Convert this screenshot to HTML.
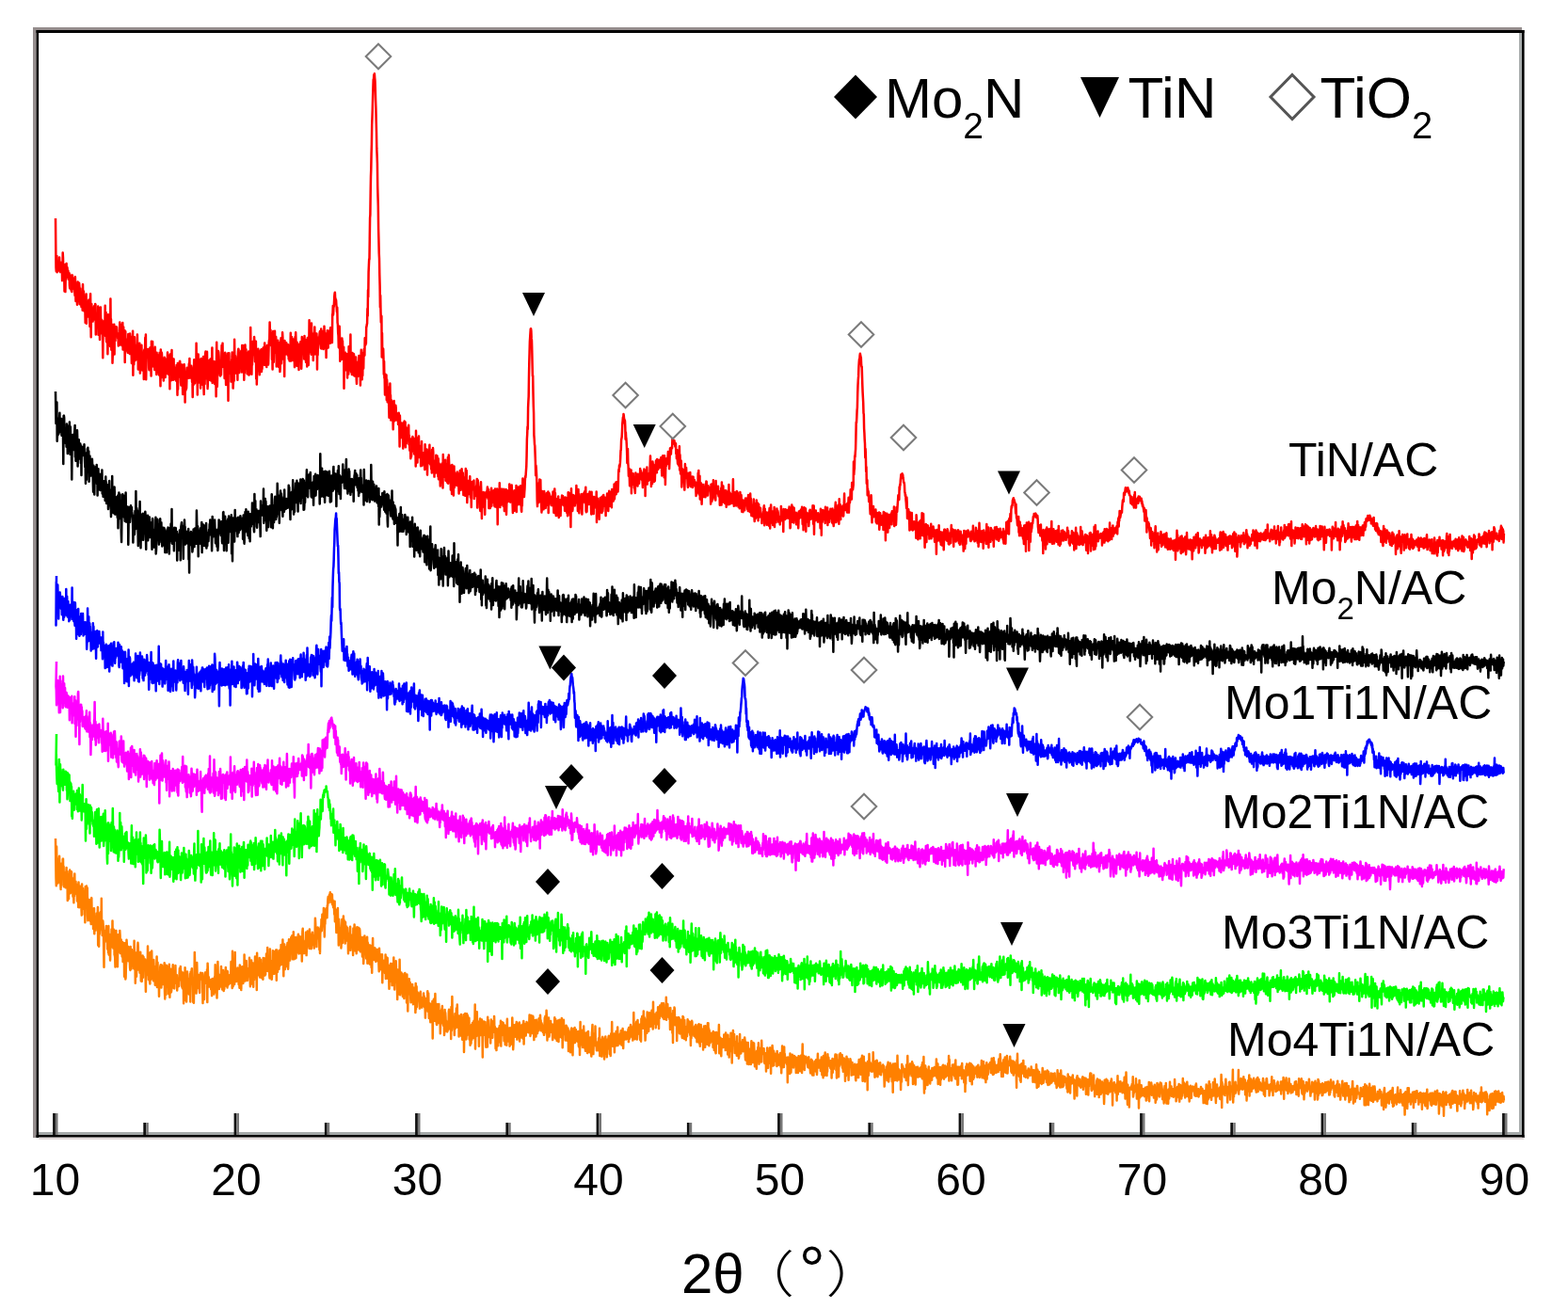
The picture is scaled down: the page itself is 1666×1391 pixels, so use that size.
<!DOCTYPE html>
<html><head><meta charset="utf-8"><title>XRD</title><style>html,body{margin:0;padding:0;background:#fff;overflow:hidden;width:1666px;height:1391px}svg{display:block}</style></head><body>
<svg width="1666" height="1391" viewBox="0 0 1666 1391">
<rect width="1666" height="1391" fill="#fff"/>
<path d="M59.0 232.0 59.5 284.3 59.8 288.4 60.1 285.6 60.4 271.9 60.7 289.3 61.0 285.4 61.3 277.6 61.6 286.8 61.9 285.2 62.2 284.8 62.5 282.6 62.8 287.4 63.1 273.6 63.4 282.0 63.7 279.8 64.0 289.1 64.3 284.7 64.6 282.4 64.9 279.0 65.2 283.4 65.5 285.9 65.8 284.0 66.1 298.2 66.4 295.8 66.7 268.5 67.0 273.8 67.3 286.7 67.6 285.0 67.9 290.7 68.2 291.1 68.5 309.6 68.8 281.3 69.1 287.3 69.4 310.1 69.7 296.9 70.0 297.5 70.3 287.9 70.6 280.0 70.9 294.4 71.2 294.4 71.5 284.3 71.8 288.8 72.1 293.6 72.4 287.8 72.7 295.0 73.0 297.2 73.3 297.1 73.6 290.3 73.9 303.1 74.2 306.4 74.5 303.0 74.8 292.6 75.1 306.3 75.4 296.0 75.7 308.7 76.0 292.5 76.3 310.1 76.6 302.0 76.9 292.6 77.2 298.5 77.5 304.1 77.8 306.5 78.1 296.5 78.4 296.0 78.7 307.3 79.0 302.0 79.3 308.6 79.6 314.0 79.9 294.3 80.2 310.2 80.5 320.0 80.8 306.3 81.1 302.5 81.4 316.8 81.7 312.5 82.0 323.8 82.3 308.2 82.6 299.6 82.9 311.2 83.2 308.7 83.5 320.3 83.8 315.3 84.1 300.8 84.4 304.5 84.7 323.3 85.0 321.8 85.3 306.6 85.6 316.3 85.9 323.1 86.2 321.6 86.5 326.1 86.8 320.5 87.1 317.7 87.4 316.7 87.7 329.7 88.0 302.2 88.3 319.1 88.6 321.2 88.9 309.4 89.2 324.9 89.5 316.5 89.8 331.0 90.1 322.0 90.4 330.0 90.7 343.0 91.0 328.1 91.3 317.2 91.6 312.6 91.9 343.8 92.2 325.2 92.5 320.6 92.8 328.5 93.1 325.9 93.4 336.4 93.7 328.7 94.0 328.8 94.3 318.8 94.6 334.4 94.9 321.2 95.2 337.3 95.5 346.9 95.8 318.6 96.1 312.3 96.4 338.6 96.7 358.2 97.0 324.6 97.3 322.9 97.6 340.2 97.9 327.2 98.2 330.6 98.5 332.5 98.8 341.4 99.1 332.9 99.4 339.8 99.7 335.9 100.0 325.3 100.3 335.4 100.6 330.2 100.9 339.2 101.2 323.1 101.5 323.8 101.8 355.5 102.1 339.4 102.4 339.7 102.7 346.2 103.0 337.5 103.3 339.6 103.6 346.2 103.9 345.0 104.2 325.5 104.5 355.8 104.8 337.5 105.1 333.7 105.4 335.2 105.7 340.0 106.0 361.1 106.3 326.9 106.6 345.9 106.9 326.6 107.2 344.8 107.5 354.2 107.8 341.4 108.1 339.7 108.4 349.1 108.7 353.1 109.0 352.9 109.3 380.2 109.6 348.8 109.9 341.5 110.2 344.9 110.5 346.8 110.8 348.8 111.1 347.7 111.4 349.9 111.7 324.8 112.0 357.1 112.3 343.5 112.6 331.9 112.9 359.3 113.2 363.4 113.5 357.4 113.8 351.7 114.1 341.8 114.4 376.3 114.7 359.8 115.0 334.3 115.3 344.1 115.6 352.5 115.9 338.1 116.2 353.6 116.5 347.9 116.8 365.2 117.1 368.1 117.4 317.4 117.7 353.5 118.0 339.3 118.3 371.7 118.6 355.5 118.9 362.6 119.2 344.7 119.5 385.8 119.8 376.8 120.1 345.4 120.4 359.0 120.7 349.3 121.0 355.6 121.3 344.7 121.6 376.5 121.9 347.7 122.2 351.9 122.5 362.0 122.8 347.2 123.1 355.2 123.4 352.4 123.7 356.7 124.0 347.6 124.3 354.3 124.6 356.7 124.9 355.8 125.2 359.8 125.5 356.7 125.8 367.4 126.1 354.7 126.4 357.7 126.7 354.2 127.0 352.4 127.3 342.4 127.6 366.4 127.9 344.5 128.2 354.8 128.5 365.5 128.8 366.2 129.1 358.6 129.4 345.4 129.7 367.2 130.0 365.8 130.3 342.9 130.6 371.6 130.9 353.1 131.2 347.4 131.5 365.4 131.8 363.0 132.1 366.9 132.4 351.0 132.7 385.1 133.0 360.0 133.3 352.3 133.6 372.5 133.9 360.6 134.2 369.9 134.5 363.7 134.8 366.6 135.1 369.9 135.4 360.7 135.7 374.8 136.0 363.7 136.3 355.1 136.6 369.4 136.9 373.4 137.2 366.9 137.5 361.4 137.8 376.0 138.1 354.5 138.4 360.7 138.7 370.7 139.0 358.4 139.3 371.0 139.6 369.9 139.9 385.9 140.2 357.7 140.5 366.0 140.8 375.5 141.1 351.8 141.4 398.8 141.7 366.3 142.0 366.3 142.3 387.3 142.6 373.2 142.9 358.3 143.2 380.5 143.5 383.2 143.8 370.2 144.1 372.0 144.4 379.9 144.7 366.7 145.0 382.1 145.3 377.5 145.6 369.3 145.9 355.4 146.2 373.8 146.5 368.0 146.8 392.6 147.1 377.8 147.4 384.6 147.7 378.0 148.0 379.4 148.3 364.8 148.6 383.9 148.9 396.6 149.2 374.3 149.5 371.8 149.8 376.0 150.1 373.0 150.4 366.8 150.7 379.3 151.0 375.2 151.3 393.6 151.6 377.9 151.9 381.7 152.2 388.5 152.5 375.8 152.8 403.1 153.1 372.9 153.4 371.4 153.7 375.6 154.0 377.1 154.3 358.8 154.6 379.2 154.9 355.6 155.2 403.3 155.5 379.1 155.8 374.0 156.1 371.7 156.4 376.6 156.7 376.6 157.0 370.9 157.3 372.1 157.6 379.0 157.9 375.9 158.2 390.9 158.5 393.3 158.8 381.5 159.1 386.3 159.4 369.4 159.7 388.3 160.0 381.5 160.3 386.9 160.6 399.5 160.9 362.7 161.2 385.0 161.5 365.8 161.8 388.7 162.1 363.1 162.4 378.1 162.7 385.0 163.0 389.4 163.3 384.1 163.6 375.8 163.9 378.2 164.2 392.9 164.5 383.3 164.8 368.8 165.1 392.8 165.4 388.4 165.7 393.4 166.0 381.1 166.3 398.0 166.6 374.8 166.9 393.8 167.2 377.0 167.5 392.0 167.8 395.8 168.1 378.3 168.4 384.9 168.7 385.9 169.0 398.4 169.3 393.3 169.6 374.7 169.9 390.8 170.2 394.0 170.5 410.3 170.8 371.5 171.1 381.5 171.4 401.2 171.7 374.5 172.0 376.0 172.3 392.6 172.6 398.2 172.9 381.1 173.2 396.2 173.5 388.9 173.8 404.5 174.1 388.0 174.4 398.7 174.7 379.8 175.0 386.6 175.3 387.6 175.6 400.9 175.9 394.9 176.2 381.8 176.5 396.2 176.8 397.3 177.1 388.3 177.4 387.0 177.7 386.2 178.0 374.6 178.3 391.9 178.6 393.5 178.9 382.0 179.2 398.1 179.5 377.9 179.8 385.3 180.1 386.1 180.4 413.2 180.7 376.5 181.0 397.0 181.3 401.3 181.6 395.3 181.9 404.3 182.2 382.3 182.5 372.1 182.8 400.0 183.1 381.0 183.4 386.8 183.7 381.4 184.0 403.8 184.3 401.8 184.6 381.4 184.9 402.5 185.2 394.3 185.5 391.8 185.8 393.9 186.1 391.5 186.4 403.5 186.7 396.9 187.0 390.4 187.3 404.7 187.6 388.1 187.9 397.0 188.2 400.8 188.5 419.8 188.8 386.0 189.1 413.7 189.4 396.2 189.7 391.0 190.0 387.9 190.3 400.6 190.6 394.9 190.9 384.1 191.2 383.9 191.5 389.1 191.8 388.0 192.1 406.3 192.4 409.6 192.7 403.8 193.0 400.1 193.3 387.5 193.6 395.1 193.9 404.1 194.2 418.9 194.5 409.9 194.8 391.9 195.1 395.1 195.4 390.0 195.7 387.2 196.0 392.9 196.3 396.8 196.6 427.4 196.9 395.3 197.2 409.7 197.5 414.6 197.8 395.6 198.1 412.7 198.4 402.4 198.7 390.8 199.0 398.9 199.3 395.1 199.6 390.8 199.9 392.9 200.2 396.9 200.5 401.8 200.8 386.5 201.1 394.9 201.4 381.0 201.7 397.7 202.0 401.6 202.3 396.7 202.6 398.0 202.9 401.3 203.2 388.7 203.5 391.0 203.8 400.4 204.1 405.9 204.4 399.2 204.7 422.0 205.0 394.3 205.3 405.9 205.6 409.0 205.9 393.9 206.2 382.3 206.5 384.2 206.8 396.9 207.1 407.2 207.4 398.0 207.7 397.7 208.0 391.5 208.3 404.1 208.6 364.8 208.9 398.5 209.2 395.3 209.5 382.3 209.8 419.6 210.1 382.1 210.4 384.6 210.7 376.4 211.0 406.5 211.3 386.1 211.6 401.4 211.9 400.5 212.2 396.9 212.5 382.2 212.8 384.4 213.1 412.5 213.4 382.1 213.7 380.9 214.0 392.2 214.3 407.0 214.6 396.2 214.9 401.4 215.2 383.6 215.5 409.0 215.8 399.3 216.1 379.0 216.4 410.0 216.7 419.1 217.0 385.8 217.3 393.6 217.6 408.0 217.9 379.5 218.2 375.4 218.5 373.4 218.8 387.2 219.1 387.0 219.4 402.2 219.7 395.2 220.0 373.7 220.3 398.1 220.6 412.9 220.9 404.9 221.2 402.5 221.5 392.3 221.8 402.3 222.1 382.9 222.4 399.6 222.7 390.1 223.0 403.7 223.3 396.4 223.6 381.6 223.9 392.9 224.2 404.4 224.5 381.1 224.8 386.1 225.1 384.1 225.4 369.5 225.7 406.9 226.0 405.1 226.3 399.4 226.6 393.5 226.9 390.5 227.2 393.3 227.5 384.0 227.8 400.1 228.1 407.9 228.4 400.4 228.7 385.6 229.0 391.4 229.3 388.9 229.6 421.2 229.9 392.9 230.2 363.8 230.5 394.3 230.8 410.8 231.1 397.2 231.4 399.2 231.7 390.3 232.0 373.0 232.3 374.2 232.6 378.6 232.9 388.6 233.2 394.4 233.5 396.7 233.8 386.4 234.1 399.5 234.4 386.9 234.7 382.9 235.0 398.2 235.3 380.9 235.6 367.1 235.9 379.6 236.2 390.1 236.5 364.7 236.8 385.7 237.1 385.9 237.4 376.3 237.7 375.8 238.0 384.5 238.3 383.6 238.6 401.9 238.9 392.4 239.2 374.7 239.5 380.7 239.8 395.6 240.1 408.9 240.4 392.2 240.7 391.4 241.0 408.3 241.3 387.5 241.6 385.2 241.9 375.6 242.2 383.2 242.5 425.8 242.8 375.3 243.1 388.0 243.4 375.3 243.7 389.4 244.0 396.7 244.3 385.3 244.6 394.9 244.9 394.8 245.2 391.9 245.5 405.6 245.8 395.2 246.1 384.4 246.4 380.9 246.7 374.4 247.0 391.8 247.3 384.0 247.6 412.6 247.9 406.6 248.2 384.8 248.5 383.7 248.8 404.6 249.1 360.7 249.4 382.4 249.7 396.2 250.0 378.2 250.3 382.0 250.6 383.1 250.9 396.5 251.2 387.6 251.5 390.2 251.8 392.1 252.1 386.4 252.4 403.8 252.7 379.3 253.0 373.4 253.3 370.7 253.6 371.8 253.9 380.7 254.2 396.1 254.5 387.3 254.8 380.1 255.1 375.9 255.4 380.6 255.7 381.6 256.0 376.6 256.3 372.8 256.6 377.8 256.9 395.4 257.2 367.0 257.5 382.7 257.8 367.3 258.1 386.6 258.4 377.9 258.7 367.3 259.0 385.6 259.3 403.7 259.6 385.8 259.9 396.2 260.2 383.6 260.5 366.4 260.8 388.9 261.1 380.2 261.4 371.3 261.7 391.7 262.0 386.6 262.3 378.9 262.6 397.2 262.9 375.8 263.2 389.9 263.5 375.1 263.8 388.6 264.1 373.6 264.4 398.6 264.7 385.6 265.0 397.8 265.3 375.6 265.6 378.6 265.9 391.2 266.2 347.9 266.5 373.3 266.8 393.0 267.1 387.1 267.4 397.8 267.7 379.5 268.0 387.8 268.3 375.7 268.6 362.9 268.9 367.8 269.2 377.0 269.5 377.0 269.8 372.4 270.1 358.0 270.4 365.2 270.7 373.6 271.0 384.3 271.3 372.8 271.6 373.6 271.9 362.7 272.2 402.5 272.5 371.6 272.8 408.5 273.1 397.0 273.4 383.6 273.7 375.7 274.0 382.1 274.3 370.7 274.6 384.3 274.9 380.6 275.2 388.4 275.5 389.8 275.8 398.2 276.1 376.8 276.4 390.6 276.7 373.1 277.0 372.2 277.3 374.5 277.6 371.3 277.9 395.0 278.2 388.8 278.5 392.4 278.8 379.4 279.1 383.3 279.4 374.3 279.7 369.4 280.0 383.5 280.3 381.7 280.6 369.5 280.9 387.7 281.2 364.5 281.5 377.2 281.8 373.1 282.1 370.7 282.4 369.1 282.7 387.7 283.0 383.7 283.3 389.9 283.6 379.3 283.9 366.9 284.2 374.4 284.5 367.3 284.8 381.1 285.1 387.4 285.4 376.2 285.7 364.2 286.0 361.4 286.3 361.2 286.6 342.5 286.9 353.4 287.2 354.3 287.5 350.8 287.8 356.8 288.1 367.2 288.4 362.8 288.7 361.0 289.0 382.0 289.3 377.5 289.6 392.6 289.9 361.7 290.2 352.0 290.5 384.7 290.8 384.7 291.1 369.0 291.4 363.1 291.7 374.8 292.0 351.8 292.3 372.0 292.6 357.6 292.9 372.7 293.2 357.9 293.5 370.7 293.8 389.6 294.1 372.1 294.4 381.7 294.7 368.7 295.0 366.5 295.3 361.8 295.6 384.1 295.9 373.4 296.2 390.0 296.5 363.9 296.8 371.7 297.1 374.3 297.4 395.1 297.7 391.7 298.0 367.7 298.3 363.7 298.6 359.2 298.9 386.2 299.2 372.3 299.5 367.3 299.8 372.4 300.1 353.3 300.4 358.8 300.7 381.5 301.0 376.2 301.3 373.8 301.6 363.9 301.9 377.8 302.2 399.9 302.5 362.0 302.8 371.7 303.1 368.2 303.4 376.6 303.7 372.0 304.0 369.1 304.3 364.2 304.6 371.5 304.9 366.3 305.2 370.2 305.5 370.9 305.8 377.5 306.1 366.3 306.4 368.4 306.7 381.4 307.0 369.2 307.3 368.8 307.6 383.4 307.9 373.4 308.2 371.7 308.5 372.8 308.8 353.8 309.1 374.9 309.4 383.4 309.7 375.9 310.0 358.0 310.3 374.0 310.6 362.8 310.9 366.6 311.2 371.5 311.5 360.4 311.8 383.0 312.1 369.5 312.4 377.5 312.7 378.9 313.0 390.1 313.3 381.3 313.6 357.9 313.9 370.2 314.2 353.2 314.5 363.0 314.8 379.7 315.1 382.7 315.4 388.7 315.7 363.7 316.0 372.3 316.3 370.2 316.6 388.1 316.9 384.6 317.2 366.0 317.5 393.0 317.8 369.0 318.1 365.8 318.4 374.4 318.7 375.8 319.0 373.8 319.3 363.2 319.6 382.8 319.9 369.1 320.2 391.8 320.5 381.8 320.8 358.1 321.1 360.2 321.4 360.0 321.7 370.5 322.0 368.7 322.3 370.5 322.6 361.3 322.9 371.9 323.2 381.4 323.5 357.1 323.8 366.1 324.1 370.0 324.4 366.6 324.7 365.9 325.0 384.8 325.3 379.7 325.6 375.3 325.9 361.0 326.2 389.6 326.5 370.5 326.8 359.0 327.1 362.1 327.4 362.9 327.7 387.9 328.0 368.7 328.3 367.4 328.6 340.2 328.9 373.4 329.2 358.0 329.5 357.4 329.8 372.0 330.1 359.3 330.4 374.0 330.7 376.7 331.0 343.5 331.3 364.9 331.6 353.6 331.9 364.7 332.2 374.3 332.5 354.9 332.8 383.1 333.1 363.0 333.4 356.0 333.7 364.4 334.0 376.5 334.3 347.4 334.6 364.9 334.9 354.2 335.2 376.3 335.5 366.7 335.8 358.7 336.1 374.3 336.4 354.4 336.7 361.3 337.0 392.5 337.3 363.4 337.6 377.1 337.9 366.0 338.2 358.4 338.5 360.4 338.8 364.7 339.1 360.5 339.4 357.1 339.7 353.1 340.0 352.0 340.3 364.7 340.6 367.0 340.9 370.2 341.2 349.5 341.5 370.5 341.8 363.0 342.1 351.8 342.4 363.8 342.7 370.2 343.0 367.4 343.3 369.2 343.6 371.1 343.9 370.6 344.2 362.1 344.5 346.8 344.8 356.1 345.1 365.4 345.4 358.3 345.7 368.3 346.0 369.3 346.3 362.5 346.6 379.9 346.9 354.2 347.2 370.4 347.5 358.0 347.8 351.3 348.1 367.1 348.4 356.7 348.7 369.4 349.0 352.3 349.3 361.6 349.6 354.3 349.9 358.8 350.2 357.2 350.5 350.8 350.8 364.7 351.1 348.3 351.4 349.0 351.7 362.9 352.0 361.6 352.3 356.4 352.6 350.9 352.9 364.0 353.2 334.0 353.5 333.3 353.8 324.9 354.1 334.4 354.4 326.7 354.7 325.9 355.0 321.3 355.3 314.7 355.6 311.7 355.9 310.7 356.2 318.5 356.5 317.2 356.8 319.1 357.1 319.0 357.4 324.3 357.7 326.9 358.0 331.3 358.3 326.7 358.6 342.9 358.9 344.9 359.2 353.6 359.5 356.5 359.8 368.9 360.1 360.4 360.4 369.7 360.7 346.8 361.0 357.9 361.3 383.7 361.6 359.5 361.9 367.7 362.2 377.1 362.5 364.7 362.8 382.1 363.1 362.1 363.4 359.5 363.7 364.0 364.0 362.3 364.3 375.2 364.6 373.2 364.9 379.2 365.2 368.7 365.5 412.8 365.8 377.0 366.1 377.9 366.4 382.7 366.7 377.3 367.0 374.7 367.3 380.9 367.6 393.2 367.9 386.9 368.2 389.9 368.5 377.5 368.8 376.3 369.1 401.6 369.4 381.4 369.7 387.9 370.0 390.7 370.3 397.5 370.6 368.3 370.9 381.7 371.2 382.5 371.5 384.0 371.8 369.7 372.1 386.5 372.4 355.6 372.7 391.8 373.0 395.5 373.3 394.0 373.6 380.1 373.9 398.1 374.2 383.3 374.5 375.1 374.8 383.1 375.1 380.0 375.4 392.6 375.7 398.5 376.0 376.3 376.3 384.3 376.6 399.4 376.9 393.3 377.2 395.9 377.5 380.3 377.8 399.7 378.1 379.5 378.4 392.6 378.7 402.9 379.0 407.8 379.3 394.7 379.6 397.8 379.9 385.1 380.2 385.8 380.5 399.7 380.8 389.2 381.1 387.9 381.4 378.0 381.7 389.6 382.0 393.5 382.3 381.5 382.6 380.6 382.9 409.4 383.2 388.7 383.5 382.2 383.8 371.7 384.1 377.2 384.4 382.8 384.7 403.3 385.0 378.8 385.3 399.1 385.6 374.9 385.9 378.3 386.2 391.4 386.5 377.0 386.8 371.1 387.1 374.8 387.4 377.7 387.7 359.3 388.0 367.3 388.3 365.5 388.6 359.9 388.9 365.4 389.2 347.5 389.5 347.0 389.8 344.6 390.1 343.9 390.4 328.0 390.7 335.8 391.0 308.3 391.3 315.6 391.6 289.4 391.9 282.3 392.2 275.3 392.5 275.6 392.8 253.5 393.1 231.6 393.4 228.1 393.7 204.8 394.0 187.8 394.3 179.4 394.6 163.5 394.9 153.3 395.2 132.9 395.5 125.0 395.8 115.5 396.1 103.5 396.4 93.8 396.7 84.6 397.0 85.3 397.3 79.4 397.6 79.3 397.9 78.3 398.2 82.8 398.5 85.9 398.8 95.4 399.1 106.2 399.4 114.7 399.7 128.9 400.0 140.3 400.3 157.9 400.6 165.3 400.9 173.7 401.2 197.5 401.5 209.0 401.8 219.3 402.1 242.7 402.4 254.2 402.7 268.8 403.0 274.7 403.3 291.9 403.6 303.6 403.9 326.5 404.2 314.1 404.5 331.1 404.8 342.4 405.1 335.4 405.4 336.0 405.7 379.5 406.0 354.0 406.3 378.7 406.6 369.9 406.9 374.8 407.2 370.7 407.5 381.2 407.8 397.7 408.1 384.1 408.4 401.7 408.7 401.8 409.0 419.4 409.3 397.5 409.6 416.2 409.9 418.8 410.2 406.7 410.5 398.6 410.8 424.9 411.1 403.4 411.4 408.5 411.7 427.3 412.0 426.4 412.3 412.0 412.6 419.2 412.9 417.1 413.2 431.7 413.5 443.8 413.8 411.2 414.1 436.9 414.4 407.6 414.7 427.3 415.0 420.0 415.3 446.5 415.6 431.3 415.9 425.3 416.2 427.9 416.5 428.2 416.8 434.8 417.1 432.8 417.4 443.0 417.7 456.2 418.0 444.9 418.3 427.8 418.6 425.9 418.9 432.3 419.2 447.3 419.5 436.6 419.8 434.7 420.1 441.4 420.4 430.8 420.7 433.3 421.0 446.2 421.3 438.7 421.6 439.9 421.9 446.4 422.2 440.1 422.5 439.9 422.8 442.1 423.1 451.0 423.4 447.2 423.7 438.8 424.0 444.0 424.3 453.7 424.6 474.6 424.9 441.5 425.2 452.9 425.5 448.9 425.8 458.1 426.1 455.6 426.4 465.0 426.7 457.3 427.0 449.7 427.3 450.4 427.6 458.2 427.9 458.7 428.2 476.6 428.5 471.0 428.8 449.0 429.1 460.7 429.4 449.1 429.7 447.6 430.0 465.7 430.3 464.7 430.6 448.6 430.9 475.3 431.2 455.0 431.5 454.3 431.8 471.2 432.1 465.4 432.4 463.0 432.7 464.2 433.0 467.0 433.3 464.7 433.6 463.8 433.9 453.8 434.2 451.7 434.5 472.3 434.8 462.7 435.1 472.5 435.4 478.7 435.7 466.2 436.0 471.4 436.3 487.3 436.6 475.3 436.9 485.7 437.2 483.2 437.5 476.8 437.8 470.3 438.1 465.4 438.4 463.9 438.7 475.9 439.0 476.1 439.3 471.4 439.6 479.8 439.9 466.0 440.2 482.6 440.5 474.3 440.8 474.0 441.1 474.6 441.4 474.2 441.7 495.4 442.0 457.7 442.3 477.3 442.6 486.3 442.9 485.3 443.2 474.6 443.5 491.6 443.8 465.2 444.1 468.7 444.4 482.5 444.7 468.4 445.0 463.4 445.3 486.0 445.6 485.4 445.9 485.4 446.2 476.5 446.5 481.7 446.8 473.8 447.1 495.3 447.4 490.9 447.7 487.4 448.0 469.0 448.3 488.5 448.6 494.7 448.9 492.6 449.2 489.3 449.5 483.4 449.8 481.2 450.1 488.7 450.4 488.7 450.7 486.4 451.0 481.0 451.3 498.9 451.6 472.2 451.9 485.5 452.2 481.7 452.5 494.3 452.8 497.9 453.1 496.5 453.4 492.6 453.7 477.4 454.0 504.6 454.3 491.4 454.6 486.8 454.9 488.0 455.2 485.6 455.5 491.5 455.8 492.0 456.1 486.1 456.4 472.8 456.7 488.9 457.0 493.0 457.3 493.6 457.6 488.7 457.9 493.5 458.2 498.3 458.5 487.0 458.8 502.5 459.1 478.1 459.4 482.5 459.7 485.0 460.0 476.1 460.3 480.3 460.6 501.9 460.9 502.0 461.2 493.1 461.5 506.6 461.8 494.6 462.1 489.4 462.4 495.0 462.7 492.4 463.0 502.5 463.3 483.8 463.6 501.9 463.9 491.0 464.2 501.1 464.5 484.4 464.8 491.9 465.1 495.7 465.4 506.3 465.7 487.3 466.0 509.3 466.3 501.6 466.6 492.5 466.9 506.0 467.2 497.6 467.5 506.0 467.8 516.5 468.1 506.5 468.4 493.8 468.7 494.7 469.0 502.4 469.3 500.3 469.6 492.6 469.9 493.9 470.2 503.9 470.5 518.5 470.8 483.0 471.1 505.0 471.4 498.1 471.7 505.8 472.0 506.7 472.3 500.7 472.6 493.5 472.9 491.4 473.2 488.8 473.5 510.7 473.8 498.7 474.1 497.8 474.4 498.3 474.7 493.0 475.0 504.5 475.3 512.8 475.6 511.5 475.9 486.1 476.2 513.8 476.5 498.0 476.8 483.5 477.1 490.2 477.4 497.3 477.7 504.1 478.0 497.3 478.3 494.6 478.6 502.9 478.9 520.6 479.2 500.3 479.5 508.9 479.8 506.2 480.1 525.1 480.4 493.9 480.7 519.5 481.0 497.9 481.3 502.6 481.6 505.5 481.9 526.4 482.2 502.1 482.5 495.4 482.8 517.9 483.1 502.2 483.4 505.2 483.7 508.2 484.0 509.3 484.3 507.6 484.6 511.0 484.9 513.6 485.2 515.9 485.5 506.7 485.8 501.4 486.1 502.9 486.4 514.7 486.7 510.2 487.0 514.9 487.3 515.0 487.6 524.5 487.9 512.9 488.2 517.3 488.5 503.8 488.8 500.1 489.1 510.0 489.4 504.3 489.7 520.7 490.0 504.1 490.3 513.6 490.6 498.2 490.9 506.1 491.2 509.6 491.5 512.1 491.8 502.6 492.1 515.0 492.4 526.0 492.7 519.5 493.0 510.3 493.3 510.9 493.6 507.3 493.9 520.0 494.2 526.7 494.5 512.0 494.8 498.1 495.1 517.4 495.4 521.4 495.7 500.0 496.0 517.5 496.3 534.1 496.6 526.4 496.9 521.0 497.2 520.1 497.5 525.3 497.8 511.1 498.1 511.9 498.4 520.7 498.7 510.2 499.0 520.0 499.3 506.2 499.6 524.0 499.9 528.4 500.2 519.0 500.5 520.1 500.8 539.0 501.1 512.0 501.4 513.3 501.7 512.3 502.0 516.8 502.3 513.1 502.6 520.3 502.9 515.8 503.2 511.0 503.5 510.6 503.8 529.9 504.1 520.4 504.4 518.2 504.7 521.4 505.0 520.7 505.3 527.1 505.6 525.8 505.9 517.8 506.2 516.4 506.5 515.0 506.8 509.0 507.1 539.4 507.4 516.5 507.7 510.3 508.0 513.7 508.3 517.8 508.6 525.6 508.9 517.5 509.2 527.5 509.5 526.6 509.8 539.0 510.1 541.3 510.4 543.0 510.7 534.7 511.0 512.2 511.3 521.9 511.6 527.5 511.9 550.9 512.2 532.9 512.5 539.6 512.8 524.3 513.1 532.3 513.4 534.0 513.7 522.9 514.0 531.9 514.3 534.3 514.6 525.3 514.9 534.1 515.2 546.7 515.5 527.3 515.8 526.9 516.1 524.9 516.4 522.9 516.7 528.3 517.0 522.5 517.3 523.6 517.6 522.2 517.9 517.6 518.2 521.2 518.5 529.8 518.8 519.8 519.1 520.3 519.4 540.1 519.7 535.9 520.0 522.9 520.3 531.9 520.6 523.2 520.9 540.0 521.2 523.7 521.5 528.2 521.8 538.1 522.1 518.7 522.4 537.5 522.7 522.3 523.0 529.4 523.3 525.8 523.6 527.2 523.9 528.9 524.2 527.3 524.5 521.2 524.8 534.2 525.1 533.1 525.4 537.5 525.7 538.3 526.0 519.4 526.3 537.6 526.6 537.7 526.9 522.1 527.2 535.7 527.5 539.1 527.8 524.5 528.1 519.4 528.4 525.7 528.7 557.3 529.0 530.5 529.3 520.4 529.6 525.2 529.9 521.8 530.2 525.5 530.5 528.9 530.8 513.3 531.1 532.1 531.4 538.9 531.7 527.0 532.0 525.7 532.3 536.4 532.6 520.3 532.9 520.4 533.2 519.6 533.5 527.3 533.8 531.2 534.1 527.8 534.4 532.3 534.7 537.8 535.0 532.0 535.3 519.8 535.6 526.7 535.9 543.0 536.2 521.8 536.5 525.6 536.8 525.8 537.1 526.4 537.4 521.7 537.7 520.1 538.0 546.8 538.3 535.4 538.6 520.9 538.9 528.2 539.2 533.4 539.5 524.7 539.8 533.0 540.1 524.6 540.4 526.2 540.7 528.1 541.0 525.6 541.3 514.4 541.6 528.8 541.9 530.4 542.2 533.7 542.5 522.3 542.8 532.2 543.1 530.1 543.4 517.9 543.7 515.6 544.0 531.9 544.3 522.5 544.6 535.8 544.9 545.0 545.2 524.7 545.5 524.0 545.8 528.4 546.1 535.9 546.4 521.3 546.7 542.7 547.0 539.5 547.3 533.0 547.6 524.8 547.9 534.8 548.2 534.3 548.5 515.9 548.8 544.1 549.1 526.1 549.4 530.6 549.7 524.5 550.0 530.6 550.3 536.2 550.6 522.5 550.9 517.6 551.2 524.6 551.5 519.3 551.8 519.3 552.1 525.6 552.4 526.6 552.7 536.3 553.0 516.2 553.3 529.0 553.6 523.0 553.9 541.8 554.2 543.8 554.5 528.6 554.8 537.6 555.1 521.4 555.4 508.6 555.7 510.9 556.0 513.5 556.3 516.2 556.6 519.6 556.9 528.1 557.2 523.1 557.5 519.5 557.8 511.1 558.1 506.3 558.4 507.4 558.7 504.1 559.0 499.4 559.3 495.3 559.6 483.9 559.9 466.4 560.2 461.6 560.5 453.4 560.8 456.7 561.1 433.4 561.4 426.5 561.7 421.1 562.0 399.9 562.3 385.5 562.6 374.8 562.9 363.4 563.2 358.2 563.5 353.9 563.8 349.4 564.1 349.3 564.4 351.7 564.7 359.9 565.0 361.6 565.3 372.7 565.6 386.5 565.9 399.5 566.2 399.2 566.5 417.5 566.8 431.0 567.1 438.8 567.4 462.3 567.7 466.4 568.0 472.2 568.3 473.8 568.6 482.6 568.9 490.7 569.2 505.1 569.5 494.8 569.8 498.8 570.1 505.2 570.4 512.8 570.7 530.9 571.0 538.1 571.3 518.9 571.6 529.8 571.9 534.2 572.2 534.1 572.5 524.8 572.8 513.2 573.1 521.4 573.4 509.4 573.7 529.0 574.0 533.1 574.3 510.1 574.6 527.9 574.9 530.5 575.2 537.5 575.5 544.4 575.8 534.6 576.1 522.1 576.4 525.4 576.7 538.1 577.0 525.9 577.3 529.6 577.6 541.3 577.9 531.0 578.2 522.0 578.5 528.5 578.8 534.9 579.1 529.4 579.4 538.9 579.7 539.9 580.0 526.8 580.3 527.8 580.6 529.8 580.9 523.9 581.2 533.8 581.5 530.2 581.8 536.8 582.1 527.7 582.4 522.6 582.7 545.0 583.0 526.3 583.3 528.1 583.6 524.3 583.9 530.0 584.2 526.3 584.5 531.7 584.8 527.7 585.1 527.7 585.4 535.8 585.7 537.0 586.0 537.1 586.3 527.8 586.6 535.0 586.9 531.0 587.2 531.2 587.5 522.5 587.8 537.1 588.1 531.7 588.4 544.8 588.7 537.0 589.0 525.9 589.3 519.4 589.6 545.2 589.9 523.9 590.2 537.4 590.5 530.9 590.8 548.1 591.1 533.3 591.4 543.5 591.7 547.5 592.0 529.9 592.3 530.8 592.6 543.3 592.9 532.9 593.2 527.6 593.5 546.1 593.8 550.1 594.1 532.4 594.4 542.8 594.7 531.3 595.0 542.6 595.3 531.6 595.6 547.9 595.9 536.8 596.2 532.0 596.5 535.6 596.8 529.9 597.1 526.5 597.4 526.9 597.7 532.7 598.0 527.0 598.3 536.3 598.6 536.9 598.9 536.5 599.2 530.3 599.5 533.8 599.8 533.3 600.1 542.7 600.4 528.5 600.7 531.1 601.0 532.0 601.3 532.1 601.6 528.9 601.9 529.6 602.2 544.7 602.5 529.6 602.8 539.8 603.1 548.3 603.4 542.4 603.7 523.2 604.0 538.8 604.3 536.8 604.6 539.4 604.9 524.1 605.2 538.7 605.5 527.0 605.8 548.0 606.1 540.9 606.4 560.1 606.7 531.2 607.0 519.3 607.3 540.7 607.6 539.5 607.9 529.7 608.2 543.0 608.5 541.0 608.8 525.9 609.1 531.4 609.4 530.8 609.7 532.9 610.0 534.8 610.3 526.7 610.6 531.5 610.9 537.4 611.2 533.0 611.5 531.7 611.8 531.5 612.1 532.7 612.4 515.9 612.7 534.3 613.0 527.0 613.3 533.8 613.6 524.4 613.9 542.9 614.2 534.4 614.5 520.0 614.8 534.2 615.1 525.1 615.4 545.2 615.7 537.5 616.0 527.4 616.3 533.6 616.6 531.8 616.9 540.1 617.2 534.2 617.5 535.1 617.8 525.0 618.1 540.0 618.4 546.5 618.7 535.6 619.0 531.0 619.3 532.9 619.6 525.3 619.9 532.1 620.2 524.3 620.5 531.0 620.8 526.8 621.1 522.5 621.4 534.3 621.7 521.7 622.0 530.0 622.3 517.7 622.6 543.0 622.9 544.2 623.2 535.7 623.5 543.6 623.8 534.1 624.1 533.8 624.4 527.7 624.7 525.0 625.0 531.4 625.3 527.4 625.6 528.2 625.9 535.9 626.2 530.5 626.5 522.5 626.8 530.4 627.1 527.4 627.4 530.4 627.7 526.0 628.0 540.9 628.3 546.4 628.6 522.7 628.9 537.7 629.2 537.6 629.5 527.6 629.8 534.8 630.1 544.1 630.4 540.3 630.7 546.1 631.0 528.2 631.3 528.1 631.6 537.5 631.9 538.1 632.2 536.2 632.5 533.9 632.8 532.4 633.1 533.0 633.4 539.9 633.7 522.6 634.0 555.1 634.3 534.3 634.6 529.5 634.9 543.5 635.2 529.8 635.5 540.4 635.8 535.5 636.1 541.8 636.4 543.1 636.7 551.8 637.0 534.6 637.3 535.7 637.6 537.2 637.9 528.9 638.2 540.7 638.5 537.3 638.8 528.5 639.1 544.1 639.4 545.0 639.7 527.8 640.0 541.0 640.3 543.3 640.6 540.1 640.9 528.4 641.2 525.9 641.5 532.9 641.8 528.4 642.1 533.0 642.4 531.6 642.7 537.8 643.0 528.7 643.3 530.8 643.6 547.9 643.9 529.8 644.2 535.7 644.5 532.4 644.8 531.6 645.1 524.5 645.4 533.0 645.7 528.6 646.0 534.3 646.3 543.0 646.6 529.5 646.9 533.0 647.2 521.7 647.5 528.1 647.8 537.7 648.1 526.5 648.4 522.7 648.7 527.6 649.0 524.1 649.3 524.3 649.6 523.3 649.9 539.2 650.2 519.9 650.5 522.3 650.8 521.1 651.1 532.6 651.4 522.3 651.7 532.5 652.0 524.4 652.3 522.9 652.6 514.4 652.9 530.4 653.2 525.4 653.5 524.0 653.8 520.2 654.1 517.8 654.4 512.4 654.7 525.2 655.0 519.8 655.3 515.0 655.6 512.3 655.9 515.5 656.2 512.8 656.5 522.6 656.8 517.4 657.1 504.2 657.4 499.1 657.7 501.1 658.0 494.6 658.3 496.6 658.6 494.7 658.9 491.9 659.2 486.5 659.5 478.7 659.8 478.1 660.1 467.8 660.4 466.0 660.7 464.2 661.0 458.0 661.3 450.2 661.6 447.1 661.9 443.5 662.2 447.3 662.5 440.1 662.8 441.5 663.1 445.3 663.4 445.2 663.7 449.6 664.0 447.1 664.3 453.4 664.6 466.6 664.9 459.4 665.2 465.2 665.5 467.0 665.8 472.4 666.1 479.3 666.4 492.0 666.7 480.3 667.0 477.1 667.3 491.5 667.6 495.5 667.9 505.8 668.2 503.7 668.5 497.9 668.8 506.8 669.1 516.3 669.4 507.9 669.7 505.2 670.0 512.5 670.3 506.8 670.6 499.4 670.9 524.2 671.2 503.1 671.5 508.8 671.8 509.1 672.1 509.2 672.4 509.6 672.7 503.3 673.0 514.8 673.3 511.6 673.6 511.7 673.9 518.4 674.2 518.6 674.5 520.2 674.8 523.9 675.1 514.0 675.4 502.5 675.7 513.0 676.0 510.9 676.3 511.3 676.6 507.1 676.9 505.3 677.2 515.5 677.5 516.5 677.8 503.7 678.1 513.4 678.4 508.8 678.7 507.3 679.0 513.8 679.3 509.0 679.6 505.8 679.9 509.3 680.2 498.0 680.5 505.1 680.8 505.8 681.1 500.3 681.4 509.1 681.7 509.5 682.0 504.1 682.3 505.6 682.6 511.5 682.9 517.9 683.2 502.4 683.5 508.7 683.8 513.1 684.1 506.0 684.4 498.6 684.7 501.3 685.0 502.3 685.3 499.4 685.6 526.9 685.9 501.5 686.2 507.0 686.5 505.6 686.8 508.3 687.1 501.7 687.4 496.5 687.7 514.6 688.0 502.9 688.3 503.9 688.6 504.2 688.9 511.0 689.2 507.5 689.5 510.0 689.8 507.4 690.1 502.9 690.4 503.3 690.7 494.4 691.0 484.5 691.3 499.7 691.6 494.9 691.9 516.9 692.2 510.9 692.5 508.0 692.8 497.0 693.1 514.1 693.4 490.5 693.7 492.8 694.0 494.9 694.3 493.8 694.6 500.2 694.9 500.1 695.2 511.7 695.5 505.0 695.8 510.9 696.1 502.2 696.4 497.2 696.7 493.9 697.0 489.5 697.3 489.4 697.6 495.2 697.9 502.2 698.2 488.0 698.5 489.4 698.8 498.2 699.1 490.8 699.4 498.7 699.7 494.1 700.0 492.0 700.3 488.8 700.6 495.5 700.9 491.8 701.2 492.3 701.5 492.1 701.8 496.8 702.1 496.4 702.4 486.1 702.7 493.6 703.0 497.7 703.3 505.5 703.6 499.9 703.9 496.2 704.2 484.3 704.5 487.4 704.8 500.4 705.1 490.4 705.4 500.9 705.7 507.2 706.0 484.2 706.3 496.6 706.6 493.0 706.9 515.1 707.2 498.5 707.5 490.0 707.8 495.2 708.1 487.2 708.4 490.4 708.7 493.3 709.0 492.0 709.3 492.3 709.6 485.0 709.9 479.9 710.2 486.5 710.5 483.0 710.8 483.2 711.1 498.1 711.4 490.8 711.7 482.7 712.0 476.4 712.3 476.0 712.6 481.2 712.9 482.6 713.2 476.2 713.5 476.3 713.8 475.3 714.1 476.2 714.4 466.3 714.7 471.7 715.0 471.4 715.3 471.7 715.6 470.4 715.9 468.1 716.2 469.0 716.5 468.1 716.8 471.3 717.1 472.3 717.4 474.7 717.7 472.3 718.0 471.3 718.3 482.0 718.6 479.4 718.9 487.1 719.2 484.6 719.5 478.3 719.8 488.8 720.1 492.8 720.4 486.1 720.7 481.1 721.0 494.5 721.3 491.4 721.6 494.9 721.9 474.2 722.2 499.5 722.5 483.3 722.8 492.5 723.1 503.5 723.4 489.3 723.7 489.7 724.0 497.5 724.3 517.5 724.6 511.7 724.9 498.2 725.2 512.0 725.5 506.1 725.8 504.6 726.1 506.6 726.4 499.6 726.7 509.1 727.0 511.2 727.3 520.6 727.6 510.9 727.9 493.0 728.2 499.1 728.5 508.1 728.8 506.8 729.1 496.9 729.4 506.2 729.7 505.2 730.0 507.3 730.3 507.2 730.6 513.9 730.9 517.9 731.2 512.9 731.5 502.8 731.8 504.4 732.1 503.3 732.4 509.4 732.7 507.6 733.0 508.2 733.3 502.0 733.6 516.7 733.9 516.3 734.2 517.2 734.5 511.0 734.8 514.4 735.1 506.8 735.4 506.5 735.7 507.1 736.0 518.0 736.3 511.9 736.6 506.7 736.9 513.7 737.2 515.9 737.5 514.5 737.8 510.0 738.1 514.4 738.4 511.8 738.7 512.5 739.0 514.1 739.3 519.4 739.6 526.9 739.9 525.2 740.2 521.3 740.5 513.2 740.8 512.7 741.1 514.4 741.4 523.4 741.7 502.7 742.0 518.0 742.3 499.9 742.6 516.8 742.9 525.4 743.2 508.8 743.5 505.7 743.8 530.4 744.1 527.3 744.4 520.8 744.7 525.9 745.0 513.6 745.3 525.7 745.6 535.8 745.9 524.6 746.2 520.4 746.5 527.0 746.8 526.1 747.1 514.9 747.4 527.9 747.7 526.5 748.0 520.5 748.3 527.9 748.6 525.5 748.9 527.0 749.2 517.2 749.5 528.2 749.8 514.2 750.1 519.7 750.4 511.6 750.7 511.7 751.0 523.4 751.3 520.4 751.6 521.4 751.9 526.6 752.2 523.2 752.5 516.3 752.8 521.8 753.1 521.0 753.4 518.6 753.7 520.9 754.0 519.6 754.3 518.1 754.6 520.0 754.9 523.4 755.2 535.6 755.5 514.7 755.8 527.1 756.1 514.6 756.4 532.7 756.7 520.7 757.0 523.6 757.3 530.9 757.6 529.2 757.9 510.3 758.2 526.7 758.5 522.2 758.8 527.4 759.1 524.6 759.4 528.4 759.7 526.6 760.0 523.3 760.3 531.6 760.6 511.1 760.9 522.1 761.2 519.4 761.5 523.2 761.8 522.5 762.1 524.2 762.4 522.4 762.7 522.6 763.0 516.8 763.3 525.3 763.6 527.4 763.9 522.4 764.2 522.2 764.5 522.3 764.8 536.8 765.1 527.3 765.4 528.6 765.7 523.4 766.0 523.6 766.3 518.6 766.6 536.5 766.9 512.4 767.2 529.5 767.5 526.5 767.8 525.6 768.1 518.9 768.4 516.4 768.7 533.4 769.0 523.6 769.3 532.9 769.6 533.8 769.9 531.2 770.2 534.9 770.5 521.3 770.8 523.5 771.1 532.1 771.4 521.3 771.7 538.8 772.0 525.1 772.3 528.0 772.6 522.8 772.9 530.7 773.2 524.5 773.5 526.2 773.8 522.6 774.1 536.2 774.4 515.0 774.7 531.6 775.0 530.4 775.3 531.7 775.6 523.6 775.9 535.6 776.2 535.2 776.5 530.3 776.8 531.3 777.1 527.9 777.4 533.4 777.7 525.1 778.0 534.8 778.3 533.4 778.6 522.4 778.9 509.3 779.2 528.7 779.5 529.2 779.8 537.7 780.1 530.6 780.4 527.6 780.7 523.2 781.0 530.0 781.3 527.4 781.6 524.8 781.9 530.2 782.2 537.4 782.5 531.6 782.8 521.9 783.1 533.2 783.4 525.5 783.7 523.3 784.0 536.1 784.3 528.7 784.6 538.6 784.9 533.7 785.2 527.6 785.5 533.4 785.8 540.3 786.1 531.3 786.4 523.1 786.7 528.9 787.0 528.2 787.3 526.5 787.6 526.0 787.9 535.5 788.2 543.7 788.5 531.2 788.8 538.0 789.1 538.9 789.4 544.1 789.7 531.7 790.0 531.8 790.3 536.3 790.6 534.7 790.9 536.7 791.2 542.2 791.5 532.0 791.8 536.4 792.1 529.5 792.4 534.1 792.7 531.5 793.0 531.2 793.3 534.4 793.6 533.4 793.9 538.3 794.2 541.2 794.5 528.8 794.8 542.9 795.1 526.1 795.4 539.5 795.7 541.9 796.0 534.4 796.3 536.9 796.6 534.2 796.9 544.1 797.2 524.5 797.5 534.0 797.8 529.8 798.1 540.8 798.4 548.0 798.7 547.5 799.0 544.4 799.3 542.1 799.6 536.7 799.9 548.5 800.2 546.9 800.5 536.8 800.8 530.6 801.1 538.3 801.4 548.4 801.7 554.0 802.0 552.1 802.3 535.2 802.6 540.3 802.9 550.8 803.2 544.3 803.5 549.6 803.8 531.4 804.1 540.7 804.4 542.7 804.7 540.9 805.0 539.1 805.3 534.7 805.6 553.3 805.9 544.1 806.2 535.9 806.5 550.0 806.8 544.0 807.1 547.9 807.4 542.7 807.7 539.7 808.0 539.9 808.3 546.1 808.6 548.8 808.9 547.2 809.2 548.2 809.5 556.0 809.8 547.1 810.1 550.7 810.4 551.5 810.7 546.6 811.0 544.2 811.3 542.7 811.6 538.9 811.9 537.3 812.2 558.2 812.5 545.5 812.8 540.7 813.1 555.5 813.4 555.1 813.7 546.3 814.0 552.1 814.3 544.4 814.6 548.3 814.9 557.7 815.2 552.8 815.5 544.9 815.8 550.6 816.1 553.8 816.4 546.0 816.7 544.4 817.0 558.6 817.3 545.2 817.6 540.0 817.9 547.7 818.2 561.5 818.5 550.7 818.8 552.8 819.1 536.4 819.4 544.1 819.7 554.6 820.0 545.0 820.3 555.4 820.6 552.0 820.9 549.7 821.2 558.0 821.5 543.2 821.8 544.9 822.1 548.1 822.4 548.8 822.7 538.9 823.0 559.9 823.3 548.9 823.6 546.7 823.9 551.3 824.2 544.4 824.5 555.1 824.8 548.1 825.1 552.0 825.4 540.4 825.7 546.2 826.0 549.9 826.3 542.7 826.6 544.2 826.9 547.6 827.2 554.6 827.5 552.4 827.8 553.3 828.1 549.6 828.4 553.3 828.7 557.4 829.0 548.9 829.3 550.5 829.6 551.4 829.9 537.9 830.2 547.4 830.5 550.4 830.8 552.4 831.1 546.2 831.4 553.8 831.7 544.5 832.0 546.7 832.3 565.0 832.6 541.0 832.9 547.6 833.2 547.2 833.5 547.4 833.8 545.2 834.1 551.9 834.4 542.4 834.7 541.2 835.0 550.9 835.3 541.9 835.6 550.3 835.9 548.2 836.2 542.3 836.5 545.2 836.8 547.3 837.1 550.7 837.4 544.7 837.7 547.0 838.0 540.8 838.3 546.6 838.6 538.6 838.9 547.9 839.2 545.7 839.5 561.3 839.8 560.5 840.1 547.3 840.4 553.8 840.7 549.8 841.0 542.2 841.3 536.6 841.6 554.8 841.9 550.4 842.2 538.6 842.5 551.9 842.8 553.6 843.1 544.6 843.4 555.5 843.7 539.7 844.0 547.0 844.3 548.5 844.6 552.8 844.9 550.5 845.2 549.5 845.5 551.5 845.8 544.8 846.1 557.2 846.4 545.3 846.7 555.6 847.0 548.3 847.3 547.0 847.6 551.7 847.9 550.9 848.2 561.2 848.5 554.8 848.8 543.5 849.1 551.3 849.4 549.3 849.7 544.3 850.0 542.9 850.3 550.0 850.6 545.7 850.9 541.6 851.2 548.1 851.5 549.9 851.8 549.2 852.1 538.7 852.4 545.6 852.7 556.9 853.0 544.7 853.3 547.0 853.6 563.2 853.9 550.7 854.2 546.1 854.5 539.3 854.8 550.6 855.1 541.8 855.4 548.5 855.7 544.4 856.0 540.6 856.3 564.7 856.6 548.3 856.9 554.3 857.2 553.2 857.5 545.1 857.8 549.5 858.1 545.8 858.4 554.6 858.7 552.7 859.0 547.1 859.3 559.1 859.6 553.6 859.9 551.7 860.2 542.4 860.5 551.4 860.8 541.8 861.1 551.8 861.4 544.3 861.7 550.2 862.0 547.7 862.3 550.5 862.6 551.2 862.9 548.9 863.2 549.0 863.5 537.2 863.8 540.1 864.1 556.7 864.4 552.6 864.7 537.4 865.0 567.8 865.3 545.7 865.6 553.8 865.9 553.0 866.2 550.0 866.5 552.9 866.8 542.6 867.1 549.3 867.4 548.1 867.7 550.0 868.0 547.0 868.3 546.2 868.6 545.8 868.9 554.6 869.2 545.2 869.5 551.6 869.8 551.6 870.1 549.1 870.4 552.0 870.7 554.3 871.0 546.8 871.3 552.4 871.6 561.2 871.9 540.7 872.2 548.0 872.5 545.6 872.8 568.7 873.1 542.6 873.4 549.5 873.7 554.8 874.0 542.1 874.3 548.6 874.6 545.6 874.9 542.6 875.2 548.4 875.5 551.9 875.8 547.0 876.1 550.0 876.4 552.9 876.7 555.9 877.0 538.8 877.3 552.3 877.6 545.6 877.9 539.7 878.2 544.7 878.5 552.3 878.8 550.3 879.1 539.5 879.4 558.0 879.7 550.7 880.0 548.0 880.3 543.6 880.6 551.8 880.9 546.2 881.2 554.7 881.5 549.9 881.8 551.5 882.1 546.4 882.4 540.7 882.7 550.8 883.0 542.7 883.3 547.2 883.6 547.6 883.9 543.6 884.2 555.4 884.5 540.5 884.8 556.2 885.1 544.3 885.4 552.8 885.7 559.0 886.0 542.8 886.3 543.3 886.6 555.3 886.9 548.0 887.2 547.3 887.5 538.1 887.8 533.8 888.1 549.6 888.4 554.9 888.7 542.8 889.0 542.0 889.3 547.4 889.6 548.7 889.9 549.2 890.2 542.1 890.5 536.7 890.8 554.2 891.1 543.1 891.4 556.8 891.7 530.2 892.0 547.3 892.3 540.8 892.6 536.1 892.9 550.3 893.2 552.1 893.5 541.5 893.8 547.9 894.1 538.8 894.4 540.8 894.7 542.5 895.0 541.8 895.3 546.9 895.6 537.3 895.9 548.5 896.2 548.2 896.5 541.5 896.8 536.5 897.1 524.6 897.4 541.6 897.7 538.0 898.0 541.9 898.3 535.9 898.6 540.7 898.9 540.2 899.2 540.3 899.5 542.2 899.8 541.1 900.1 544.6 900.4 534.8 900.7 542.3 901.0 539.1 901.3 535.2 901.6 528.7 901.9 544.6 902.2 536.8 902.5 532.2 902.8 534.4 903.1 533.2 903.4 529.5 903.7 520.2 904.0 530.6 904.3 527.6 904.6 525.4 904.9 530.6 905.2 512.9 905.5 516.3 905.8 519.4 906.1 520.3 906.4 517.8 906.7 515.4 907.0 490.5 907.3 504.3 907.6 499.5 907.9 497.9 908.2 484.5 908.5 485.6 908.8 480.6 909.1 477.1 909.4 464.7 909.7 448.8 910.0 449.4 910.3 444.1 910.6 436.0 910.9 433.0 911.2 418.9 911.5 409.8 911.8 403.8 912.1 399.9 912.4 390.3 912.7 385.7 913.0 381.7 913.3 382.5 913.6 377.7 913.9 375.7 914.2 377.9 914.5 379.2 914.8 379.6 915.1 386.8 915.4 389.9 915.7 389.7 916.0 399.2 916.3 408.9 916.6 416.8 916.9 422.2 917.2 427.8 917.5 439.0 917.8 440.2 918.1 455.3 918.4 459.8 918.7 467.2 919.0 471.3 919.3 486.1 919.6 477.0 919.9 485.4 920.2 501.1 920.5 496.2 920.8 513.7 921.1 512.1 921.4 509.9 921.7 526.3 922.0 519.4 922.3 525.7 922.6 522.0 922.9 524.2 923.2 533.0 923.5 531.4 923.8 528.6 924.1 529.4 924.4 540.6 924.7 546.3 925.0 530.4 925.3 543.9 925.6 526.2 925.9 532.9 926.2 543.9 926.5 555.3 926.8 541.7 927.1 544.9 927.4 543.8 927.7 548.5 928.0 538.0 928.3 549.2 928.6 541.9 928.9 542.8 929.2 544.8 929.5 544.1 929.8 541.7 930.1 544.5 930.4 541.5 930.7 554.8 931.0 550.5 931.3 544.8 931.6 556.3 931.9 554.7 932.2 551.9 932.5 545.2 932.8 549.5 933.1 551.5 933.4 556.5 933.7 547.9 934.0 544.5 934.3 562.8 934.6 557.3 934.9 551.3 935.2 545.3 935.5 552.6 935.8 556.4 936.1 554.5 936.4 557.7 936.7 550.9 937.0 557.2 937.3 548.0 937.6 549.0 937.9 548.8 938.2 548.3 938.5 563.0 938.8 543.9 939.1 553.2 939.4 547.2 939.7 546.2 940.0 552.8 940.3 545.0 940.6 552.0 940.9 574.2 941.2 552.1 941.5 555.1 941.8 548.6 942.1 555.4 942.4 545.8 942.7 553.8 943.0 552.2 943.3 565.6 943.6 552.4 943.9 549.8 944.2 550.0 944.5 547.0 944.8 559.3 945.1 560.9 945.4 550.8 945.7 556.5 946.0 549.6 946.3 554.6 946.6 554.9 946.9 545.6 947.2 548.4 947.5 557.3 947.8 543.2 948.1 551.9 948.4 549.9 948.7 546.9 949.0 551.4 949.3 552.5 949.6 553.3 949.9 538.6 950.2 559.1 950.5 546.6 950.8 554.0 951.1 546.9 951.4 543.8 951.7 545.3 952.0 557.7 952.3 551.6 952.6 539.0 952.9 541.3 953.2 544.0 953.5 539.3 953.8 535.0 954.1 531.1 954.4 526.2 954.7 530.7 955.0 529.4 955.3 531.0 955.6 517.6 955.9 520.5 956.2 515.0 956.5 515.7 956.8 510.1 957.1 507.4 957.4 504.3 957.7 506.5 958.0 504.7 958.3 506.5 958.6 503.3 958.9 508.0 959.2 504.4 959.5 507.5 959.8 509.2 960.1 512.7 960.4 512.4 960.7 513.2 961.0 515.4 961.3 523.0 961.6 523.6 961.9 527.1 962.2 525.7 962.5 531.6 962.8 534.4 963.1 540.0 963.4 528.5 963.7 534.6 964.0 550.8 964.3 541.8 964.6 544.8 964.9 543.5 965.2 541.2 965.5 544.1 965.8 552.1 966.1 547.8 966.4 563.5 966.7 545.7 967.0 544.5 967.3 551.9 967.6 548.6 967.9 562.5 968.2 553.1 968.5 558.4 968.8 545.1 969.1 559.8 969.4 561.7 969.7 563.6 970.0 558.1 970.3 559.9 970.6 558.5 970.9 562.6 971.2 554.2 971.5 560.8 971.8 555.3 972.1 562.0 972.4 557.0 972.7 555.4 973.0 555.4 973.3 571.8 973.6 547.2 973.9 552.3 974.2 564.6 974.5 554.7 974.8 555.7 975.1 557.3 975.4 573.2 975.7 556.8 976.0 556.7 976.3 558.5 976.6 561.8 976.9 564.7 977.2 554.0 977.5 563.3 977.8 572.3 978.1 553.1 978.4 564.5 978.7 567.9 979.0 562.5 979.3 560.8 979.6 545.2 979.9 568.7 980.2 560.6 980.5 561.3 980.8 569.2 981.1 546.0 981.4 562.4 981.7 566.0 982.0 566.8 982.3 568.1 982.6 581.8 982.9 564.9 983.2 572.2 983.5 570.1 983.8 556.9 984.1 560.2 984.4 576.0 984.7 561.8 985.0 563.9 985.3 558.2 985.6 561.6 985.9 558.5 986.2 561.8 986.5 567.8 986.8 561.0 987.1 562.1 987.4 572.6 987.7 567.9 988.0 569.7 988.3 571.0 988.6 563.0 988.9 563.9 989.2 556.8 989.5 572.2 989.8 565.2 990.1 566.3 990.4 561.3 990.7 569.8 991.0 570.0 991.3 568.0 991.6 559.5 991.9 562.8 992.2 566.5 992.5 563.0 992.8 569.1 993.1 575.7 993.4 563.5 993.7 566.3 994.0 564.0 994.3 572.9 994.6 572.2 994.9 588.8 995.2 567.5 995.5 563.0 995.8 569.6 996.1 566.4 996.4 568.5 996.7 574.4 997.0 565.2 997.3 571.5 997.6 558.3 997.9 573.4 998.2 568.4 998.5 566.6 998.8 565.3 999.1 575.6 999.4 565.4 999.7 578.8 1000.0 565.4 1000.3 568.2 1000.6 569.8 1000.9 579.5 1001.2 569.3 1001.5 569.3 1001.8 567.8 1002.1 566.7 1002.4 565.2 1002.7 584.3 1003.0 576.3 1003.3 562.8 1003.6 569.1 1003.9 562.8 1004.2 573.4 1004.5 572.0 1004.8 569.0 1005.1 564.6 1005.4 572.5 1005.7 571.8 1006.0 567.6 1006.3 574.7 1006.6 562.3 1006.9 563.8 1007.2 564.1 1007.5 569.3 1007.8 578.0 1008.1 569.0 1008.4 578.4 1008.7 568.6 1009.0 566.8 1009.3 574.3 1009.6 571.7 1009.9 576.7 1010.2 577.1 1010.5 565.0 1010.8 558.1 1011.1 569.7 1011.4 563.5 1011.7 562.5 1012.0 562.3 1012.3 564.0 1012.6 568.1 1012.9 569.0 1013.2 580.7 1013.5 563.5 1013.8 569.2 1014.1 563.4 1014.4 564.6 1014.7 569.6 1015.0 571.5 1015.3 563.4 1015.6 575.5 1015.9 565.0 1016.2 574.5 1016.5 569.1 1016.8 574.2 1017.1 572.4 1017.4 568.0 1017.7 571.9 1018.0 563.3 1018.3 563.5 1018.6 567.8 1018.9 577.0 1019.2 566.0 1019.5 566.7 1019.8 578.7 1020.1 569.8 1020.4 569.6 1020.7 564.7 1021.0 569.9 1021.3 572.7 1021.6 569.4 1021.9 573.7 1022.2 571.3 1022.5 578.5 1022.8 574.0 1023.1 568.5 1023.4 574.3 1023.7 585.6 1024.0 572.1 1024.3 564.1 1024.6 570.7 1024.9 568.8 1025.2 583.1 1025.5 575.9 1025.8 564.7 1026.1 568.9 1026.4 577.8 1026.7 564.4 1027.0 567.5 1027.3 569.7 1027.6 569.1 1027.9 565.1 1028.2 570.5 1028.5 563.5 1028.8 565.2 1029.1 565.1 1029.4 568.4 1029.7 568.5 1030.0 569.9 1030.3 568.2 1030.6 567.9 1030.9 572.7 1031.2 574.7 1031.5 575.0 1031.8 564.7 1032.1 571.2 1032.4 573.9 1032.7 568.7 1033.0 572.4 1033.3 569.0 1033.6 572.0 1033.9 558.8 1034.2 572.4 1034.5 567.8 1034.8 566.6 1035.1 567.5 1035.4 575.3 1035.7 575.1 1036.0 571.4 1036.3 574.6 1036.6 566.8 1036.9 560.8 1037.2 562.0 1037.5 570.0 1037.8 569.5 1038.1 570.2 1038.4 570.5 1038.7 576.7 1039.0 565.9 1039.3 564.1 1039.6 580.7 1039.9 574.1 1040.2 567.5 1040.5 555.7 1040.8 566.1 1041.1 568.3 1041.4 569.6 1041.7 571.2 1042.0 567.9 1042.3 575.9 1042.6 564.4 1042.9 568.4 1043.2 564.3 1043.5 573.6 1043.8 570.5 1044.1 575.8 1044.4 569.9 1044.7 582.8 1045.0 573.1 1045.3 563.4 1045.6 569.2 1045.9 567.3 1046.2 573.1 1046.5 574.2 1046.8 571.0 1047.1 568.2 1047.4 565.8 1047.7 577.6 1048.0 578.0 1048.3 557.0 1048.6 569.1 1048.9 564.8 1049.2 566.9 1049.5 577.8 1049.8 563.4 1050.1 560.6 1050.4 581.7 1050.7 566.2 1051.0 567.3 1051.3 574.4 1051.6 565.9 1051.9 568.5 1052.2 569.5 1052.5 575.7 1052.8 560.9 1053.1 561.7 1053.4 567.4 1053.7 572.7 1054.0 564.9 1054.3 570.2 1054.6 563.7 1054.9 565.9 1055.2 574.5 1055.5 565.6 1055.8 580.7 1056.1 569.3 1056.4 573.4 1056.7 571.2 1057.0 560.4 1057.3 560.4 1057.6 569.7 1057.9 562.1 1058.2 564.5 1058.5 565.4 1058.8 560.0 1059.1 573.2 1059.4 570.9 1059.7 567.7 1060.0 569.6 1060.3 562.5 1060.6 573.6 1060.9 562.6 1061.2 574.8 1061.5 563.3 1061.8 563.7 1062.1 572.4 1062.4 569.5 1062.7 561.7 1063.0 569.1 1063.3 566.0 1063.6 566.0 1063.9 569.0 1064.2 569.0 1064.5 571.1 1064.8 568.1 1065.1 567.3 1065.4 564.7 1065.7 573.5 1066.0 561.9 1066.3 575.9 1066.6 577.5 1066.9 577.3 1067.2 564.6 1067.5 576.8 1067.8 571.1 1068.1 573.8 1068.4 577.8 1068.7 566.1 1069.0 567.5 1069.3 555.1 1069.6 554.7 1069.9 565.3 1070.2 565.7 1070.5 566.7 1070.8 564.1 1071.1 553.6 1071.4 563.2 1071.7 566.2 1072.0 567.6 1072.3 551.6 1072.6 550.7 1072.9 550.6 1073.2 551.1 1073.5 545.9 1073.8 547.3 1074.1 553.7 1074.4 542.0 1074.7 538.0 1075.0 539.7 1075.3 536.9 1075.6 537.2 1075.9 531.8 1076.2 531.9 1076.5 529.9 1076.8 529.2 1077.1 530.7 1077.4 530.9 1077.7 531.6 1078.0 534.1 1078.3 533.6 1078.6 537.3 1078.9 540.1 1079.2 545.5 1079.5 535.8 1079.8 545.5 1080.1 550.7 1080.4 548.8 1080.7 553.4 1081.0 557.8 1081.3 558.5 1081.6 550.6 1081.9 553.7 1082.2 548.9 1082.5 565.8 1082.8 562.6 1083.1 569.2 1083.4 563.0 1083.7 554.7 1084.0 569.0 1084.3 557.9 1084.6 564.0 1084.9 563.2 1085.2 568.3 1085.5 569.1 1085.8 562.6 1086.1 561.3 1086.4 564.5 1086.7 562.1 1087.0 572.5 1087.3 566.8 1087.6 572.4 1087.9 578.0 1088.2 558.6 1088.5 560.5 1088.8 568.8 1089.1 567.2 1089.4 563.6 1089.7 557.9 1090.0 585.7 1090.3 565.8 1090.6 560.1 1090.9 555.4 1091.2 572.7 1091.5 567.0 1091.8 565.4 1092.1 560.6 1092.4 564.7 1092.7 562.0 1093.0 554.7 1093.3 585.1 1093.6 566.8 1093.9 562.7 1094.2 559.7 1094.5 560.8 1094.8 575.6 1095.1 564.4 1095.4 556.3 1095.7 565.2 1096.0 562.3 1096.3 561.4 1096.6 557.5 1096.9 556.1 1097.2 556.2 1097.5 552.9 1097.8 549.0 1098.1 548.9 1098.4 549.9 1098.7 545.9 1099.0 547.3 1099.3 546.2 1099.6 547.0 1099.9 546.1 1100.2 545.6 1100.5 546.0 1100.8 548.1 1101.1 549.9 1101.4 547.4 1101.7 547.6 1102.0 550.4 1102.3 548.0 1102.6 551.3 1102.9 559.8 1103.2 562.0 1103.5 566.1 1103.8 560.8 1104.1 562.3 1104.4 558.3 1104.7 559.6 1105.0 565.6 1105.3 569.4 1105.6 567.5 1105.9 557.4 1106.2 568.7 1106.5 566.6 1106.8 564.2 1107.1 567.8 1107.4 574.4 1107.7 568.2 1108.0 564.3 1108.3 588.0 1108.6 563.0 1108.9 571.5 1109.2 578.4 1109.5 564.3 1109.8 571.1 1110.1 564.5 1110.4 567.2 1110.7 565.1 1111.0 583.4 1111.3 562.6 1111.6 571.3 1111.9 569.0 1112.2 560.5 1112.5 578.2 1112.8 566.4 1113.1 567.8 1113.4 570.2 1113.7 562.4 1114.0 565.7 1114.3 569.1 1114.6 565.4 1114.9 569.9 1115.2 576.0 1115.5 562.0 1115.8 562.7 1116.1 569.0 1116.4 571.6 1116.7 573.0 1117.0 564.9 1117.3 554.1 1117.6 576.7 1117.9 573.4 1118.2 577.8 1118.5 565.6 1118.8 572.8 1119.1 575.2 1119.4 562.3 1119.7 575.5 1120.0 577.6 1120.3 573.1 1120.6 574.3 1120.9 574.0 1121.2 569.1 1121.5 564.2 1121.8 566.3 1122.1 569.7 1122.4 566.7 1122.7 575.8 1123.0 568.7 1123.3 570.1 1123.6 563.2 1123.9 572.7 1124.2 567.6 1124.5 578.6 1124.8 558.9 1125.1 572.5 1125.4 569.1 1125.7 569.3 1126.0 579.9 1126.3 575.9 1126.6 567.3 1126.9 578.3 1127.2 568.2 1127.5 575.2 1127.8 563.9 1128.1 568.7 1128.4 569.0 1128.7 568.7 1129.0 564.6 1129.3 563.5 1129.6 571.4 1129.9 574.5 1130.2 571.6 1130.5 570.0 1130.8 565.2 1131.1 570.5 1131.4 567.4 1131.7 566.4 1132.0 572.9 1132.3 572.7 1132.6 573.8 1132.9 570.7 1133.2 568.2 1133.5 571.1 1133.8 570.6 1134.1 560.7 1134.4 570.5 1134.7 565.1 1135.0 564.0 1135.3 568.5 1135.6 569.3 1135.9 577.5 1136.2 570.8 1136.5 574.8 1136.8 579.6 1137.1 572.9 1137.4 575.0 1137.7 569.2 1138.0 576.4 1138.3 572.6 1138.6 572.6 1138.9 564.2 1139.2 568.2 1139.5 569.3 1139.8 572.8 1140.1 577.8 1140.4 565.9 1140.7 570.6 1141.0 570.9 1141.3 584.4 1141.6 571.4 1141.9 569.9 1142.2 575.9 1142.5 567.5 1142.8 574.9 1143.1 560.8 1143.4 582.9 1143.7 572.1 1144.0 568.9 1144.3 566.6 1144.6 571.6 1144.9 572.7 1145.2 569.0 1145.5 578.2 1145.8 570.8 1146.1 572.7 1146.4 573.6 1146.7 579.1 1147.0 570.5 1147.3 572.6 1147.6 574.3 1147.9 575.3 1148.2 559.9 1148.5 578.0 1148.8 571.2 1149.1 569.1 1149.4 572.2 1149.7 564.4 1150.0 568.9 1150.3 573.2 1150.6 579.1 1150.9 571.9 1151.2 574.2 1151.5 571.0 1151.8 576.5 1152.1 570.5 1152.4 574.5 1152.7 570.8 1153.0 568.1 1153.3 568.0 1153.6 569.4 1153.9 578.1 1154.2 584.7 1154.5 571.4 1154.8 569.0 1155.1 574.8 1155.4 574.6 1155.7 569.9 1156.0 588.0 1156.3 576.6 1156.6 576.9 1156.9 572.6 1157.2 572.9 1157.5 577.1 1157.8 566.4 1158.1 568.7 1158.4 572.7 1158.7 566.1 1159.0 585.5 1159.3 569.4 1159.6 570.3 1159.9 573.7 1160.2 579.8 1160.5 571.6 1160.8 568.6 1161.1 567.9 1161.4 573.0 1161.7 569.2 1162.0 584.1 1162.3 581.6 1162.6 559.8 1162.9 567.5 1163.2 573.9 1163.5 583.6 1163.8 558.0 1164.1 567.8 1164.4 580.5 1164.7 568.0 1165.0 571.3 1165.3 568.6 1165.6 574.0 1165.9 566.0 1166.2 570.7 1166.5 564.4 1166.8 575.2 1167.1 573.3 1167.4 569.9 1167.7 570.4 1168.0 570.2 1168.3 568.4 1168.6 570.7 1168.9 571.6 1169.2 569.5 1169.5 567.1 1169.8 567.8 1170.1 567.5 1170.4 571.6 1170.7 570.1 1171.0 579.4 1171.3 568.4 1171.6 569.4 1171.9 566.2 1172.2 569.5 1172.5 566.8 1172.8 565.0 1173.1 569.4 1173.4 576.6 1173.7 562.2 1174.0 565.5 1174.3 568.1 1174.6 569.4 1174.9 574.5 1175.2 565.1 1175.5 567.3 1175.8 562.0 1176.1 563.9 1176.4 565.5 1176.7 562.7 1177.0 569.5 1177.3 575.2 1177.6 564.8 1177.9 563.9 1178.2 573.4 1178.5 565.8 1178.8 574.1 1179.1 555.6 1179.4 565.7 1179.7 562.0 1180.0 563.9 1180.3 570.0 1180.6 571.3 1180.9 565.2 1181.2 572.9 1181.5 561.0 1181.8 566.9 1182.1 564.2 1182.4 558.4 1182.7 569.6 1183.0 562.1 1183.3 566.9 1183.6 561.3 1183.9 565.2 1184.2 567.0 1184.5 563.8 1184.8 561.4 1185.1 565.9 1185.4 563.6 1185.7 560.4 1186.0 561.9 1186.3 560.8 1186.6 559.0 1186.9 564.0 1187.2 567.5 1187.5 554.7 1187.8 556.9 1188.1 552.8 1188.4 550.4 1188.7 559.5 1189.0 549.0 1189.3 553.5 1189.6 543.0 1189.9 547.3 1190.2 550.0 1190.5 548.6 1190.8 546.2 1191.1 545.3 1191.4 543.0 1191.7 544.0 1192.0 544.6 1192.3 539.2 1192.6 535.4 1192.9 532.0 1193.2 531.7 1193.5 530.6 1193.8 533.0 1194.1 524.0 1194.4 525.7 1194.7 523.2 1195.0 526.0 1195.3 522.7 1195.6 520.5 1195.9 518.2 1196.2 521.7 1196.5 519.1 1196.8 522.5 1197.1 521.6 1197.4 519.1 1197.7 520.0 1198.0 520.7 1198.3 518.2 1198.6 520.1 1198.9 521.4 1199.2 522.8 1199.5 524.5 1199.8 521.6 1200.1 526.1 1200.4 526.0 1200.7 526.4 1201.0 527.3 1201.3 533.7 1201.6 534.9 1201.9 529.8 1202.2 531.4 1202.5 528.1 1202.8 532.0 1203.1 536.3 1203.4 533.5 1203.7 536.0 1204.0 534.6 1204.3 535.6 1204.6 537.7 1204.9 539.5 1205.2 526.0 1205.5 534.4 1205.8 523.1 1206.1 534.4 1206.4 532.6 1206.7 532.1 1207.0 539.6 1207.3 533.7 1207.6 534.5 1207.9 532.6 1208.2 534.2 1208.5 529.8 1208.8 529.3 1209.1 529.1 1209.4 534.7 1209.7 527.6 1210.0 528.4 1210.3 530.0 1210.6 529.3 1210.9 527.7 1211.2 532.0 1211.5 529.4 1211.8 531.2 1212.1 531.1 1212.4 531.7 1212.7 529.8 1213.0 534.7 1213.3 532.3 1213.6 534.6 1213.9 537.8 1214.2 536.2 1214.5 538.4 1214.8 539.5 1215.1 541.2 1215.4 543.8 1215.7 539.8 1216.0 542.4 1216.3 553.4 1216.6 542.1 1216.9 546.9 1217.2 553.1 1217.5 542.0 1217.8 549.7 1218.1 549.1 1218.4 565.5 1218.7 550.8 1219.0 559.7 1219.3 555.6 1219.6 558.9 1219.9 555.4 1220.2 555.0 1220.5 559.5 1220.8 556.7 1221.1 562.1 1221.4 564.1 1221.7 565.9 1222.0 571.9 1222.3 571.9 1222.6 561.0 1222.9 562.8 1223.2 579.6 1223.5 566.3 1223.8 565.5 1224.1 572.7 1224.4 565.2 1224.7 572.6 1225.0 567.2 1225.3 575.0 1225.6 567.8 1225.9 575.3 1226.2 574.5 1226.5 582.3 1226.8 566.5 1227.1 567.2 1227.4 564.4 1227.7 559.2 1228.0 568.5 1228.3 571.5 1228.6 577.0 1228.9 569.3 1229.2 586.4 1229.5 572.2 1229.8 575.7 1230.1 570.6 1230.4 566.6 1230.7 584.3 1231.0 570.8 1231.3 577.6 1231.6 570.8 1231.9 576.7 1232.2 572.0 1232.5 570.2 1232.8 571.7 1233.1 576.2 1233.4 565.0 1233.7 566.6 1234.0 580.7 1234.3 570.4 1234.6 574.5 1234.9 568.3 1235.2 573.0 1235.5 579.3 1235.8 574.6 1236.1 575.2 1236.4 572.7 1236.7 575.0 1237.0 567.5 1237.3 568.2 1237.6 576.8 1237.9 568.0 1238.2 581.4 1238.5 579.3 1238.8 570.4 1239.1 567.0 1239.4 566.4 1239.7 577.1 1240.0 575.0 1240.3 582.5 1240.6 579.3 1240.9 583.8 1241.2 580.5 1241.5 572.5 1241.8 575.0 1242.1 573.1 1242.4 575.4 1242.7 574.7 1243.0 576.0 1243.3 583.7 1243.6 574.9 1243.9 572.4 1244.2 574.8 1244.5 575.5 1244.8 575.2 1245.1 576.3 1245.4 576.0 1245.7 583.2 1246.0 582.3 1246.3 574.8 1246.6 582.7 1246.9 584.9 1247.2 577.9 1247.5 574.6 1247.8 580.1 1248.1 577.8 1248.4 579.7 1248.7 573.7 1249.0 594.8 1249.3 576.5 1249.6 580.5 1249.9 575.5 1250.2 579.0 1250.5 563.7 1250.8 572.7 1251.1 568.6 1251.4 585.3 1251.7 572.3 1252.0 571.7 1252.3 583.3 1252.6 575.8 1252.9 577.2 1253.2 583.0 1253.5 580.2 1253.8 579.3 1254.1 582.6 1254.4 570.2 1254.7 587.7 1255.0 588.0 1255.3 587.0 1255.6 569.6 1255.9 574.2 1256.2 575.3 1256.5 586.2 1256.8 581.8 1257.1 586.5 1257.4 579.8 1257.7 575.0 1258.0 572.3 1258.3 575.2 1258.6 584.4 1258.9 571.8 1259.2 570.5 1259.5 578.9 1259.8 584.2 1260.1 589.3 1260.4 583.6 1260.7 582.1 1261.0 566.0 1261.3 575.8 1261.6 575.8 1261.9 578.1 1262.2 573.5 1262.5 581.1 1262.8 583.4 1263.1 577.8 1263.4 576.0 1263.7 578.2 1264.0 580.0 1264.3 581.0 1264.6 573.6 1264.9 584.2 1265.2 577.3 1265.5 576.4 1265.8 580.3 1266.1 574.1 1266.4 581.2 1266.7 594.2 1267.0 579.0 1267.3 577.9 1267.6 574.9 1267.9 584.2 1268.2 585.4 1268.5 570.8 1268.8 581.5 1269.1 574.0 1269.4 572.0 1269.7 576.1 1270.0 573.9 1270.3 582.3 1270.6 571.5 1270.9 568.1 1271.2 570.1 1271.5 575.5 1271.8 579.3 1272.1 572.1 1272.4 573.5 1272.7 566.3 1273.0 575.7 1273.3 572.2 1273.6 587.4 1273.9 586.0 1274.2 572.5 1274.5 577.2 1274.8 579.3 1275.1 572.4 1275.4 574.6 1275.7 579.3 1276.0 574.2 1276.3 574.0 1276.6 576.1 1276.9 582.1 1277.2 575.1 1277.5 577.9 1277.8 577.7 1278.1 579.4 1278.4 575.3 1278.7 572.5 1279.0 571.2 1279.3 577.1 1279.6 576.7 1279.9 574.0 1280.2 577.0 1280.5 587.8 1280.8 579.6 1281.1 568.7 1281.4 582.1 1281.7 576.5 1282.0 571.6 1282.3 582.3 1282.6 575.5 1282.9 580.6 1283.2 571.4 1283.5 580.7 1283.8 574.5 1284.1 580.2 1284.4 579.5 1284.7 570.9 1285.0 578.1 1285.3 577.8 1285.6 575.3 1285.9 564.2 1286.2 576.8 1286.5 573.1 1286.8 581.1 1287.1 568.3 1287.4 580.0 1287.7 576.0 1288.0 587.2 1288.3 571.2 1288.6 579.8 1288.9 573.0 1289.2 571.3 1289.5 583.1 1289.8 578.0 1290.1 582.9 1290.4 568.8 1290.7 570.2 1291.0 577.8 1291.3 571.5 1291.6 581.3 1291.9 583.1 1292.2 574.4 1292.5 575.1 1292.8 575.1 1293.1 573.7 1293.4 574.8 1293.7 573.9 1294.0 576.8 1294.3 573.4 1294.6 572.6 1294.9 572.5 1295.2 572.1 1295.5 574.4 1295.8 577.1 1296.1 584.8 1296.4 568.2 1296.7 565.5 1297.0 573.9 1297.3 574.7 1297.6 574.3 1297.9 583.7 1298.2 567.3 1298.5 573.8 1298.8 566.0 1299.1 573.1 1299.4 576.7 1299.7 564.9 1300.0 581.8 1300.3 570.7 1300.6 567.2 1300.9 567.7 1301.2 571.2 1301.5 571.0 1301.8 577.9 1302.1 567.9 1302.4 575.4 1302.7 580.1 1303.0 572.1 1303.3 577.5 1303.6 571.0 1303.9 576.8 1304.2 572.5 1304.5 584.6 1304.8 572.6 1305.1 572.5 1305.4 576.5 1305.7 570.0 1306.0 572.2 1306.3 575.2 1306.6 577.7 1306.9 569.4 1307.2 573.9 1307.5 572.8 1307.8 576.7 1308.1 577.3 1308.4 575.3 1308.7 574.7 1309.0 582.1 1309.3 569.8 1309.6 581.3 1309.9 575.8 1310.2 567.2 1310.5 574.1 1310.8 567.6 1311.1 572.7 1311.4 565.4 1311.7 576.5 1312.0 569.9 1312.3 585.7 1312.6 568.1 1312.9 573.3 1313.2 567.6 1313.5 572.5 1313.8 573.1 1314.1 575.3 1314.4 591.4 1314.7 585.5 1315.0 576.5 1315.3 571.5 1315.6 571.6 1315.9 571.5 1316.2 569.3 1316.5 575.8 1316.8 572.5 1317.1 575.1 1317.4 571.7 1317.7 574.4 1318.0 581.2 1318.3 574.2 1318.6 576.9 1318.9 569.1 1319.2 572.0 1319.5 571.0 1319.8 574.9 1320.1 573.9 1320.4 569.7 1320.7 574.1 1321.0 573.1 1321.3 566.3 1321.6 572.3 1321.9 578.1 1322.2 568.8 1322.5 577.6 1322.8 575.7 1323.1 573.2 1323.4 574.4 1323.7 569.0 1324.0 575.6 1324.3 563.2 1324.6 567.7 1324.9 574.8 1325.2 567.8 1325.5 582.2 1325.8 573.8 1326.1 579.1 1326.4 576.7 1326.7 570.5 1327.0 572.3 1327.3 574.3 1327.6 572.2 1327.9 579.7 1328.2 576.9 1328.5 573.0 1328.8 578.1 1329.1 572.3 1329.4 575.6 1329.7 572.7 1330.0 570.8 1330.3 568.0 1330.6 568.8 1330.9 572.0 1331.2 573.7 1331.5 563.5 1331.8 569.9 1332.1 574.3 1332.4 570.9 1332.7 567.0 1333.0 567.3 1333.3 579.6 1333.6 565.1 1333.9 570.0 1334.2 575.2 1334.5 563.6 1334.8 574.4 1335.1 565.1 1335.4 575.9 1335.7 582.5 1336.0 566.1 1336.3 570.8 1336.6 572.7 1336.9 568.7 1337.2 575.0 1337.5 568.0 1337.8 567.2 1338.1 567.5 1338.4 570.7 1338.7 573.0 1339.0 575.3 1339.3 570.3 1339.6 566.4 1339.9 568.7 1340.2 568.5 1340.5 569.0 1340.8 573.2 1341.1 569.9 1341.4 570.9 1341.7 570.7 1342.0 569.8 1342.3 567.1 1342.6 573.7 1342.9 569.6 1343.2 569.8 1343.5 565.6 1343.8 567.2 1344.1 567.6 1344.4 574.1 1344.7 563.2 1345.0 573.3 1345.3 570.7 1345.6 566.9 1345.9 566.3 1346.2 572.1 1346.5 570.7 1346.8 557.5 1347.1 565.0 1347.4 565.9 1347.7 569.3 1348.0 566.9 1348.3 571.6 1348.6 567.3 1348.9 568.2 1349.2 575.2 1349.5 568.3 1349.8 567.2 1350.1 569.4 1350.4 564.0 1350.7 562.9 1351.0 569.0 1351.3 566.6 1351.6 563.4 1351.9 573.2 1352.2 572.0 1352.5 569.9 1352.8 566.6 1353.1 568.0 1353.4 566.4 1353.7 572.6 1354.0 559.5 1354.3 569.8 1354.6 568.7 1354.9 564.0 1355.2 571.3 1355.5 567.1 1355.8 577.4 1356.1 573.9 1356.4 568.1 1356.7 566.8 1357.0 563.6 1357.3 565.3 1357.6 569.6 1357.9 559.0 1358.2 572.6 1358.5 573.0 1358.8 567.5 1359.1 571.4 1359.4 579.3 1359.7 569.3 1360.0 576.1 1360.3 566.6 1360.6 565.3 1360.9 572.4 1361.2 560.5 1361.5 572.1 1361.8 567.7 1362.1 565.7 1362.4 568.0 1362.7 568.1 1363.0 573.3 1363.3 573.5 1363.6 568.4 1363.9 566.5 1364.2 563.6 1364.5 568.6 1364.8 557.9 1365.1 571.7 1365.4 567.2 1365.7 560.8 1366.0 569.7 1366.3 561.2 1366.6 565.2 1366.9 560.2 1367.2 563.9 1367.5 567.7 1367.8 566.2 1368.1 568.2 1368.4 563.9 1368.7 569.3 1369.0 557.3 1369.3 564.4 1369.6 557.1 1369.9 565.4 1370.2 564.3 1370.5 565.8 1370.8 569.1 1371.1 572.6 1371.4 558.7 1371.7 564.6 1372.0 554.3 1372.3 580.1 1372.6 572.3 1372.9 568.3 1373.2 571.8 1373.5 570.1 1373.8 563.5 1374.1 569.4 1374.4 571.5 1374.7 569.7 1375.0 565.3 1375.3 564.4 1375.6 577.4 1375.9 567.1 1376.2 568.3 1376.5 560.4 1376.8 568.9 1377.1 566.9 1377.4 562.3 1377.7 571.7 1378.0 565.7 1378.3 570.2 1378.6 567.8 1378.9 561.0 1379.2 567.6 1379.5 572.2 1379.8 561.3 1380.1 561.6 1380.4 562.0 1380.7 570.9 1381.0 563.8 1381.3 567.7 1381.6 571.0 1381.9 561.3 1382.2 572.7 1382.5 565.9 1382.8 565.0 1383.1 573.0 1383.4 567.8 1383.7 557.3 1384.0 565.6 1384.3 562.7 1384.6 567.0 1384.9 563.9 1385.2 564.4 1385.5 570.2 1385.8 559.3 1386.1 567.1 1386.4 564.9 1386.7 568.0 1387.0 557.2 1387.3 559.6 1387.6 564.2 1387.9 578.2 1388.2 560.9 1388.5 558.6 1388.8 565.1 1389.1 567.3 1389.4 563.4 1389.7 566.3 1390.0 559.7 1390.3 573.9 1390.6 563.5 1390.9 566.5 1391.2 577.4 1391.5 563.7 1391.8 561.1 1392.1 562.0 1392.4 573.9 1392.7 565.2 1393.0 562.8 1393.3 565.9 1393.6 565.8 1393.9 573.2 1394.2 571.1 1394.5 568.6 1394.8 568.2 1395.1 562.8 1395.4 561.1 1395.7 567.9 1396.0 568.4 1396.3 566.9 1396.6 568.0 1396.9 570.5 1397.2 561.6 1397.5 564.7 1397.8 562.7 1398.1 559.1 1398.4 568.5 1398.7 565.2 1399.0 568.0 1399.3 570.5 1399.6 562.6 1399.9 573.2 1400.2 567.5 1400.5 570.8 1400.8 574.2 1401.1 562.9 1401.4 563.7 1401.7 567.3 1402.0 571.3 1402.3 571.5 1402.6 558.9 1402.9 572.9 1403.2 564.4 1403.5 568.4 1403.8 561.1 1404.1 560.5 1404.4 567.9 1404.7 559.5 1405.0 569.9 1405.3 564.1 1405.6 567.5 1405.9 567.0 1406.2 564.1 1406.5 572.4 1406.8 584.3 1407.1 570.7 1407.4 559.8 1407.7 566.9 1408.0 565.4 1408.3 570.5 1408.6 566.7 1408.9 576.7 1409.2 569.5 1409.5 569.1 1409.8 565.0 1410.1 562.9 1410.4 566.1 1410.7 567.3 1411.0 568.5 1411.3 567.3 1411.6 565.3 1411.9 566.7 1412.2 564.6 1412.5 562.5 1412.8 563.0 1413.1 569.8 1413.4 569.7 1413.7 564.9 1414.0 565.9 1414.3 568.9 1414.6 566.0 1414.9 584.4 1415.2 567.1 1415.5 564.4 1415.8 559.7 1416.1 567.5 1416.4 571.2 1416.7 566.0 1417.0 572.2 1417.3 564.1 1417.6 566.1 1417.9 565.8 1418.2 561.5 1418.5 560.8 1418.8 562.7 1419.1 554.9 1419.4 569.9 1419.7 565.8 1420.0 566.0 1420.3 564.1 1420.6 570.7 1420.9 563.0 1421.2 574.3 1421.5 571.3 1421.8 561.7 1422.1 565.5 1422.4 569.1 1422.7 572.0 1423.0 563.1 1423.3 562.9 1423.6 584.2 1423.9 570.4 1424.2 570.3 1424.5 575.4 1424.8 568.2 1425.1 564.3 1425.4 559.6 1425.7 570.0 1426.0 561.7 1426.3 569.1 1426.6 554.2 1426.9 562.8 1427.2 565.8 1427.5 558.1 1427.8 562.3 1428.1 562.7 1428.4 566.6 1428.7 561.1 1429.0 564.9 1429.3 575.9 1429.6 572.3 1429.9 574.8 1430.2 567.7 1430.5 564.2 1430.8 567.3 1431.1 570.7 1431.4 567.0 1431.7 572.4 1432.0 561.3 1432.3 564.9 1432.6 556.2 1432.9 564.0 1433.2 571.3 1433.5 565.9 1433.8 568.9 1434.1 567.5 1434.4 569.9 1434.7 560.0 1435.0 567.9 1435.3 568.5 1435.6 570.7 1435.9 575.5 1436.2 563.4 1436.5 559.9 1436.8 562.8 1437.1 571.3 1437.4 561.4 1437.7 559.9 1438.0 560.1 1438.3 560.1 1438.6 568.3 1438.9 562.0 1439.2 562.5 1439.5 573.1 1439.8 569.2 1440.1 571.1 1440.4 561.9 1440.7 558.5 1441.0 567.1 1441.3 572.9 1441.6 563.3 1441.9 562.7 1442.2 554.0 1442.5 572.5 1442.8 563.6 1443.1 557.9 1443.4 564.0 1443.7 561.7 1444.0 566.7 1444.3 573.8 1444.6 560.5 1444.9 564.1 1445.2 561.7 1445.5 560.4 1445.8 564.6 1446.1 569.1 1446.4 563.9 1446.7 560.2 1447.0 564.5 1447.3 562.0 1447.6 563.8 1447.9 558.4 1448.2 560.3 1448.5 568.9 1448.8 559.0 1449.1 561.7 1449.4 557.9 1449.7 557.7 1450.0 555.0 1450.3 563.3 1450.6 559.0 1450.9 560.0 1451.2 559.1 1451.5 551.2 1451.8 552.5 1452.1 553.1 1452.4 550.6 1452.7 551.3 1453.0 553.5 1453.3 548.0 1453.6 550.0 1453.9 551.3 1454.2 551.2 1454.5 551.1 1454.8 550.4 1455.1 552.8 1455.4 547.8 1455.7 551.9 1456.0 549.1 1456.3 551.1 1456.6 552.2 1456.9 556.5 1457.2 551.8 1457.5 551.5 1457.8 555.8 1458.1 554.3 1458.4 555.1 1458.7 556.9 1459.0 558.7 1459.3 557.4 1459.6 549.9 1459.9 557.5 1460.2 558.7 1460.5 556.1 1460.8 556.9 1461.1 562.5 1461.4 561.8 1461.7 556.7 1462.0 564.0 1462.3 563.0 1462.6 555.9 1462.9 562.4 1463.2 556.4 1463.5 561.2 1463.8 565.9 1464.1 560.6 1464.4 560.8 1464.7 568.0 1465.0 562.2 1465.3 565.2 1465.6 565.6 1465.9 566.2 1466.2 568.7 1466.5 565.5 1466.8 564.4 1467.1 564.5 1467.4 575.9 1467.7 574.4 1468.0 567.9 1468.3 573.8 1468.6 571.5 1468.9 564.4 1469.2 579.5 1469.5 579.9 1469.8 570.5 1470.1 559.1 1470.4 576.0 1470.7 571.9 1471.0 568.6 1471.3 562.1 1471.6 569.2 1471.9 568.6 1472.2 568.6 1472.5 567.2 1472.8 576.8 1473.1 568.6 1473.4 573.3 1473.7 563.5 1474.0 566.8 1474.3 570.8 1474.6 565.2 1474.9 571.2 1475.2 570.7 1475.5 572.1 1475.8 570.1 1476.1 575.8 1476.4 566.4 1476.7 569.0 1477.0 578.8 1477.3 569.2 1477.6 579.1 1477.9 573.7 1478.2 570.7 1478.5 572.9 1478.8 579.9 1479.1 571.4 1479.4 565.8 1479.7 576.2 1480.0 577.9 1480.3 576.9 1480.6 567.5 1480.9 575.1 1481.2 573.8 1481.5 572.6 1481.8 571.8 1482.1 575.8 1482.4 573.7 1482.7 573.8 1483.0 588.9 1483.3 574.5 1483.6 569.8 1483.9 570.8 1484.2 571.4 1484.5 568.5 1484.8 579.4 1485.1 583.2 1485.4 570.5 1485.7 578.7 1486.0 571.8 1486.3 572.1 1486.6 564.3 1486.9 574.4 1487.2 580.5 1487.5 580.6 1487.8 577.3 1488.1 574.0 1488.4 583.5 1488.7 587.8 1489.0 570.2 1489.3 576.4 1489.6 574.8 1489.9 572.8 1490.2 568.0 1490.5 572.1 1490.8 575.9 1491.1 576.6 1491.4 576.1 1491.7 584.6 1492.0 572.9 1492.3 570.8 1492.6 568.3 1492.9 577.4 1493.2 573.6 1493.5 569.7 1493.8 582.2 1494.1 582.2 1494.4 577.0 1494.7 578.8 1495.0 570.7 1495.3 567.4 1495.6 577.1 1495.9 577.0 1496.2 575.4 1496.5 575.1 1496.8 573.8 1497.1 582.8 1497.4 573.0 1497.7 575.8 1498.0 583.6 1498.3 572.5 1498.6 577.1 1498.9 576.1 1499.2 579.2 1499.5 568.0 1499.8 575.5 1500.1 573.6 1500.4 581.6 1500.7 576.6 1501.0 573.1 1501.3 582.9 1501.6 579.7 1501.9 581.4 1502.2 581.8 1502.5 580.4 1502.8 574.8 1503.1 578.4 1503.4 578.4 1503.7 578.7 1504.0 578.7 1504.3 577.7 1504.6 575.6 1504.9 576.7 1505.2 573.6 1505.5 573.9 1505.8 580.6 1506.1 576.2 1506.4 577.9 1506.7 575.4 1507.0 571.5 1507.3 576.0 1507.6 585.0 1507.9 577.3 1508.2 575.1 1508.5 580.8 1508.8 575.9 1509.1 575.5 1509.4 572.1 1509.7 571.6 1510.0 580.7 1510.3 578.6 1510.6 578.2 1510.9 581.1 1511.2 576.3 1511.5 578.2 1511.8 574.9 1512.1 572.8 1512.4 575.4 1512.7 582.6 1513.0 581.4 1513.3 572.1 1513.6 576.3 1513.9 579.0 1514.2 575.4 1514.5 581.5 1514.8 575.5 1515.1 577.3 1515.4 577.4 1515.7 572.0 1516.0 568.3 1516.3 575.5 1516.6 584.1 1516.9 581.4 1517.2 580.8 1517.5 576.5 1517.8 577.1 1518.1 579.2 1518.4 580.2 1518.7 573.4 1519.0 576.4 1519.3 576.2 1519.6 585.0 1519.9 577.1 1520.2 574.0 1520.5 582.9 1520.8 577.6 1521.1 583.5 1521.4 573.3 1521.7 588.1 1522.0 579.2 1522.3 580.3 1522.6 578.6 1522.9 579.4 1523.2 579.5 1523.5 578.3 1523.8 588.2 1524.1 571.6 1524.4 575.0 1524.7 578.1 1525.0 579.1 1525.3 586.0 1525.6 581.9 1525.9 579.6 1526.2 576.5 1526.5 588.6 1526.8 583.3 1527.1 590.5 1527.4 574.0 1527.7 587.3 1528.0 579.2 1528.3 576.2 1528.6 580.2 1528.9 580.2 1529.2 578.3 1529.5 570.7 1529.8 578.1 1530.1 574.7 1530.4 579.9 1530.7 574.4 1531.0 580.4 1531.3 577.8 1531.6 583.6 1531.9 576.4 1532.2 574.4 1532.5 574.2 1532.8 580.5 1533.1 590.3 1533.4 574.2 1533.7 576.9 1534.0 586.2 1534.3 583.6 1534.6 584.9 1534.9 580.6 1535.2 581.3 1535.5 579.5 1535.8 575.1 1536.1 580.1 1536.4 575.5 1536.7 581.9 1537.0 570.0 1537.3 567.1 1537.6 578.6 1537.9 579.4 1538.2 587.4 1538.5 575.9 1538.8 581.7 1539.1 572.5 1539.4 590.0 1539.7 570.1 1540.0 585.6 1540.3 577.4 1540.6 568.0 1540.9 574.9 1541.2 582.5 1541.5 578.2 1541.8 575.5 1542.1 579.4 1542.4 578.7 1542.7 582.5 1543.0 582.7 1543.3 576.8 1543.6 575.7 1543.9 578.8 1544.2 578.0 1544.5 579.7 1544.8 574.7 1545.1 579.1 1545.4 575.4 1545.7 580.9 1546.0 579.6 1546.3 577.6 1546.6 572.8 1546.9 583.3 1547.2 575.3 1547.5 576.6 1547.8 578.2 1548.1 580.2 1548.4 574.6 1548.7 576.5 1549.0 573.3 1549.3 585.1 1549.6 576.6 1549.9 576.6 1550.2 571.2 1550.5 576.2 1550.8 582.2 1551.1 583.0 1551.4 574.6 1551.7 578.7 1552.0 582.1 1552.3 573.2 1552.6 577.0 1552.9 581.4 1553.2 585.5 1553.5 569.5 1553.8 571.4 1554.1 583.4 1554.4 576.8 1554.7 579.9 1555.0 571.0 1555.3 585.9 1555.6 580.0 1555.9 584.5 1556.2 574.8 1556.5 576.2 1556.8 573.8 1557.1 573.8 1557.4 573.4 1557.7 578.9 1558.0 574.7 1558.3 578.0 1558.6 575.4 1558.9 579.5 1559.2 581.4 1559.5 581.3 1559.8 581.6 1560.1 577.4 1560.4 580.9 1560.7 577.0 1561.0 574.9 1561.3 570.1 1561.6 577.8 1561.9 579.0 1562.2 585.0 1562.5 576.0 1562.8 584.2 1563.1 572.2 1563.4 577.4 1563.7 594.1 1564.0 576.3 1564.3 574.1 1564.6 573.6 1564.9 587.4 1565.2 582.6 1565.5 575.0 1565.8 575.2 1566.1 568.5 1566.4 576.0 1566.7 583.4 1567.0 569.7 1567.3 581.0 1567.6 578.9 1567.9 583.1 1568.2 574.0 1568.5 577.1 1568.8 581.8 1569.1 577.8 1569.4 578.6 1569.7 574.3 1570.0 574.7 1570.3 573.1 1570.6 575.7 1570.9 575.2 1571.2 574.0 1571.5 567.4 1571.8 569.6 1572.1 574.3 1572.4 579.5 1572.7 571.0 1573.0 572.2 1573.3 574.0 1573.6 578.1 1573.9 581.2 1574.2 574.9 1574.5 573.3 1574.8 570.5 1575.1 575.6 1575.4 572.1 1575.7 573.8 1576.0 569.7 1576.3 577.5 1576.6 571.2 1576.9 567.1 1577.2 572.4 1577.5 565.4 1577.8 574.5 1578.1 577.9 1578.4 574.3 1578.7 571.3 1579.0 566.4 1579.3 569.8 1579.6 581.2 1579.9 576.0 1580.2 567.6 1580.5 567.7 1580.8 573.4 1581.1 571.5 1581.4 571.5 1581.7 573.5 1582.0 564.1 1582.3 567.7 1582.6 577.3 1582.9 571.9 1583.2 568.7 1583.5 570.0 1583.8 573.0 1584.1 571.5 1584.4 567.6 1584.7 565.7 1585.0 575.1 1585.3 565.3 1585.6 584.3 1585.9 565.4 1586.2 567.2 1586.5 574.1 1586.8 575.7 1587.1 569.6 1587.4 560.2 1587.7 568.6 1588.0 561.7 1588.3 566.9 1588.6 572.3 1588.9 572.0 1589.2 569.1 1589.5 569.5 1589.8 571.0 1590.1 566.7 1590.4 566.7 1590.7 573.3 1591.0 570.0 1591.3 573.1 1591.6 569.5 1591.9 569.3 1592.2 571.1 1592.5 570.5 1592.8 575.0 1593.1 569.8 1593.4 564.1 1593.7 565.6 1594.0 563.4 1594.3 567.8 1594.6 562.3 1594.9 558.8 1595.2 569.3 1595.5 572.9 1595.8 560.6 1596.1 570.4 1596.4 567.1 1596.7 562.3 1597.0 563.4 1597.3 564.6 1597.6 576.4 1597.9 566.9" fill="none" stroke="#ff0000" stroke-width="2.5" stroke-linejoin="round"/>
<path d="M59.0 416.0 59.5 450.0 59.8 439.6 60.1 444.3 60.4 427.4 60.7 468.8 61.0 461.2 61.3 445.9 61.6 462.1 61.9 452.5 62.2 444.6 62.5 460.7 62.8 447.5 63.1 445.4 63.4 438.8 63.7 458.8 64.0 450.1 64.3 458.1 64.6 446.9 64.9 454.9 65.2 445.1 65.5 462.8 65.8 456.3 66.1 458.1 66.4 459.4 66.7 446.1 67.0 464.1 67.3 492.9 67.6 442.0 67.9 441.7 68.2 443.9 68.5 466.7 68.8 459.6 69.1 470.1 69.4 470.7 69.7 461.6 70.0 462.7 70.3 458.6 70.6 474.8 70.9 450.6 71.2 457.4 71.5 465.4 71.8 482.0 72.1 455.4 72.4 453.0 72.7 458.0 73.0 473.9 73.3 461.9 73.6 478.7 73.9 448.6 74.2 477.3 74.5 482.7 74.8 453.4 75.1 468.1 75.4 479.8 75.7 468.2 76.0 478.1 76.3 509.6 76.6 471.2 76.9 466.2 77.2 462.1 77.5 476.3 77.8 466.7 78.1 468.7 78.4 469.8 78.7 477.9 79.0 461.9 79.3 458.4 79.6 452.1 79.9 485.4 80.2 473.9 80.5 489.7 80.8 473.9 81.1 467.5 81.4 479.6 81.7 474.4 82.0 457.2 82.3 467.8 82.6 495.4 82.9 480.3 83.2 481.3 83.5 474.9 83.8 467.3 84.1 487.4 84.4 477.7 84.7 472.1 85.0 478.2 85.3 471.6 85.6 482.9 85.9 492.3 86.2 473.4 86.5 505.1 86.8 475.7 87.1 483.8 87.4 475.1 87.7 481.1 88.0 484.0 88.3 480.0 88.6 478.0 88.9 478.7 89.2 477.9 89.5 472.2 89.8 483.9 90.1 490.8 90.4 496.5 90.7 494.3 91.0 513.8 91.3 491.9 91.6 485.0 91.9 509.7 92.2 480.9 92.5 500.5 92.8 477.1 93.1 495.2 93.4 475.7 93.7 501.7 94.0 491.7 94.3 479.4 94.6 511.7 94.9 502.3 95.2 495.6 95.5 484.5 95.8 495.7 96.1 495.1 96.4 504.3 96.7 505.5 97.0 492.0 97.3 493.5 97.6 494.2 97.9 487.8 98.2 494.6 98.5 499.6 98.8 511.5 99.1 522.6 99.4 494.7 99.7 507.8 100.0 498.9 100.3 525.4 100.6 503.5 100.9 509.3 101.2 496.6 101.5 498.1 101.8 507.8 102.1 502.8 102.4 510.2 102.7 494.1 103.0 514.3 103.3 500.3 103.6 526.6 103.9 504.7 104.2 520.7 104.5 498.3 104.8 514.8 105.1 503.4 105.4 507.3 105.7 512.4 106.0 509.8 106.3 515.7 106.6 520.9 106.9 520.5 107.2 513.8 107.5 503.5 107.8 508.5 108.1 514.3 108.4 499.4 108.7 524.4 109.0 515.4 109.3 515.8 109.6 527.8 109.9 525.5 110.2 521.6 110.5 511.3 110.8 523.4 111.1 525.8 111.4 513.6 111.7 532.0 112.0 527.0 112.3 506.6 112.6 524.1 112.9 512.6 113.2 534.9 113.5 531.9 113.8 515.0 114.1 517.1 114.4 526.3 114.7 523.3 115.0 541.1 115.3 537.2 115.6 524.0 115.9 532.3 116.2 510.9 116.5 530.4 116.8 536.2 117.1 526.6 117.4 522.3 117.7 534.2 118.0 549.1 118.3 531.4 118.6 520.4 118.9 544.5 119.2 506.0 119.5 535.6 119.8 526.1 120.1 540.5 120.4 524.6 120.7 545.2 121.0 535.4 121.3 518.9 121.6 517.5 121.9 528.8 122.2 546.6 122.5 535.4 122.8 535.3 123.1 531.3 123.4 542.3 123.7 539.1 124.0 538.5 124.3 527.9 124.6 548.1 124.9 550.3 125.2 526.5 125.5 561.3 125.8 544.8 126.1 534.0 126.4 523.4 126.7 548.5 127.0 544.5 127.3 534.5 127.6 525.6 127.9 551.2 128.2 532.2 128.5 536.9 128.8 565.4 129.1 576.0 129.4 551.1 129.7 538.4 130.0 548.8 130.3 525.3 130.6 544.4 130.9 537.2 131.2 526.6 131.5 531.5 131.8 549.6 132.1 545.9 132.4 546.9 132.7 553.7 133.0 538.9 133.3 536.1 133.6 523.6 133.9 544.1 134.2 554.6 134.5 546.4 134.8 554.0 135.1 538.5 135.4 544.5 135.7 542.3 136.0 538.8 136.3 578.8 136.6 557.7 136.9 543.4 137.2 543.6 137.5 549.9 137.8 538.7 138.1 554.8 138.4 540.2 138.7 547.9 139.0 537.2 139.3 547.3 139.6 540.7 139.9 539.1 140.2 543.9 140.5 546.4 140.8 549.9 141.1 553.3 141.4 576.4 141.7 560.7 142.0 551.0 142.3 560.2 142.6 547.7 142.9 567.9 143.2 561.8 143.5 543.0 143.8 561.4 144.1 562.2 144.4 522.1 144.7 548.5 145.0 551.0 145.3 540.0 145.6 546.5 145.9 542.5 146.2 560.5 146.5 558.8 146.8 580.0 147.1 553.0 147.4 567.6 147.7 557.5 148.0 559.4 148.3 547.5 148.6 532.9 148.9 551.0 149.2 568.8 149.5 582.3 149.8 563.7 150.1 562.9 150.4 546.8 150.7 573.6 151.0 571.8 151.3 554.4 151.6 558.8 151.9 545.7 152.2 573.8 152.5 565.4 152.8 558.3 153.1 565.8 153.4 566.5 153.7 557.0 154.0 550.5 154.3 543.7 154.6 547.2 154.9 565.5 155.2 583.8 155.5 548.1 155.8 563.5 156.1 565.8 156.4 548.7 156.7 564.2 157.0 547.7 157.3 574.2 157.6 557.9 157.9 564.1 158.2 569.7 158.5 559.8 158.8 549.5 159.1 556.2 159.4 571.1 159.7 563.4 160.0 566.4 160.3 555.5 160.6 565.9 160.9 571.4 161.2 565.2 161.5 583.8 161.8 563.2 162.1 551.0 162.4 552.3 162.7 576.3 163.0 564.9 163.3 575.1 163.6 572.0 163.9 581.6 164.2 577.9 164.5 562.7 164.8 568.5 165.1 576.4 165.4 549.8 165.7 588.4 166.0 584.5 166.3 575.8 166.6 564.9 166.9 569.5 167.2 551.8 167.5 567.5 167.8 558.7 168.1 567.9 168.4 560.2 168.7 571.1 169.0 578.6 169.3 556.9 169.6 576.3 169.9 552.3 170.2 551.3 170.5 566.9 170.8 568.1 171.1 572.2 171.4 555.2 171.7 567.8 172.0 569.6 172.3 580.5 172.6 567.8 172.9 576.1 173.2 560.8 173.5 567.3 173.8 565.3 174.1 579.2 174.4 561.1 174.7 562.4 175.0 574.7 175.3 587.0 175.6 573.1 175.9 572.5 176.2 564.8 176.5 580.2 176.8 575.0 177.1 587.0 177.4 573.2 177.7 562.5 178.0 565.6 178.3 562.4 178.6 560.5 178.9 582.7 179.2 578.3 179.5 560.9 179.8 588.4 180.1 574.3 180.4 563.4 180.7 574.8 181.0 570.9 181.3 565.1 181.6 556.6 181.9 572.1 182.2 574.5 182.5 541.1 182.8 577.1 183.1 577.7 183.4 565.4 183.7 573.2 184.0 569.8 184.3 565.3 184.6 569.3 184.9 585.2 185.2 560.8 185.5 574.5 185.8 574.0 186.1 566.5 186.4 568.6 186.7 561.1 187.0 565.3 187.3 572.5 187.6 575.2 187.9 564.9 188.2 595.5 188.5 567.5 188.8 573.4 189.1 570.3 189.4 568.8 189.7 584.5 190.0 568.2 190.3 584.8 190.6 582.8 190.9 563.6 191.2 581.8 191.5 566.7 191.8 595.3 192.1 566.6 192.4 559.4 192.7 557.4 193.0 555.2 193.3 567.2 193.6 563.9 193.9 562.2 194.2 566.3 194.5 568.9 194.8 593.7 195.1 558.7 195.4 567.4 195.7 564.2 196.0 552.5 196.3 561.8 196.6 559.7 196.9 578.4 197.2 570.3 197.5 564.4 197.8 577.4 198.1 575.5 198.4 570.0 198.7 577.0 199.0 565.0 199.3 577.5 199.6 576.0 199.9 568.3 200.2 562.0 200.5 594.5 200.8 572.6 201.1 608.4 201.4 566.3 201.7 579.5 202.0 568.1 202.3 573.9 202.6 579.3 202.9 565.1 203.2 570.8 203.5 573.1 203.8 572.6 204.1 577.0 204.4 586.4 204.7 583.4 205.0 573.9 205.3 568.7 205.6 562.5 205.9 565.5 206.2 567.1 206.5 581.1 206.8 568.4 207.1 561.5 207.4 577.1 207.7 564.8 208.0 565.1 208.3 569.4 208.6 577.7 208.9 542.4 209.2 556.4 209.5 572.6 209.8 568.0 210.1 559.3 210.4 563.3 210.7 591.2 211.0 566.9 211.3 577.1 211.6 577.7 211.9 564.2 212.2 574.4 212.5 566.6 212.8 565.2 213.1 561.2 213.4 578.1 213.7 564.4 214.0 565.4 214.3 555.1 214.6 587.1 214.9 576.4 215.2 568.6 215.5 563.9 215.8 557.6 216.1 572.0 216.4 571.9 216.7 558.2 217.0 579.9 217.3 580.0 217.6 561.3 217.9 564.4 218.2 562.9 218.5 570.3 218.8 567.5 219.1 556.0 219.4 582.4 219.7 572.7 220.0 580.1 220.3 580.0 220.6 566.6 220.9 571.3 221.2 574.8 221.5 575.0 221.8 566.6 222.1 562.9 222.4 568.2 222.7 557.0 223.0 560.1 223.3 552.4 223.6 568.3 223.9 559.3 224.2 562.8 224.5 566.3 224.8 570.0 225.1 585.2 225.4 568.9 225.7 549.1 226.0 568.1 226.3 562.0 226.6 570.3 226.9 561.1 227.2 560.9 227.5 562.4 227.8 561.4 228.1 552.6 228.4 560.9 228.7 566.2 229.0 577.2 229.3 563.7 229.6 563.0 229.9 571.1 230.2 570.7 230.5 580.8 230.8 570.9 231.1 565.5 231.4 585.0 231.7 579.8 232.0 561.5 232.3 567.2 232.6 552.4 232.9 562.1 233.2 553.4 233.5 563.2 233.8 560.9 234.1 563.4 234.4 563.8 234.7 568.9 235.0 566.5 235.3 559.8 235.6 554.2 235.9 575.5 236.2 577.2 236.5 557.7 236.8 571.5 237.1 544.6 237.4 544.1 237.7 561.3 238.0 585.0 238.3 555.1 238.6 556.6 238.9 578.2 239.2 548.8 239.5 571.8 239.8 567.2 240.1 559.7 240.4 565.0 240.7 585.2 241.0 553.6 241.3 559.8 241.6 560.3 241.9 556.6 242.2 551.6 242.5 576.8 242.8 564.6 243.1 548.5 243.4 552.3 243.7 565.1 244.0 565.0 244.3 550.3 244.6 560.5 244.9 563.4 245.2 564.5 245.5 564.4 245.8 547.2 246.1 588.2 246.4 562.5 246.7 577.5 247.0 596.2 247.3 559.0 247.6 550.6 247.9 567.9 248.2 558.6 248.5 556.3 248.8 551.7 249.1 575.5 249.4 556.1 249.7 542.0 250.0 555.8 250.3 550.3 250.6 560.6 250.9 555.7 251.2 550.7 251.5 564.2 251.8 553.7 252.1 565.2 252.4 570.1 252.7 555.6 253.0 549.8 253.3 560.8 253.6 566.2 253.9 557.9 254.2 559.3 254.5 557.3 254.8 560.5 255.1 563.3 255.4 548.3 255.7 553.6 256.0 557.7 256.3 551.9 256.6 558.7 256.9 561.7 257.2 556.7 257.5 551.9 257.8 550.4 258.1 572.8 258.4 564.2 258.7 547.5 259.0 549.4 259.3 573.5 259.6 577.7 259.9 556.8 260.2 566.0 260.5 544.1 260.8 555.3 261.1 561.6 261.4 541.2 261.7 548.6 262.0 561.6 262.3 564.7 262.6 546.5 262.9 556.8 263.2 568.9 263.5 550.9 263.8 543.7 264.1 553.3 264.4 550.4 264.7 572.0 265.0 555.2 265.3 546.9 265.6 575.3 265.9 546.2 266.2 556.9 266.5 558.6 266.8 559.4 267.1 553.9 267.4 557.3 267.7 551.6 268.0 534.4 268.3 550.1 268.6 550.1 268.9 550.1 269.2 552.6 269.5 543.0 269.8 563.1 270.1 565.3 270.4 525.1 270.7 550.8 271.0 541.3 271.3 532.2 271.6 553.9 271.9 545.2 272.2 547.0 272.5 541.3 272.8 559.4 273.1 560.7 273.4 551.9 273.7 555.4 274.0 548.3 274.3 550.3 274.6 543.1 274.9 549.1 275.2 543.0 275.5 553.3 275.8 555.6 276.1 550.9 276.4 558.7 276.7 570.1 277.0 532.6 277.3 547.9 277.6 543.0 277.9 543.8 278.2 537.0 278.5 547.6 278.8 544.9 279.1 541.8 279.4 543.1 279.7 541.9 280.0 519.4 280.3 555.8 280.6 543.7 280.9 538.6 281.2 549.7 281.5 537.0 281.8 529.9 282.1 553.1 282.4 532.7 282.7 543.3 283.0 545.9 283.3 563.7 283.6 555.1 283.9 545.8 284.2 538.2 284.5 540.7 284.8 553.5 285.1 560.1 285.4 548.2 285.7 538.3 286.0 552.3 286.3 540.1 286.6 537.4 286.9 540.5 287.2 550.4 287.5 544.8 287.8 551.0 288.1 560.3 288.4 546.3 288.7 525.2 289.0 529.1 289.3 542.8 289.6 540.2 289.9 561.2 290.2 540.7 290.5 539.6 290.8 548.9 291.1 555.1 291.4 537.0 291.7 544.2 292.0 531.3 292.3 527.8 292.6 550.6 292.9 528.9 293.2 551.9 293.5 548.2 293.8 549.3 294.1 546.8 294.4 543.5 294.7 513.7 295.0 525.7 295.3 533.5 295.6 546.0 295.9 529.3 296.2 528.6 296.5 534.7 296.8 555.8 297.1 526.4 297.4 526.9 297.7 542.3 298.0 521.5 298.3 539.4 298.6 532.8 298.9 524.6 299.2 532.7 299.5 528.2 299.8 537.2 300.1 540.2 300.4 548.7 300.7 535.2 301.0 536.2 301.3 530.4 301.6 534.6 301.9 543.8 302.2 520.5 302.5 539.9 302.8 529.9 303.1 534.6 303.4 536.5 303.7 540.9 304.0 535.4 304.3 530.1 304.6 535.6 304.9 532.9 305.2 531.0 305.5 534.1 305.8 539.7 306.1 533.2 306.4 533.6 306.7 515.8 307.0 530.4 307.3 517.7 307.6 537.1 307.9 523.5 308.2 541.9 308.5 552.0 308.8 526.9 309.1 541.6 309.4 533.1 309.7 525.1 310.0 522.8 310.3 533.8 310.6 541.1 310.9 531.6 311.2 510.2 311.5 520.2 311.8 524.8 312.1 546.6 312.4 531.0 312.7 530.1 313.0 543.7 313.3 525.3 313.6 526.0 313.9 525.0 314.2 513.4 314.5 530.0 314.8 529.3 315.1 534.0 315.4 510.8 315.7 518.9 316.0 533.0 316.3 527.5 316.6 543.6 316.9 513.5 317.2 525.8 317.5 518.7 317.8 526.3 318.1 519.7 318.4 527.8 318.7 532.4 319.0 528.6 319.3 509.6 319.6 535.0 319.9 526.0 320.2 514.1 320.5 515.0 320.8 521.7 321.1 528.8 321.4 517.6 321.7 509.1 322.0 523.1 322.3 521.9 322.6 541.8 322.9 510.5 323.2 541.4 323.5 535.3 323.8 522.0 324.1 534.0 324.4 519.8 324.7 527.2 325.0 513.0 325.3 519.1 325.6 510.5 325.9 499.3 326.2 515.6 326.5 512.5 326.8 522.2 327.1 528.3 327.4 515.7 327.7 517.4 328.0 518.3 328.3 504.5 328.6 518.7 328.9 516.5 329.2 516.0 329.5 508.0 329.8 502.1 330.1 514.1 330.4 518.6 330.7 527.6 331.0 525.6 331.3 528.6 331.6 520.3 331.9 525.6 332.2 512.7 332.5 520.8 332.8 523.4 333.1 536.8 333.4 518.3 333.7 505.9 334.0 527.2 334.3 509.2 334.6 514.7 334.9 512.8 335.2 503.7 335.5 526.5 335.8 519.8 336.1 510.1 336.4 515.3 336.7 511.3 337.0 519.8 337.3 511.6 337.6 504.9 337.9 509.5 338.2 508.7 338.5 517.8 338.8 507.3 339.1 513.5 339.4 517.8 339.7 535.4 340.0 525.3 340.3 482.3 340.6 509.9 340.9 508.6 341.2 516.4 341.5 527.4 341.8 519.8 342.1 497.7 342.4 517.2 342.7 514.3 343.0 516.8 343.3 525.1 343.6 505.1 343.9 527.9 344.2 501.3 344.5 513.5 344.8 516.1 345.1 533.7 345.4 507.5 345.7 500.7 346.0 521.6 346.3 504.3 346.6 526.3 346.9 507.2 347.2 501.6 347.5 523.1 347.8 513.1 348.1 525.6 348.4 501.9 348.7 526.7 349.0 507.6 349.3 518.9 349.6 504.5 349.9 500.8 350.2 508.4 350.5 513.3 350.8 533.5 351.1 514.6 351.4 517.7 351.7 517.1 352.0 532.8 352.3 505.5 352.6 522.3 352.9 509.4 353.2 513.7 353.5 507.4 353.8 521.5 354.1 502.4 354.4 495.9 354.7 510.0 355.0 503.1 355.3 517.5 355.6 519.4 355.9 506.0 356.2 518.2 356.5 503.4 356.8 511.4 357.1 511.8 357.4 537.9 357.7 511.5 358.0 505.0 358.3 504.9 358.6 522.0 358.9 499.9 359.2 508.2 359.5 506.9 359.8 495.3 360.1 508.3 360.4 525.0 360.7 513.7 361.0 505.2 361.3 517.6 361.6 516.1 361.9 529.9 362.2 506.4 362.5 509.0 362.8 512.3 363.1 510.0 363.4 512.7 363.7 510.4 364.0 506.8 364.3 493.5 364.6 507.8 364.9 502.0 365.2 504.3 365.5 507.9 365.8 516.2 366.1 519.1 366.4 499.5 366.7 514.5 367.0 518.7 367.3 511.7 367.6 500.5 367.9 488.1 368.2 518.6 368.5 519.7 368.8 514.3 369.1 504.3 369.4 524.5 369.7 522.3 370.0 511.7 370.3 510.4 370.6 498.6 370.9 521.6 371.2 500.7 371.5 517.7 371.8 521.3 372.1 512.9 372.4 525.7 372.7 509.7 373.0 517.0 373.3 518.7 373.6 514.2 373.9 509.1 374.2 522.6 374.5 515.7 374.8 510.9 375.1 511.1 375.4 513.5 375.7 532.8 376.0 513.5 376.3 510.9 376.6 505.1 376.9 504.2 377.2 500.1 377.5 515.2 377.8 513.7 378.1 506.1 378.4 503.3 378.7 511.5 379.0 510.2 379.3 504.8 379.6 518.0 379.9 515.9 380.2 513.9 380.5 521.4 380.8 510.4 381.1 526.9 381.4 508.3 381.7 520.0 382.0 523.8 382.3 514.2 382.6 519.2 382.9 507.4 383.2 499.4 383.5 515.4 383.8 508.1 384.1 522.1 384.4 517.8 384.7 522.7 385.0 520.4 385.3 519.7 385.6 519.0 385.9 515.7 386.2 515.2 386.5 536.5 386.8 499.1 387.1 517.8 387.4 527.6 387.7 524.5 388.0 531.6 388.3 526.6 388.6 511.1 388.9 515.9 389.2 510.6 389.5 528.8 389.8 533.0 390.1 515.3 390.4 525.6 390.7 518.3 391.0 511.5 391.3 518.4 391.6 510.9 391.9 517.9 392.2 524.5 392.5 531.4 392.8 533.5 393.1 520.4 393.4 524.9 393.7 526.6 394.0 527.9 394.3 494.1 394.6 514.2 394.9 530.4 395.2 516.1 395.5 526.3 395.8 531.3 396.1 511.8 396.4 523.5 396.7 526.9 397.0 525.3 397.3 514.8 397.6 528.3 397.9 521.7 398.2 532.6 398.5 529.6 398.8 522.3 399.1 528.0 399.4 521.8 399.7 521.9 400.0 516.4 400.3 525.8 400.6 534.3 400.9 529.0 401.2 528.2 401.5 524.0 401.8 525.0 402.1 538.0 402.4 519.1 402.7 557.4 403.0 529.6 403.3 549.2 403.6 540.3 403.9 528.0 404.2 537.2 404.5 533.7 404.8 535.6 405.1 538.6 405.4 528.6 405.7 528.4 406.0 530.1 406.3 524.0 406.6 531.9 406.9 535.9 407.2 536.4 407.5 536.3 407.8 532.2 408.1 541.7 408.4 522.2 408.7 530.5 409.0 531.6 409.3 543.8 409.6 542.2 409.9 543.6 410.2 537.7 410.5 545.5 410.8 526.0 411.1 539.0 411.4 525.0 411.7 553.4 412.0 559.5 412.3 535.4 412.6 534.0 412.9 526.6 413.2 530.3 413.5 541.9 413.8 540.2 414.1 531.6 414.4 538.4 414.7 537.5 415.0 546.3 415.3 548.5 415.6 541.7 415.9 544.1 416.2 543.9 416.5 521.5 416.8 546.0 417.1 544.5 417.4 551.2 417.7 533.4 418.0 551.9 418.3 541.7 418.6 548.6 418.9 556.7 419.2 537.2 419.5 538.6 419.8 555.8 420.1 540.3 420.4 541.8 420.7 553.6 421.0 547.7 421.3 555.7 421.6 552.2 421.9 550.0 422.2 558.3 422.5 579.6 422.8 550.4 423.1 563.6 423.4 565.4 423.7 553.0 424.0 555.9 424.3 546.1 424.6 548.6 424.9 555.4 425.2 553.3 425.5 564.4 425.8 539.1 426.1 552.4 426.4 550.2 426.7 554.0 427.0 564.7 427.3 547.3 427.6 562.6 427.9 552.0 428.2 551.9 428.5 564.7 428.8 555.0 429.1 562.6 429.4 558.5 429.7 556.7 430.0 555.6 430.3 547.0 430.6 549.5 430.9 560.3 431.2 561.0 431.5 549.6 431.8 567.9 432.1 564.7 432.4 551.7 432.7 553.6 433.0 565.1 433.3 549.8 433.6 556.5 433.9 561.6 434.2 560.0 434.5 562.2 434.8 565.9 435.1 557.6 435.4 560.0 435.7 581.0 436.0 554.6 436.3 561.1 436.6 565.2 436.9 560.3 437.2 575.0 437.5 565.7 437.8 571.7 438.1 549.8 438.4 580.8 438.7 575.8 439.0 561.6 439.3 577.8 439.6 570.1 439.9 575.2 440.2 591.4 440.5 569.0 440.8 556.8 441.1 569.0 441.4 560.6 441.7 564.0 442.0 564.5 442.3 561.5 442.6 584.7 442.9 580.6 443.2 564.8 443.5 580.4 443.8 560.5 444.1 567.4 444.4 571.3 444.7 587.2 445.0 578.6 445.3 576.8 445.6 584.1 445.9 582.2 446.2 591.2 446.5 565.1 446.8 563.7 447.1 572.2 447.4 582.0 447.7 577.8 448.0 583.2 448.3 582.0 448.6 582.6 448.9 583.5 449.2 572.4 449.5 586.4 449.8 571.1 450.1 576.5 450.4 569.1 450.7 584.7 451.0 568.9 451.3 597.2 451.6 570.8 451.9 582.3 452.2 579.6 452.5 570.5 452.8 591.2 453.1 578.5 453.4 600.2 453.7 570.2 454.0 576.8 454.3 569.8 454.6 587.4 454.9 590.6 455.2 585.9 455.5 581.6 455.8 577.9 456.1 604.6 456.4 593.7 456.7 573.2 457.0 583.4 457.3 559.4 457.6 606.2 457.9 603.0 458.2 598.7 458.5 586.8 458.8 583.3 459.1 578.3 459.4 594.1 459.7 583.2 460.0 586.1 460.3 584.6 460.6 587.2 460.9 596.7 461.2 603.8 461.5 591.5 461.8 590.8 462.1 583.3 462.4 582.9 462.7 579.3 463.0 602.5 463.3 594.7 463.6 600.2 463.9 596.1 464.2 590.3 464.5 585.0 464.8 591.2 465.1 584.5 465.4 611.1 465.7 596.8 466.0 592.4 466.3 621.4 466.6 592.9 466.9 600.3 467.2 595.1 467.5 600.4 467.8 594.2 468.1 600.8 468.4 615.2 468.7 583.3 469.0 583.6 469.3 608.9 469.6 599.5 469.9 608.9 470.2 596.6 470.5 611.4 470.8 622.6 471.1 591.2 471.4 604.7 471.7 595.3 472.0 582.1 472.3 597.9 472.6 604.6 472.9 591.1 473.2 591.8 473.5 610.6 473.8 601.2 474.1 604.2 474.4 593.5 474.7 593.5 475.0 602.6 475.3 603.3 475.6 603.2 475.9 622.3 476.2 603.7 476.5 585.6 476.8 596.7 477.1 601.6 477.4 613.3 477.7 598.5 478.0 598.3 478.3 603.5 478.6 598.9 478.9 598.3 479.2 600.7 479.5 612.1 479.8 608.2 480.1 602.7 480.4 609.0 480.7 590.5 481.0 613.1 481.3 611.2 481.6 608.5 481.9 595.1 482.2 622.9 482.5 577.3 482.8 599.6 483.1 600.3 483.4 612.2 483.7 597.1 484.0 609.0 484.3 606.4 484.6 605.6 484.9 614.5 485.2 619.4 485.5 612.2 485.8 606.5 486.1 594.4 486.4 620.7 486.7 606.9 487.0 589.3 487.3 610.7 487.6 621.3 487.9 608.9 488.2 602.2 488.5 639.7 488.8 615.2 489.1 613.4 489.4 618.9 489.7 597.4 490.0 610.9 490.3 610.4 490.6 630.8 490.9 608.0 491.2 608.3 491.5 603.1 491.8 606.9 492.1 611.3 492.4 615.4 492.7 610.1 493.0 629.9 493.3 617.2 493.6 618.6 493.9 624.7 494.2 621.1 494.5 607.6 494.8 604.1 495.1 617.2 495.4 608.9 495.7 625.3 496.0 609.7 496.3 601.1 496.6 615.7 496.9 623.9 497.2 614.2 497.5 617.2 497.8 617.1 498.1 630.1 498.4 619.2 498.7 616.2 499.0 609.0 499.3 606.0 499.6 628.2 499.9 626.1 500.2 610.7 500.5 624.2 500.8 620.0 501.1 615.0 501.4 615.7 501.7 623.9 502.0 610.1 502.3 614.7 502.6 617.0 502.9 618.7 503.2 617.4 503.5 620.7 503.8 623.2 504.1 608.8 504.4 620.2 504.7 616.0 505.0 631.9 505.3 610.6 505.6 618.5 505.9 628.2 506.2 618.5 506.5 616.2 506.8 617.0 507.1 623.4 507.4 613.3 507.7 620.8 508.0 620.8 508.3 612.0 508.6 623.9 508.9 618.7 509.2 624.5 509.5 629.0 509.8 625.1 510.1 614.7 510.4 625.3 510.7 605.6 511.0 617.9 511.3 636.9 511.6 623.7 511.9 643.2 512.2 621.3 512.5 624.2 512.8 616.7 513.1 631.8 513.4 621.8 513.7 629.6 514.0 629.7 514.3 629.2 514.6 628.7 514.9 625.2 515.2 625.7 515.5 621.0 515.8 612.4 516.1 631.6 516.4 643.4 516.7 634.8 517.0 646.1 517.3 630.3 517.6 620.2 517.9 615.7 518.2 632.7 518.5 629.7 518.8 626.0 519.1 636.1 519.4 621.4 519.7 631.5 520.0 624.1 520.3 628.9 520.6 637.2 520.9 626.9 521.2 639.0 521.5 638.7 521.8 622.9 522.1 647.6 522.4 620.0 522.7 627.1 523.0 634.3 523.3 614.3 523.6 636.9 523.9 643.0 524.2 628.2 524.5 632.1 524.8 630.8 525.1 627.8 525.4 637.8 525.7 626.8 526.0 629.2 526.3 632.4 526.6 636.3 526.9 638.5 527.2 620.0 527.5 616.9 527.8 629.1 528.1 629.8 528.4 622.8 528.7 633.8 529.0 635.2 529.3 633.4 529.6 643.9 529.9 623.6 530.2 630.9 530.5 655.9 530.8 636.1 531.1 623.4 531.4 632.6 531.7 640.5 532.0 648.5 532.3 639.2 532.6 645.9 532.9 619.2 533.2 629.8 533.5 646.5 533.8 625.2 534.1 631.4 534.4 619.8 534.7 643.8 535.0 631.2 535.3 636.5 535.6 622.3 535.9 623.5 536.2 647.2 536.5 630.1 536.8 628.8 537.1 636.6 537.4 637.0 537.7 620.3 538.0 626.3 538.3 633.4 538.6 633.2 538.9 635.8 539.2 630.3 539.5 629.9 539.8 635.0 540.1 625.6 540.4 627.8 540.7 629.8 541.0 633.8 541.3 632.7 541.6 630.4 541.9 632.1 542.2 633.6 542.5 636.3 542.8 638.0 543.1 625.4 543.4 645.8 543.7 623.6 544.0 638.3 544.3 629.3 544.6 638.6 544.9 642.5 545.2 622.3 545.5 638.9 545.8 637.4 546.1 631.2 546.4 637.4 546.7 628.7 547.0 635.5 547.3 627.6 547.6 640.7 547.9 639.2 548.2 640.4 548.5 630.3 548.8 658.2 549.1 651.0 549.4 634.4 549.7 630.1 550.0 632.3 550.3 643.1 550.6 643.1 550.9 630.1 551.2 614.5 551.5 638.7 551.8 635.1 552.1 636.7 552.4 641.3 552.7 623.3 553.0 636.0 553.3 633.6 553.6 638.5 553.9 645.2 554.2 635.8 554.5 630.0 554.8 645.5 555.1 641.2 555.4 633.3 555.7 617.2 556.0 626.1 556.3 637.1 556.6 640.2 556.9 632.5 557.2 639.4 557.5 631.9 557.8 631.1 558.1 640.2 558.4 634.4 558.7 637.6 559.0 646.5 559.3 645.1 559.6 632.5 559.9 633.3 560.2 627.9 560.5 622.5 560.8 638.9 561.1 633.1 561.4 617.6 561.7 640.7 562.0 631.2 562.3 634.7 562.6 640.0 562.9 639.9 563.2 636.7 563.5 624.7 563.8 641.3 564.1 633.1 564.4 628.1 564.7 615.1 565.0 647.5 565.3 638.4 565.6 638.3 565.9 642.0 566.2 636.2 566.5 621.9 566.8 642.7 567.1 645.2 567.4 641.5 567.7 649.7 568.0 661.5 568.3 632.6 568.6 634.9 568.9 648.2 569.2 639.4 569.5 639.7 569.8 645.2 570.1 643.7 570.4 635.3 570.7 639.2 571.0 630.2 571.3 637.1 571.6 631.2 571.9 626.3 572.2 635.2 572.5 634.6 572.8 645.4 573.1 651.0 573.4 639.0 573.7 644.0 574.0 634.6 574.3 632.8 574.6 635.5 574.9 637.1 575.2 642.2 575.5 640.0 575.8 659.5 576.1 637.8 576.4 628.9 576.7 640.3 577.0 635.0 577.3 641.0 577.6 648.1 577.9 635.3 578.2 639.2 578.5 643.5 578.8 633.5 579.1 641.4 579.4 645.9 579.7 646.0 580.0 652.9 580.3 644.1 580.6 643.0 580.9 631.2 581.2 614.6 581.5 633.9 581.8 651.3 582.1 641.3 582.4 626.8 582.7 637.7 583.0 643.2 583.3 629.1 583.6 644.9 583.9 633.2 584.2 648.6 584.5 641.1 584.8 659.8 585.1 632.4 585.4 643.1 585.7 631.6 586.0 649.8 586.3 642.1 586.6 648.1 586.9 642.1 587.2 633.7 587.5 637.0 587.8 633.4 588.1 634.6 588.4 642.6 588.7 654.2 589.0 648.0 589.3 645.5 589.6 638.0 589.9 645.5 590.2 636.2 590.5 643.4 590.8 648.2 591.1 639.7 591.4 638.9 591.7 639.2 592.0 649.1 592.3 640.1 592.6 627.4 592.9 639.5 593.2 635.4 593.5 653.9 593.8 642.6 594.1 633.2 594.4 644.5 594.7 647.9 595.0 645.4 595.3 640.3 595.6 644.2 595.9 644.8 596.2 650.3 596.5 645.6 596.8 661.0 597.1 641.6 597.4 654.8 597.7 643.3 598.0 632.5 598.3 635.6 598.6 632.0 598.9 632.6 599.2 652.4 599.5 639.1 599.8 647.9 600.1 637.7 600.4 643.5 600.7 636.8 601.0 653.6 601.3 642.0 601.6 638.6 601.9 641.8 602.2 661.1 602.5 647.2 602.8 650.1 603.1 636.1 603.4 636.9 603.7 646.3 604.0 632.7 604.3 654.3 604.6 647.1 604.9 644.2 605.2 643.1 605.5 642.9 605.8 641.1 606.1 655.1 606.4 649.6 606.7 654.0 607.0 642.6 607.3 639.0 607.6 660.9 607.9 637.0 608.2 640.8 608.5 650.1 608.8 657.6 609.1 636.6 609.4 641.9 609.7 645.2 610.0 644.3 610.3 639.6 610.6 652.8 610.9 641.8 611.2 643.7 611.5 631.9 611.8 644.0 612.1 633.6 612.4 650.6 612.7 650.9 613.0 642.1 613.3 646.7 613.6 646.4 613.9 644.6 614.2 648.2 614.5 644.8 614.8 642.5 615.1 637.0 615.4 658.4 615.7 647.1 616.0 645.2 616.3 650.9 616.6 643.1 616.9 643.2 617.2 650.5 617.5 653.3 617.8 650.6 618.1 636.5 618.4 646.2 618.7 645.7 619.0 650.7 619.3 640.1 619.6 639.1 619.9 645.1 620.2 640.1 620.5 634.6 620.8 645.4 621.1 652.6 621.4 647.1 621.7 654.1 622.0 639.5 622.3 651.0 622.6 645.9 622.9 636.5 623.2 643.2 623.5 640.4 623.8 643.4 624.1 641.1 624.4 655.3 624.7 643.6 625.0 637.1 625.3 643.7 625.6 648.8 625.9 644.0 626.2 652.3 626.5 640.2 626.8 640.6 627.1 665.3 627.4 646.2 627.7 650.0 628.0 651.5 628.3 650.3 628.6 646.5 628.9 644.9 629.2 658.5 629.5 643.0 629.8 647.1 630.1 651.1 630.4 643.7 630.7 630.8 631.0 649.5 631.3 654.2 631.6 648.9 631.9 636.1 632.2 650.9 632.5 661.3 632.8 636.9 633.1 631.0 633.4 644.8 633.7 647.0 634.0 652.0 634.3 652.3 634.6 647.1 634.9 650.3 635.2 648.8 635.5 647.6 635.8 646.1 636.1 645.4 636.4 651.4 636.7 649.2 637.0 643.6 637.3 654.2 637.6 641.6 637.9 644.7 638.2 647.1 638.5 634.8 638.8 643.6 639.1 655.5 639.4 655.0 639.7 638.5 640.0 640.6 640.3 639.1 640.6 644.3 640.9 645.3 641.2 636.0 641.5 647.8 641.8 646.1 642.1 645.1 642.4 641.2 642.7 644.2 643.0 634.7 643.3 646.9 643.6 646.8 643.9 644.6 644.2 637.9 644.5 654.3 644.8 653.2 645.1 626.9 645.4 649.3 645.7 646.0 646.0 630.3 646.3 648.4 646.6 649.3 646.9 649.8 647.2 646.2 647.5 640.5 647.8 641.3 648.1 648.1 648.4 652.9 648.7 641.3 649.0 642.6 649.3 649.2 649.6 631.8 649.9 647.4 650.2 642.7 650.5 623.5 650.8 652.5 651.1 638.3 651.4 649.6 651.7 653.9 652.0 636.2 652.3 636.5 652.6 643.5 652.9 626.8 653.2 648.8 653.5 645.0 653.8 650.6 654.1 632.7 654.4 644.9 654.7 646.7 655.0 632.8 655.3 653.3 655.6 635.0 655.9 644.6 656.2 635.2 656.5 648.8 656.8 663.1 657.1 643.7 657.4 643.4 657.7 652.5 658.0 640.2 658.3 643.4 658.6 648.7 658.9 647.5 659.2 654.4 659.5 656.5 659.8 657.2 660.1 642.6 660.4 655.6 660.7 637.5 661.0 649.1 661.3 655.6 661.6 660.3 661.9 630.2 662.2 641.4 662.5 650.5 662.8 636.8 663.1 648.5 663.4 645.9 663.7 637.2 664.0 638.5 664.3 636.1 664.6 644.0 664.9 650.9 665.2 643.7 665.5 659.1 665.8 632.4 666.1 637.7 666.4 646.1 666.7 634.1 667.0 643.6 667.3 650.4 667.6 642.2 667.9 639.4 668.2 647.5 668.5 645.5 668.8 648.9 669.1 644.4 669.4 633.7 669.7 633.5 670.0 637.8 670.3 641.4 670.6 638.2 670.9 650.9 671.2 641.7 671.5 651.0 671.8 640.6 672.1 635.0 672.4 645.5 672.7 642.9 673.0 634.0 673.3 636.6 673.6 656.7 673.9 621.3 674.2 647.1 674.5 639.3 674.8 638.3 675.1 636.7 675.4 635.2 675.7 656.0 676.0 635.5 676.3 636.3 676.6 643.8 676.9 640.7 677.2 636.0 677.5 636.0 677.8 629.5 678.1 645.4 678.4 630.9 678.7 623.5 679.0 644.8 679.3 642.5 679.6 639.5 679.9 631.6 680.2 645.5 680.5 630.1 680.8 624.0 681.1 637.8 681.4 642.2 681.7 640.8 682.0 652.0 682.3 642.2 682.6 634.7 682.9 634.8 683.2 642.3 683.5 635.5 683.8 635.0 684.1 625.2 684.4 632.3 684.7 627.6 685.0 637.2 685.3 636.4 685.6 640.4 685.9 648.6 686.2 634.1 686.5 651.9 686.8 628.1 687.1 636.6 687.4 645.7 687.7 649.6 688.0 628.0 688.3 633.1 688.6 636.2 688.9 634.0 689.2 628.6 689.5 624.7 689.8 626.9 690.1 633.4 690.4 626.1 690.7 647.5 691.0 643.1 691.3 615.9 691.6 630.9 691.9 649.3 692.2 650.8 692.5 642.0 692.8 619.6 693.1 631.4 693.4 643.0 693.7 634.4 694.0 628.7 694.3 637.1 694.6 644.5 694.9 634.4 695.2 635.1 695.5 641.0 695.8 629.6 696.1 627.4 696.4 638.5 696.7 625.6 697.0 636.4 697.3 628.2 697.6 638.8 697.9 625.4 698.2 645.6 698.5 634.6 698.8 630.6 699.1 623.6 699.4 631.4 699.7 622.9 700.0 624.9 700.3 644.4 700.6 638.6 700.9 641.0 701.2 623.8 701.5 620.5 701.8 622.3 702.1 636.4 702.4 640.7 702.7 620.7 703.0 639.0 703.3 628.8 703.6 624.1 703.9 631.0 704.2 637.5 704.5 628.9 704.8 630.1 705.1 625.9 705.4 622.5 705.7 628.6 706.0 621.2 706.3 635.1 706.6 625.5 706.9 640.3 707.2 621.3 707.5 641.0 707.8 625.2 708.1 625.2 708.4 632.8 708.7 637.2 709.0 630.2 709.3 628.6 709.6 645.9 709.9 634.5 710.2 623.6 710.5 629.4 710.8 650.8 711.1 633.5 711.4 637.1 711.7 646.6 712.0 627.6 712.3 634.0 712.6 627.3 712.9 631.6 713.2 635.4 713.5 618.4 713.8 632.8 714.1 632.8 714.4 639.4 714.7 625.6 715.0 619.2 715.3 636.2 715.6 620.7 715.9 633.5 716.2 636.2 716.5 626.8 716.8 631.6 717.1 626.0 717.4 616.8 717.7 623.7 718.0 620.5 718.3 632.6 718.6 626.1 718.9 631.8 719.2 632.5 719.5 640.4 719.8 630.7 720.1 630.4 720.4 636.5 720.7 644.9 721.0 632.7 721.3 635.6 721.6 632.1 721.9 628.9 722.2 624.2 722.5 633.0 722.8 630.5 723.1 630.8 723.4 648.5 723.7 631.6 724.0 636.1 724.3 631.7 724.6 642.4 724.9 630.7 725.2 655.8 725.5 632.5 725.8 642.6 726.1 641.5 726.4 632.8 726.7 643.7 727.0 634.9 727.3 629.8 727.6 627.5 727.9 636.9 728.2 647.9 728.5 631.7 728.8 638.6 729.1 626.5 729.4 636.7 729.7 627.1 730.0 630.2 730.3 635.2 730.6 627.4 730.9 632.3 731.2 642.5 731.5 634.7 731.8 631.1 732.1 628.2 732.4 632.5 732.7 644.2 733.0 635.6 733.3 635.3 733.6 641.4 733.9 642.4 734.2 647.8 734.5 632.9 734.8 631.4 735.1 627.3 735.4 633.1 735.7 635.2 736.0 642.8 736.3 641.1 736.6 634.4 736.9 644.4 737.2 630.7 737.5 632.0 737.8 631.5 738.1 632.1 738.4 637.4 738.7 630.4 739.0 634.6 739.3 649.0 739.6 630.9 739.9 633.4 740.2 638.4 740.5 643.1 740.8 643.6 741.1 638.7 741.4 638.3 741.7 637.7 742.0 646.1 742.3 635.4 742.6 628.0 742.9 642.7 743.2 634.5 743.5 641.4 743.8 651.8 744.1 642.7 744.4 655.6 744.7 633.0 745.0 644.2 745.3 645.4 745.6 648.6 745.9 635.5 746.2 644.3 746.5 644.4 746.8 644.2 747.1 635.5 747.4 633.8 747.7 647.7 748.0 646.6 748.3 644.5 748.6 648.9 748.9 652.3 749.2 633.3 749.5 650.4 749.8 655.9 750.1 652.5 750.4 649.6 750.7 653.3 751.0 637.3 751.3 643.0 751.6 657.5 751.9 657.1 752.2 649.8 752.5 642.0 752.8 646.1 753.1 653.1 753.4 662.2 753.7 653.0 754.0 644.4 754.3 652.2 754.6 651.0 754.9 665.4 755.2 652.4 755.5 648.7 755.8 648.1 756.1 636.7 756.4 642.4 756.7 645.9 757.0 640.9 757.3 651.2 757.6 649.9 757.9 655.9 758.2 666.8 758.5 650.6 758.8 648.3 759.1 638.8 759.4 652.3 759.7 654.3 760.0 645.1 760.3 647.5 760.6 645.7 760.9 657.5 761.2 654.4 761.5 658.8 761.8 643.0 762.1 667.5 762.4 641.9 762.7 644.3 763.0 651.9 763.3 647.2 763.6 664.0 763.9 648.2 764.2 646.6 764.5 661.7 764.8 664.7 765.1 645.9 765.4 648.2 765.7 647.5 766.0 650.3 766.3 663.7 766.6 665.5 766.9 658.9 767.2 660.5 767.5 651.7 767.8 657.7 768.1 650.9 768.4 647.2 768.7 663.9 769.0 641.8 769.3 652.1 769.6 648.5 769.9 636.5 770.2 649.8 770.5 652.9 770.8 657.1 771.1 647.4 771.4 657.6 771.7 654.6 772.0 658.2 772.3 641.7 772.6 649.9 772.9 649.0 773.2 656.8 773.5 648.4 773.8 649.9 774.1 646.2 774.4 641.5 774.7 647.6 775.0 659.9 775.3 647.0 775.6 640.0 775.9 655.4 776.2 648.8 776.5 659.3 776.8 657.3 777.1 650.3 777.4 651.2 777.7 650.5 778.0 654.0 778.3 649.3 778.6 655.4 778.9 663.9 779.2 650.2 779.5 650.5 779.8 650.5 780.1 658.6 780.4 659.0 780.7 664.7 781.0 659.5 781.3 655.8 781.6 657.9 781.9 647.2 782.2 660.7 782.5 656.2 782.8 670.2 783.1 664.8 783.4 650.2 783.7 651.8 784.0 661.4 784.3 643.8 784.6 646.4 784.9 659.3 785.2 660.0 785.5 656.9 785.8 663.8 786.1 654.2 786.4 656.6 786.7 653.8 787.0 649.5 787.3 656.4 787.6 652.8 787.9 656.8 788.2 633.4 788.5 657.1 788.8 653.1 789.1 650.2 789.4 656.9 789.7 653.7 790.0 663.0 790.3 665.4 790.6 666.1 790.9 663.4 791.2 660.5 791.5 657.2 791.8 649.5 792.1 654.8 792.4 665.5 792.7 662.4 793.0 652.2 793.3 658.3 793.6 668.8 793.9 656.5 794.2 669.0 794.5 653.0 794.8 663.0 795.1 662.4 795.4 659.4 795.7 659.9 796.0 661.5 796.3 637.7 796.6 661.2 796.9 666.0 797.2 662.2 797.5 670.5 797.8 646.9 798.1 658.0 798.4 660.6 798.7 655.7 799.0 666.8 799.3 661.9 799.6 655.6 799.9 664.3 800.2 664.3 800.5 656.2 800.8 663.1 801.1 661.5 801.4 661.4 801.7 651.8 802.0 668.0 802.3 663.6 802.6 659.2 802.9 662.8 803.2 661.6 803.5 657.6 803.8 653.6 804.1 660.2 804.4 656.0 804.7 656.7 805.0 652.8 805.3 658.0 805.6 666.6 805.9 661.2 806.2 660.1 806.5 657.9 806.8 657.2 807.1 651.2 807.4 671.5 807.7 655.5 808.0 651.3 808.3 662.6 808.6 661.7 808.9 654.7 809.2 651.5 809.5 652.1 809.8 677.4 810.1 658.8 810.4 653.6 810.7 673.4 811.0 656.9 811.3 654.7 811.6 663.9 811.9 662.7 812.2 671.2 812.5 651.4 812.8 662.3 813.1 650.8 813.4 663.5 813.7 656.5 814.0 657.7 814.3 656.1 814.6 666.2 814.9 671.9 815.2 660.1 815.5 659.0 815.8 657.6 816.1 666.0 816.4 654.6 816.7 677.7 817.0 658.2 817.3 672.8 817.6 661.8 817.9 652.9 818.2 651.9 818.5 658.3 818.8 656.6 819.1 659.4 819.4 654.2 819.7 677.9 820.0 676.3 820.3 650.8 820.6 664.2 820.9 673.9 821.2 659.0 821.5 659.7 821.8 672.7 822.1 664.7 822.4 649.5 822.7 669.6 823.0 656.1 823.3 674.4 823.6 655.6 823.9 648.8 824.2 662.0 824.5 674.2 824.8 664.7 825.1 662.4 825.4 655.9 825.7 667.6 826.0 651.0 826.3 669.5 826.6 654.4 826.9 657.8 827.2 648.8 827.5 656.0 827.8 671.8 828.1 654.6 828.4 662.8 828.7 653.4 829.0 668.5 829.3 653.7 829.6 661.6 829.9 670.9 830.2 677.9 830.5 654.7 830.8 656.4 831.1 661.4 831.4 671.9 831.7 655.7 832.0 667.2 832.3 658.0 832.6 655.7 832.9 652.7 833.2 662.7 833.5 671.9 833.8 661.2 834.1 650.2 834.4 658.5 834.7 668.4 835.0 670.8 835.3 663.8 835.6 677.8 835.9 654.6 836.2 654.9 836.5 689.2 836.8 666.5 837.1 660.9 837.4 659.2 837.7 648.5 838.0 667.8 838.3 650.8 838.6 651.3 838.9 662.0 839.2 672.8 839.5 657.9 839.8 664.8 840.1 659.7 840.4 665.0 840.7 653.0 841.0 677.5 841.3 656.8 841.6 666.2 841.9 651.3 842.2 675.1 842.5 665.5 842.8 677.0 843.1 658.7 843.4 669.7 843.7 661.7 844.0 662.5 844.3 676.6 844.6 657.5 844.9 667.8 845.2 676.8 845.5 675.3 845.8 670.2 846.1 665.2 846.4 657.3 846.7 673.1 847.0 659.1 847.3 671.4 847.6 661.2 847.9 663.0 848.2 663.3 848.5 667.4 848.8 660.7 849.1 664.6 849.4 660.2 849.7 667.0 850.0 666.0 850.3 666.3 850.6 658.5 850.9 665.7 851.2 663.9 851.5 667.5 851.8 664.0 852.1 657.9 852.4 668.5 852.7 659.6 853.0 665.6 853.3 652.3 853.6 667.1 853.9 668.2 854.2 654.6 854.5 667.7 854.8 661.6 855.1 673.4 855.4 668.3 855.7 651.9 856.0 661.5 856.3 647.7 856.6 660.4 856.9 669.3 857.2 669.6 857.5 662.6 857.8 661.3 858.1 665.4 858.4 657.9 858.7 667.2 859.0 671.8 859.3 665.5 859.6 670.1 859.9 659.7 860.2 659.2 860.5 666.6 860.8 678.8 861.1 671.3 861.4 676.5 861.7 664.9 862.0 673.1 862.3 649.1 862.6 668.1 862.9 653.3 863.2 673.2 863.5 668.0 863.8 672.8 864.1 667.5 864.4 661.9 864.7 660.5 865.0 666.2 865.3 675.4 865.6 671.4 865.9 661.8 866.2 661.7 866.5 660.9 866.8 662.9 867.1 664.7 867.4 662.3 867.7 665.3 868.0 656.3 868.3 676.1 868.6 667.0 868.9 675.9 869.2 667.3 869.5 664.3 869.8 666.0 870.1 666.9 870.4 661.6 870.7 663.3 871.0 686.9 871.3 671.9 871.6 662.5 871.9 669.1 872.2 660.8 872.5 675.4 872.8 659.9 873.1 675.2 873.4 666.1 873.7 666.1 874.0 661.1 874.3 664.4 874.6 661.4 874.9 657.7 875.2 669.0 875.5 682.4 875.8 664.0 876.1 676.6 876.4 666.1 876.7 661.9 877.0 675.3 877.3 670.4 877.6 673.9 877.9 667.0 878.2 667.2 878.5 661.5 878.8 664.7 879.1 678.0 879.4 654.1 879.7 668.9 880.0 676.5 880.3 671.7 880.6 672.3 880.9 664.9 881.2 674.1 881.5 674.4 881.8 666.4 882.1 678.2 882.4 663.8 882.7 653.5 883.0 666.7 883.3 666.1 883.6 661.8 883.9 662.3 884.2 663.6 884.5 656.7 884.8 680.0 885.1 666.9 885.4 692.8 885.7 666.9 886.0 669.5 886.3 658.5 886.6 673.8 886.9 656.8 887.2 672.5 887.5 673.2 887.8 672.1 888.1 662.2 888.4 662.4 888.7 672.1 889.0 675.1 889.3 677.1 889.6 667.1 889.9 666.7 890.2 679.7 890.5 661.6 890.8 672.3 891.1 664.2 891.4 659.3 891.7 657.0 892.0 672.0 892.3 669.6 892.6 670.7 892.9 665.4 893.2 664.5 893.5 669.4 893.8 666.5 894.1 658.6 894.4 665.0 894.7 679.2 895.0 663.2 895.3 671.2 895.6 666.8 895.9 672.4 896.2 662.6 896.5 655.9 896.8 672.1 897.1 663.6 897.4 667.5 897.7 665.8 898.0 674.0 898.3 669.4 898.6 668.6 898.9 662.1 899.2 659.0 899.5 662.9 899.8 673.2 900.1 672.2 900.4 671.5 900.7 665.4 901.0 661.9 901.3 675.3 901.6 668.9 901.9 671.2 902.2 662.3 902.5 663.8 902.8 671.9 903.1 672.5 903.4 662.1 903.7 669.6 904.0 656.9 904.3 675.8 904.6 672.1 904.9 683.7 905.2 677.9 905.5 664.0 905.8 669.1 906.1 665.0 906.4 668.7 906.7 672.9 907.0 667.8 907.3 668.3 907.6 655.6 907.9 671.5 908.2 667.8 908.5 674.0 908.8 674.7 909.1 668.1 909.4 672.4 909.7 664.4 910.0 674.0 910.3 667.8 910.6 664.5 910.9 666.6 911.2 660.0 911.5 664.2 911.8 665.4 912.1 668.1 912.4 667.4 912.7 664.2 913.0 666.9 913.3 656.6 913.6 668.5 913.9 673.3 914.2 673.0 914.5 674.9 914.8 665.8 915.1 667.5 915.4 665.2 915.7 665.2 916.0 669.0 916.3 681.8 916.6 658.8 916.9 665.1 917.2 670.5 917.5 658.7 917.8 670.6 918.1 660.4 918.4 665.9 918.7 659.0 919.0 669.7 919.3 660.5 919.6 674.2 919.9 666.3 920.2 662.5 920.5 665.5 920.8 668.7 921.1 667.9 921.4 666.5 921.7 665.9 922.0 667.7 922.3 673.3 922.6 664.7 922.9 670.7 923.2 660.7 923.5 673.8 923.8 670.2 924.1 666.0 924.4 666.1 924.7 658.9 925.0 668.6 925.3 666.6 925.6 660.4 925.9 665.5 926.2 671.6 926.5 669.1 926.8 669.7 927.1 664.9 927.4 673.4 927.7 668.0 928.0 673.5 928.3 683.1 928.6 651.0 928.9 663.2 929.2 668.2 929.5 664.0 929.8 674.7 930.1 666.2 930.4 679.2 930.7 673.0 931.0 670.8 931.3 668.2 931.6 673.6 931.9 671.3 932.2 683.3 932.5 670.9 932.8 674.9 933.1 670.9 933.4 670.4 933.7 660.0 934.0 668.5 934.3 670.8 934.6 662.0 934.9 660.8 935.2 665.4 935.5 671.1 935.8 653.6 936.1 670.4 936.4 674.5 936.7 667.0 937.0 670.0 937.3 671.4 937.6 664.7 937.9 672.4 938.2 672.7 938.5 657.4 938.8 671.7 939.1 674.0 939.4 662.5 939.7 674.0 940.0 667.0 940.3 656.6 940.6 662.8 940.9 660.4 941.2 673.7 941.5 665.8 941.8 666.3 942.1 661.6 942.4 668.6 942.7 661.7 943.0 664.8 943.3 672.4 943.6 672.8 943.9 665.6 944.2 668.0 944.5 672.0 944.8 668.4 945.1 676.4 945.4 677.4 945.7 668.2 946.0 662.0 946.3 667.1 946.6 677.5 946.9 676.0 947.2 676.4 947.5 676.0 947.8 665.9 948.1 670.6 948.4 679.8 948.7 670.6 949.0 674.5 949.3 663.4 949.6 662.3 949.9 682.5 950.2 673.9 950.5 672.9 950.8 678.6 951.1 684.2 951.4 685.1 951.7 656.9 952.0 671.6 952.3 675.8 952.6 659.1 952.9 659.7 953.2 668.3 953.5 681.9 953.8 675.3 954.1 692.5 954.4 671.1 954.7 676.3 955.0 685.2 955.3 673.8 955.6 669.4 955.9 670.5 956.2 654.2 956.5 672.5 956.8 659.6 957.1 664.9 957.4 673.9 957.7 672.0 958.0 659.0 958.3 674.6 958.6 676.9 958.9 671.3 959.2 676.3 959.5 673.1 959.8 660.5 960.1 668.4 960.4 667.9 960.7 662.9 961.0 669.4 961.3 665.1 961.6 669.2 961.9 661.6 962.2 676.4 962.5 684.7 962.8 666.5 963.1 670.0 963.4 670.1 963.7 672.5 964.0 668.8 964.3 651.2 964.6 672.0 964.9 669.1 965.2 663.9 965.5 667.7 965.8 664.9 966.1 671.3 966.4 668.1 966.7 668.3 967.0 670.6 967.3 671.5 967.6 670.1 967.9 677.5 968.2 672.1 968.5 665.7 968.8 681.4 969.1 670.9 969.4 680.3 969.7 664.2 970.0 673.6 970.3 681.4 970.6 682.9 970.9 670.8 971.2 666.9 971.5 664.4 971.8 669.2 972.1 664.8 972.4 666.1 972.7 664.8 973.0 664.7 973.3 671.8 973.6 655.1 973.9 671.4 974.2 674.6 974.5 665.1 974.8 665.3 975.1 670.6 975.4 670.2 975.7 676.4 976.0 660.1 976.3 670.1 976.6 679.6 976.9 671.1 977.2 688.9 977.5 685.2 977.8 665.3 978.1 680.3 978.4 673.8 978.7 670.6 979.0 669.1 979.3 669.5 979.6 665.7 979.9 669.8 980.2 676.7 980.5 683.4 980.8 668.6 981.1 674.1 981.4 673.8 981.7 658.9 982.0 675.3 982.3 664.2 982.6 664.7 982.9 676.2 983.2 681.9 983.5 664.9 983.8 666.1 984.1 665.8 984.4 668.0 984.7 668.9 985.0 666.4 985.3 662.4 985.6 682.7 985.9 668.3 986.2 664.0 986.5 676.7 986.8 669.1 987.1 678.0 987.4 676.1 987.7 677.4 988.0 668.9 988.3 677.2 988.6 663.0 988.9 663.9 989.2 671.7 989.5 669.6 989.8 679.9 990.1 669.8 990.4 662.1 990.7 671.8 991.0 669.8 991.3 673.0 991.6 665.1 991.9 664.3 992.2 671.9 992.5 676.2 992.8 674.1 993.1 678.8 993.4 663.9 993.7 670.5 994.0 673.1 994.3 677.8 994.6 673.4 994.9 670.5 995.2 671.2 995.5 671.4 995.8 664.3 996.1 672.2 996.4 677.0 996.7 676.5 997.0 662.4 997.3 671.9 997.6 659.1 997.9 679.1 998.2 677.3 998.5 676.6 998.8 668.6 999.1 662.3 999.4 666.7 999.7 670.4 1000.0 664.5 1000.3 666.9 1000.6 683.9 1000.9 665.4 1001.2 675.9 1001.5 662.9 1001.8 674.8 1002.1 677.8 1002.4 675.4 1002.7 680.3 1003.0 684.5 1003.3 665.4 1003.6 674.4 1003.9 676.0 1004.2 675.5 1004.5 683.2 1004.8 674.7 1005.1 680.6 1005.4 680.4 1005.7 674.1 1006.0 676.5 1006.3 669.0 1006.6 675.2 1006.9 674.5 1007.2 672.5 1007.5 670.8 1007.8 679.5 1008.1 672.4 1008.4 697.8 1008.7 681.9 1009.0 678.3 1009.3 670.4 1009.6 679.3 1009.9 675.0 1010.2 674.3 1010.5 667.8 1010.8 677.4 1011.1 675.4 1011.4 669.7 1011.7 670.2 1012.0 671.5 1012.3 666.9 1012.6 669.1 1012.9 682.9 1013.2 670.5 1013.5 698.5 1013.8 662.7 1014.1 681.1 1014.4 681.1 1014.7 686.0 1015.0 677.9 1015.3 660.8 1015.6 681.6 1015.9 685.1 1016.2 674.7 1016.5 662.7 1016.8 681.3 1017.1 669.5 1017.4 673.0 1017.7 687.1 1018.0 688.1 1018.3 677.0 1018.6 669.7 1018.9 685.8 1019.2 686.3 1019.5 673.9 1019.8 669.5 1020.1 676.6 1020.4 667.6 1020.7 686.3 1021.0 678.0 1021.3 671.6 1021.6 677.4 1021.9 666.2 1022.2 674.6 1022.5 671.4 1022.8 661.6 1023.1 669.3 1023.4 677.2 1023.7 667.5 1024.0 674.0 1024.3 662.6 1024.6 676.4 1024.9 666.0 1025.2 679.6 1025.5 679.3 1025.8 680.4 1026.1 693.8 1026.4 676.8 1026.7 676.1 1027.0 679.0 1027.3 672.8 1027.6 665.6 1027.9 668.9 1028.2 664.8 1028.5 676.6 1028.8 672.0 1029.1 673.3 1029.4 679.0 1029.7 677.2 1030.0 688.7 1030.3 675.4 1030.6 670.5 1030.9 688.2 1031.2 673.4 1031.5 675.4 1031.8 685.4 1032.1 677.4 1032.4 680.1 1032.7 672.5 1033.0 673.1 1033.3 679.9 1033.6 673.1 1033.9 673.9 1034.2 675.7 1034.5 686.4 1034.8 685.6 1035.1 677.7 1035.4 676.8 1035.7 672.6 1036.0 689.8 1036.3 679.0 1036.6 682.4 1036.9 669.2 1037.2 681.6 1037.5 677.7 1037.8 681.4 1038.1 683.3 1038.4 677.0 1038.7 674.9 1039.0 681.2 1039.3 666.6 1039.6 686.1 1039.9 679.2 1040.2 671.1 1040.5 685.3 1040.8 683.2 1041.1 693.0 1041.4 683.5 1041.7 682.3 1042.0 677.2 1042.3 671.6 1042.6 682.1 1042.9 683.4 1043.2 675.1 1043.5 681.1 1043.8 672.6 1044.1 684.2 1044.4 678.5 1044.7 679.1 1045.0 673.6 1045.3 683.5 1045.6 678.6 1045.9 674.5 1046.2 681.6 1046.5 676.5 1046.8 684.2 1047.1 669.7 1047.4 671.5 1047.7 699.0 1048.0 675.0 1048.3 680.7 1048.6 675.5 1048.9 679.1 1049.2 701.4 1049.5 667.7 1049.8 681.1 1050.1 678.2 1050.4 678.1 1050.7 673.5 1051.0 672.7 1051.3 691.7 1051.6 680.9 1051.9 671.5 1052.2 678.0 1052.5 670.8 1052.8 692.7 1053.1 680.2 1053.4 663.2 1053.7 683.7 1054.0 681.8 1054.3 679.9 1054.6 679.1 1054.9 675.0 1055.2 677.0 1055.5 661.7 1055.8 686.2 1056.1 691.1 1056.4 681.1 1056.7 681.8 1057.0 666.6 1057.3 674.4 1057.6 670.7 1057.9 671.2 1058.2 681.4 1058.5 687.1 1058.8 677.9 1059.1 701.9 1059.4 683.3 1059.7 660.3 1060.0 676.0 1060.3 686.4 1060.6 679.2 1060.9 684.7 1061.2 669.6 1061.5 691.1 1061.8 672.0 1062.1 680.4 1062.4 700.5 1062.7 678.9 1063.0 677.1 1063.3 683.1 1063.6 673.9 1063.9 670.2 1064.2 684.5 1064.5 670.7 1064.8 671.9 1065.1 689.7 1065.4 671.9 1065.7 681.2 1066.0 685.4 1066.3 678.0 1066.6 672.9 1066.9 683.6 1067.2 670.5 1067.5 700.5 1067.8 701.7 1068.1 673.2 1068.4 682.2 1068.7 674.9 1069.0 681.0 1069.3 677.3 1069.6 673.5 1069.9 681.8 1070.2 665.1 1070.5 680.6 1070.8 677.9 1071.1 674.6 1071.4 684.3 1071.7 679.1 1072.0 676.9 1072.3 677.3 1072.6 677.6 1072.9 684.5 1073.2 676.2 1073.5 656.9 1073.8 664.5 1074.1 673.3 1074.4 672.3 1074.7 676.4 1075.0 667.5 1075.3 674.6 1075.6 687.2 1075.9 672.0 1076.2 684.2 1076.5 678.4 1076.8 691.8 1077.1 684.6 1077.4 679.7 1077.7 685.8 1078.0 680.6 1078.3 669.7 1078.6 682.3 1078.9 682.3 1079.2 678.8 1079.5 681.8 1079.8 677.1 1080.1 681.4 1080.4 678.0 1080.7 671.6 1081.0 678.1 1081.3 689.6 1081.6 684.6 1081.9 694.7 1082.2 679.7 1082.5 677.4 1082.8 674.0 1083.1 681.2 1083.4 686.0 1083.7 684.7 1084.0 686.9 1084.3 677.0 1084.6 680.5 1084.9 675.6 1085.2 684.8 1085.5 683.4 1085.8 676.4 1086.1 680.6 1086.4 668.8 1086.7 684.1 1087.0 672.9 1087.3 677.9 1087.6 683.6 1087.9 686.4 1088.2 676.4 1088.5 690.0 1088.8 700.7 1089.1 689.1 1089.4 688.2 1089.7 680.5 1090.0 688.8 1090.3 675.5 1090.6 674.4 1090.9 681.2 1091.2 681.8 1091.5 675.7 1091.8 691.6 1092.1 672.8 1092.4 670.2 1092.7 678.2 1093.0 690.7 1093.3 685.0 1093.6 682.6 1093.9 681.4 1094.2 685.8 1094.5 682.5 1094.8 681.2 1095.1 680.0 1095.4 672.5 1095.7 686.5 1096.0 678.4 1096.3 684.2 1096.6 683.7 1096.9 690.7 1097.2 676.6 1097.5 685.8 1097.8 689.0 1098.1 680.3 1098.4 680.7 1098.7 681.9 1099.0 675.6 1099.3 678.6 1099.6 675.1 1099.9 692.5 1100.2 676.9 1100.5 675.5 1100.8 682.1 1101.1 684.4 1101.4 679.2 1101.7 676.2 1102.0 683.7 1102.3 689.3 1102.6 668.0 1102.9 689.9 1103.2 672.5 1103.5 685.3 1103.8 679.1 1104.1 680.1 1104.4 685.7 1104.7 690.4 1105.0 702.6 1105.3 694.8 1105.6 685.7 1105.9 674.8 1106.2 678.1 1106.5 682.5 1106.8 678.5 1107.1 685.2 1107.4 680.5 1107.7 693.0 1108.0 680.2 1108.3 675.4 1108.6 677.4 1108.9 678.1 1109.2 686.2 1109.5 690.5 1109.8 688.1 1110.1 688.2 1110.4 678.5 1110.7 676.4 1111.0 677.9 1111.3 682.5 1111.6 680.4 1111.9 684.0 1112.2 692.0 1112.5 682.9 1112.8 693.0 1113.1 675.8 1113.4 686.2 1113.7 682.0 1114.0 688.6 1114.3 682.3 1114.6 678.0 1114.9 682.0 1115.2 678.1 1115.5 677.0 1115.8 687.5 1116.1 679.6 1116.4 694.4 1116.7 697.4 1117.0 680.9 1117.3 688.1 1117.6 682.5 1117.9 673.6 1118.2 682.1 1118.5 692.0 1118.8 676.8 1119.1 682.2 1119.4 682.1 1119.7 671.2 1120.0 684.9 1120.3 682.4 1120.6 686.5 1120.9 683.5 1121.2 676.0 1121.5 684.3 1121.8 686.9 1122.1 681.9 1122.4 686.6 1122.7 686.5 1123.0 673.0 1123.3 687.0 1123.6 667.4 1123.9 672.7 1124.2 682.7 1124.5 675.0 1124.8 676.4 1125.1 693.7 1125.4 677.9 1125.7 690.5 1126.0 694.7 1126.3 691.9 1126.6 677.9 1126.9 675.9 1127.2 683.9 1127.5 696.8 1127.8 682.5 1128.1 678.6 1128.4 683.0 1128.7 688.1 1129.0 690.8 1129.3 683.8 1129.6 683.1 1129.9 688.2 1130.2 684.1 1130.5 681.7 1130.8 675.3 1131.1 684.6 1131.4 680.8 1131.7 681.7 1132.0 682.5 1132.3 679.5 1132.6 687.3 1132.9 690.4 1133.2 687.2 1133.5 680.8 1133.8 685.2 1134.1 688.3 1134.4 683.8 1134.7 688.3 1135.0 672.7 1135.3 683.2 1135.6 693.0 1135.9 690.3 1136.2 683.8 1136.5 685.3 1136.8 705.7 1137.1 691.0 1137.4 681.0 1137.7 687.2 1138.0 682.3 1138.3 681.6 1138.6 678.6 1138.9 688.9 1139.2 698.7 1139.5 689.9 1139.8 678.3 1140.1 688.0 1140.4 677.7 1140.7 686.3 1141.0 694.7 1141.3 693.9 1141.6 685.8 1141.9 687.8 1142.2 685.3 1142.5 683.5 1142.8 700.0 1143.1 680.3 1143.4 677.4 1143.7 702.1 1144.0 707.7 1144.3 677.5 1144.6 690.8 1144.9 692.7 1145.2 681.7 1145.5 680.5 1145.8 686.4 1146.1 683.7 1146.4 690.3 1146.7 682.2 1147.0 692.5 1147.3 682.3 1147.6 695.5 1147.9 690.8 1148.2 692.4 1148.5 683.7 1148.8 684.5 1149.1 685.3 1149.4 696.7 1149.7 680.1 1150.0 681.8 1150.3 684.7 1150.6 687.9 1150.9 685.1 1151.2 685.6 1151.5 675.2 1151.8 682.8 1152.1 680.5 1152.4 695.6 1152.7 685.5 1153.0 692.1 1153.3 675.4 1153.6 685.9 1153.9 688.3 1154.2 680.8 1154.5 680.6 1154.8 683.5 1155.1 687.4 1155.4 687.8 1155.7 679.2 1156.0 689.1 1156.3 688.0 1156.6 688.0 1156.9 681.9 1157.2 686.0 1157.5 693.9 1157.8 693.2 1158.1 681.2 1158.4 696.1 1158.7 682.8 1159.0 682.0 1159.3 693.1 1159.6 688.4 1159.9 700.8 1160.2 685.4 1160.5 687.4 1160.8 690.9 1161.1 688.2 1161.4 684.6 1161.7 686.6 1162.0 686.7 1162.3 686.7 1162.6 686.7 1162.9 679.3 1163.2 694.9 1163.5 683.7 1163.8 685.7 1164.1 680.3 1164.4 685.1 1164.7 695.8 1165.0 694.5 1165.3 688.9 1165.6 688.4 1165.9 684.4 1166.2 684.6 1166.5 688.5 1166.8 685.7 1167.1 682.2 1167.4 687.6 1167.7 682.0 1168.0 700.0 1168.3 689.9 1168.6 684.4 1168.9 690.0 1169.2 683.6 1169.5 686.1 1169.8 696.7 1170.1 695.0 1170.4 681.6 1170.7 681.9 1171.0 684.9 1171.3 709.6 1171.6 688.0 1171.9 689.1 1172.2 685.0 1172.5 695.5 1172.8 693.3 1173.1 674.2 1173.4 683.4 1173.7 679.0 1174.0 682.0 1174.3 683.7 1174.6 677.1 1174.9 684.6 1175.2 691.8 1175.5 698.2 1175.8 688.8 1176.1 692.1 1176.4 681.3 1176.7 696.7 1177.0 702.2 1177.3 686.7 1177.6 691.3 1177.9 690.1 1178.2 678.0 1178.5 694.0 1178.8 690.9 1179.1 680.4 1179.4 686.1 1179.7 695.0 1180.0 691.5 1180.3 677.3 1180.6 685.4 1180.9 684.8 1181.2 689.6 1181.5 682.4 1181.8 688.7 1182.1 687.6 1182.4 681.3 1182.7 690.8 1183.0 690.6 1183.3 685.1 1183.6 692.8 1183.9 702.6 1184.2 676.1 1184.5 690.4 1184.8 693.4 1185.1 688.9 1185.4 685.7 1185.7 702.1 1186.0 686.1 1186.3 688.1 1186.6 685.4 1186.9 695.8 1187.2 678.8 1187.5 684.3 1187.8 684.8 1188.1 691.4 1188.4 690.8 1188.7 694.6 1189.0 688.3 1189.3 682.7 1189.6 688.2 1189.9 684.6 1190.2 684.4 1190.5 686.5 1190.8 690.7 1191.1 693.8 1191.4 680.1 1191.7 686.0 1192.0 689.0 1192.3 689.1 1192.6 686.8 1192.9 692.4 1193.2 688.0 1193.5 680.9 1193.8 696.8 1194.1 683.1 1194.4 698.9 1194.7 690.7 1195.0 691.9 1195.3 682.2 1195.6 690.8 1195.9 688.3 1196.2 685.1 1196.5 692.4 1196.8 693.6 1197.1 696.2 1197.4 679.6 1197.7 685.5 1198.0 697.5 1198.3 693.9 1198.6 694.1 1198.9 685.1 1199.2 692.5 1199.5 694.2 1199.8 683.6 1200.1 686.2 1200.4 691.0 1200.7 702.2 1201.0 687.5 1201.3 693.4 1201.6 685.6 1201.9 684.0 1202.2 693.3 1202.5 684.8 1202.8 690.1 1203.1 687.1 1203.4 692.7 1203.7 683.8 1204.0 683.2 1204.3 683.1 1204.6 688.2 1204.9 697.2 1205.2 694.5 1205.5 691.0 1205.8 689.3 1206.1 700.8 1206.4 689.1 1206.7 695.9 1207.0 697.8 1207.3 693.8 1207.6 693.3 1207.9 692.2 1208.2 689.7 1208.5 691.6 1208.8 685.8 1209.1 686.0 1209.4 699.1 1209.7 689.6 1210.0 682.3 1210.3 697.9 1210.6 697.9 1210.9 692.7 1211.2 684.3 1211.5 708.1 1211.8 699.7 1212.1 697.2 1212.4 689.1 1212.7 693.7 1213.0 689.0 1213.3 689.2 1213.6 681.2 1213.9 686.5 1214.2 687.9 1214.5 690.6 1214.8 695.9 1215.1 693.5 1215.4 676.9 1215.7 696.2 1216.0 683.4 1216.3 694.5 1216.6 689.6 1216.9 690.9 1217.2 686.5 1217.5 685.5 1217.8 705.1 1218.1 679.8 1218.4 686.3 1218.7 702.2 1219.0 690.6 1219.3 690.8 1219.6 686.5 1219.9 685.2 1220.2 693.9 1220.5 689.1 1220.8 693.4 1221.1 694.9 1221.4 682.8 1221.7 685.7 1222.0 687.5 1222.3 692.4 1222.6 694.6 1222.9 685.8 1223.2 688.8 1223.5 690.3 1223.8 690.3 1224.1 699.7 1224.4 687.3 1224.7 691.8 1225.0 680.6 1225.3 690.4 1225.6 691.6 1225.9 694.8 1226.2 688.5 1226.5 688.2 1226.8 685.3 1227.1 688.6 1227.4 705.2 1227.7 683.1 1228.0 683.2 1228.3 691.7 1228.6 683.5 1228.9 698.1 1229.2 684.1 1229.5 700.6 1229.8 689.0 1230.1 683.5 1230.4 681.3 1230.7 684.0 1231.0 688.1 1231.3 694.1 1231.6 685.2 1231.9 705.4 1232.2 696.0 1232.5 690.5 1232.8 688.7 1233.1 713.6 1233.4 687.7 1233.7 695.6 1234.0 699.9 1234.3 687.0 1234.6 694.7 1234.9 689.1 1235.2 699.5 1235.5 699.9 1235.8 694.6 1236.1 692.6 1236.4 685.9 1236.7 705.6 1237.0 705.3 1237.3 697.9 1237.6 700.3 1237.9 692.0 1238.2 686.5 1238.5 697.1 1238.8 687.2 1239.1 687.5 1239.4 696.1 1239.7 684.6 1240.0 692.2 1240.3 690.5 1240.6 686.4 1240.9 686.2 1241.2 690.9 1241.5 690.6 1241.8 693.3 1242.1 685.0 1242.4 692.6 1242.7 686.1 1243.0 685.6 1243.3 697.5 1243.6 686.6 1243.9 688.1 1244.2 688.2 1244.5 692.0 1244.8 696.8 1245.1 690.5 1245.4 695.9 1245.7 686.1 1246.0 694.8 1246.3 691.8 1246.6 692.8 1246.9 687.9 1247.2 687.3 1247.5 694.1 1247.8 686.8 1248.1 696.6 1248.4 690.3 1248.7 694.9 1249.0 687.1 1249.3 685.0 1249.6 697.9 1249.9 696.3 1250.2 692.4 1250.5 698.0 1250.8 692.6 1251.1 696.2 1251.4 693.4 1251.7 685.0 1252.0 698.8 1252.3 688.0 1252.6 706.0 1252.9 692.0 1253.2 685.4 1253.5 691.7 1253.8 693.2 1254.1 693.8 1254.4 697.5 1254.7 689.9 1255.0 683.6 1255.3 688.8 1255.6 695.3 1255.9 699.1 1256.2 684.0 1256.5 693.6 1256.8 699.2 1257.1 686.4 1257.4 702.8 1257.7 686.9 1258.0 692.1 1258.3 689.1 1258.6 703.4 1258.9 698.1 1259.2 693.9 1259.5 691.4 1259.8 685.4 1260.1 691.8 1260.4 690.3 1260.7 692.7 1261.0 684.6 1261.3 704.4 1261.6 698.3 1261.9 702.4 1262.2 688.6 1262.5 693.2 1262.8 687.6 1263.1 698.3 1263.4 692.3 1263.7 703.0 1264.0 697.5 1264.3 697.7 1264.6 696.5 1264.9 686.6 1265.2 697.5 1265.5 686.1 1265.8 696.0 1266.1 696.8 1266.4 688.1 1266.7 690.6 1267.0 692.8 1267.3 695.8 1267.6 696.1 1267.9 693.9 1268.2 689.5 1268.5 695.2 1268.8 707.3 1269.1 689.1 1269.4 702.8 1269.7 688.1 1270.0 690.7 1270.3 701.2 1270.6 698.4 1270.9 702.9 1271.2 697.1 1271.5 690.9 1271.8 694.3 1272.1 691.7 1272.4 699.6 1272.7 697.2 1273.0 704.8 1273.3 690.6 1273.6 692.7 1273.9 691.9 1274.2 692.2 1274.5 692.6 1274.8 701.1 1275.1 695.1 1275.4 700.6 1275.7 695.2 1276.0 686.0 1276.3 687.7 1276.6 693.3 1276.9 700.5 1277.2 694.2 1277.5 687.4 1277.8 694.9 1278.1 693.0 1278.4 697.4 1278.7 698.7 1279.0 695.8 1279.3 691.2 1279.6 689.4 1279.9 692.6 1280.2 694.0 1280.5 697.2 1280.8 692.2 1281.1 691.3 1281.4 697.0 1281.7 698.8 1282.0 695.9 1282.3 686.5 1282.6 691.9 1282.9 706.9 1283.2 689.5 1283.5 692.8 1283.8 699.5 1284.1 687.1 1284.4 693.1 1284.7 701.6 1285.0 699.9 1285.3 681.5 1285.6 697.8 1285.9 693.1 1286.2 688.3 1286.5 700.4 1286.8 692.2 1287.1 694.5 1287.4 690.6 1287.7 701.3 1288.0 699.6 1288.3 699.0 1288.6 716.0 1288.9 698.1 1289.2 692.3 1289.5 697.8 1289.8 696.8 1290.1 698.9 1290.4 684.8 1290.7 702.6 1291.0 706.7 1291.3 700.0 1291.6 690.7 1291.9 707.8 1292.2 699.7 1292.5 707.5 1292.8 701.1 1293.1 694.3 1293.4 688.3 1293.7 696.5 1294.0 701.1 1294.3 694.0 1294.6 689.8 1294.9 700.6 1295.2 692.4 1295.5 709.3 1295.8 693.4 1296.1 699.9 1296.4 694.1 1296.7 698.3 1297.0 701.4 1297.3 686.6 1297.6 692.7 1297.9 693.3 1298.2 693.1 1298.5 695.7 1298.8 702.3 1299.1 691.1 1299.4 698.9 1299.7 693.3 1300.0 692.5 1300.3 685.3 1300.6 692.1 1300.9 690.7 1301.2 698.3 1301.5 704.4 1301.8 698.7 1302.1 699.8 1302.4 691.9 1302.7 699.5 1303.0 691.8 1303.3 689.1 1303.6 697.2 1303.9 692.7 1304.2 699.1 1304.5 696.6 1304.8 694.5 1305.1 693.0 1305.4 696.8 1305.7 697.2 1306.0 696.2 1306.3 701.9 1306.6 693.0 1306.9 686.0 1307.2 686.4 1307.5 691.2 1307.8 691.5 1308.1 695.2 1308.4 705.0 1308.7 691.0 1309.0 689.8 1309.3 693.3 1309.6 691.2 1309.9 692.2 1310.2 699.5 1310.5 702.8 1310.8 692.4 1311.1 695.5 1311.4 704.0 1311.7 697.5 1312.0 694.9 1312.3 697.7 1312.6 695.3 1312.9 692.6 1313.2 698.5 1313.5 692.8 1313.8 693.4 1314.1 697.4 1314.4 690.5 1314.7 699.5 1315.0 692.4 1315.3 691.2 1315.6 698.6 1315.9 699.2 1316.2 704.1 1316.5 702.9 1316.8 691.2 1317.1 694.1 1317.4 690.8 1317.7 692.2 1318.0 700.2 1318.3 698.5 1318.6 697.1 1318.9 697.8 1319.2 693.7 1319.5 706.6 1319.8 688.6 1320.1 699.1 1320.4 692.9 1320.7 691.4 1321.0 706.7 1321.3 693.9 1321.6 699.2 1321.9 692.0 1322.2 692.2 1322.5 701.9 1322.8 697.7 1323.1 696.0 1323.4 698.0 1323.7 698.7 1324.0 700.0 1324.3 699.6 1324.6 699.1 1324.9 697.2 1325.2 696.3 1325.5 701.4 1325.8 686.3 1326.1 699.8 1326.4 695.9 1326.7 696.5 1327.0 694.4 1327.3 692.3 1327.6 698.6 1327.9 690.2 1328.2 691.0 1328.5 688.3 1328.8 704.1 1329.1 695.4 1329.4 695.3 1329.7 685.4 1330.0 695.7 1330.3 702.1 1330.6 687.4 1330.9 695.6 1331.2 696.3 1331.5 698.3 1331.8 700.2 1332.1 705.8 1332.4 695.2 1332.7 695.4 1333.0 692.3 1333.3 700.0 1333.6 695.0 1333.9 697.5 1334.2 698.7 1334.5 693.9 1334.8 693.7 1335.1 696.0 1335.4 696.1 1335.7 695.5 1336.0 694.5 1336.3 695.0 1336.6 701.4 1336.9 690.6 1337.2 695.7 1337.5 695.3 1337.8 700.6 1338.1 691.3 1338.4 693.4 1338.7 692.9 1339.0 701.5 1339.3 700.2 1339.6 697.4 1339.9 696.0 1340.2 714.4 1340.5 696.8 1340.8 687.3 1341.1 689.0 1341.4 685.5 1341.7 692.0 1342.0 688.8 1342.3 695.3 1342.6 685.2 1342.9 695.0 1343.2 692.4 1343.5 697.7 1343.8 695.9 1344.1 691.0 1344.4 704.6 1344.7 690.3 1345.0 691.2 1345.3 685.4 1345.6 700.1 1345.9 699.9 1346.2 694.8 1346.5 685.4 1346.8 699.1 1347.1 704.5 1347.4 691.3 1347.7 697.5 1348.0 699.7 1348.3 695.4 1348.6 690.1 1348.9 694.3 1349.2 690.4 1349.5 697.9 1349.8 687.9 1350.1 699.1 1350.4 695.6 1350.7 688.6 1351.0 687.9 1351.3 699.3 1351.6 701.8 1351.9 699.5 1352.2 708.2 1352.5 696.5 1352.8 686.7 1353.1 695.4 1353.4 692.0 1353.7 685.6 1354.0 700.5 1354.3 688.1 1354.6 691.1 1354.9 704.7 1355.2 690.4 1355.5 691.5 1355.8 701.7 1356.1 704.9 1356.4 687.4 1356.7 690.5 1357.0 692.5 1357.3 699.2 1357.6 697.0 1357.9 701.0 1358.2 689.0 1358.5 694.8 1358.8 707.1 1359.1 687.6 1359.4 700.7 1359.7 691.6 1360.0 697.2 1360.3 690.7 1360.6 698.4 1360.9 699.2 1361.2 694.6 1361.5 703.9 1361.8 690.9 1362.1 700.2 1362.4 687.1 1362.7 702.8 1363.0 699.5 1363.3 692.1 1363.6 703.5 1363.9 695.2 1364.2 685.7 1364.5 692.8 1364.8 699.9 1365.1 695.6 1365.4 700.0 1365.7 706.9 1366.0 699.6 1366.3 698.1 1366.6 696.9 1366.9 697.8 1367.2 703.0 1367.5 692.8 1367.8 694.6 1368.1 699.5 1368.4 691.2 1368.7 700.5 1369.0 695.7 1369.3 698.0 1369.6 692.8 1369.9 694.6 1370.2 701.7 1370.5 690.8 1370.8 700.7 1371.1 701.2 1371.4 696.0 1371.7 682.5 1372.0 690.7 1372.3 698.5 1372.6 700.9 1372.9 689.6 1373.2 697.4 1373.5 696.8 1373.8 689.2 1374.1 696.5 1374.4 692.2 1374.7 689.2 1375.0 704.9 1375.3 692.2 1375.6 689.5 1375.9 689.5 1376.2 705.8 1376.5 703.3 1376.8 698.3 1377.1 691.9 1377.4 697.5 1377.7 696.0 1378.0 699.2 1378.3 689.4 1378.6 699.2 1378.9 700.5 1379.2 691.7 1379.5 688.8 1379.8 695.1 1380.1 689.8 1380.4 693.4 1380.7 694.3 1381.0 702.6 1381.3 688.4 1381.6 694.2 1381.9 702.3 1382.2 688.4 1382.5 700.8 1382.8 692.1 1383.1 698.5 1383.4 695.6 1383.7 700.4 1384.0 676.3 1384.3 692.4 1384.6 686.7 1384.9 694.3 1385.2 692.7 1385.5 696.0 1385.8 704.3 1386.1 698.2 1386.4 697.6 1386.7 698.8 1387.0 694.6 1387.3 703.5 1387.6 699.0 1387.9 696.0 1388.2 705.5 1388.5 694.1 1388.8 693.5 1389.1 691.9 1389.4 689.7 1389.7 690.5 1390.0 705.1 1390.3 693.8 1390.6 695.6 1390.9 701.3 1391.2 695.1 1391.5 691.5 1391.8 689.6 1392.1 693.8 1392.4 700.9 1392.7 693.4 1393.0 693.2 1393.3 698.4 1393.6 696.0 1393.9 696.2 1394.2 697.0 1394.5 709.7 1394.8 694.4 1395.1 693.9 1395.4 705.3 1395.7 692.0 1396.0 688.8 1396.3 700.2 1396.6 693.9 1396.9 696.0 1397.2 696.5 1397.5 691.1 1397.8 699.8 1398.1 690.9 1398.4 700.3 1398.7 701.8 1399.0 693.1 1399.3 701.6 1399.6 697.1 1399.9 705.7 1400.2 696.4 1400.5 688.8 1400.8 688.8 1401.1 700.7 1401.4 694.3 1401.7 698.2 1402.0 688.5 1402.3 693.8 1402.6 687.5 1402.9 699.2 1403.2 700.3 1403.5 693.0 1403.8 698.9 1404.1 693.3 1404.4 698.2 1404.7 694.4 1405.0 690.1 1405.3 699.8 1405.6 688.8 1405.9 711.2 1406.2 689.9 1406.5 688.5 1406.8 697.8 1407.1 692.1 1407.4 699.5 1407.7 690.7 1408.0 704.1 1408.3 703.0 1408.6 692.1 1408.9 706.9 1409.2 694.8 1409.5 696.8 1409.8 693.9 1410.1 698.1 1410.4 698.6 1410.7 696.3 1411.0 698.8 1411.3 697.6 1411.6 699.2 1411.9 691.4 1412.2 695.0 1412.5 688.7 1412.8 696.3 1413.1 696.7 1413.4 696.1 1413.7 694.0 1414.0 706.4 1414.3 692.9 1414.6 699.6 1414.9 695.1 1415.2 704.5 1415.5 703.1 1415.8 699.2 1416.1 702.1 1416.4 693.5 1416.7 692.8 1417.0 701.0 1417.3 697.4 1417.6 690.9 1417.9 696.6 1418.2 691.8 1418.5 691.3 1418.8 696.7 1419.1 697.7 1419.4 696.0 1419.7 695.2 1420.0 692.9 1420.3 696.5 1420.6 696.2 1420.9 695.4 1421.2 709.8 1421.5 695.2 1421.8 698.1 1422.1 694.2 1422.4 696.0 1422.7 697.8 1423.0 700.3 1423.3 686.4 1423.6 702.8 1423.9 700.2 1424.2 698.9 1424.5 693.3 1424.8 690.6 1425.1 693.0 1425.4 701.1 1425.7 702.5 1426.0 697.6 1426.3 701.3 1426.6 693.9 1426.9 690.3 1427.2 704.1 1427.5 703.4 1427.8 701.7 1428.1 703.4 1428.4 697.9 1428.7 689.1 1429.0 696.0 1429.3 703.5 1429.6 697.1 1429.9 701.5 1430.2 702.7 1430.5 694.4 1430.8 701.9 1431.1 698.7 1431.4 692.4 1431.7 703.5 1432.0 690.9 1432.3 700.6 1432.6 702.0 1432.9 695.1 1433.2 694.5 1433.5 700.5 1433.8 700.0 1434.1 704.4 1434.4 699.3 1434.7 701.0 1435.0 699.7 1435.3 703.1 1435.6 694.4 1435.9 691.1 1436.2 701.0 1436.5 697.8 1436.8 696.0 1437.1 707.0 1437.4 689.2 1437.7 697.5 1438.0 703.1 1438.3 697.2 1438.6 697.0 1438.9 700.3 1439.2 697.2 1439.5 692.0 1439.8 693.4 1440.1 702.1 1440.4 702.0 1440.7 694.0 1441.0 700.2 1441.3 702.0 1441.6 702.1 1441.9 706.1 1442.2 706.3 1442.5 698.8 1442.8 698.0 1443.1 702.3 1443.4 694.4 1443.7 692.6 1444.0 705.1 1444.3 704.6 1444.6 702.0 1444.9 700.7 1445.2 692.9 1445.5 693.5 1445.8 694.9 1446.1 707.5 1446.4 698.1 1446.7 700.2 1447.0 696.1 1447.3 705.9 1447.6 687.4 1447.9 707.5 1448.2 699.6 1448.5 689.6 1448.8 700.0 1449.1 703.7 1449.4 702.3 1449.7 702.9 1450.0 698.4 1450.3 698.5 1450.6 700.2 1450.9 697.1 1451.2 708.2 1451.5 694.9 1451.8 700.4 1452.1 698.6 1452.4 690.2 1452.7 706.7 1453.0 701.1 1453.3 697.0 1453.6 696.3 1453.9 698.8 1454.2 707.6 1454.5 701.0 1454.8 696.2 1455.1 700.6 1455.4 697.1 1455.7 702.5 1456.0 702.1 1456.3 703.6 1456.6 701.6 1456.9 700.7 1457.2 695.0 1457.5 701.4 1457.8 705.6 1458.1 694.5 1458.4 704.7 1458.7 697.8 1459.0 696.0 1459.3 697.8 1459.6 703.7 1459.9 700.6 1460.2 701.3 1460.5 696.3 1460.8 708.2 1461.1 696.6 1461.4 706.8 1461.7 706.6 1462.0 704.0 1462.3 695.5 1462.6 701.0 1462.9 697.5 1463.2 708.3 1463.5 702.0 1463.8 704.0 1464.1 701.9 1464.4 702.1 1464.7 705.8 1465.0 711.6 1465.3 704.5 1465.6 706.9 1465.9 704.2 1466.2 703.0 1466.5 696.3 1466.8 699.4 1467.1 698.6 1467.4 703.9 1467.7 690.4 1468.0 692.8 1468.3 699.1 1468.6 703.1 1468.9 699.8 1469.2 700.9 1469.5 704.7 1469.8 712.5 1470.1 709.6 1470.4 704.2 1470.7 706.7 1471.0 700.0 1471.3 698.0 1471.6 704.5 1471.9 714.2 1472.2 704.3 1472.5 694.3 1472.8 706.9 1473.1 717.4 1473.4 707.8 1473.7 700.9 1474.0 698.5 1474.3 697.5 1474.6 713.9 1474.9 701.0 1475.2 701.2 1475.5 701.5 1475.8 701.7 1476.1 704.0 1476.4 700.0 1476.7 703.9 1477.0 700.1 1477.3 697.6 1477.6 695.4 1477.9 703.0 1478.2 708.6 1478.5 705.3 1478.8 707.7 1479.1 700.3 1479.4 699.3 1479.7 699.3 1480.0 697.9 1480.3 706.3 1480.6 712.5 1480.9 699.6 1481.2 704.6 1481.5 696.9 1481.8 704.1 1482.1 706.3 1482.4 697.5 1482.7 708.5 1483.0 700.8 1483.3 703.9 1483.6 715.9 1483.9 693.1 1484.2 704.9 1484.5 701.6 1484.8 709.8 1485.1 702.6 1485.4 702.0 1485.7 705.0 1486.0 711.3 1486.3 700.3 1486.6 696.9 1486.9 699.6 1487.2 707.3 1487.5 695.8 1487.8 698.1 1488.1 700.1 1488.4 699.0 1488.7 702.0 1489.0 699.7 1489.3 695.0 1489.6 720.7 1489.9 707.5 1490.2 702.0 1490.5 700.4 1490.8 699.9 1491.1 691.4 1491.4 698.2 1491.7 704.2 1492.0 704.0 1492.3 709.5 1492.6 702.8 1492.9 698.8 1493.2 707.1 1493.5 705.6 1493.8 697.8 1494.1 700.0 1494.4 707.0 1494.7 698.0 1495.0 703.4 1495.3 699.0 1495.6 707.9 1495.9 719.3 1496.2 695.2 1496.5 698.8 1496.8 706.3 1497.1 704.4 1497.4 702.8 1497.7 697.9 1498.0 696.2 1498.3 701.4 1498.6 707.7 1498.9 707.8 1499.2 721.0 1499.5 696.4 1499.8 704.2 1500.1 704.5 1500.4 718.5 1500.7 700.5 1501.0 709.9 1501.3 697.1 1501.6 708.4 1501.9 697.3 1502.2 699.0 1502.5 704.9 1502.8 701.3 1503.1 705.1 1503.4 702.4 1503.7 699.8 1504.0 709.1 1504.3 702.0 1504.6 698.5 1504.9 698.3 1505.2 691.3 1505.5 697.7 1505.8 705.3 1506.1 704.5 1506.4 702.4 1506.7 712.9 1507.0 703.0 1507.3 703.1 1507.6 705.5 1507.9 704.6 1508.2 708.5 1508.5 700.9 1508.8 703.5 1509.1 703.2 1509.4 701.7 1509.7 702.8 1510.0 707.4 1510.3 710.3 1510.6 703.4 1510.9 703.5 1511.2 705.2 1511.5 708.5 1511.8 706.1 1512.1 711.2 1512.4 712.4 1512.7 708.7 1513.0 699.7 1513.3 701.9 1513.6 701.8 1513.9 700.5 1514.2 708.0 1514.5 699.4 1514.8 705.8 1515.1 701.8 1515.4 698.0 1515.7 709.2 1516.0 697.9 1516.3 709.9 1516.6 698.0 1516.9 707.3 1517.2 705.6 1517.5 704.7 1517.8 703.2 1518.1 700.7 1518.4 702.0 1518.7 709.9 1519.0 708.0 1519.3 714.3 1519.6 708.9 1519.9 706.4 1520.2 704.6 1520.5 703.0 1520.8 710.1 1521.1 702.3 1521.4 702.5 1521.7 699.7 1522.0 707.8 1522.3 714.3 1522.6 702.3 1522.9 697.0 1523.2 700.6 1523.5 707.5 1523.8 701.2 1524.1 700.4 1524.4 706.6 1524.7 703.1 1525.0 697.9 1525.3 705.4 1525.6 697.1 1525.9 702.9 1526.2 712.2 1526.5 695.1 1526.8 710.9 1527.1 696.3 1527.4 704.4 1527.7 695.5 1528.0 701.5 1528.3 700.3 1528.6 700.8 1528.9 699.9 1529.2 710.3 1529.5 707.8 1529.8 697.3 1530.1 696.6 1530.4 702.6 1530.7 697.8 1531.0 718.1 1531.3 709.8 1531.6 706.0 1531.9 692.7 1532.2 700.4 1532.5 710.4 1532.8 699.6 1533.1 706.5 1533.4 703.6 1533.7 707.6 1534.0 703.1 1534.3 703.0 1534.6 695.1 1534.9 702.7 1535.2 699.8 1535.5 708.3 1535.8 697.8 1536.1 707.1 1536.4 710.5 1536.7 706.2 1537.0 693.9 1537.3 698.3 1537.6 704.1 1537.9 703.7 1538.2 701.7 1538.5 701.7 1538.8 699.0 1539.1 699.2 1539.4 699.0 1539.7 700.9 1540.0 702.7 1540.3 701.8 1540.6 697.2 1540.9 710.6 1541.2 704.0 1541.5 699.3 1541.8 714.3 1542.1 694.1 1542.4 707.4 1542.7 704.6 1543.0 700.9 1543.3 696.6 1543.6 702.5 1543.9 707.9 1544.2 709.4 1544.5 705.3 1544.8 704.5 1545.1 703.4 1545.4 709.7 1545.7 704.0 1546.0 704.3 1546.3 709.5 1546.6 701.2 1546.9 704.7 1547.2 703.0 1547.5 700.0 1547.8 709.8 1548.1 699.6 1548.4 700.8 1548.7 700.0 1549.0 705.2 1549.3 705.8 1549.6 710.8 1549.9 710.9 1550.2 710.8 1550.5 706.9 1550.8 707.9 1551.1 702.4 1551.4 699.5 1551.7 708.9 1552.0 700.3 1552.3 708.0 1552.6 710.3 1552.9 703.4 1553.2 709.9 1553.5 703.9 1553.8 703.1 1554.1 708.3 1554.4 712.1 1554.7 696.1 1555.0 704.8 1555.3 700.8 1555.6 704.9 1555.9 705.9 1556.2 698.3 1556.5 699.5 1556.8 710.1 1557.1 705.5 1557.4 701.1 1557.7 704.1 1558.0 707.8 1558.3 707.6 1558.6 696.1 1558.9 701.5 1559.2 711.2 1559.5 702.1 1559.8 700.8 1560.1 704.2 1560.4 705.9 1560.7 704.6 1561.0 705.2 1561.3 698.7 1561.6 705.4 1561.9 707.1 1562.2 704.0 1562.5 702.6 1562.8 699.2 1563.1 704.4 1563.4 696.2 1563.7 701.8 1564.0 702.8 1564.3 695.4 1564.6 704.4 1564.9 697.8 1565.2 697.8 1565.5 700.0 1565.8 701.8 1566.1 702.3 1566.4 705.6 1566.7 699.1 1567.0 701.5 1567.3 705.4 1567.6 700.9 1567.9 698.3 1568.2 704.3 1568.5 705.9 1568.8 705.3 1569.1 698.3 1569.4 703.6 1569.7 703.0 1570.0 710.6 1570.3 703.0 1570.6 702.1 1570.9 709.2 1571.2 700.4 1571.5 708.6 1571.8 708.6 1572.1 702.9 1572.4 704.4 1572.7 707.2 1573.0 713.4 1573.3 704.4 1573.6 702.0 1573.9 706.4 1574.2 704.1 1574.5 700.7 1574.8 703.8 1575.1 705.4 1575.4 708.9 1575.7 706.1 1576.0 706.0 1576.3 701.6 1576.6 708.1 1576.9 701.1 1577.2 699.2 1577.5 700.7 1577.8 700.6 1578.1 704.1 1578.4 706.5 1578.7 704.0 1579.0 702.2 1579.3 704.7 1579.6 701.7 1579.9 707.9 1580.2 710.1 1580.5 702.2 1580.8 702.6 1581.1 710.5 1581.4 720.3 1581.7 703.0 1582.0 709.7 1582.3 706.1 1582.6 700.6 1582.9 703.9 1583.2 705.4 1583.5 702.3 1583.8 712.5 1584.1 695.7 1584.4 701.8 1584.7 701.7 1585.0 700.8 1585.3 701.1 1585.6 703.9 1585.9 705.7 1586.2 704.0 1586.5 706.4 1586.8 703.1 1587.1 699.9 1587.4 701.1 1587.7 711.9 1588.0 701.5 1588.3 702.0 1588.6 705.2 1588.9 706.1 1589.2 703.5 1589.5 707.1 1589.8 709.8 1590.1 714.9 1590.4 704.5 1590.7 698.8 1591.0 699.8 1591.3 699.8 1591.6 705.6 1591.9 711.9 1592.2 705.7 1592.5 709.6 1592.8 720.7 1593.1 696.6 1593.4 712.7 1593.7 703.7 1594.0 701.5 1594.3 701.3 1594.6 702.6 1594.9 717.5 1595.2 706.4 1595.5 709.9 1595.8 699.1 1596.1 710.5 1596.4 705.8 1596.7 707.9 1597.0 700.5 1597.3 707.7 1597.6 704.5 1597.9 703.1" fill="none" stroke="#000000" stroke-width="2.5" stroke-linejoin="round"/>
<path d="M60.0 612.0 59.5 664.5 59.8 618.2 60.1 639.0 60.4 631.2 60.7 632.1 61.0 634.0 61.3 621.6 61.6 634.1 61.9 629.5 62.2 657.5 62.5 638.3 62.8 633.9 63.1 634.7 63.4 632.0 63.7 629.5 64.0 632.6 64.3 644.1 64.6 636.5 64.9 646.8 65.2 637.5 65.5 639.6 65.8 653.2 66.1 644.6 66.4 633.9 66.7 638.2 67.0 645.5 67.3 658.7 67.6 638.1 67.9 640.2 68.2 655.7 68.5 636.1 68.8 640.8 69.1 650.8 69.4 648.6 69.7 645.0 70.0 650.0 70.3 626.0 70.6 653.8 70.9 638.2 71.2 633.8 71.5 648.3 71.8 655.5 72.1 643.3 72.4 639.1 72.7 647.7 73.0 647.4 73.3 660.3 73.6 654.7 73.9 650.3 74.2 658.6 74.5 647.8 74.8 642.8 75.1 654.9 75.4 655.3 75.7 649.1 76.0 645.2 76.3 653.3 76.6 624.5 76.9 657.9 77.2 656.5 77.5 641.0 77.8 653.6 78.1 646.2 78.4 660.1 78.7 639.9 79.0 643.2 79.3 660.7 79.6 665.0 79.9 640.5 80.2 652.0 80.5 660.1 80.8 648.7 81.1 678.7 81.4 648.3 81.7 660.4 82.0 650.0 82.3 670.3 82.6 658.3 82.9 655.9 83.2 646.9 83.5 674.2 83.8 666.1 84.1 666.4 84.4 675.7 84.7 663.7 85.0 656.3 85.3 655.4 85.6 655.8 85.9 674.0 86.2 651.9 86.5 658.3 86.8 658.9 87.1 665.3 87.4 671.1 87.7 654.9 88.0 652.1 88.3 664.7 88.6 675.4 88.9 671.7 89.2 668.2 89.5 661.8 89.8 669.8 90.1 663.3 90.4 673.7 90.7 661.2 91.0 668.6 91.3 666.9 91.6 672.6 91.9 670.2 92.2 689.8 92.5 682.0 92.8 682.3 93.1 646.6 93.4 667.3 93.7 665.6 94.0 674.9 94.3 655.2 94.6 681.1 94.9 680.4 95.2 662.2 95.5 664.7 95.8 666.3 96.1 673.0 96.4 678.2 96.7 691.4 97.0 672.0 97.3 680.2 97.6 675.4 97.9 689.8 98.2 680.9 98.5 686.8 98.8 662.2 99.1 672.9 99.4 665.8 99.7 689.2 100.0 681.9 100.3 674.4 100.6 673.6 100.9 683.4 101.2 672.4 101.5 671.1 101.8 682.2 102.1 699.7 102.4 675.6 102.7 675.0 103.0 670.9 103.3 670.1 103.6 684.4 103.9 687.5 104.2 680.8 104.5 683.7 104.8 682.2 105.1 682.7 105.4 670.9 105.7 676.3 106.0 683.4 106.3 676.9 106.6 679.5 106.9 677.3 107.2 679.3 107.5 691.1 107.8 679.0 108.1 683.4 108.4 691.7 108.7 690.5 109.0 700.3 109.3 671.4 109.6 697.2 109.9 682.7 110.2 687.8 110.5 693.9 110.8 696.4 111.1 696.3 111.4 689.0 111.7 710.1 112.0 686.1 112.3 687.5 112.6 695.4 112.9 684.8 113.2 708.6 113.5 698.0 113.8 709.1 114.1 689.7 114.4 687.2 114.7 692.2 115.0 696.6 115.3 686.2 115.6 694.0 115.9 690.6 116.2 713.4 116.5 686.5 116.8 700.5 117.1 687.0 117.4 685.0 117.7 686.9 118.0 683.8 118.3 694.3 118.6 706.4 118.9 694.4 119.2 698.4 119.5 707.6 119.8 695.9 120.1 695.5 120.4 692.0 120.7 682.9 121.0 700.8 121.3 682.3 121.6 700.3 121.9 695.0 122.2 704.8 122.5 695.0 122.8 689.5 123.1 698.8 123.4 689.0 123.7 694.9 124.0 696.8 124.3 694.7 124.6 695.4 124.9 690.9 125.2 695.8 125.5 682.8 125.8 696.5 126.1 689.2 126.4 707.5 126.7 709.1 127.0 685.0 127.3 699.9 127.6 697.9 127.9 691.4 128.2 703.6 128.5 696.0 128.8 687.3 129.1 697.8 129.4 699.0 129.7 701.2 130.0 691.5 130.3 708.5 130.6 710.3 130.9 692.7 131.2 693.1 131.5 700.9 131.8 697.4 132.1 725.9 132.4 703.8 132.7 694.8 133.0 692.8 133.3 701.7 133.6 723.4 133.9 700.6 134.2 704.3 134.5 707.7 134.8 703.4 135.1 724.2 135.4 700.0 135.7 713.7 136.0 705.6 136.3 709.5 136.6 690.6 136.9 729.0 137.2 703.1 137.5 705.3 137.8 698.2 138.1 699.7 138.4 709.9 138.7 718.3 139.0 711.7 139.3 715.8 139.6 714.8 139.9 706.0 140.2 712.8 140.5 710.8 140.8 705.3 141.1 712.2 141.4 717.2 141.7 709.1 142.0 703.8 142.3 712.5 142.6 723.3 142.9 705.2 143.2 706.2 143.5 705.0 143.8 717.4 144.1 694.4 144.4 710.2 144.7 717.4 145.0 701.4 145.3 720.3 145.6 712.0 145.9 703.7 146.2 709.5 146.5 697.1 146.8 703.8 147.1 724.1 147.4 697.4 147.7 724.5 148.0 707.2 148.3 716.9 148.6 709.1 148.9 693.6 149.2 704.6 149.5 711.1 149.8 700.7 150.1 699.5 150.4 712.2 150.7 701.3 151.0 697.6 151.3 701.1 151.6 720.8 151.9 706.2 152.2 717.6 152.5 723.1 152.8 710.4 153.1 702.0 153.4 700.9 153.7 710.2 154.0 717.8 154.3 712.7 154.6 715.1 154.9 707.4 155.2 713.3 155.5 705.0 155.8 708.6 156.1 696.0 156.4 700.2 156.7 707.8 157.0 703.4 157.3 704.5 157.6 717.2 157.9 711.0 158.2 732.7 158.5 719.6 158.8 704.2 159.1 718.5 159.4 715.1 159.7 707.2 160.0 721.6 160.3 706.7 160.6 693.1 160.9 719.1 161.2 708.0 161.5 725.4 161.8 707.9 162.1 704.3 162.4 726.1 162.7 705.1 163.0 714.6 163.3 725.4 163.6 714.0 163.9 712.5 164.2 714.0 164.5 720.1 164.8 707.3 165.1 718.3 165.4 718.1 165.7 734.2 166.0 710.9 166.3 706.8 166.6 719.6 166.9 708.5 167.2 716.0 167.5 715.1 167.8 723.6 168.1 708.9 168.4 713.2 168.7 686.7 169.0 707.4 169.3 727.1 169.6 709.0 169.9 705.5 170.2 705.4 170.5 721.5 170.8 715.7 171.1 705.8 171.4 719.8 171.7 716.5 172.0 720.6 172.3 709.8 172.6 729.6 172.9 719.6 173.2 713.8 173.5 710.8 173.8 711.5 174.1 721.9 174.4 712.8 174.7 723.9 175.0 719.7 175.3 726.4 175.6 721.8 175.9 714.7 176.2 702.1 176.5 718.8 176.8 721.7 177.1 717.1 177.4 719.9 177.7 711.9 178.0 710.6 178.3 708.6 178.6 733.7 178.9 717.4 179.2 712.0 179.5 706.2 179.8 714.6 180.1 728.0 180.4 719.6 180.7 710.6 181.0 735.0 181.3 728.1 181.6 724.2 181.9 722.6 182.2 725.8 182.5 720.6 182.8 722.6 183.1 710.6 183.4 729.1 183.7 718.2 184.0 734.1 184.3 702.6 184.6 722.2 184.9 724.6 185.2 713.9 185.5 720.2 185.8 722.6 186.1 723.7 186.4 712.6 186.7 715.5 187.0 725.0 187.3 733.4 187.6 717.6 187.9 717.3 188.2 718.3 188.5 725.2 188.8 704.2 189.1 701.3 189.4 717.7 189.7 708.7 190.0 712.4 190.3 717.4 190.6 720.6 190.9 709.0 191.2 723.3 191.5 704.5 191.8 721.2 192.1 705.8 192.4 702.0 192.7 722.0 193.0 713.8 193.3 711.0 193.6 713.6 193.9 720.6 194.2 716.5 194.5 716.7 194.8 725.6 195.1 708.2 195.4 713.4 195.7 713.1 196.0 726.7 196.3 725.1 196.6 733.9 196.9 716.8 197.2 715.9 197.5 724.0 197.8 714.1 198.1 723.8 198.4 723.0 198.7 711.9 199.0 715.8 199.3 716.2 199.6 732.0 199.9 737.7 200.2 716.4 200.5 717.1 200.8 702.0 201.1 718.9 201.4 717.2 201.7 709.5 202.0 723.6 202.3 706.3 202.6 715.6 202.9 718.4 203.2 708.4 203.5 724.3 203.8 730.9 204.1 701.4 204.4 707.4 204.7 722.2 205.0 716.7 205.3 708.7 205.6 715.2 205.9 715.8 206.2 716.3 206.5 727.9 206.8 720.5 207.1 741.3 207.4 735.5 207.7 725.9 208.0 726.3 208.3 728.5 208.6 726.3 208.9 708.8 209.2 724.5 209.5 718.1 209.8 731.2 210.1 718.5 210.4 721.8 210.7 720.2 211.0 731.8 211.3 719.0 211.6 715.6 211.9 720.1 212.2 714.4 212.5 718.9 212.8 717.6 213.1 719.8 213.4 734.2 213.7 712.6 214.0 717.9 214.3 716.3 214.6 723.1 214.9 709.4 215.2 709.4 215.5 717.5 215.8 724.5 216.1 717.0 216.4 714.1 216.7 711.6 217.0 721.9 217.3 729.9 217.6 720.4 217.9 719.4 218.2 721.4 218.5 711.1 218.8 715.6 219.1 716.0 219.4 720.3 219.7 717.7 220.0 709.4 220.3 727.2 220.6 732.2 220.9 716.1 221.2 722.8 221.5 720.1 221.8 724.3 222.1 707.8 222.4 731.6 222.7 714.7 223.0 728.5 223.3 718.8 223.6 715.3 223.9 717.1 224.2 725.4 224.5 708.0 224.8 713.5 225.1 714.7 225.4 706.5 225.7 735.0 226.0 722.8 226.3 718.1 226.6 727.7 226.9 707.1 227.2 717.1 227.5 732.8 227.8 730.6 228.1 694.7 228.4 699.1 228.7 711.0 229.0 726.9 229.3 714.9 229.6 716.8 229.9 725.8 230.2 712.1 230.5 720.1 230.8 724.7 231.1 724.0 231.4 723.1 231.7 714.1 232.0 722.5 232.3 715.3 232.6 729.1 232.9 750.3 233.2 713.1 233.5 704.1 233.8 715.3 234.1 722.8 234.4 726.8 234.7 727.1 235.0 712.7 235.3 712.7 235.6 728.6 235.9 710.6 236.2 727.1 236.5 716.6 236.8 724.3 237.1 723.8 237.4 727.8 237.7 724.7 238.0 711.2 238.3 720.5 238.6 718.3 238.9 720.6 239.2 728.2 239.5 716.2 239.8 713.0 240.1 709.5 240.4 715.8 240.7 724.0 241.0 712.3 241.3 727.4 241.6 720.3 241.9 715.1 242.2 708.9 242.5 719.9 242.8 723.4 243.1 706.2 243.4 727.6 243.7 731.6 244.0 720.6 244.3 721.8 244.6 749.6 244.9 727.9 245.2 711.6 245.5 717.8 245.8 716.7 246.1 716.8 246.4 702.7 246.7 727.1 247.0 710.3 247.3 719.1 247.6 716.8 247.9 724.7 248.2 714.1 248.5 708.5 248.8 724.1 249.1 729.2 249.4 713.7 249.7 728.8 250.0 719.7 250.3 713.9 250.6 730.1 250.9 711.9 251.2 725.7 251.5 714.1 251.8 722.9 252.1 703.7 252.4 707.9 252.7 726.1 253.0 719.0 253.3 717.9 253.6 714.4 253.9 722.8 254.2 708.0 254.5 709.8 254.8 715.4 255.1 711.6 255.4 709.3 255.7 717.0 256.0 716.5 256.3 715.9 256.6 731.1 256.9 730.0 257.2 727.3 257.5 716.9 257.8 713.8 258.1 707.6 258.4 714.9 258.7 703.9 259.0 710.5 259.3 723.4 259.6 730.7 259.9 725.0 260.2 711.4 260.5 721.2 260.8 711.9 261.1 727.4 261.4 716.7 261.7 724.2 262.0 737.2 262.3 724.7 262.6 737.1 262.9 718.8 263.2 715.1 263.5 728.1 263.8 731.5 264.1 710.9 264.4 718.0 264.7 707.8 265.0 716.0 265.3 724.4 265.6 716.2 265.9 713.4 266.2 708.0 266.5 720.2 266.8 723.6 267.1 722.0 267.4 719.4 267.7 708.8 268.0 740.2 268.3 717.0 268.6 715.5 268.9 726.2 269.2 695.0 269.5 717.0 269.8 716.5 270.1 720.3 270.4 728.2 270.7 721.0 271.0 705.5 271.3 715.0 271.6 719.0 271.9 718.5 272.2 708.8 272.5 706.4 272.8 721.6 273.1 720.0 273.4 717.3 273.7 706.1 274.0 731.9 274.3 699.9 274.6 714.8 274.9 734.7 275.2 716.3 275.5 719.9 275.8 709.4 276.1 734.4 276.4 708.7 276.7 719.3 277.0 718.4 277.3 710.2 277.6 724.3 277.9 708.0 278.2 712.6 278.5 717.2 278.8 712.4 279.1 722.8 279.4 724.5 279.7 715.3 280.0 713.5 280.3 713.7 280.6 714.7 280.9 726.9 281.2 715.6 281.5 720.2 281.8 716.5 282.1 711.2 282.4 723.7 282.7 709.9 283.0 717.0 283.3 728.7 283.6 709.4 283.9 716.4 284.2 706.3 284.5 710.7 284.8 700.5 285.1 712.2 285.4 712.7 285.7 717.8 286.0 729.0 286.3 718.5 286.6 721.3 286.9 715.9 287.2 714.5 287.5 710.4 287.8 704.4 288.1 716.6 288.4 729.0 288.7 719.5 289.0 712.1 289.3 729.0 289.6 710.6 289.9 711.4 290.2 707.5 290.5 709.1 290.8 713.8 291.1 731.8 291.4 714.0 291.7 708.4 292.0 711.2 292.3 713.7 292.6 704.2 292.9 716.2 293.2 720.5 293.5 717.5 293.8 719.6 294.1 706.4 294.4 703.9 294.7 724.9 295.0 723.3 295.3 704.7 295.6 716.9 295.9 714.9 296.2 720.9 296.5 716.1 296.8 708.7 297.1 715.9 297.4 715.6 297.7 714.1 298.0 702.5 298.3 696.6 298.6 708.8 298.9 703.6 299.2 716.0 299.5 719.5 299.8 716.0 300.1 711.4 300.4 714.4 300.7 722.9 301.0 705.5 301.3 720.8 301.6 719.0 301.9 715.6 302.2 725.0 302.5 708.6 302.8 720.7 303.1 707.1 303.4 708.1 303.7 701.7 304.0 716.5 304.3 706.8 304.6 713.5 304.9 705.5 305.2 721.1 305.5 727.5 305.8 714.5 306.1 725.7 306.4 719.1 306.7 730.2 307.0 713.2 307.3 702.3 307.6 730.7 307.9 710.6 308.2 700.8 308.5 704.7 308.8 701.6 309.1 710.8 309.4 704.7 309.7 730.0 310.0 716.7 310.3 701.0 310.6 701.8 310.9 707.6 311.2 699.3 311.5 709.8 311.8 710.9 312.1 705.9 312.4 707.3 312.7 716.6 313.0 721.9 313.3 722.5 313.6 711.0 313.9 720.7 314.2 702.3 314.5 713.5 314.8 704.0 315.1 715.8 315.4 702.1 315.7 703.7 316.0 710.1 316.3 716.3 316.6 700.6 316.9 706.2 317.2 710.8 317.5 712.1 317.8 700.3 318.1 710.2 318.4 707.6 318.7 720.2 319.0 713.4 319.3 700.6 319.6 695.6 319.9 709.8 320.2 718.0 320.5 710.1 320.8 719.1 321.1 705.4 321.4 699.8 321.7 714.1 322.0 709.2 322.3 713.4 322.6 693.7 322.9 709.5 323.2 703.9 323.5 714.0 323.8 704.0 324.1 703.7 324.4 701.1 324.7 722.8 325.0 707.7 325.3 702.4 325.6 700.6 325.9 696.0 326.2 718.5 326.5 688.6 326.8 701.4 327.1 711.6 327.4 715.8 327.7 705.7 328.0 712.4 328.3 712.1 328.6 717.9 328.9 706.6 329.2 719.0 329.5 707.6 329.8 717.9 330.1 698.7 330.4 712.8 330.7 697.5 331.0 696.0 331.3 709.1 331.6 696.3 331.9 710.3 332.2 698.0 332.5 717.4 332.8 704.9 333.1 697.3 333.4 706.5 333.7 714.9 334.0 699.2 334.3 710.2 334.6 720.3 334.9 714.2 335.2 703.8 335.5 699.8 335.8 707.8 336.1 687.8 336.4 685.7 336.7 698.6 337.0 695.8 337.3 716.4 337.6 703.6 337.9 695.9 338.2 690.1 338.5 705.8 338.8 696.4 339.1 697.8 339.4 701.0 339.7 702.1 340.0 702.0 340.3 701.9 340.6 710.8 340.9 713.9 341.2 690.0 341.5 729.3 341.8 701.1 342.1 709.4 342.4 691.8 342.7 701.9 343.0 701.8 343.3 699.9 343.6 709.0 343.9 706.1 344.2 691.8 344.5 697.3 344.8 703.2 345.1 702.6 345.4 695.0 345.7 693.9 346.0 695.6 346.3 689.0 346.6 687.5 346.9 707.4 347.2 692.1 347.5 695.3 347.8 688.5 348.1 708.4 348.4 705.3 348.7 689.2 349.0 695.5 349.3 683.0 349.6 699.9 349.9 691.2 350.2 676.6 350.5 688.6 350.8 680.4 351.1 677.4 351.4 671.1 351.7 659.9 352.0 653.7 352.3 659.8 352.6 646.7 352.9 634.9 353.2 645.3 353.5 623.8 353.8 614.0 354.1 605.0 354.4 602.2 354.7 594.4 355.0 582.8 355.3 576.6 355.6 563.0 355.9 559.2 356.2 553.8 356.5 551.0 356.8 549.8 357.1 545.6 357.4 554.9 357.7 550.9 358.0 559.1 358.3 566.6 358.6 574.2 358.9 580.5 359.2 579.7 359.5 592.9 359.8 609.2 360.1 607.9 360.4 617.9 360.7 620.1 361.0 645.9 361.3 648.7 361.6 647.0 361.9 657.3 362.2 662.9 362.5 661.6 362.8 670.8 363.1 678.1 363.4 683.5 363.7 691.8 364.0 685.3 364.3 684.1 364.6 691.9 364.9 686.5 365.2 679.3 365.5 701.6 365.8 690.1 366.1 696.1 366.4 700.6 366.7 689.7 367.0 702.0 367.3 701.2 367.6 698.0 367.9 701.9 368.2 694.7 368.5 687.1 368.8 698.7 369.1 695.1 369.4 707.6 369.7 703.6 370.0 698.7 370.3 702.8 370.6 712.8 370.9 711.4 371.2 707.5 371.5 706.9 371.8 702.3 372.1 703.6 372.4 711.2 372.7 703.6 373.0 707.4 373.3 698.6 373.6 695.8 373.9 695.9 374.2 703.6 374.5 716.5 374.8 715.6 375.1 701.0 375.4 692.2 375.7 713.4 376.0 711.3 376.3 694.6 376.6 716.1 376.9 710.0 377.2 718.7 377.5 711.6 377.8 715.8 378.1 712.0 378.4 704.0 378.7 708.7 379.0 703.3 379.3 716.5 379.6 700.7 379.9 701.8 380.2 716.1 380.5 719.8 380.8 722.3 381.1 719.8 381.4 703.1 381.7 708.0 382.0 709.1 382.3 712.8 382.6 700.6 382.9 713.3 383.2 715.4 383.5 707.8 383.8 714.8 384.1 722.7 384.4 714.7 384.7 726.4 385.0 726.1 385.3 717.8 385.6 717.9 385.9 713.0 386.2 724.5 386.5 710.8 386.8 711.6 387.1 721.2 387.4 711.9 387.7 719.6 388.0 724.3 388.3 717.6 388.6 718.0 388.9 723.9 389.2 722.9 389.5 708.6 389.8 705.1 390.1 733.3 390.4 721.1 390.7 699.1 391.0 710.6 391.3 719.2 391.6 713.1 391.9 722.6 392.2 720.1 392.5 723.1 392.8 708.3 393.1 724.4 393.4 734.8 393.7 715.5 394.0 730.0 394.3 731.7 394.6 725.5 394.9 720.4 395.2 714.3 395.5 716.1 395.8 727.1 396.1 728.8 396.4 730.8 396.7 729.0 397.0 732.4 397.3 719.9 397.6 711.0 397.9 724.4 398.2 728.5 398.5 724.0 398.8 714.6 399.1 718.4 399.4 715.2 399.7 725.1 400.0 717.9 400.3 723.5 400.6 728.0 400.9 725.8 401.2 734.8 401.5 718.5 401.8 713.0 402.1 732.2 402.4 741.6 402.7 736.2 403.0 728.1 403.3 730.0 403.6 727.7 403.9 718.9 404.2 723.3 404.5 730.4 404.8 723.6 405.1 741.3 405.4 712.9 405.7 725.1 406.0 735.7 406.3 724.4 406.6 721.5 406.9 715.4 407.2 721.4 407.5 739.6 407.8 733.3 408.1 734.7 408.4 726.2 408.7 738.7 409.0 730.5 409.3 724.3 409.6 727.3 409.9 732.3 410.2 738.6 410.5 730.3 410.8 734.2 411.1 754.3 411.4 726.2 411.7 723.9 412.0 742.1 412.3 736.2 412.6 730.6 412.9 733.6 413.2 729.9 413.5 735.6 413.8 728.8 414.1 737.8 414.4 725.5 414.7 727.6 415.0 733.9 415.3 729.9 415.6 737.6 415.9 732.8 416.2 729.8 416.5 734.7 416.8 730.1 417.1 724.5 417.4 726.9 417.7 728.9 418.0 731.0 418.3 734.7 418.6 740.3 418.9 740.0 419.2 747.0 419.5 748.5 419.8 733.4 420.1 746.3 420.4 742.9 420.7 732.1 421.0 737.1 421.3 742.7 421.6 736.9 421.9 742.3 422.2 738.1 422.5 740.3 422.8 733.8 423.1 738.4 423.4 733.7 423.7 743.3 424.0 726.6 424.3 738.5 424.6 745.0 424.9 740.4 425.2 736.5 425.5 742.4 425.8 731.8 426.1 732.0 426.4 734.9 426.7 736.3 427.0 743.9 427.3 732.1 427.6 748.3 427.9 728.7 428.2 733.1 428.5 737.7 428.8 745.9 429.1 734.4 429.4 726.5 429.7 741.1 430.0 738.3 430.3 732.2 430.6 728.8 430.9 734.6 431.2 739.6 431.5 743.4 431.8 725.5 432.1 755.7 432.4 739.2 432.7 737.2 433.0 744.1 433.3 740.5 433.6 756.3 433.9 747.3 434.2 736.4 434.5 737.8 434.8 737.3 435.1 738.4 435.4 745.0 435.7 734.5 436.0 758.6 436.3 740.6 436.6 740.3 436.9 751.4 437.2 730.6 437.5 732.8 437.8 745.8 438.1 742.2 438.4 742.2 438.7 745.0 439.0 739.0 439.3 741.8 439.6 735.2 439.9 726.5 440.2 751.9 440.5 738.1 440.8 739.5 441.1 753.4 441.4 751.2 441.7 741.2 442.0 741.3 442.3 744.2 442.6 739.3 442.9 748.6 443.2 746.1 443.5 746.6 443.8 750.4 444.1 750.3 444.4 766.0 444.7 756.2 445.0 736.5 445.3 752.0 445.6 735.9 445.9 733.4 446.2 751.1 446.5 742.4 446.8 744.8 447.1 753.8 447.4 740.5 447.7 738.5 448.0 749.2 448.3 760.1 448.6 750.7 448.9 738.7 449.2 743.6 449.5 746.0 449.8 761.0 450.1 753.6 450.4 753.4 450.7 755.9 451.0 746.2 451.3 751.2 451.6 753.2 451.9 742.7 452.2 748.4 452.5 752.2 452.8 742.5 453.1 757.1 453.4 753.8 453.7 755.8 454.0 744.6 454.3 749.9 454.6 759.0 454.9 757.5 455.2 744.9 455.5 751.0 455.8 759.2 456.1 749.3 456.4 752.3 456.7 775.6 457.0 749.7 457.3 749.6 457.6 744.5 457.9 744.1 458.2 760.4 458.5 749.8 458.8 743.9 459.1 745.4 459.4 750.8 459.7 755.9 460.0 746.7 460.3 755.7 460.6 748.4 460.9 753.6 461.2 754.7 461.5 755.4 461.8 747.4 462.1 750.7 462.4 755.0 462.7 744.6 463.0 753.6 463.3 755.3 463.6 758.9 463.9 752.0 464.2 751.3 464.5 753.3 464.8 748.3 465.1 751.4 465.4 756.6 465.7 754.6 466.0 747.0 466.3 749.7 466.6 741.9 466.9 758.3 467.2 750.2 467.5 754.9 467.8 747.3 468.1 752.5 468.4 756.5 468.7 760.1 469.0 746.3 469.3 759.4 469.6 752.3 469.9 749.7 470.2 757.3 470.5 751.4 470.8 751.4 471.1 750.6 471.4 756.1 471.7 755.1 472.0 753.0 472.3 749.6 472.6 752.2 472.9 757.8 473.2 763.7 473.5 755.4 473.8 764.9 474.1 755.7 474.4 749.7 474.7 759.9 475.0 750.6 475.3 758.7 475.6 763.2 475.9 754.6 476.2 756.0 476.5 772.8 476.8 758.2 477.1 758.5 477.4 761.9 477.7 756.5 478.0 756.1 478.3 759.7 478.6 745.1 478.9 766.8 479.2 751.7 479.5 747.8 479.8 761.2 480.1 758.2 480.4 746.7 480.7 759.5 481.0 747.9 481.3 754.5 481.6 750.4 481.9 754.0 482.2 762.4 482.5 759.6 482.8 760.9 483.1 768.2 483.4 758.6 483.7 753.0 484.0 757.8 484.3 770.4 484.6 759.9 484.9 761.8 485.2 758.7 485.5 761.5 485.8 762.8 486.1 759.9 486.4 759.5 486.7 753.1 487.0 755.8 487.3 763.2 487.6 765.5 487.9 766.7 488.2 761.4 488.5 756.5 488.8 765.2 489.1 765.2 489.4 753.4 489.7 766.6 490.0 765.3 490.3 772.7 490.6 755.7 490.9 750.5 491.2 769.7 491.5 752.7 491.8 758.2 492.1 752.4 492.4 756.8 492.7 752.6 493.0 761.3 493.3 768.9 493.6 765.5 493.9 767.0 494.2 760.9 494.5 772.4 494.8 766.3 495.1 769.8 495.4 754.9 495.7 765.4 496.0 757.0 496.3 765.5 496.6 765.1 496.9 753.3 497.2 764.7 497.5 775.2 497.8 768.4 498.1 767.5 498.4 759.0 498.7 760.1 499.0 757.9 499.3 764.9 499.6 771.7 499.9 768.2 500.2 764.0 500.5 758.2 500.8 768.5 501.1 763.1 501.4 754.6 501.7 749.7 502.0 762.7 502.3 759.7 502.6 775.5 502.9 765.1 503.2 759.2 503.5 762.2 503.8 775.4 504.1 759.8 504.4 769.9 504.7 767.9 505.0 774.7 505.3 768.6 505.6 763.1 505.9 768.7 506.2 766.0 506.5 771.7 506.8 764.9 507.1 778.8 507.4 765.2 507.7 768.6 508.0 762.3 508.3 766.8 508.6 766.3 508.9 767.2 509.2 771.8 509.5 763.2 509.8 758.6 510.1 773.4 510.4 764.8 510.7 762.8 511.0 773.9 511.3 774.2 511.6 753.7 511.9 764.6 512.2 771.7 512.5 775.0 512.8 764.1 513.1 783.0 513.4 762.7 513.7 765.9 514.0 768.0 514.3 767.2 514.6 772.4 514.9 773.8 515.2 767.0 515.5 776.4 515.8 763.7 516.1 765.5 516.4 778.8 516.7 768.3 517.0 774.4 517.3 765.3 517.6 766.3 517.9 767.2 518.2 768.9 518.5 765.9 518.8 768.0 519.1 772.0 519.4 775.5 519.7 768.6 520.0 771.9 520.3 773.6 520.6 762.1 520.9 759.6 521.2 784.5 521.5 776.3 521.8 768.5 522.1 771.3 522.4 759.6 522.7 760.6 523.0 770.0 523.3 760.2 523.6 777.0 523.9 764.3 524.2 769.9 524.5 788.2 524.8 780.4 525.1 766.6 525.4 774.8 525.7 759.0 526.0 764.9 526.3 770.4 526.6 777.0 526.9 762.9 527.2 771.5 527.5 769.1 527.8 757.2 528.1 767.5 528.4 777.8 528.7 767.7 529.0 771.3 529.3 773.4 529.6 764.2 529.9 776.0 530.2 783.5 530.5 778.5 530.8 776.6 531.1 765.7 531.4 765.1 531.7 764.0 532.0 760.3 532.3 764.0 532.6 774.5 532.9 783.1 533.2 764.9 533.5 773.4 533.8 757.5 534.1 766.6 534.4 763.0 534.7 759.9 535.0 768.8 535.3 769.1 535.6 766.2 535.9 765.6 536.2 759.8 536.5 767.2 536.8 765.2 537.1 770.0 537.4 762.1 537.7 769.9 538.0 771.6 538.3 776.3 538.6 775.1 538.9 769.7 539.2 764.8 539.5 759.1 539.8 768.5 540.1 777.4 540.4 785.2 540.7 756.0 541.0 764.3 541.3 766.5 541.6 759.2 541.9 769.5 542.2 768.6 542.5 763.5 542.8 768.1 543.1 759.9 543.4 762.9 543.7 763.3 544.0 773.6 544.3 759.6 544.6 766.8 544.9 775.3 545.2 767.7 545.5 772.8 545.8 764.3 546.1 770.4 546.4 773.3 546.7 782.4 547.0 772.1 547.3 776.6 547.6 767.7 547.9 768.2 548.2 783.3 548.5 773.0 548.8 776.4 549.1 771.8 549.4 781.2 549.7 782.7 550.0 762.8 550.3 779.3 550.6 771.3 550.9 770.1 551.2 766.1 551.5 771.6 551.8 757.5 552.1 763.2 552.4 760.3 552.7 768.8 553.0 772.7 553.3 771.5 553.6 769.2 553.9 763.7 554.2 757.9 554.5 769.3 554.8 767.7 555.1 768.9 555.4 775.7 555.7 765.7 556.0 765.6 556.3 755.2 556.6 771.9 556.9 766.3 557.2 762.5 557.5 768.8 557.8 760.9 558.1 763.5 558.4 779.0 558.7 770.9 559.0 772.0 559.3 770.8 559.6 770.1 559.9 767.3 560.2 781.1 560.5 765.7 560.8 770.5 561.1 764.8 561.4 764.0 561.7 746.8 562.0 756.2 562.3 775.5 562.6 775.1 562.9 763.3 563.2 765.4 563.5 769.1 563.8 760.0 564.1 776.4 564.4 756.1 564.7 758.5 565.0 751.6 565.3 774.0 565.6 764.8 565.9 774.4 566.2 758.6 566.5 765.7 566.8 764.0 567.1 764.5 567.4 776.4 567.7 777.5 568.0 771.2 568.3 760.2 568.6 770.6 568.9 770.2 569.2 765.0 569.5 764.9 569.8 764.1 570.1 756.2 570.4 762.3 570.7 776.4 571.0 755.1 571.3 760.8 571.6 767.8 571.9 748.2 572.2 758.7 572.5 745.3 572.8 755.7 573.1 751.5 573.4 753.8 573.7 755.7 574.0 756.6 574.3 756.8 574.6 746.0 574.9 773.0 575.2 755.7 575.5 751.2 575.8 753.3 576.1 758.3 576.4 751.0 576.7 752.2 577.0 753.3 577.3 758.8 577.6 751.4 577.9 759.2 578.2 757.0 578.5 753.2 578.8 762.0 579.1 754.4 579.4 747.9 579.7 755.5 580.0 754.5 580.3 753.2 580.6 754.5 580.9 767.9 581.2 754.1 581.5 755.2 581.8 751.0 582.1 760.2 582.4 751.9 582.7 747.8 583.0 745.7 583.3 755.1 583.6 756.5 583.9 744.1 584.2 748.3 584.5 756.0 584.8 758.5 585.1 745.7 585.4 749.0 585.7 757.8 586.0 748.2 586.3 750.8 586.6 748.5 586.9 746.8 587.2 754.0 587.5 755.7 587.8 746.9 588.1 755.0 588.4 764.8 588.7 756.3 589.0 760.4 589.3 750.0 589.6 763.4 589.9 751.1 590.2 767.2 590.5 753.2 590.8 751.9 591.1 751.2 591.4 752.3 591.7 751.8 592.0 752.7 592.3 754.8 592.6 760.6 592.9 762.1 593.2 755.2 593.5 764.6 593.8 752.1 594.1 748.6 594.4 751.7 594.7 761.2 595.0 750.0 595.3 750.9 595.6 765.9 595.9 775.0 596.2 771.2 596.5 751.0 596.8 758.8 597.1 763.7 597.4 759.5 597.7 751.0 598.0 756.0 598.3 750.8 598.6 753.0 598.9 772.9 599.2 763.4 599.5 752.0 599.8 747.0 600.1 761.8 600.4 755.8 600.7 762.0 601.0 754.9 601.3 756.6 601.6 758.9 601.9 750.9 602.2 745.9 602.5 744.1 602.8 748.7 603.1 749.4 603.4 748.0 603.7 745.7 604.0 745.7 604.3 737.1 604.6 743.4 604.9 742.3 605.2 732.5 605.5 728.8 605.8 728.5 606.1 724.0 606.4 720.7 606.7 718.4 607.0 716.7 607.3 716.0 607.6 719.2 607.9 722.7 608.2 720.0 608.5 724.2 608.8 728.1 609.1 729.9 609.4 732.4 609.7 736.9 610.0 735.2 610.3 745.0 610.6 747.3 610.9 762.7 611.2 759.2 611.5 755.2 611.8 759.2 612.1 771.1 612.4 772.4 612.7 765.9 613.0 765.2 613.3 759.9 613.6 766.3 613.9 767.3 614.2 765.9 614.5 787.0 614.8 761.9 615.1 770.1 615.4 774.4 615.7 775.0 616.0 783.1 616.3 766.3 616.6 769.8 616.9 774.7 617.2 775.1 617.5 772.6 617.8 771.0 618.1 781.5 618.4 770.1 618.7 772.7 619.0 784.5 619.3 786.6 619.6 781.3 619.9 772.0 620.2 772.1 620.5 769.0 620.8 771.0 621.1 774.7 621.4 784.4 621.7 778.2 622.0 773.1 622.3 773.1 622.6 767.4 622.9 784.3 623.2 767.6 623.5 778.9 623.8 770.3 624.1 772.1 624.4 770.2 624.7 783.1 625.0 777.2 625.3 792.4 625.6 772.4 625.9 772.2 626.2 781.2 626.5 781.0 626.8 776.4 627.1 768.3 627.4 786.6 627.7 781.3 628.0 780.3 628.3 775.0 628.6 783.6 628.9 775.3 629.2 778.5 629.5 776.3 629.8 789.7 630.1 774.1 630.4 776.6 630.7 784.8 631.0 779.7 631.3 778.4 631.6 777.3 631.9 786.9 632.2 775.3 632.5 781.3 632.8 798.1 633.1 781.0 633.4 772.0 633.7 772.8 634.0 779.7 634.3 772.8 634.6 771.2 634.9 772.3 635.2 769.8 635.5 784.0 635.8 767.2 636.1 788.4 636.4 772.5 636.7 779.7 637.0 782.8 637.3 780.3 637.6 785.2 637.9 774.1 638.2 768.6 638.5 778.0 638.8 771.0 639.1 776.1 639.4 784.4 639.7 778.0 640.0 773.7 640.3 773.4 640.6 777.5 640.9 778.2 641.2 771.4 641.5 780.7 641.8 773.7 642.1 780.3 642.4 776.7 642.7 784.7 643.0 783.9 643.3 779.1 643.6 778.5 643.9 781.5 644.2 787.1 644.5 785.2 644.8 780.1 645.1 780.9 645.4 788.4 645.7 766.2 646.0 782.2 646.3 774.7 646.6 787.1 646.9 776.7 647.2 778.7 647.5 773.9 647.8 779.4 648.1 783.8 648.4 789.2 648.7 773.1 649.0 777.1 649.3 793.8 649.6 787.7 649.9 779.4 650.2 783.9 650.5 760.0 650.8 789.0 651.1 780.4 651.4 768.0 651.7 790.0 652.0 776.3 652.3 774.4 652.6 782.4 652.9 781.8 653.2 777.2 653.5 779.2 653.8 772.9 654.1 772.5 654.4 784.6 654.7 787.2 655.0 783.2 655.3 781.6 655.6 777.5 655.9 778.9 656.2 774.8 656.5 790.0 656.8 776.6 657.1 781.8 657.4 779.6 657.7 772.7 658.0 791.1 658.3 777.6 658.6 773.1 658.9 780.1 659.2 775.0 659.5 779.6 659.8 774.6 660.1 782.5 660.4 779.6 660.7 772.5 661.0 785.0 661.3 780.1 661.6 773.4 661.9 780.8 662.2 781.0 662.5 789.6 662.8 774.1 663.1 785.8 663.4 777.7 663.7 781.5 664.0 776.6 664.3 777.2 664.6 780.5 664.9 771.7 665.2 761.6 665.5 777.3 665.8 774.9 666.1 777.6 666.4 782.5 666.7 775.7 667.0 787.5 667.3 776.4 667.6 777.4 667.9 781.1 668.2 779.6 668.5 775.7 668.8 776.8 669.1 769.7 669.4 770.7 669.7 776.5 670.0 780.2 670.3 773.2 670.6 780.1 670.9 786.8 671.2 788.0 671.5 775.2 671.8 780.9 672.1 778.2 672.4 779.1 672.7 779.2 673.0 779.0 673.3 778.9 673.6 775.2 673.9 771.9 674.2 776.1 674.5 776.6 674.8 780.7 675.1 776.8 675.4 780.1 675.7 781.6 676.0 768.6 676.3 771.7 676.6 777.7 676.9 773.0 677.2 767.7 677.5 778.2 677.8 772.1 678.1 764.4 678.4 783.4 678.7 765.8 679.0 771.9 679.3 768.4 679.6 772.3 679.9 774.7 680.2 767.4 680.5 770.8 680.8 770.5 681.1 763.1 681.4 777.6 681.7 771.8 682.0 769.2 682.3 767.2 682.6 768.7 682.9 771.1 683.2 767.9 683.5 777.2 683.8 758.6 684.1 760.1 684.4 768.5 684.7 761.1 685.0 769.1 685.3 766.3 685.6 772.7 685.9 771.7 686.2 776.8 686.5 777.5 686.8 776.4 687.1 772.1 687.4 775.1 687.7 771.8 688.0 766.0 688.3 759.2 688.6 763.0 688.9 771.5 689.2 758.0 689.5 770.2 689.8 764.9 690.1 775.0 690.4 769.6 690.7 764.7 691.0 768.5 691.3 758.0 691.6 769.7 691.9 770.7 692.2 759.6 692.5 772.8 692.8 767.4 693.1 768.9 693.4 761.1 693.7 773.1 694.0 770.9 694.3 767.7 694.6 762.8 694.9 771.8 695.2 778.8 695.5 769.7 695.8 773.0 696.1 764.4 696.4 768.2 696.7 769.3 697.0 768.0 697.3 788.8 697.6 769.4 697.9 762.6 698.2 771.6 698.5 761.7 698.8 770.1 699.1 771.1 699.4 764.3 699.7 765.1 700.0 762.1 700.3 767.4 700.6 763.2 700.9 776.6 701.2 770.0 701.5 765.3 701.8 759.6 702.1 778.3 702.4 773.7 702.7 770.5 703.0 767.2 703.3 767.1 703.6 763.7 703.9 777.0 704.2 767.8 704.5 755.0 704.8 760.7 705.1 754.3 705.4 769.3 705.7 772.5 706.0 775.8 706.3 777.9 706.6 761.6 706.9 767.9 707.2 771.0 707.5 769.8 707.8 762.9 708.1 769.9 708.4 768.2 708.7 773.2 709.0 765.5 709.3 764.5 709.6 763.2 709.9 762.9 710.2 762.1 710.5 763.4 710.8 768.8 711.1 770.3 711.4 773.8 711.7 772.5 712.0 769.9 712.3 757.8 712.6 771.7 712.9 773.3 713.2 757.1 713.5 761.7 713.8 762.5 714.1 762.2 714.4 765.9 714.7 762.9 715.0 769.6 715.3 761.9 715.6 767.1 715.9 765.4 716.2 763.3 716.5 773.8 716.8 768.4 717.1 771.2 717.4 766.8 717.7 772.3 718.0 771.9 718.3 767.5 718.6 760.7 718.9 773.4 719.2 772.8 719.5 770.2 719.8 770.6 720.1 770.1 720.4 770.6 720.7 764.8 721.0 769.5 721.3 771.6 721.6 767.0 721.9 765.4 722.2 780.8 722.5 775.5 722.8 768.9 723.1 768.1 723.4 752.4 723.7 760.1 724.0 769.7 724.3 778.1 724.6 761.9 724.9 767.8 725.2 782.3 725.5 775.0 725.8 773.8 726.1 778.3 726.4 771.2 726.7 771.0 727.0 775.9 727.3 779.5 727.6 767.2 727.9 786.0 728.2 764.5 728.5 769.2 728.8 785.9 729.1 770.3 729.4 776.4 729.7 768.3 730.0 771.6 730.3 767.7 730.6 771.4 730.9 779.1 731.2 783.4 731.5 778.4 731.8 782.5 732.1 771.4 732.4 782.1 732.7 777.0 733.0 781.7 733.3 772.2 733.6 773.1 733.9 781.9 734.2 777.7 734.5 775.1 734.8 771.3 735.1 774.2 735.4 777.3 735.7 778.6 736.0 772.1 736.3 772.2 736.6 778.5 736.9 769.8 737.2 780.1 737.5 775.1 737.8 774.5 738.1 764.8 738.4 768.0 738.7 767.4 739.0 770.7 739.3 770.3 739.6 778.4 739.9 776.3 740.2 773.3 740.5 761.2 740.8 783.4 741.1 773.5 741.4 780.7 741.7 772.8 742.0 776.1 742.3 779.8 742.6 777.4 742.9 781.4 743.2 775.5 743.5 787.6 743.8 762.9 744.1 773.9 744.4 781.8 744.7 775.5 745.0 774.6 745.3 768.9 745.6 783.4 745.9 768.6 746.2 781.0 746.5 778.1 746.8 781.8 747.1 785.2 747.4 771.7 747.7 773.6 748.0 774.8 748.3 769.9 748.6 781.9 748.9 775.7 749.2 778.5 749.5 769.2 749.8 777.9 750.1 775.0 750.4 777.6 750.7 773.0 751.0 783.5 751.3 775.1 751.6 767.5 751.9 781.7 752.2 776.9 752.5 774.3 752.8 792.0 753.1 778.3 753.4 768.6 753.7 773.7 754.0 780.7 754.3 777.8 754.6 785.5 754.9 784.6 755.2 775.3 755.5 779.1 755.8 782.5 756.1 777.3 756.4 777.1 756.7 786.4 757.0 781.7 757.3 773.1 757.6 776.9 757.9 777.6 758.2 779.0 758.5 776.3 758.8 786.9 759.1 775.3 759.4 774.8 759.7 780.9 760.0 770.3 760.3 772.0 760.6 783.2 760.9 774.0 761.2 776.1 761.5 785.8 761.8 782.5 762.1 780.4 762.4 781.5 762.7 777.1 763.0 781.9 763.3 778.6 763.6 793.8 763.9 783.3 764.2 778.9 764.5 780.4 764.8 780.9 765.1 774.5 765.4 776.9 765.7 789.0 766.0 770.5 766.3 778.1 766.6 789.2 766.9 789.1 767.2 776.3 767.5 788.9 767.8 779.4 768.1 790.1 768.4 785.0 768.7 779.9 769.0 785.0 769.3 784.1 769.6 777.7 769.9 793.3 770.2 779.8 770.5 787.5 770.8 777.6 771.1 773.5 771.4 776.4 771.7 780.6 772.0 785.1 772.3 791.2 772.6 782.1 772.9 779.3 773.2 776.1 773.5 781.2 773.8 783.9 774.1 772.4 774.4 788.7 774.7 791.1 775.0 794.5 775.3 777.6 775.6 781.9 775.9 781.9 776.2 772.1 776.5 777.9 776.8 777.3 777.1 784.4 777.4 784.0 777.7 788.9 778.0 779.9 778.3 775.5 778.6 783.9 778.9 783.5 779.2 785.0 779.5 788.2 779.8 778.8 780.1 785.6 780.4 776.9 780.7 782.2 781.0 784.8 781.3 780.6 781.6 782.1 781.9 770.7 782.2 777.6 782.5 781.1 782.8 774.5 783.1 773.0 783.4 799.5 783.7 779.5 784.0 771.0 784.3 771.6 784.6 782.0 784.9 762.4 785.2 769.8 785.5 772.1 785.8 764.3 786.1 766.2 786.4 756.8 786.7 756.9 787.0 753.8 787.3 749.9 787.6 746.2 787.9 741.8 788.2 740.4 788.5 733.2 788.8 729.3 789.1 726.9 789.4 724.6 789.7 720.8 790.0 721.2 790.3 722.3 790.6 725.8 790.9 726.9 791.2 730.3 791.5 740.4 791.8 742.9 792.1 742.3 792.4 745.4 792.7 758.8 793.0 752.8 793.3 766.9 793.6 765.3 793.9 772.4 794.2 766.0 794.5 775.9 794.8 766.6 795.1 775.1 795.4 783.0 795.7 784.0 796.0 772.7 796.3 784.8 796.6 785.3 796.9 782.8 797.2 777.9 797.5 781.6 797.8 782.1 798.1 792.2 798.4 787.8 798.7 793.8 799.0 790.9 799.3 776.8 799.6 787.2 799.9 798.2 800.2 778.5 800.5 788.6 800.8 783.7 801.1 783.3 801.4 788.5 801.7 794.3 802.0 791.4 802.3 789.9 802.6 792.5 802.9 780.9 803.2 792.0 803.5 789.9 803.8 786.1 804.1 788.0 804.4 784.3 804.7 794.1 805.0 784.9 805.3 777.6 805.6 788.3 805.9 785.8 806.2 788.1 806.5 796.3 806.8 787.9 807.1 789.1 807.4 800.8 807.7 778.4 808.0 790.5 808.3 794.6 808.6 800.7 808.9 800.8 809.2 783.5 809.5 793.1 809.8 788.4 810.1 786.8 810.4 783.2 810.7 778.4 811.0 790.6 811.3 794.5 811.6 784.4 811.9 792.9 812.2 784.5 812.5 784.7 812.8 778.8 813.1 797.6 813.4 792.8 813.7 786.4 814.0 787.5 814.3 783.6 814.6 791.9 814.9 789.1 815.2 792.0 815.5 790.3 815.8 783.3 816.1 782.8 816.4 791.5 816.7 782.3 817.0 790.9 817.3 794.1 817.6 784.0 817.9 794.5 818.2 789.9 818.5 792.3 818.8 786.9 819.1 789.7 819.4 791.9 819.7 804.9 820.0 795.3 820.3 793.4 820.6 784.3 820.9 791.6 821.2 786.9 821.5 789.7 821.8 791.4 822.1 797.6 822.4 793.1 822.7 791.1 823.0 789.4 823.3 797.2 823.6 786.2 823.9 790.5 824.2 797.4 824.5 789.4 824.8 794.5 825.1 794.8 825.4 801.0 825.7 796.2 826.0 783.3 826.3 790.4 826.6 791.8 826.9 794.6 827.2 792.3 827.5 800.5 827.8 796.0 828.1 785.2 828.4 787.5 828.7 776.3 829.0 804.6 829.3 789.1 829.6 789.7 829.9 783.6 830.2 788.3 830.5 792.4 830.8 788.4 831.1 786.9 831.4 787.5 831.7 800.8 832.0 787.7 832.3 784.0 832.6 787.9 832.9 788.6 833.2 789.7 833.5 789.0 833.8 781.7 834.1 789.2 834.4 792.0 834.7 784.1 835.0 800.6 835.3 803.6 835.6 782.6 835.9 788.5 836.2 795.2 836.5 797.1 836.8 799.6 837.1 782.5 837.4 785.4 837.7 785.8 838.0 793.0 838.3 785.6 838.6 793.0 838.9 792.6 839.2 793.9 839.5 784.8 839.8 791.3 840.1 790.8 840.4 788.6 840.7 797.2 841.0 789.2 841.3 798.1 841.6 787.9 841.9 799.6 842.2 799.3 842.5 787.0 842.8 792.4 843.1 792.3 843.4 783.3 843.7 794.8 844.0 795.1 844.3 787.0 844.6 791.4 844.9 795.5 845.2 790.3 845.5 785.4 845.8 799.7 846.1 786.7 846.4 792.8 846.7 796.9 847.0 795.1 847.3 778.4 847.6 789.7 847.9 790.6 848.2 790.3 848.5 794.4 848.8 794.0 849.1 792.0 849.4 792.6 849.7 799.3 850.0 801.3 850.3 783.3 850.6 803.2 850.9 788.8 851.2 795.3 851.5 784.3 851.8 789.0 852.1 785.8 852.4 796.9 852.7 795.8 853.0 791.2 853.3 790.5 853.6 793.2 853.9 787.1 854.2 788.5 854.5 787.8 854.8 795.4 855.1 791.4 855.4 782.0 855.7 792.9 856.0 793.8 856.3 798.4 856.6 788.6 856.9 794.2 857.2 802.4 857.5 789.7 857.8 789.5 858.1 793.7 858.4 788.8 858.7 791.1 859.0 787.2 859.3 787.5 859.6 795.5 859.9 789.3 860.2 783.6 860.5 789.7 860.8 790.4 861.1 793.1 861.4 795.7 861.7 805.7 862.0 785.6 862.3 788.8 862.6 778.3 862.9 792.4 863.2 793.4 863.5 785.8 863.8 786.7 864.1 786.4 864.4 784.3 864.7 793.9 865.0 800.9 865.3 782.4 865.6 799.2 865.9 790.1 866.2 784.6 866.5 793.4 866.8 794.4 867.1 792.5 867.4 789.3 867.7 799.2 868.0 789.2 868.3 793.6 868.6 793.7 868.9 786.5 869.2 777.6 869.5 783.1 869.8 788.6 870.1 792.1 870.4 778.0 870.7 787.1 871.0 798.2 871.3 782.8 871.6 793.5 871.9 792.0 872.2 794.1 872.5 783.9 872.8 791.8 873.1 780.2 873.4 797.0 873.7 786.3 874.0 792.0 874.3 786.5 874.6 790.8 874.9 783.6 875.2 791.8 875.5 793.0 875.8 790.0 876.1 803.0 876.4 791.8 876.7 795.8 877.0 793.5 877.3 799.8 877.6 784.8 877.9 788.7 878.2 788.9 878.5 793.0 878.8 791.2 879.1 794.1 879.4 791.4 879.7 787.6 880.0 789.6 880.3 792.0 880.6 780.6 880.9 800.9 881.2 787.3 881.5 786.9 881.8 791.2 882.1 788.7 882.4 783.6 882.7 787.8 883.0 800.9 883.3 795.2 883.6 796.2 883.9 785.5 884.2 788.9 884.5 795.2 884.8 797.6 885.1 790.0 885.4 782.7 885.7 781.8 886.0 797.2 886.3 783.3 886.6 792.0 886.9 794.4 887.2 802.5 887.5 790.8 887.8 789.4 888.1 793.3 888.4 792.4 888.7 796.8 889.0 793.3 889.3 786.4 889.6 781.1 889.9 791.3 890.2 786.8 890.5 801.4 890.8 784.1 891.1 790.8 891.4 786.5 891.7 783.3 892.0 798.7 892.3 790.6 892.6 788.9 892.9 793.5 893.2 786.2 893.5 788.0 893.8 786.8 894.1 806.7 894.4 791.3 894.7 792.8 895.0 798.7 895.3 788.8 895.6 788.9 895.9 782.5 896.2 792.0 896.5 790.9 896.8 787.7 897.1 799.4 897.4 781.9 897.7 791.6 898.0 783.5 898.3 784.4 898.6 788.5 898.9 796.4 899.2 780.8 899.5 784.9 899.8 780.5 900.1 800.2 900.4 791.8 900.7 791.1 901.0 800.3 901.3 790.2 901.6 780.0 901.9 786.3 902.2 783.2 902.5 799.3 902.8 782.0 903.1 789.5 903.4 785.4 903.7 785.5 904.0 787.4 904.3 786.4 904.6 783.6 904.9 777.6 905.2 783.0 905.5 781.0 905.8 781.2 906.1 785.3 906.4 783.0 906.7 787.2 907.0 782.2 907.3 792.4 907.6 778.9 907.9 777.3 908.2 785.6 908.5 777.2 908.8 780.1 909.1 783.0 909.4 777.1 909.7 775.7 910.0 780.4 910.3 776.8 910.6 772.6 910.9 769.5 911.2 771.4 911.5 766.5 911.8 768.0 912.1 764.3 912.4 770.0 912.7 770.6 913.0 765.2 913.3 764.9 913.6 762.3 913.9 758.6 914.2 762.3 914.5 764.7 914.8 762.8 915.1 762.9 915.4 759.3 915.7 754.4 916.0 761.4 916.3 760.3 916.6 759.6 916.9 758.0 917.2 758.7 917.5 761.5 917.8 755.5 918.1 756.8 918.4 755.2 918.7 754.7 919.0 753.4 919.3 753.0 919.6 751.3 919.9 754.0 920.2 752.7 920.5 752.1 920.8 752.8 921.1 752.5 921.4 756.5 921.7 754.3 922.0 755.2 922.3 752.8 922.6 754.6 922.9 759.6 923.2 757.0 923.5 758.5 923.8 762.8 924.1 764.4 924.4 762.0 924.7 762.5 925.0 762.9 925.3 762.6 925.6 770.1 925.9 762.2 926.2 766.0 926.5 762.3 926.8 764.7 927.1 771.2 927.4 771.8 927.7 772.5 928.0 771.3 928.3 771.0 928.6 772.5 928.9 774.0 929.2 783.3 929.5 783.5 929.8 780.0 930.1 777.0 930.4 776.4 930.7 782.2 931.0 780.8 931.3 775.6 931.6 789.7 931.9 783.8 932.2 783.4 932.5 781.8 932.8 782.4 933.1 791.0 933.4 780.7 933.7 788.3 934.0 793.1 934.3 798.5 934.6 792.3 934.9 789.7 935.2 788.3 935.5 794.9 935.8 796.1 936.1 788.1 936.4 796.2 936.7 791.4 937.0 785.4 937.3 788.1 937.6 799.2 937.9 800.6 938.2 796.7 938.5 792.6 938.8 790.4 939.1 796.5 939.4 795.7 939.7 787.2 940.0 797.6 940.3 791.2 940.6 799.8 940.9 798.8 941.2 798.5 941.5 800.4 941.8 798.5 942.1 790.4 942.4 787.7 942.7 803.6 943.0 797.7 943.3 788.6 943.6 787.0 943.9 800.0 944.2 807.7 944.5 799.8 944.8 794.5 945.1 797.0 945.4 784.9 945.7 791.3 946.0 801.0 946.3 800.2 946.6 787.0 946.9 802.0 947.2 798.6 947.5 800.7 947.8 795.0 948.1 796.1 948.4 788.2 948.7 798.4 949.0 800.6 949.3 791.9 949.6 798.0 949.9 793.7 950.2 801.5 950.5 801.2 950.8 780.7 951.1 798.5 951.4 801.5 951.7 793.8 952.0 795.4 952.3 795.1 952.6 791.3 952.9 795.9 953.2 804.6 953.5 798.9 953.8 804.5 954.1 801.6 954.4 802.7 954.7 797.2 955.0 800.5 955.3 807.5 955.6 804.4 955.9 798.3 956.2 791.5 956.5 790.0 956.8 797.9 957.1 800.1 957.4 789.1 957.7 797.9 958.0 798.6 958.3 798.4 958.6 794.4 958.9 809.1 959.2 803.8 959.5 791.0 959.8 793.8 960.1 801.1 960.4 800.9 960.7 797.7 961.0 797.0 961.3 796.1 961.6 795.1 961.9 792.6 962.2 800.0 962.5 779.5 962.8 791.7 963.1 803.5 963.4 793.7 963.7 792.0 964.0 807.3 964.3 805.4 964.6 796.6 964.9 794.6 965.2 795.3 965.5 795.7 965.8 796.2 966.1 794.0 966.4 800.0 966.7 794.9 967.0 789.8 967.3 791.8 967.6 797.5 967.9 793.0 968.2 787.6 968.5 805.2 968.8 799.9 969.1 795.4 969.4 795.2 969.7 801.2 970.0 804.6 970.3 794.8 970.6 799.6 970.9 794.8 971.2 799.2 971.5 792.7 971.8 790.1 972.1 798.0 972.4 797.4 972.7 801.3 973.0 794.8 973.3 808.6 973.6 798.3 973.9 805.8 974.2 796.3 974.5 805.6 974.8 797.6 975.1 798.6 975.4 802.8 975.7 790.6 976.0 793.4 976.3 807.6 976.6 791.7 976.9 795.8 977.2 800.8 977.5 805.6 977.8 795.9 978.1 798.8 978.4 790.0 978.7 795.1 979.0 806.1 979.3 799.9 979.6 798.2 979.9 800.4 980.2 799.1 980.5 799.2 980.8 796.9 981.1 794.2 981.4 801.8 981.7 793.6 982.0 806.4 982.3 809.9 982.6 810.8 982.9 811.1 983.2 794.2 983.5 799.9 983.8 795.1 984.1 793.2 984.4 787.1 984.7 793.6 985.0 805.4 985.3 802.4 985.6 808.4 985.9 804.7 986.2 804.9 986.5 795.5 986.8 798.6 987.1 802.7 987.4 805.5 987.7 797.5 988.0 795.4 988.3 797.3 988.6 807.5 988.9 803.5 989.2 797.9 989.5 796.0 989.8 801.5 990.1 788.0 990.4 798.5 990.7 796.9 991.0 795.1 991.3 800.5 991.6 802.6 991.9 811.7 992.2 800.1 992.5 803.0 992.8 796.0 993.1 792.6 993.4 805.3 993.7 815.9 994.0 795.2 994.3 799.2 994.6 805.1 994.9 799.9 995.2 789.9 995.5 804.5 995.8 798.2 996.1 803.0 996.4 795.1 996.7 803.7 997.0 807.5 997.3 796.1 997.6 801.7 997.9 796.4 998.2 795.5 998.5 795.2 998.8 795.9 999.1 796.1 999.4 805.0 999.7 798.1 1000.0 791.1 1000.3 806.0 1000.6 801.6 1000.9 803.9 1001.2 798.7 1001.5 802.4 1001.8 798.1 1002.1 794.7 1002.4 799.4 1002.7 799.9 1003.0 799.5 1003.3 802.9 1003.6 787.1 1003.9 800.2 1004.2 795.2 1004.5 797.4 1004.8 800.8 1005.1 799.0 1005.4 795.7 1005.7 802.3 1006.0 798.4 1006.3 803.2 1006.6 804.8 1006.9 796.9 1007.2 793.8 1007.5 798.9 1007.8 802.5 1008.1 800.0 1008.4 793.4 1008.7 791.3 1009.0 794.2 1009.3 794.2 1009.6 803.1 1009.9 798.6 1010.2 802.5 1010.5 797.8 1010.8 811.9 1011.1 798.3 1011.4 800.8 1011.7 796.3 1012.0 800.2 1012.3 803.4 1012.6 804.1 1012.9 804.4 1013.2 793.6 1013.5 800.1 1013.8 806.6 1014.1 799.0 1014.4 797.1 1014.7 796.7 1015.0 795.4 1015.3 798.8 1015.6 804.6 1015.9 799.8 1016.2 797.4 1016.5 794.0 1016.8 792.6 1017.1 809.1 1017.4 795.2 1017.7 797.8 1018.0 795.1 1018.3 798.0 1018.6 795.2 1018.9 797.9 1019.2 804.3 1019.5 793.7 1019.8 799.4 1020.1 796.5 1020.4 800.2 1020.7 791.9 1021.0 798.5 1021.3 792.3 1021.6 784.5 1021.9 790.8 1022.2 789.7 1022.5 791.4 1022.8 794.7 1023.1 804.6 1023.4 788.1 1023.7 798.0 1024.0 796.8 1024.3 792.6 1024.6 791.6 1024.9 797.6 1025.2 797.7 1025.5 793.8 1025.8 794.6 1026.1 795.2 1026.4 789.6 1026.7 795.5 1027.0 796.4 1027.3 803.7 1027.6 789.4 1027.9 790.9 1028.2 795.0 1028.5 791.9 1028.8 792.6 1029.1 794.3 1029.4 792.9 1029.7 793.9 1030.0 796.0 1030.3 787.2 1030.6 796.4 1030.9 779.4 1031.2 802.1 1031.5 800.4 1031.8 790.7 1032.1 798.1 1032.4 792.4 1032.7 795.0 1033.0 798.5 1033.3 794.4 1033.6 792.6 1033.9 795.4 1034.2 791.5 1034.5 790.6 1034.8 788.1 1035.1 784.7 1035.4 799.7 1035.7 795.4 1036.0 782.2 1036.3 793.3 1036.6 792.3 1036.9 782.6 1037.2 785.2 1037.5 790.5 1037.8 799.3 1038.1 795.9 1038.4 796.6 1038.7 792.6 1039.0 795.0 1039.3 785.1 1039.6 794.4 1039.9 795.1 1040.2 784.3 1040.5 790.6 1040.8 796.8 1041.1 798.8 1041.4 799.9 1041.7 785.7 1042.0 788.2 1042.3 786.2 1042.6 797.7 1042.9 784.5 1043.2 783.5 1043.5 777.1 1043.8 788.4 1044.1 789.4 1044.4 784.6 1044.7 783.8 1045.0 785.5 1045.3 797.1 1045.6 777.5 1045.9 786.1 1046.2 787.1 1046.5 787.7 1046.8 791.9 1047.1 789.6 1047.4 787.4 1047.7 792.5 1048.0 790.6 1048.3 786.3 1048.6 785.9 1048.9 776.7 1049.2 785.1 1049.5 780.9 1049.8 776.5 1050.1 782.8 1050.4 772.6 1050.7 779.9 1051.0 781.3 1051.3 784.9 1051.6 781.8 1051.9 785.9 1052.2 795.3 1052.5 786.6 1052.8 777.8 1053.1 770.9 1053.4 778.4 1053.7 778.4 1054.0 774.2 1054.3 774.9 1054.6 770.6 1054.9 777.3 1055.2 788.3 1055.5 789.7 1055.8 776.9 1056.1 779.0 1056.4 775.3 1056.7 774.2 1057.0 779.8 1057.3 780.7 1057.6 775.8 1057.9 784.6 1058.2 778.7 1058.5 787.9 1058.8 777.8 1059.1 783.9 1059.4 778.0 1059.7 780.3 1060.0 782.5 1060.3 770.6 1060.6 776.4 1060.9 779.2 1061.2 778.2 1061.5 780.6 1061.8 776.0 1062.1 773.9 1062.4 778.1 1062.7 780.5 1063.0 775.9 1063.3 785.0 1063.6 782.4 1063.9 783.2 1064.2 782.9 1064.5 775.8 1064.8 790.0 1065.1 774.3 1065.4 781.3 1065.7 784.7 1066.0 781.9 1066.3 780.7 1066.6 776.5 1066.9 778.3 1067.2 780.3 1067.5 790.0 1067.8 777.5 1068.1 783.6 1068.4 782.5 1068.7 781.0 1069.0 776.8 1069.3 780.1 1069.6 769.7 1069.9 781.4 1070.2 782.4 1070.5 777.4 1070.8 783.4 1071.1 782.4 1071.4 777.7 1071.7 784.6 1072.0 778.2 1072.3 791.6 1072.6 773.1 1072.9 776.1 1073.2 774.7 1073.5 779.9 1073.8 782.6 1074.1 776.7 1074.4 773.6 1074.7 782.1 1075.0 776.5 1075.3 769.9 1075.6 768.7 1075.9 763.1 1076.2 765.5 1076.5 768.0 1076.8 758.0 1077.1 757.5 1077.4 758.5 1077.7 752.6 1078.0 758.0 1078.3 753.3 1078.6 755.1 1078.9 756.2 1079.2 759.1 1079.5 759.8 1079.8 757.7 1080.1 759.5 1080.4 765.1 1080.7 762.1 1081.0 768.2 1081.3 768.6 1081.6 776.0 1081.9 779.7 1082.2 768.8 1082.5 780.2 1082.8 782.6 1083.1 778.2 1083.4 779.9 1083.7 778.6 1084.0 781.7 1084.3 786.8 1084.6 792.0 1084.9 793.1 1085.2 785.5 1085.5 783.7 1085.8 792.2 1086.1 771.4 1086.4 782.5 1086.7 792.8 1087.0 799.7 1087.3 783.3 1087.6 789.5 1087.9 781.7 1088.2 788.7 1088.5 789.3 1088.8 786.6 1089.1 791.7 1089.4 788.7 1089.7 792.6 1090.0 789.5 1090.3 785.7 1090.6 791.3 1090.9 794.8 1091.2 787.7 1091.5 797.5 1091.8 793.3 1092.1 788.7 1092.4 791.6 1092.7 789.8 1093.0 788.0 1093.3 796.1 1093.6 796.1 1093.9 788.8 1094.2 791.4 1094.5 791.3 1094.8 795.5 1095.1 799.5 1095.4 787.9 1095.7 794.0 1096.0 792.6 1096.3 795.4 1096.6 799.8 1096.9 789.3 1097.2 785.1 1097.5 792.4 1097.8 782.9 1098.1 801.4 1098.4 790.4 1098.7 792.2 1099.0 794.6 1099.3 795.0 1099.6 790.7 1099.9 793.8 1100.2 800.9 1100.5 792.7 1100.8 808.5 1101.1 796.7 1101.4 780.0 1101.7 801.0 1102.0 787.6 1102.3 796.2 1102.6 812.8 1102.9 800.0 1103.2 790.4 1103.5 791.7 1103.8 795.3 1104.1 802.3 1104.4 792.4 1104.7 800.8 1105.0 797.1 1105.3 795.3 1105.6 795.2 1105.9 804.2 1106.2 786.3 1106.5 791.5 1106.8 800.5 1107.1 803.7 1107.4 791.2 1107.7 792.8 1108.0 791.9 1108.3 799.3 1108.6 794.1 1108.9 803.8 1109.2 802.7 1109.5 798.3 1109.8 798.1 1110.1 799.8 1110.4 803.6 1110.7 797.6 1111.0 799.4 1111.3 801.3 1111.6 797.2 1111.9 802.5 1112.2 797.4 1112.5 794.8 1112.8 799.0 1113.1 806.2 1113.4 805.5 1113.7 792.0 1114.0 799.9 1114.3 796.5 1114.6 797.2 1114.9 797.3 1115.2 797.8 1115.5 796.7 1115.8 796.9 1116.1 800.0 1116.4 794.2 1116.7 794.2 1117.0 794.7 1117.3 791.8 1117.6 802.2 1117.9 795.0 1118.2 799.3 1118.5 800.0 1118.8 804.9 1119.1 800.0 1119.4 804.9 1119.7 799.8 1120.0 801.8 1120.3 803.7 1120.6 794.5 1120.9 802.1 1121.2 807.7 1121.5 801.1 1121.8 799.6 1122.1 810.0 1122.4 801.3 1122.7 806.7 1123.0 792.1 1123.3 801.5 1123.6 799.0 1123.9 803.0 1124.2 810.0 1124.5 800.8 1124.8 800.5 1125.1 785.1 1125.4 805.3 1125.7 808.0 1126.0 802.5 1126.3 799.9 1126.6 803.6 1126.9 806.9 1127.2 805.1 1127.5 812.5 1127.8 800.0 1128.1 797.0 1128.4 805.9 1128.7 808.6 1129.0 799.4 1129.3 802.7 1129.6 798.4 1129.9 797.9 1130.2 800.0 1130.5 795.2 1130.8 804.4 1131.1 805.3 1131.4 809.7 1131.7 800.0 1132.0 800.8 1132.3 797.0 1132.6 797.9 1132.9 807.8 1133.2 815.4 1133.5 799.6 1133.8 802.3 1134.1 808.3 1134.4 801.2 1134.7 806.8 1135.0 803.0 1135.3 803.1 1135.6 808.5 1135.9 803.3 1136.2 799.4 1136.5 810.4 1136.8 804.7 1137.1 802.3 1137.4 801.3 1137.7 807.2 1138.0 801.6 1138.3 805.2 1138.6 809.3 1138.9 804.2 1139.2 812.6 1139.5 799.2 1139.8 807.4 1140.1 807.1 1140.4 813.8 1140.7 804.8 1141.0 808.8 1141.3 804.0 1141.6 800.4 1141.9 801.1 1142.2 801.8 1142.5 808.3 1142.8 801.5 1143.1 804.9 1143.4 808.9 1143.7 810.6 1144.0 811.5 1144.3 811.8 1144.6 800.2 1144.9 802.7 1145.2 806.2 1145.5 810.0 1145.8 807.1 1146.1 801.6 1146.4 804.0 1146.7 798.4 1147.0 808.5 1147.3 797.9 1147.6 805.8 1147.9 809.8 1148.2 811.3 1148.5 798.6 1148.8 805.8 1149.1 803.4 1149.4 803.6 1149.7 812.7 1150.0 806.8 1150.3 799.2 1150.6 800.5 1150.9 808.1 1151.2 806.3 1151.5 800.3 1151.8 794.3 1152.1 801.0 1152.4 803.1 1152.7 808.6 1153.0 802.4 1153.3 807.9 1153.6 810.5 1153.9 798.7 1154.2 802.5 1154.5 816.5 1154.8 803.0 1155.1 804.9 1155.4 809.3 1155.7 799.7 1156.0 801.9 1156.3 798.5 1156.6 807.4 1156.9 802.9 1157.2 803.3 1157.5 795.5 1157.8 809.3 1158.1 808.0 1158.4 799.4 1158.7 810.5 1159.0 795.9 1159.3 804.6 1159.6 798.4 1159.9 816.6 1160.2 795.4 1160.5 800.0 1160.8 801.7 1161.1 808.5 1161.4 810.5 1161.7 806.5 1162.0 802.8 1162.3 815.2 1162.6 801.9 1162.9 806.2 1163.2 813.1 1163.5 799.9 1163.8 799.2 1164.1 812.6 1164.4 806.8 1164.7 799.7 1165.0 805.0 1165.3 814.0 1165.6 803.8 1165.9 808.5 1166.2 805.4 1166.5 802.0 1166.8 812.4 1167.1 809.2 1167.4 810.3 1167.7 804.2 1168.0 805.2 1168.3 805.8 1168.6 806.8 1168.9 803.4 1169.2 802.8 1169.5 814.2 1169.8 800.4 1170.1 803.0 1170.4 803.3 1170.7 801.1 1171.0 800.1 1171.3 801.7 1171.6 808.4 1171.9 803.3 1172.2 801.8 1172.5 817.0 1172.8 799.6 1173.1 812.0 1173.4 806.4 1173.7 796.0 1174.0 803.2 1174.3 801.9 1174.6 814.0 1174.9 809.0 1175.2 802.6 1175.5 800.2 1175.8 798.4 1176.1 804.1 1176.4 799.4 1176.7 803.3 1177.0 803.1 1177.3 806.5 1177.6 809.4 1177.9 805.3 1178.2 807.8 1178.5 804.1 1178.8 809.6 1179.1 808.5 1179.4 812.3 1179.7 811.2 1180.0 801.9 1180.3 795.4 1180.6 807.7 1180.9 810.1 1181.2 802.1 1181.5 811.8 1181.8 805.2 1182.1 804.4 1182.4 806.4 1182.7 799.3 1183.0 798.5 1183.3 803.3 1183.6 800.1 1183.9 804.6 1184.2 804.7 1184.5 795.5 1184.8 801.4 1185.1 807.0 1185.4 796.2 1185.7 803.2 1186.0 799.3 1186.3 792.4 1186.6 812.1 1186.9 809.4 1187.2 802.8 1187.5 800.7 1187.8 814.1 1188.1 812.6 1188.4 804.3 1188.7 808.2 1189.0 804.5 1189.3 802.9 1189.6 806.8 1189.9 800.8 1190.2 807.6 1190.5 802.9 1190.8 801.9 1191.1 801.4 1191.4 805.6 1191.7 807.6 1192.0 805.8 1192.3 799.8 1192.6 805.7 1192.9 796.9 1193.2 798.5 1193.5 801.8 1193.8 805.9 1194.1 805.1 1194.4 804.4 1194.7 807.8 1195.0 805.2 1195.3 799.9 1195.6 804.3 1195.9 799.8 1196.2 802.1 1196.5 802.6 1196.8 799.7 1197.1 794.6 1197.4 798.8 1197.7 797.9 1198.0 797.6 1198.3 796.8 1198.6 794.2 1198.9 792.5 1199.2 800.4 1199.5 799.3 1199.8 797.4 1200.1 795.6 1200.4 805.7 1200.7 796.9 1201.0 794.5 1201.3 796.4 1201.6 793.4 1201.9 795.0 1202.2 793.3 1202.5 793.5 1202.8 791.9 1203.1 790.3 1203.4 792.0 1203.7 792.8 1204.0 788.3 1204.3 788.6 1204.6 786.2 1204.9 791.2 1205.2 787.8 1205.5 789.5 1205.8 786.7 1206.1 788.7 1206.4 786.5 1206.7 786.4 1207.0 787.7 1207.3 786.1 1207.6 785.3 1207.9 787.9 1208.2 786.0 1208.5 787.6 1208.8 789.0 1209.1 785.6 1209.4 785.8 1209.7 784.8 1210.0 785.2 1210.3 787.3 1210.6 787.1 1210.9 787.3 1211.2 787.8 1211.5 786.5 1211.8 785.8 1212.1 789.8 1212.4 788.9 1212.7 790.8 1213.0 789.3 1213.3 791.1 1213.6 789.3 1213.9 790.7 1214.2 790.8 1214.5 792.4 1214.8 795.4 1215.1 794.9 1215.4 787.5 1215.7 793.4 1216.0 794.2 1216.3 798.1 1216.6 795.6 1216.9 793.8 1217.2 792.6 1217.5 795.7 1217.8 793.7 1218.1 802.6 1218.4 800.2 1218.7 798.8 1219.0 802.6 1219.3 807.9 1219.6 799.3 1219.9 800.1 1220.2 799.9 1220.5 797.2 1220.8 799.5 1221.1 796.7 1221.4 805.3 1221.7 804.6 1222.0 806.7 1222.3 798.8 1222.6 807.9 1222.9 800.5 1223.2 803.7 1223.5 813.4 1223.8 813.3 1224.1 809.9 1224.4 820.6 1224.7 810.2 1225.0 805.0 1225.3 805.3 1225.6 803.4 1225.9 807.6 1226.2 803.8 1226.5 804.5 1226.8 800.8 1227.1 801.0 1227.4 818.5 1227.7 813.5 1228.0 800.1 1228.3 809.7 1228.6 805.6 1228.9 800.2 1229.2 807.2 1229.5 809.4 1229.8 810.7 1230.1 816.0 1230.4 802.9 1230.7 808.3 1231.0 811.5 1231.3 812.2 1231.6 810.4 1231.9 809.2 1232.2 814.4 1232.5 804.1 1232.8 803.3 1233.1 817.0 1233.4 810.9 1233.7 814.1 1234.0 810.1 1234.3 806.7 1234.6 807.4 1234.9 810.2 1235.2 807.5 1235.5 808.9 1235.8 809.1 1236.1 813.1 1236.4 813.0 1236.7 816.9 1237.0 806.8 1237.3 809.5 1237.6 814.0 1237.9 811.3 1238.2 795.9 1238.5 811.4 1238.8 809.9 1239.1 808.1 1239.4 808.3 1239.7 807.2 1240.0 815.3 1240.3 813.1 1240.6 811.1 1240.9 818.2 1241.2 814.4 1241.5 805.1 1241.8 806.2 1242.1 804.1 1242.4 813.7 1242.7 810.4 1243.0 819.2 1243.3 812.8 1243.6 809.8 1243.9 805.8 1244.2 809.0 1244.5 827.6 1244.8 808.0 1245.1 807.5 1245.4 809.8 1245.7 816.9 1246.0 810.6 1246.3 804.0 1246.6 808.3 1246.9 810.2 1247.2 811.0 1247.5 815.2 1247.8 821.3 1248.1 820.5 1248.4 813.3 1248.7 810.5 1249.0 805.6 1249.3 814.6 1249.6 816.2 1249.9 814.0 1250.2 809.9 1250.5 815.1 1250.8 809.4 1251.1 809.6 1251.4 808.8 1251.7 810.5 1252.0 809.8 1252.3 814.5 1252.6 810.1 1252.9 809.6 1253.2 814.6 1253.5 812.9 1253.8 814.9 1254.1 805.1 1254.4 815.6 1254.7 809.7 1255.0 805.7 1255.3 809.0 1255.6 804.9 1255.9 805.7 1256.2 807.9 1256.5 813.6 1256.8 801.4 1257.1 810.6 1257.4 808.3 1257.7 816.2 1258.0 810.1 1258.3 811.8 1258.6 819.1 1258.9 805.0 1259.2 807.7 1259.5 803.5 1259.8 805.8 1260.1 810.3 1260.4 808.2 1260.7 810.5 1261.0 807.2 1261.3 806.1 1261.6 808.2 1261.9 803.2 1262.2 804.4 1262.5 802.7 1262.8 807.5 1263.1 810.2 1263.4 803.8 1263.7 805.2 1264.0 800.2 1264.3 803.7 1264.6 808.3 1264.9 803.2 1265.2 810.6 1265.5 806.3 1265.8 809.4 1266.1 805.7 1266.4 799.2 1266.7 807.6 1267.0 810.7 1267.3 805.6 1267.6 809.2 1267.9 804.9 1268.2 806.2 1268.5 812.8 1268.8 807.0 1269.1 803.9 1269.4 809.6 1269.7 807.5 1270.0 805.2 1270.3 810.1 1270.6 797.7 1270.9 809.5 1271.2 815.5 1271.5 808.7 1271.8 800.4 1272.1 812.8 1272.4 824.6 1272.7 809.3 1273.0 800.3 1273.3 804.3 1273.6 805.8 1273.9 807.6 1274.2 811.8 1274.5 809.1 1274.8 794.1 1275.1 805.5 1275.4 806.1 1275.7 814.8 1276.0 804.4 1276.3 801.5 1276.6 805.3 1276.9 807.6 1277.2 800.0 1277.5 811.0 1277.8 805.8 1278.1 809.8 1278.4 810.6 1278.7 809.5 1279.0 815.6 1279.3 813.4 1279.6 804.6 1279.9 805.8 1280.2 812.9 1280.5 806.8 1280.8 803.7 1281.1 806.4 1281.4 802.7 1281.7 804.0 1282.0 795.6 1282.3 806.4 1282.6 813.9 1282.9 808.8 1283.2 808.6 1283.5 806.4 1283.8 802.8 1284.1 807.6 1284.4 805.8 1284.7 805.0 1285.0 806.5 1285.3 803.3 1285.6 806.0 1285.9 808.2 1286.2 809.7 1286.5 806.0 1286.8 808.8 1287.1 806.2 1287.4 797.6 1287.7 798.6 1288.0 804.6 1288.3 798.6 1288.6 807.8 1288.9 800.6 1289.2 802.7 1289.5 803.4 1289.8 802.7 1290.1 801.7 1290.4 805.4 1290.7 805.9 1291.0 803.5 1291.3 806.4 1291.6 807.7 1291.9 804.7 1292.2 802.9 1292.5 802.9 1292.8 803.7 1293.1 803.5 1293.4 805.8 1293.7 816.4 1294.0 810.3 1294.3 805.7 1294.6 808.0 1294.9 808.0 1295.2 811.0 1295.5 811.7 1295.8 802.0 1296.1 815.6 1296.4 802.4 1296.7 806.0 1297.0 802.5 1297.3 795.8 1297.6 799.2 1297.9 814.4 1298.2 812.0 1298.5 801.9 1298.8 798.9 1299.1 812.0 1299.4 799.7 1299.7 808.5 1300.0 820.0 1300.3 808.7 1300.6 811.9 1300.9 806.8 1301.2 799.3 1301.5 802.2 1301.8 798.9 1302.1 806.5 1302.4 797.4 1302.7 805.6 1303.0 803.0 1303.3 802.2 1303.6 808.0 1303.9 802.8 1304.2 801.3 1304.5 808.5 1304.8 804.0 1305.1 795.3 1305.4 808.7 1305.7 795.3 1306.0 804.2 1306.3 805.1 1306.6 800.9 1306.9 799.3 1307.2 799.9 1307.5 799.4 1307.8 797.3 1308.1 804.0 1308.4 798.1 1308.7 795.6 1309.0 804.4 1309.3 796.1 1309.6 793.2 1309.9 797.1 1310.2 796.7 1310.5 796.1 1310.8 802.4 1311.1 792.9 1311.4 797.8 1311.7 795.5 1312.0 796.3 1312.3 791.2 1312.6 789.9 1312.9 789.4 1313.2 789.7 1313.5 790.3 1313.8 792.7 1314.1 784.2 1314.4 788.0 1314.7 786.2 1315.0 785.1 1315.3 783.3 1315.6 784.5 1315.9 780.9 1316.2 784.9 1316.5 782.4 1316.8 783.1 1317.1 783.0 1317.4 784.2 1317.7 782.2 1318.0 785.2 1318.3 784.6 1318.6 786.6 1318.9 785.4 1319.2 785.3 1319.5 783.7 1319.8 786.3 1320.1 790.8 1320.4 787.0 1320.7 788.2 1321.0 789.6 1321.3 794.0 1321.6 787.8 1321.9 797.5 1322.2 794.8 1322.5 796.1 1322.8 794.8 1323.1 802.2 1323.4 795.0 1323.7 799.8 1324.0 798.1 1324.3 794.5 1324.6 798.3 1324.9 803.8 1325.2 799.3 1325.5 799.4 1325.8 801.1 1326.1 798.7 1326.4 798.4 1326.7 802.9 1327.0 799.7 1327.3 805.7 1327.6 806.6 1327.9 809.5 1328.2 808.4 1328.5 803.6 1328.8 806.5 1329.1 800.9 1329.4 807.0 1329.7 803.6 1330.0 811.4 1330.3 803.1 1330.6 806.6 1330.9 803.1 1331.2 810.2 1331.5 810.3 1331.8 802.6 1332.1 815.1 1332.4 808.5 1332.7 801.4 1333.0 803.2 1333.3 800.2 1333.6 799.7 1333.9 806.2 1334.2 799.6 1334.5 808.4 1334.8 801.1 1335.1 805.5 1335.4 818.8 1335.7 805.6 1336.0 806.9 1336.3 815.4 1336.6 805.1 1336.9 810.5 1337.2 802.2 1337.5 805.7 1337.8 807.9 1338.1 807.3 1338.4 804.4 1338.7 808.2 1339.0 809.8 1339.3 811.4 1339.6 807.5 1339.9 803.9 1340.2 810.2 1340.5 810.9 1340.8 801.5 1341.1 799.6 1341.4 806.7 1341.7 811.7 1342.0 811.1 1342.3 803.2 1342.6 813.1 1342.9 804.2 1343.2 811.4 1343.5 805.9 1343.8 811.6 1344.1 810.7 1344.4 806.0 1344.7 810.5 1345.0 803.5 1345.3 805.1 1345.6 806.4 1345.9 802.4 1346.2 811.5 1346.5 811.5 1346.8 807.7 1347.1 804.1 1347.4 809.6 1347.7 808.9 1348.0 810.3 1348.3 807.7 1348.6 806.9 1348.9 813.7 1349.2 803.9 1349.5 807.1 1349.8 801.6 1350.1 805.3 1350.4 804.7 1350.7 805.5 1351.0 810.2 1351.3 805.6 1351.6 809.5 1351.9 805.3 1352.2 806.2 1352.5 801.5 1352.8 809.5 1353.1 810.4 1353.4 804.3 1353.7 805.6 1354.0 801.6 1354.3 806.5 1354.6 803.9 1354.9 809.3 1355.2 807.4 1355.5 810.2 1355.8 804.8 1356.1 802.0 1356.4 807.5 1356.7 805.7 1357.0 815.7 1357.3 808.8 1357.6 817.1 1357.9 810.0 1358.2 806.7 1358.5 802.6 1358.8 807.1 1359.1 810.4 1359.4 808.3 1359.7 809.3 1360.0 809.2 1360.3 800.1 1360.6 809.2 1360.9 805.1 1361.2 807.9 1361.5 813.7 1361.8 797.0 1362.1 807.1 1362.4 809.5 1362.7 812.5 1363.0 808.4 1363.3 805.1 1363.6 811.3 1363.9 811.5 1364.2 802.1 1364.5 808.5 1364.8 802.3 1365.1 799.7 1365.4 804.6 1365.7 804.8 1366.0 796.5 1366.3 816.2 1366.6 800.5 1366.9 810.3 1367.2 812.6 1367.5 817.7 1367.8 807.0 1368.1 815.1 1368.4 804.2 1368.7 808.1 1369.0 806.8 1369.3 804.6 1369.6 810.2 1369.9 816.5 1370.2 817.5 1370.5 811.0 1370.8 804.1 1371.1 805.2 1371.4 811.9 1371.7 810.5 1372.0 810.4 1372.3 807.1 1372.6 804.8 1372.9 810.0 1373.2 808.0 1373.5 814.1 1373.8 805.5 1374.1 811.6 1374.4 813.8 1374.7 816.7 1375.0 816.6 1375.3 804.3 1375.6 801.0 1375.9 808.6 1376.2 802.7 1376.5 800.0 1376.8 814.2 1377.1 811.0 1377.4 812.2 1377.7 809.0 1378.0 812.8 1378.3 809.5 1378.6 808.5 1378.9 816.2 1379.2 803.7 1379.5 810.0 1379.8 802.3 1380.1 814.2 1380.4 806.9 1380.7 800.7 1381.0 801.5 1381.3 806.9 1381.6 816.3 1381.9 809.7 1382.2 802.2 1382.5 800.7 1382.8 818.0 1383.1 805.5 1383.4 802.4 1383.7 808.3 1384.0 809.9 1384.3 814.3 1384.6 806.8 1384.9 803.1 1385.2 811.7 1385.5 804.5 1385.8 808.9 1386.1 808.1 1386.4 811.5 1386.7 804.8 1387.0 803.1 1387.3 808.5 1387.6 809.2 1387.9 802.1 1388.2 802.3 1388.5 808.2 1388.8 804.8 1389.1 817.4 1389.4 810.1 1389.7 815.4 1390.0 806.9 1390.3 807.5 1390.6 807.6 1390.9 811.5 1391.2 805.9 1391.5 813.8 1391.8 804.3 1392.1 811.2 1392.4 808.1 1392.7 804.6 1393.0 817.7 1393.3 811.1 1393.6 806.3 1393.9 804.1 1394.2 810.4 1394.5 804.0 1394.8 809.1 1395.1 803.6 1395.4 807.3 1395.7 803.7 1396.0 806.1 1396.3 813.9 1396.6 814.3 1396.9 803.8 1397.2 805.8 1397.5 797.2 1397.8 807.9 1398.1 811.4 1398.4 803.6 1398.7 803.4 1399.0 808.1 1399.3 804.5 1399.6 807.7 1399.9 813.2 1400.2 808.5 1400.5 809.4 1400.8 814.8 1401.1 807.6 1401.4 809.4 1401.7 806.8 1402.0 801.9 1402.3 813.4 1402.6 801.6 1402.9 806.8 1403.2 802.3 1403.5 803.4 1403.8 801.9 1404.1 805.5 1404.4 808.3 1404.7 811.8 1405.0 799.9 1405.3 807.3 1405.6 804.9 1405.9 802.5 1406.2 805.9 1406.5 807.1 1406.8 805.9 1407.1 806.3 1407.4 815.8 1407.7 806.7 1408.0 808.2 1408.3 802.1 1408.6 810.7 1408.9 804.2 1409.2 805.8 1409.5 803.3 1409.8 805.8 1410.1 800.6 1410.4 801.5 1410.7 801.2 1411.0 804.6 1411.3 806.0 1411.6 810.5 1411.9 813.0 1412.2 814.0 1412.5 803.6 1412.8 803.4 1413.1 809.0 1413.4 802.7 1413.7 810.6 1414.0 810.2 1414.3 802.5 1414.6 809.0 1414.9 811.9 1415.2 807.7 1415.5 804.8 1415.8 805.3 1416.1 807.8 1416.4 803.2 1416.7 807.2 1417.0 805.0 1417.3 803.2 1417.6 802.4 1417.9 808.1 1418.2 800.7 1418.5 807.3 1418.8 799.7 1419.1 804.8 1419.4 806.5 1419.7 807.5 1420.0 809.9 1420.3 808.2 1420.6 808.4 1420.9 805.2 1421.2 802.6 1421.5 802.2 1421.8 803.6 1422.1 807.4 1422.4 810.6 1422.7 807.9 1423.0 807.4 1423.3 809.6 1423.6 805.4 1423.9 807.4 1424.2 806.3 1424.5 807.6 1424.8 805.5 1425.1 802.3 1425.4 805.5 1425.7 804.0 1426.0 814.3 1426.3 813.0 1426.6 804.8 1426.9 804.0 1427.2 807.2 1427.5 802.0 1427.8 815.3 1428.1 807.1 1428.4 804.5 1428.7 811.6 1429.0 815.7 1429.3 808.0 1429.6 811.5 1429.9 798.3 1430.2 804.8 1430.5 804.5 1430.8 802.1 1431.1 811.1 1431.4 823.6 1431.7 803.1 1432.0 805.7 1432.3 812.0 1432.6 806.7 1432.9 807.8 1433.2 805.0 1433.5 809.2 1433.8 802.3 1434.1 811.0 1434.4 810.1 1434.7 810.2 1435.0 805.4 1435.3 807.3 1435.6 810.0 1435.9 805.0 1436.2 802.6 1436.5 800.9 1436.8 806.4 1437.1 807.8 1437.4 812.1 1437.7 804.2 1438.0 803.5 1438.3 813.3 1438.6 812.9 1438.9 804.6 1439.2 806.8 1439.5 802.5 1439.8 808.1 1440.1 813.9 1440.4 811.8 1440.7 805.0 1441.0 809.8 1441.3 806.2 1441.6 810.0 1441.9 806.8 1442.2 811.2 1442.5 813.9 1442.8 810.0 1443.1 810.8 1443.4 811.0 1443.7 812.2 1444.0 807.2 1444.3 808.0 1444.6 808.0 1444.9 813.7 1445.2 808.9 1445.5 811.5 1445.8 806.6 1446.1 803.1 1446.4 806.4 1446.7 809.0 1447.0 805.7 1447.3 804.4 1447.6 803.8 1447.9 807.3 1448.2 806.4 1448.5 804.1 1448.8 798.6 1449.1 800.6 1449.4 810.5 1449.7 800.6 1450.0 803.1 1450.3 800.1 1450.6 794.7 1450.9 800.8 1451.2 796.3 1451.5 793.1 1451.8 795.6 1452.1 791.8 1452.4 792.5 1452.7 787.7 1453.0 789.8 1453.3 790.2 1453.6 788.0 1453.9 786.5 1454.2 786.7 1454.5 788.2 1454.8 785.7 1455.1 785.9 1455.4 788.0 1455.7 787.7 1456.0 788.0 1456.3 788.2 1456.6 790.0 1456.9 791.5 1457.2 792.0 1457.5 789.6 1457.8 794.6 1458.1 791.5 1458.4 799.8 1458.7 795.8 1459.0 799.5 1459.3 800.0 1459.6 798.5 1459.9 807.2 1460.2 803.3 1460.5 815.2 1460.8 806.5 1461.1 806.9 1461.4 815.0 1461.7 815.0 1462.0 807.5 1462.3 803.7 1462.6 816.3 1462.9 814.0 1463.2 814.4 1463.5 808.9 1463.8 808.3 1464.1 807.7 1464.4 815.6 1464.7 810.8 1465.0 814.1 1465.3 800.5 1465.6 816.0 1465.9 808.0 1466.2 803.8 1466.5 808.0 1466.8 814.0 1467.1 822.3 1467.4 804.1 1467.7 808.1 1468.0 813.3 1468.3 807.6 1468.6 811.4 1468.9 809.4 1469.2 813.4 1469.5 804.9 1469.8 811.9 1470.1 808.2 1470.4 813.8 1470.7 813.0 1471.0 817.3 1471.3 814.3 1471.6 824.8 1471.9 808.2 1472.2 812.7 1472.5 816.7 1472.8 814.2 1473.1 805.6 1473.4 815.6 1473.7 812.1 1474.0 823.9 1474.3 813.6 1474.6 816.7 1474.9 810.8 1475.2 816.9 1475.5 805.6 1475.8 810.7 1476.1 813.0 1476.4 809.0 1476.7 818.3 1477.0 814.6 1477.3 825.2 1477.6 809.8 1477.9 811.7 1478.2 818.6 1478.5 812.9 1478.8 818.1 1479.1 817.4 1479.4 812.3 1479.7 815.4 1480.0 817.1 1480.3 816.0 1480.6 814.4 1480.9 813.4 1481.2 814.4 1481.5 819.2 1481.8 824.0 1482.1 810.6 1482.4 809.7 1482.7 814.9 1483.0 824.9 1483.3 812.6 1483.6 825.4 1483.9 825.4 1484.2 808.2 1484.5 818.5 1484.8 818.2 1485.1 813.4 1485.4 806.1 1485.7 817.1 1486.0 813.7 1486.3 823.6 1486.6 818.4 1486.9 813.0 1487.2 824.5 1487.5 828.5 1487.8 822.5 1488.1 816.7 1488.4 822.5 1488.7 817.0 1489.0 813.5 1489.3 810.5 1489.6 817.9 1489.9 810.3 1490.2 819.7 1490.5 812.3 1490.8 817.8 1491.1 815.4 1491.4 810.7 1491.7 813.5 1492.0 815.1 1492.3 827.0 1492.6 818.7 1492.9 816.3 1493.2 822.5 1493.5 813.3 1493.8 812.3 1494.1 814.3 1494.4 821.6 1494.7 815.7 1495.0 818.0 1495.3 818.0 1495.6 816.1 1495.9 822.6 1496.2 820.4 1496.5 814.6 1496.8 811.8 1497.1 817.5 1497.4 814.5 1497.7 817.5 1498.0 820.6 1498.3 817.9 1498.6 818.4 1498.9 815.9 1499.2 814.9 1499.5 814.1 1499.8 822.9 1500.1 815.0 1500.4 818.0 1500.7 818.1 1501.0 819.4 1501.3 815.6 1501.6 812.3 1501.9 826.5 1502.2 814.0 1502.5 821.3 1502.8 811.6 1503.1 820.3 1503.4 811.6 1503.7 824.7 1504.0 819.5 1504.3 812.4 1504.6 824.6 1504.9 811.5 1505.2 816.5 1505.5 822.1 1505.8 816.3 1506.1 822.9 1506.4 817.9 1506.7 814.1 1507.0 822.7 1507.3 817.9 1507.6 816.0 1507.9 821.4 1508.2 816.8 1508.5 813.0 1508.8 813.4 1509.1 833.1 1509.4 827.4 1509.7 809.1 1510.0 822.5 1510.3 822.6 1510.6 816.7 1510.9 820.3 1511.2 814.1 1511.5 816.4 1511.8 821.8 1512.1 817.4 1512.4 817.1 1512.7 816.7 1513.0 813.0 1513.3 811.7 1513.6 814.3 1513.9 817.1 1514.2 814.5 1514.5 825.4 1514.8 811.8 1515.1 813.8 1515.4 815.3 1515.7 820.6 1516.0 809.5 1516.3 818.6 1516.6 814.6 1516.9 814.8 1517.2 820.0 1517.5 820.8 1517.8 821.7 1518.1 813.6 1518.4 821.7 1518.7 821.8 1519.0 819.4 1519.3 819.4 1519.6 817.8 1519.9 817.1 1520.2 821.1 1520.5 824.6 1520.8 816.8 1521.1 819.1 1521.4 821.4 1521.7 813.0 1522.0 824.5 1522.3 819.2 1522.6 823.7 1522.9 816.0 1523.2 814.7 1523.5 817.3 1523.8 819.0 1524.1 814.5 1524.4 821.4 1524.7 818.8 1525.0 814.1 1525.3 819.7 1525.6 817.3 1525.9 818.0 1526.2 816.4 1526.5 815.3 1526.8 813.7 1527.1 818.5 1527.4 818.1 1527.7 820.8 1528.0 815.4 1528.3 819.6 1528.6 821.2 1528.9 813.9 1529.2 819.1 1529.5 832.9 1529.8 816.1 1530.1 816.0 1530.4 817.7 1530.7 816.0 1531.0 821.2 1531.3 817.5 1531.6 817.4 1531.9 815.0 1532.2 819.9 1532.5 817.1 1532.8 815.4 1533.1 816.6 1533.4 824.2 1533.7 817.7 1534.0 818.8 1534.3 823.2 1534.6 817.4 1534.9 821.5 1535.2 814.3 1535.5 820.3 1535.8 806.8 1536.1 818.3 1536.4 816.2 1536.7 815.3 1537.0 822.0 1537.3 820.6 1537.6 821.1 1537.9 823.8 1538.2 819.8 1538.5 820.0 1538.8 817.3 1539.1 825.5 1539.4 823.2 1539.7 815.1 1540.0 814.8 1540.3 815.2 1540.6 815.2 1540.9 825.8 1541.2 818.9 1541.5 821.9 1541.8 815.1 1542.1 815.1 1542.4 822.5 1542.7 811.3 1543.0 813.7 1543.3 811.0 1543.6 813.8 1543.9 827.3 1544.2 815.1 1544.5 821.8 1544.8 824.3 1545.1 815.4 1545.4 815.2 1545.7 818.9 1546.0 821.6 1546.3 812.6 1546.6 813.1 1546.9 824.3 1547.2 814.9 1547.5 819.8 1547.8 821.7 1548.1 816.5 1548.4 817.1 1548.7 815.8 1549.0 815.4 1549.3 814.2 1549.6 812.4 1549.9 816.0 1550.2 816.3 1550.5 821.9 1550.8 816.3 1551.1 815.5 1551.4 829.8 1551.7 817.7 1552.0 816.3 1552.3 815.9 1552.6 817.8 1552.9 814.8 1553.2 816.0 1553.5 814.9 1553.8 813.7 1554.1 816.2 1554.4 813.3 1554.7 828.7 1555.0 814.0 1555.3 828.9 1555.6 819.0 1555.9 821.2 1556.2 823.6 1556.5 812.5 1556.8 824.4 1557.1 819.7 1557.4 815.1 1557.7 815.3 1558.0 819.9 1558.3 812.8 1558.6 829.3 1558.9 817.0 1559.2 821.0 1559.5 818.5 1559.8 815.6 1560.1 816.8 1560.4 813.4 1560.7 823.0 1561.0 818.1 1561.3 820.1 1561.6 819.9 1561.9 820.8 1562.2 819.9 1562.5 826.1 1562.8 816.0 1563.1 814.9 1563.4 817.9 1563.7 817.1 1564.0 818.5 1564.3 822.8 1564.6 822.0 1564.9 821.7 1565.2 815.7 1565.5 820.3 1565.8 819.0 1566.1 821.2 1566.4 818.4 1566.7 817.0 1567.0 819.2 1567.3 815.9 1567.6 815.4 1567.9 819.3 1568.2 818.5 1568.5 822.2 1568.8 819.0 1569.1 814.6 1569.4 823.8 1569.7 824.8 1570.0 814.8 1570.3 816.4 1570.6 822.2 1570.9 819.1 1571.2 810.8 1571.5 822.8 1571.8 818.8 1572.1 820.4 1572.4 822.9 1572.7 816.2 1573.0 814.5 1573.3 820.9 1573.6 821.9 1573.9 818.9 1574.2 822.8 1574.5 820.0 1574.8 822.6 1575.1 815.7 1575.4 817.7 1575.7 822.4 1576.0 815.6 1576.3 814.2 1576.6 818.9 1576.9 817.5 1577.2 815.3 1577.5 813.3 1577.8 823.6 1578.1 818.7 1578.4 823.9 1578.7 815.5 1579.0 818.7 1579.3 817.9 1579.6 818.8 1579.9 813.5 1580.2 823.1 1580.5 817.5 1580.8 819.2 1581.1 815.2 1581.4 824.3 1581.7 813.7 1582.0 825.8 1582.3 817.1 1582.6 817.3 1582.9 816.2 1583.2 823.7 1583.5 815.7 1583.8 815.6 1584.1 815.4 1584.4 820.2 1584.7 820.4 1585.0 816.1 1585.3 820.3 1585.6 824.3 1585.9 821.0 1586.2 820.5 1586.5 815.2 1586.8 824.4 1587.1 821.0 1587.4 814.0 1587.7 816.1 1588.0 805.6 1588.3 821.3 1588.6 812.0 1588.9 816.9 1589.2 823.7 1589.5 814.0 1589.8 821.6 1590.1 817.5 1590.4 812.7 1590.7 823.3 1591.0 819.9 1591.3 816.2 1591.6 820.3 1591.9 815.1 1592.2 813.8 1592.5 817.2 1592.8 822.1 1593.1 813.5 1593.4 814.4 1593.7 821.7 1594.0 814.1 1594.3 817.1 1594.6 816.6 1594.9 814.4 1595.2 816.1 1595.5 818.1 1595.8 817.8 1596.1 820.8 1596.4 819.5 1596.7 821.8 1597.0 819.3 1597.3 816.0 1597.6 820.8 1597.9 820.1" fill="none" stroke="#0000ff" stroke-width="2.5" stroke-linejoin="round"/>
<path d="M60.0 703.0 59.5 729.5 59.8 733.1 60.1 749.2 60.4 743.0 60.7 722.8 61.0 734.3 61.3 726.8 61.6 736.1 61.9 723.4 62.2 737.2 62.5 737.3 62.8 757.3 63.1 738.4 63.4 740.3 63.7 718.7 64.0 757.0 64.3 723.4 64.6 746.6 64.9 734.9 65.2 726.9 65.5 729.8 65.8 729.9 66.1 741.9 66.4 738.2 66.7 752.3 67.0 718.6 67.3 740.0 67.6 733.6 67.9 747.1 68.2 726.2 68.5 738.6 68.8 743.3 69.1 731.1 69.4 750.5 69.7 744.0 70.0 751.3 70.3 751.2 70.6 736.1 70.9 737.7 71.2 741.2 71.5 750.6 71.8 751.8 72.1 739.6 72.4 740.7 72.7 739.6 73.0 741.5 73.3 744.4 73.6 745.5 73.9 765.3 74.2 743.3 74.5 743.6 74.8 751.6 75.1 741.0 75.4 745.6 75.7 748.9 76.0 755.5 76.3 739.7 76.6 768.2 76.9 747.3 77.2 751.7 77.5 757.7 77.8 756.4 78.1 760.2 78.4 752.9 78.7 751.7 79.0 754.7 79.3 740.3 79.6 769.0 79.9 747.2 80.2 744.2 80.5 782.7 80.8 753.0 81.1 745.7 81.4 771.0 81.7 752.4 82.0 764.2 82.3 749.4 82.6 754.0 82.9 736.7 83.2 734.9 83.5 749.6 83.8 756.5 84.1 764.1 84.4 791.1 84.7 750.4 85.0 766.9 85.3 751.1 85.6 757.8 85.9 748.7 86.2 749.0 86.5 754.1 86.8 751.5 87.1 760.2 87.4 755.6 87.7 771.8 88.0 762.7 88.3 763.6 88.6 771.7 88.9 766.6 89.2 762.0 89.5 762.3 89.8 762.4 90.1 772.7 90.4 774.0 90.7 768.7 91.0 774.8 91.3 760.7 91.6 769.3 91.9 755.2 92.2 777.2 92.5 766.7 92.8 767.8 93.1 771.5 93.4 766.8 93.7 763.8 94.0 777.6 94.3 768.7 94.6 761.3 94.9 772.0 95.2 756.7 95.5 783.3 95.8 768.0 96.1 770.0 96.4 801.9 96.7 789.3 97.0 771.4 97.3 778.7 97.6 785.4 97.9 786.0 98.2 770.7 98.5 773.1 98.8 782.6 99.1 774.8 99.4 779.1 99.7 778.2 100.0 765.2 100.3 767.4 100.6 745.9 100.9 772.4 101.2 786.1 101.5 766.9 101.8 791.7 102.1 788.6 102.4 775.5 102.7 776.2 103.0 777.2 103.3 770.4 103.6 773.4 103.9 776.6 104.2 782.7 104.5 784.5 104.8 772.8 105.1 789.2 105.4 769.4 105.7 777.9 106.0 782.5 106.3 779.6 106.6 779.1 106.9 782.6 107.2 776.5 107.5 776.1 107.8 778.5 108.1 789.6 108.4 781.1 108.7 798.8 109.0 784.2 109.3 763.7 109.6 779.8 109.9 797.7 110.2 783.8 110.5 780.7 110.8 777.8 111.1 795.7 111.4 797.8 111.7 790.6 112.0 790.6 112.3 797.9 112.6 796.4 112.9 777.3 113.2 792.7 113.5 788.0 113.8 785.2 114.1 793.3 114.4 787.4 114.7 768.7 115.0 808.7 115.3 796.6 115.6 787.3 115.9 785.6 116.2 790.5 116.5 779.7 116.8 791.6 117.1 787.6 117.4 786.9 117.7 778.7 118.0 785.0 118.3 804.7 118.6 801.7 118.9 794.7 119.2 790.1 119.5 784.7 119.8 800.4 120.1 805.3 120.4 780.5 120.7 801.8 121.0 777.6 121.3 789.9 121.6 797.3 121.9 777.1 122.2 782.5 122.5 794.9 122.8 800.8 123.1 790.3 123.4 805.3 123.7 788.5 124.0 809.6 124.3 795.7 124.6 796.8 124.9 800.1 125.2 799.2 125.5 811.5 125.8 815.2 126.1 800.5 126.4 795.1 126.7 788.1 127.0 787.6 127.3 797.1 127.6 796.4 127.9 796.6 128.2 797.5 128.5 801.9 128.8 782.5 129.1 790.9 129.4 807.8 129.7 809.4 130.0 795.0 130.3 810.0 130.6 794.5 130.9 796.4 131.2 787.4 131.5 810.9 131.8 800.3 132.1 814.4 132.4 806.5 132.7 801.8 133.0 803.1 133.3 811.5 133.6 800.5 133.9 799.9 134.2 802.8 134.5 809.0 134.8 810.3 135.1 819.5 135.4 802.6 135.7 813.9 136.0 798.8 136.3 808.7 136.6 805.5 136.9 827.9 137.2 809.4 137.5 801.3 137.8 809.5 138.1 809.4 138.4 802.9 138.7 801.8 139.0 794.5 139.3 825.9 139.6 807.6 139.9 814.2 140.2 792.9 140.5 798.7 140.8 805.5 141.1 805.7 141.4 813.6 141.7 799.9 142.0 811.7 142.3 820.4 142.6 797.0 142.9 815.4 143.2 801.1 143.5 812.6 143.8 811.3 144.1 823.5 144.4 803.7 144.7 810.3 145.0 817.7 145.3 800.9 145.6 809.4 145.9 803.3 146.2 804.7 146.5 815.5 146.8 815.8 147.1 830.4 147.4 822.1 147.7 821.4 148.0 809.6 148.3 808.8 148.6 812.3 148.9 796.3 149.2 825.6 149.5 803.8 149.8 799.6 150.1 808.7 150.4 819.3 150.7 822.7 151.0 807.9 151.3 816.2 151.6 812.5 151.9 805.9 152.2 815.2 152.5 813.6 152.8 802.8 153.1 828.0 153.4 803.0 153.7 815.9 154.0 806.7 154.3 804.7 154.6 806.2 154.9 820.4 155.2 806.0 155.5 813.6 155.8 835.9 156.1 810.3 156.4 815.3 156.7 821.0 157.0 808.9 157.3 819.8 157.6 811.4 157.9 822.0 158.2 817.1 158.5 810.0 158.8 828.6 159.1 816.4 159.4 815.2 159.7 810.7 160.0 814.1 160.3 817.0 160.6 819.8 160.9 826.9 161.2 808.9 161.5 815.6 161.8 828.2 162.1 819.9 162.4 821.8 162.7 832.1 163.0 822.9 163.3 822.7 163.6 818.8 163.9 834.1 164.2 827.9 164.5 810.9 164.8 823.9 165.1 811.6 165.4 828.7 165.7 825.3 166.0 818.9 166.3 817.2 166.6 808.2 166.9 826.5 167.2 819.7 167.5 818.4 167.8 826.6 168.1 816.1 168.4 816.8 168.7 812.8 169.0 811.9 169.3 853.4 169.6 818.9 169.9 819.1 170.2 829.0 170.5 802.7 170.8 821.8 171.1 822.2 171.4 815.3 171.7 825.9 172.0 800.6 172.3 822.6 172.6 829.6 172.9 808.1 173.2 812.8 173.5 821.6 173.8 822.6 174.1 818.1 174.4 825.6 174.7 824.7 175.0 813.7 175.3 821.0 175.6 814.3 175.9 809.6 176.2 807.9 176.5 831.4 176.8 820.8 177.1 839.7 177.4 813.7 177.7 821.1 178.0 826.3 178.3 822.8 178.6 827.8 178.9 825.2 179.2 819.9 179.5 809.6 179.8 817.9 180.1 846.2 180.4 830.8 180.7 836.1 181.0 821.0 181.3 823.9 181.6 819.3 181.9 828.6 182.2 826.2 182.5 829.4 182.8 840.5 183.1 820.3 183.4 834.6 183.7 816.9 184.0 835.2 184.3 820.6 184.6 826.1 184.9 827.7 185.2 840.2 185.5 826.6 185.8 823.3 186.1 818.8 186.4 829.5 186.7 821.1 187.0 820.5 187.3 827.0 187.6 834.7 187.9 818.4 188.2 832.5 188.5 841.9 188.8 817.4 189.1 844.1 189.4 845.6 189.7 823.4 190.0 832.3 190.3 818.4 190.6 830.3 190.9 825.4 191.2 830.1 191.5 821.5 191.8 822.2 192.1 822.0 192.4 823.0 192.7 823.6 193.0 826.6 193.3 815.0 193.6 825.5 193.9 831.8 194.2 803.9 194.5 829.7 194.8 823.0 195.1 820.6 195.4 819.2 195.7 822.4 196.0 819.0 196.3 831.0 196.6 813.8 196.9 836.6 197.2 818.4 197.5 835.9 197.8 841.3 198.1 814.5 198.4 837.2 198.7 847.1 199.0 823.2 199.3 833.7 199.6 828.4 199.9 830.1 200.2 828.2 200.5 823.3 200.8 835.4 201.1 836.8 201.4 829.5 201.7 842.4 202.0 838.8 202.3 835.7 202.6 825.3 202.9 846.2 203.2 841.1 203.5 816.7 203.8 823.0 204.1 827.3 204.4 838.2 204.7 840.8 205.0 828.8 205.3 832.8 205.6 836.5 205.9 822.4 206.2 835.7 206.5 829.0 206.8 832.7 207.1 831.0 207.4 823.2 207.7 824.4 208.0 831.7 208.3 832.4 208.6 829.6 208.9 844.7 209.2 827.1 209.5 817.8 209.8 829.0 210.1 830.2 210.4 830.6 210.7 840.8 211.0 835.4 211.3 839.9 211.6 836.3 211.9 830.3 212.2 839.7 212.5 829.6 212.8 833.4 213.1 820.1 213.4 832.3 213.7 829.2 214.0 834.4 214.3 855.2 214.6 862.8 214.9 839.6 215.2 831.4 215.5 838.0 215.8 833.3 216.1 827.3 216.4 831.1 216.7 829.8 217.0 827.3 217.3 842.7 217.6 825.2 217.9 828.0 218.2 837.0 218.5 826.7 218.8 823.7 219.1 825.6 219.4 835.3 219.7 834.5 220.0 833.9 220.3 828.3 220.6 825.2 220.9 838.7 221.2 821.9 221.5 828.9 221.8 817.0 222.1 826.7 222.4 830.5 222.7 841.4 223.0 803.4 223.3 842.6 223.6 825.5 223.9 833.9 224.2 841.5 224.5 826.3 224.8 831.0 225.1 835.4 225.4 830.8 225.7 826.5 226.0 833.1 226.3 832.5 226.6 821.7 226.9 842.6 227.2 834.3 227.5 807.2 227.8 825.9 228.1 845.7 228.4 844.6 228.7 833.8 229.0 820.6 229.3 828.9 229.6 840.1 229.9 834.8 230.2 829.4 230.5 826.6 230.8 838.2 231.1 830.2 231.4 835.6 231.7 835.5 232.0 845.0 232.3 833.1 232.6 833.7 232.9 819.9 233.2 840.4 233.5 842.6 233.8 831.5 234.1 817.1 234.4 827.5 234.7 832.1 235.0 848.8 235.3 838.5 235.6 841.1 235.9 837.7 236.2 848.2 236.5 823.5 236.8 825.3 237.1 823.1 237.4 829.1 237.7 828.5 238.0 831.8 238.3 823.9 238.6 831.6 238.9 825.0 239.2 848.4 239.5 827.1 239.8 850.0 240.1 843.9 240.4 822.6 240.7 838.1 241.0 835.2 241.3 820.4 241.6 837.8 241.9 829.8 242.2 834.5 242.5 824.5 242.8 829.9 243.1 833.4 243.4 829.0 243.7 826.0 244.0 829.1 244.3 823.4 244.6 832.7 244.9 804.6 245.2 842.1 245.5 830.5 245.8 833.6 246.1 836.5 246.4 821.5 246.7 848.8 247.0 822.2 247.3 833.3 247.6 833.5 247.9 840.1 248.2 829.6 248.5 820.2 248.8 832.0 249.1 814.2 249.4 828.1 249.7 826.2 250.0 841.8 250.3 827.4 250.6 826.1 250.9 824.0 251.2 823.3 251.5 825.3 251.8 833.7 252.1 820.3 252.4 827.6 252.7 819.3 253.0 827.8 253.3 830.1 253.6 820.6 253.9 824.8 254.2 829.6 254.5 834.6 254.8 836.0 255.1 827.9 255.4 821.8 255.7 818.0 256.0 834.5 256.3 845.8 256.6 831.2 256.9 840.9 257.2 825.2 257.5 825.6 257.8 840.8 258.1 817.1 258.4 832.8 258.7 832.6 259.0 829.8 259.3 850.1 259.6 822.2 259.9 825.2 260.2 814.9 260.5 821.0 260.8 824.5 261.1 825.3 261.4 826.6 261.7 830.2 262.0 820.3 262.3 807.5 262.6 829.1 262.9 831.1 263.2 820.1 263.5 822.5 263.8 841.9 264.1 835.7 264.4 840.9 264.7 832.8 265.0 829.2 265.3 824.2 265.6 832.0 265.9 825.1 266.2 824.6 266.5 827.5 266.8 827.0 267.1 834.3 267.4 816.8 267.7 846.6 268.0 820.7 268.3 824.5 268.6 834.6 268.9 821.7 269.2 824.0 269.5 827.6 269.8 809.8 270.1 823.8 270.4 820.7 270.7 825.5 271.0 832.9 271.3 832.0 271.6 839.0 271.9 845.0 272.2 835.1 272.5 826.8 272.8 835.1 273.1 816.0 273.4 826.4 273.7 844.8 274.0 833.0 274.3 812.0 274.6 822.9 274.9 833.8 275.2 831.5 275.5 835.2 275.8 815.5 276.1 813.2 276.4 823.8 276.7 816.0 277.0 826.6 277.3 826.9 277.6 829.3 277.9 825.8 278.2 830.9 278.5 832.6 278.8 827.8 279.1 818.5 279.4 836.6 279.7 828.2 280.0 831.4 280.3 827.8 280.6 816.0 280.9 830.7 281.2 821.8 281.5 813.1 281.8 836.2 282.1 824.0 282.4 829.3 282.7 832.8 283.0 838.7 283.3 814.3 283.6 820.8 283.9 830.8 284.2 821.1 284.5 807.5 284.8 827.1 285.1 828.0 285.4 831.4 285.7 827.1 286.0 822.3 286.3 827.6 286.6 824.6 286.9 821.6 287.2 827.0 287.5 827.6 287.8 818.2 288.1 832.7 288.4 831.1 288.7 834.0 289.0 808.3 289.3 825.8 289.6 823.7 289.9 817.8 290.2 828.7 290.5 814.6 290.8 839.2 291.1 827.1 291.4 820.7 291.7 835.2 292.0 829.3 292.3 826.4 292.6 815.4 292.9 827.7 293.2 841.0 293.5 832.1 293.8 815.2 294.1 834.3 294.4 843.3 294.7 829.8 295.0 818.9 295.3 813.6 295.6 817.1 295.9 819.2 296.2 825.0 296.5 827.0 296.8 814.6 297.1 805.8 297.4 819.9 297.7 814.0 298.0 832.8 298.3 814.4 298.6 825.9 298.9 828.4 299.2 815.7 299.5 833.8 299.8 821.1 300.1 816.6 300.4 815.6 300.7 822.6 301.0 829.8 301.3 809.8 301.6 826.1 301.9 820.5 302.2 816.3 302.5 819.7 302.8 821.2 303.1 820.8 303.4 830.3 303.7 815.0 304.0 836.5 304.3 827.5 304.6 816.7 304.9 801.1 305.2 820.5 305.5 817.7 305.8 825.9 306.1 825.6 306.4 835.3 306.7 819.2 307.0 825.9 307.3 817.0 307.6 817.3 307.9 831.6 308.2 818.7 308.5 818.8 308.8 817.0 309.1 821.7 309.4 825.9 309.7 818.3 310.0 811.5 310.3 821.4 310.6 813.3 310.9 816.2 311.2 820.1 311.5 820.3 311.8 804.3 312.1 831.5 312.4 824.1 312.7 833.3 313.0 847.4 313.3 811.6 313.6 813.8 313.9 819.3 314.2 824.4 314.5 813.8 314.8 813.3 315.1 825.0 315.4 811.0 315.7 818.8 316.0 824.7 316.3 814.6 316.6 822.0 316.9 814.5 317.2 806.0 317.5 812.2 317.8 813.0 318.1 813.3 318.4 815.6 318.7 818.1 319.0 817.2 319.3 816.2 319.6 811.9 319.9 813.2 320.2 812.0 320.5 810.4 320.8 824.5 321.1 802.4 321.4 815.5 321.7 803.6 322.0 809.6 322.3 819.2 322.6 811.3 322.9 829.1 323.2 806.8 323.5 808.8 323.8 808.4 324.1 812.5 324.4 810.2 324.7 809.6 325.0 812.6 325.3 823.7 325.6 812.7 325.9 811.8 326.2 809.3 326.5 802.7 326.8 802.0 327.1 804.2 327.4 810.9 327.7 791.1 328.0 815.0 328.3 807.4 328.6 804.1 328.9 806.4 329.2 816.0 329.5 812.6 329.8 811.5 330.1 822.8 330.4 837.4 330.7 801.6 331.0 815.9 331.3 804.6 331.6 801.0 331.9 806.0 332.2 820.5 332.5 807.4 332.8 806.3 333.1 819.9 333.4 813.0 333.7 808.9 334.0 823.3 334.3 812.8 334.6 804.5 334.9 802.2 335.2 804.3 335.5 810.3 335.8 815.9 336.1 815.1 336.4 809.6 336.7 801.1 337.0 815.3 337.3 809.0 337.6 801.1 337.9 795.1 338.2 809.4 338.5 810.0 338.8 816.5 339.1 799.4 339.4 821.7 339.7 795.5 340.0 806.2 340.3 816.2 340.6 813.5 340.9 799.4 341.2 809.5 341.5 819.0 341.8 812.5 342.1 797.6 342.4 815.9 342.7 786.6 343.0 802.5 343.3 794.9 343.6 798.0 343.9 797.8 344.2 802.4 344.5 785.6 344.8 798.4 345.1 804.5 345.4 795.0 345.7 796.7 346.0 795.6 346.3 783.7 346.6 787.1 346.9 787.7 347.2 788.2 347.5 794.8 347.8 790.3 348.1 778.7 348.4 777.2 348.7 773.6 349.0 768.6 349.3 778.0 349.6 774.3 349.9 766.0 350.2 769.2 350.5 773.8 350.8 767.8 351.1 767.0 351.4 765.7 351.7 763.7 352.0 763.0 352.3 762.7 352.6 765.6 352.9 765.5 353.2 768.3 353.5 772.2 353.8 770.6 354.1 774.1 354.4 770.4 354.7 770.0 355.0 783.7 355.3 779.9 355.6 783.9 355.9 779.2 356.2 771.4 356.5 791.0 356.8 776.7 357.1 786.7 357.4 786.4 357.7 792.0 358.0 799.7 358.3 798.6 358.6 783.7 358.9 802.5 359.2 786.5 359.5 802.7 359.8 794.4 360.1 793.1 360.4 797.5 360.7 793.5 361.0 802.2 361.3 809.6 361.6 809.1 361.9 804.0 362.2 812.4 362.5 808.4 362.8 821.9 363.1 809.3 363.4 802.1 363.7 804.4 364.0 801.7 364.3 805.0 364.6 806.3 364.9 815.0 365.2 813.5 365.5 808.6 365.8 811.5 366.1 804.0 366.4 805.5 366.7 795.2 367.0 804.7 367.3 806.8 367.6 828.5 367.9 802.2 368.2 811.4 368.5 809.0 368.8 801.7 369.1 813.6 369.4 811.8 369.7 803.2 370.0 798.9 370.3 811.8 370.6 804.2 370.9 818.2 371.2 810.3 371.5 819.5 371.8 812.1 372.1 832.5 372.4 819.6 372.7 826.4 373.0 816.1 373.3 809.0 373.6 806.9 373.9 812.7 374.2 818.3 374.5 812.4 374.8 834.7 375.1 816.7 375.4 820.6 375.7 818.2 376.0 804.9 376.3 830.3 376.6 823.0 376.9 824.9 377.2 812.9 377.5 819.3 377.8 819.1 378.1 828.3 378.4 811.2 378.7 825.0 379.0 829.8 379.3 816.1 379.6 815.6 379.9 831.0 380.2 824.1 380.5 830.0 380.8 827.4 381.1 830.0 381.4 821.2 381.7 810.0 382.0 827.2 382.3 815.9 382.6 827.8 382.9 820.1 383.2 836.2 383.5 822.5 383.8 830.4 384.1 832.8 384.4 824.3 384.7 827.4 385.0 825.2 385.3 815.9 385.6 836.8 385.9 820.1 386.2 810.6 386.5 821.0 386.8 827.5 387.1 827.3 387.4 824.8 387.7 824.2 388.0 814.7 388.3 834.7 388.6 848.8 388.9 823.2 389.2 810.5 389.5 833.7 389.8 826.6 390.1 811.6 390.4 824.0 390.7 820.0 391.0 821.8 391.3 844.8 391.6 836.9 391.9 828.8 392.2 830.2 392.5 842.1 392.8 819.1 393.1 836.0 393.4 826.6 393.7 837.1 394.0 833.7 394.3 823.5 394.6 839.4 394.9 835.6 395.2 846.1 395.5 829.4 395.8 833.3 396.1 827.9 396.4 841.7 396.7 827.9 397.0 832.9 397.3 842.9 397.6 839.4 397.9 835.6 398.2 835.6 398.5 836.3 398.8 841.4 399.1 832.2 399.4 822.4 399.7 844.5 400.0 827.9 400.3 849.0 400.6 837.1 400.9 852.5 401.2 844.1 401.5 838.6 401.8 842.5 402.1 827.2 402.4 837.3 402.7 833.8 403.0 836.6 403.3 816.9 403.6 823.7 403.9 842.1 404.2 837.4 404.5 832.3 404.8 836.2 405.1 830.5 405.4 834.5 405.7 842.7 406.0 836.4 406.3 843.2 406.6 833.7 406.9 820.7 407.2 834.4 407.5 837.9 407.8 831.9 408.1 836.6 408.4 836.0 408.7 846.2 409.0 849.1 409.3 847.8 409.6 835.0 409.9 842.5 410.2 849.8 410.5 842.2 410.8 839.6 411.1 835.9 411.4 847.0 411.7 842.4 412.0 848.6 412.3 840.5 412.6 857.5 412.9 841.6 413.2 834.2 413.5 843.5 413.8 845.6 414.1 857.2 414.4 839.4 414.7 839.1 415.0 839.6 415.3 840.3 415.6 830.6 415.9 848.3 416.2 852.5 416.5 838.6 416.8 837.3 417.1 842.8 417.4 838.7 417.7 849.7 418.0 837.4 418.3 848.6 418.6 836.7 418.9 830.4 419.2 835.3 419.5 836.2 419.8 849.6 420.1 854.6 420.4 846.3 420.7 846.9 421.0 824.8 421.3 853.8 421.6 838.2 421.9 855.5 422.2 863.5 422.5 846.8 422.8 850.8 423.1 853.3 423.4 838.6 423.7 839.8 424.0 842.6 424.3 848.2 424.6 853.2 424.9 848.2 425.2 860.0 425.5 842.2 425.8 839.2 426.1 848.1 426.4 847.8 426.7 839.6 427.0 855.7 427.3 842.5 427.6 844.1 427.9 850.3 428.2 842.2 428.5 855.8 428.8 853.3 429.1 852.5 429.4 849.5 429.7 844.5 430.0 845.0 430.3 852.1 430.6 860.0 430.9 858.9 431.2 853.0 431.5 857.7 431.8 860.4 432.1 843.2 432.4 850.5 432.7 865.1 433.0 847.2 433.3 848.5 433.6 855.9 433.9 850.4 434.2 860.6 434.5 848.8 434.8 856.4 435.1 869.3 435.4 860.8 435.7 844.4 436.0 842.4 436.3 842.8 436.6 852.8 436.9 844.7 437.2 857.3 437.5 866.3 437.8 865.1 438.1 849.0 438.4 852.2 438.7 852.2 439.0 849.1 439.3 866.9 439.6 850.2 439.9 847.8 440.2 857.3 440.5 857.2 440.8 866.2 441.1 872.9 441.4 853.3 441.7 836.1 442.0 860.3 442.3 861.4 442.6 869.1 442.9 846.7 443.2 849.1 443.5 874.2 443.8 868.3 444.1 865.9 444.4 856.6 444.7 866.1 445.0 853.5 445.3 849.6 445.6 856.9 445.9 858.1 446.2 863.2 446.5 865.4 446.8 847.6 447.1 859.9 447.4 861.4 447.7 850.6 448.0 856.7 448.3 858.9 448.6 861.7 448.9 853.5 449.2 852.6 449.5 852.4 449.8 861.5 450.1 857.3 450.4 855.9 450.7 864.0 451.0 858.7 451.3 848.0 451.6 868.0 451.9 870.7 452.2 863.5 452.5 854.3 452.8 872.7 453.1 857.2 453.4 850.3 453.7 860.3 454.0 874.3 454.3 858.6 454.6 865.6 454.9 871.4 455.2 863.5 455.5 860.1 455.8 862.3 456.1 868.2 456.4 859.3 456.7 865.0 457.0 866.5 457.3 860.6 457.6 868.0 457.9 867.0 458.2 861.4 458.5 861.3 458.8 864.5 459.1 862.9 459.4 862.7 459.7 858.0 460.0 865.0 460.3 869.4 460.6 868.9 460.9 859.8 461.2 868.7 461.5 869.1 461.8 859.7 462.1 870.5 462.4 864.5 462.7 863.4 463.0 867.9 463.3 863.5 463.6 853.9 463.9 868.1 464.2 859.8 464.5 865.3 464.8 871.3 465.1 865.4 465.4 864.3 465.7 868.1 466.0 870.6 466.3 862.4 466.6 863.8 466.9 871.0 467.2 879.0 467.5 868.0 467.8 874.0 468.1 863.8 468.4 868.5 468.7 869.0 469.0 861.2 469.3 868.7 469.6 867.7 469.9 855.4 470.2 868.5 470.5 871.0 470.8 870.8 471.1 871.4 471.4 862.9 471.7 862.0 472.0 868.4 472.3 864.6 472.6 867.0 472.9 878.1 473.2 864.8 473.5 868.1 473.8 890.1 474.1 869.6 474.4 864.6 474.7 872.3 475.0 871.9 475.3 871.8 475.6 861.7 475.9 873.0 476.2 873.8 476.5 885.9 476.8 876.1 477.1 869.2 477.4 874.0 477.7 876.5 478.0 871.3 478.3 872.1 478.6 881.8 478.9 875.8 479.2 876.1 479.5 867.3 479.8 877.3 480.1 862.7 480.4 881.7 480.7 870.7 481.0 877.8 481.3 883.3 481.6 867.6 481.9 881.9 482.2 875.7 482.5 882.1 482.8 872.3 483.1 868.0 483.4 883.5 483.7 877.6 484.0 875.3 484.3 864.5 484.6 889.6 484.9 873.3 485.2 874.1 485.5 871.5 485.8 875.8 486.1 879.7 486.4 875.6 486.7 875.5 487.0 872.8 487.3 886.4 487.6 894.2 487.9 874.7 488.2 871.3 488.5 878.3 488.8 867.6 489.1 878.4 489.4 878.7 489.7 878.1 490.0 888.0 490.3 889.9 490.6 880.3 490.9 874.0 491.2 884.4 491.5 885.3 491.8 866.7 492.1 873.5 492.4 876.4 492.7 868.7 493.0 871.6 493.3 896.0 493.6 871.0 493.9 883.8 494.2 873.6 494.5 885.0 494.8 881.7 495.1 887.9 495.4 870.7 495.7 880.5 496.0 875.4 496.3 883.8 496.6 886.3 496.9 880.6 497.2 877.7 497.5 879.0 497.8 881.6 498.1 876.1 498.4 875.0 498.7 875.5 499.0 873.3 499.3 886.3 499.6 872.0 499.9 888.2 500.2 886.9 500.5 870.2 500.8 869.6 501.1 879.9 501.4 873.7 501.7 880.8 502.0 886.2 502.3 883.6 502.6 878.8 502.9 879.1 503.2 890.1 503.5 878.1 503.8 892.2 504.1 894.6 504.4 878.3 504.7 882.5 505.0 899.4 505.3 876.7 505.6 883.6 505.9 887.9 506.2 875.0 506.5 883.5 506.8 882.6 507.1 876.3 507.4 891.7 507.7 880.6 508.0 907.2 508.3 889.1 508.6 877.5 508.9 883.4 509.2 877.3 509.5 887.1 509.8 886.2 510.1 875.2 510.4 878.2 510.7 885.1 511.0 882.5 511.3 876.5 511.6 889.4 511.9 897.0 512.2 874.0 512.5 892.3 512.8 871.4 513.1 881.7 513.4 878.6 513.7 879.3 514.0 883.8 514.3 876.0 514.6 882.1 514.9 894.1 515.2 885.7 515.5 892.8 515.8 891.9 516.1 874.0 516.4 902.3 516.7 888.6 517.0 887.4 517.3 881.0 517.6 880.2 517.9 877.3 518.2 882.5 518.5 884.2 518.8 882.0 519.1 882.1 519.4 873.1 519.7 879.2 520.0 879.1 520.3 885.6 520.6 881.1 520.9 881.1 521.2 884.4 521.5 881.1 521.8 882.2 522.1 891.1 522.4 883.0 522.7 878.8 523.0 890.1 523.3 889.2 523.6 890.5 523.9 876.9 524.2 890.3 524.5 884.6 524.8 885.2 525.1 885.0 525.4 887.4 525.7 887.6 526.0 900.1 526.3 886.2 526.6 884.2 526.9 888.8 527.2 884.2 527.5 891.9 527.8 885.9 528.1 892.5 528.4 882.1 528.7 895.3 529.0 891.4 529.3 880.4 529.6 883.1 529.9 886.2 530.2 878.1 530.5 879.3 530.8 890.3 531.1 890.5 531.4 894.3 531.7 878.5 532.0 883.5 532.3 875.0 532.6 897.3 532.9 878.5 533.2 884.4 533.5 898.7 533.8 895.2 534.1 881.0 534.4 901.2 534.7 888.8 535.0 880.3 535.3 887.7 535.6 890.1 535.9 892.4 536.2 868.4 536.5 898.4 536.8 877.6 537.1 885.1 537.4 895.6 537.7 888.8 538.0 886.3 538.3 883.0 538.6 890.1 538.9 900.7 539.2 883.5 539.5 889.2 539.8 884.5 540.1 882.7 540.4 875.8 540.7 889.1 541.0 896.1 541.3 885.8 541.6 893.3 541.9 887.7 542.2 899.2 542.5 888.1 542.8 884.5 543.1 883.7 543.4 887.2 543.7 888.3 544.0 882.1 544.3 885.6 544.6 879.1 544.9 874.7 545.2 890.4 545.5 888.6 545.8 895.3 546.1 887.2 546.4 887.8 546.7 898.3 547.0 878.7 547.3 887.9 547.6 902.5 547.9 899.6 548.2 889.5 548.5 885.4 548.8 880.1 549.1 885.0 549.4 887.4 549.7 885.9 550.0 888.9 550.3 889.2 550.6 881.4 550.9 880.6 551.2 883.9 551.5 889.8 551.8 896.0 552.1 876.8 552.4 892.1 552.7 883.7 553.0 892.2 553.3 904.9 553.6 888.3 553.9 878.9 554.2 882.8 554.5 887.3 554.8 883.2 555.1 884.3 555.4 878.0 555.7 883.6 556.0 879.2 556.3 893.2 556.6 886.6 556.9 889.3 557.2 876.1 557.5 882.1 557.8 880.5 558.1 880.6 558.4 879.7 558.7 880.5 559.0 894.5 559.3 882.9 559.6 877.6 559.9 882.7 560.2 899.1 560.5 888.6 560.8 879.1 561.1 882.8 561.4 883.7 561.7 884.3 562.0 874.5 562.3 878.8 562.6 883.0 562.9 869.4 563.2 882.8 563.5 884.2 563.8 888.4 564.1 894.0 564.4 882.5 564.7 884.8 565.0 887.5 565.3 889.5 565.6 883.6 565.9 878.9 566.2 886.5 566.5 888.0 566.8 884.0 567.1 886.1 567.4 892.6 567.7 877.8 568.0 878.4 568.3 872.7 568.6 884.2 568.9 887.8 569.2 879.0 569.5 893.3 569.8 878.4 570.1 883.1 570.4 880.8 570.7 890.0 571.0 877.7 571.3 891.6 571.6 880.0 571.9 873.8 572.2 875.6 572.5 879.8 572.8 891.2 573.1 877.8 573.4 880.3 573.7 901.6 574.0 881.0 574.3 876.5 574.6 875.8 574.9 871.6 575.2 881.7 575.5 887.0 575.8 877.3 576.1 873.5 576.4 880.7 576.7 878.9 577.0 878.1 577.3 881.4 577.6 878.7 577.9 876.4 578.2 887.9 578.5 868.7 578.8 872.0 579.1 875.3 579.4 866.2 579.7 887.1 580.0 866.6 580.3 883.9 580.6 880.7 580.9 879.2 581.2 879.6 581.5 873.8 581.8 872.9 582.1 885.5 582.4 875.8 582.7 868.8 583.0 869.8 583.3 868.3 583.6 878.4 583.9 886.9 584.2 874.2 584.5 876.7 584.8 872.9 585.1 881.0 585.4 880.8 585.7 881.0 586.0 886.7 586.3 868.7 586.6 880.0 586.9 862.0 587.2 879.4 587.5 879.9 587.8 879.3 588.1 879.8 588.4 874.2 588.7 871.4 589.0 879.5 589.3 869.2 589.6 881.5 589.9 870.2 590.2 876.8 590.5 876.5 590.8 870.2 591.1 873.0 591.4 880.3 591.7 875.0 592.0 877.8 592.3 871.7 592.6 875.4 592.9 867.0 593.2 870.5 593.5 882.3 593.8 877.9 594.1 874.7 594.4 875.9 594.7 867.5 595.0 877.0 595.3 868.0 595.6 868.1 595.9 878.6 596.2 870.4 596.5 871.6 596.8 873.9 597.1 875.2 597.4 882.5 597.7 860.2 598.0 872.0 598.3 879.6 598.6 871.5 598.9 871.9 599.2 869.7 599.5 872.3 599.8 879.9 600.1 881.5 600.4 876.0 600.7 882.3 601.0 874.5 601.3 865.5 601.6 878.3 601.9 863.8 602.2 873.5 602.5 873.7 602.8 867.8 603.1 872.7 603.4 870.9 603.7 874.7 604.0 871.1 604.3 877.5 604.6 872.0 604.9 879.7 605.2 874.3 605.5 875.9 605.8 875.6 606.1 872.3 606.4 885.6 606.7 878.7 607.0 864.5 607.3 869.5 607.6 892.7 607.9 873.8 608.2 892.4 608.5 880.8 608.8 879.9 609.1 875.1 609.4 876.7 609.7 879.1 610.0 883.8 610.3 879.3 610.6 878.8 610.9 874.1 611.2 877.0 611.5 877.5 611.8 878.7 612.1 876.4 612.4 874.9 612.7 879.1 613.0 869.3 613.3 873.7 613.6 877.2 613.9 884.0 614.2 878.3 614.5 876.6 614.8 886.4 615.1 882.0 615.4 891.0 615.7 882.1 616.0 877.0 616.3 881.8 616.6 894.7 616.9 893.4 617.2 885.4 617.5 890.8 617.8 878.1 618.1 896.5 618.4 888.1 618.7 885.4 619.0 885.7 619.3 887.8 619.6 882.2 619.9 884.9 620.2 881.1 620.5 896.7 620.8 883.1 621.1 887.1 621.4 894.1 621.7 895.5 622.0 897.0 622.3 885.8 622.6 884.4 622.9 888.9 623.2 880.6 623.5 894.5 623.8 876.1 624.1 889.2 624.4 895.1 624.7 894.8 625.0 885.5 625.3 895.5 625.6 896.6 625.9 882.4 626.2 887.3 626.5 894.3 626.8 893.4 627.1 889.6 627.4 890.2 627.7 904.9 628.0 889.1 628.3 897.0 628.6 885.2 628.9 894.7 629.2 899.6 629.5 889.2 629.8 888.3 630.1 908.2 630.4 890.7 630.7 897.7 631.0 884.9 631.3 902.1 631.6 876.3 631.9 887.6 632.2 889.4 632.5 892.3 632.8 893.8 633.1 907.3 633.4 905.6 633.7 904.3 634.0 897.9 634.3 894.4 634.6 883.4 634.9 892.2 635.2 890.5 635.5 897.1 635.8 888.5 636.1 889.4 636.4 890.0 636.7 897.5 637.0 894.9 637.3 888.8 637.6 885.6 637.9 891.2 638.2 890.9 638.5 891.4 638.8 894.6 639.1 900.6 639.4 898.9 639.7 891.0 640.0 887.8 640.3 903.7 640.6 893.5 640.9 899.0 641.2 896.0 641.5 897.2 641.8 904.6 642.1 893.9 642.4 905.2 642.7 899.9 643.0 894.7 643.3 893.1 643.6 892.8 643.9 906.2 644.2 901.5 644.5 891.4 644.8 898.2 645.1 887.1 645.4 896.4 645.7 908.7 646.0 886.2 646.3 898.7 646.6 893.0 646.9 896.8 647.2 890.9 647.5 897.3 647.8 885.2 648.1 893.8 648.4 894.5 648.7 895.6 649.0 908.4 649.3 890.0 649.6 892.2 649.9 884.4 650.2 898.4 650.5 895.5 650.8 889.3 651.1 900.6 651.4 896.6 651.7 903.4 652.0 899.1 652.3 895.1 652.6 890.4 652.9 877.5 653.2 891.1 653.5 900.7 653.8 892.7 654.1 889.4 654.4 895.0 654.7 897.7 655.0 909.1 655.3 888.2 655.6 891.3 655.9 887.2 656.2 889.1 656.5 898.0 656.8 891.2 657.1 885.2 657.4 900.2 657.7 902.8 658.0 896.6 658.3 886.8 658.6 886.3 658.9 903.2 659.2 882.7 659.5 888.4 659.8 884.0 660.1 909.2 660.4 887.5 660.7 889.9 661.0 886.8 661.3 887.0 661.6 884.5 661.9 896.7 662.2 886.6 662.5 903.2 662.8 883.4 663.1 893.5 663.4 895.2 663.7 879.5 664.0 890.7 664.3 886.2 664.6 883.5 664.9 886.7 665.2 879.7 665.5 887.1 665.8 880.9 666.1 892.1 666.4 902.0 666.7 896.4 667.0 881.2 667.3 887.1 667.6 899.7 667.9 895.1 668.2 891.1 668.5 877.2 668.8 885.5 669.1 900.8 669.4 889.7 669.7 884.6 670.0 887.3 670.3 901.7 670.6 894.2 670.9 880.0 671.2 880.6 671.5 886.0 671.8 897.8 672.1 879.1 672.4 882.9 672.7 873.9 673.0 882.4 673.3 889.0 673.6 888.9 673.9 878.0 674.2 889.8 674.5 880.8 674.8 877.9 675.1 887.7 675.4 876.7 675.7 882.1 676.0 880.0 676.3 882.2 676.6 885.5 676.9 879.5 677.2 879.7 677.5 881.2 677.8 865.1 678.1 883.1 678.4 896.4 678.7 885.7 679.0 890.5 679.3 883.8 679.6 883.2 679.9 886.2 680.2 887.5 680.5 887.2 680.8 879.2 681.1 883.6 681.4 875.9 681.7 889.4 682.0 882.4 682.3 881.6 682.6 876.6 682.9 885.7 683.2 888.8 683.5 885.8 683.8 889.3 684.1 878.7 684.4 890.8 684.7 882.6 685.0 870.1 685.3 884.0 685.6 877.2 685.9 881.5 686.2 878.8 686.5 877.6 686.8 888.4 687.1 879.1 687.4 883.3 687.7 886.0 688.0 879.9 688.3 875.5 688.6 882.2 688.9 880.6 689.2 877.0 689.5 882.3 689.8 889.3 690.1 887.3 690.4 891.0 690.7 889.8 691.0 882.5 691.3 881.3 691.6 875.6 691.9 892.4 692.2 878.0 692.5 884.4 692.8 891.2 693.1 881.6 693.4 873.2 693.7 875.3 694.0 878.7 694.3 888.6 694.6 878.7 694.9 879.6 695.2 871.1 695.5 882.2 695.8 880.7 696.1 884.7 696.4 871.7 696.7 883.3 697.0 872.4 697.3 876.0 697.6 876.5 697.9 877.3 698.2 881.5 698.5 861.0 698.8 878.6 699.1 876.8 699.4 872.0 699.7 877.1 700.0 881.2 700.3 876.1 700.6 875.9 700.9 884.5 701.2 874.4 701.5 884.5 701.8 881.5 702.1 880.6 702.4 881.5 702.7 889.8 703.0 874.2 703.3 884.8 703.6 873.2 703.9 879.9 704.2 881.2 704.5 878.5 704.8 871.8 705.1 867.2 705.4 871.6 705.7 877.1 706.0 878.2 706.3 880.4 706.6 869.4 706.9 878.9 707.2 883.1 707.5 878.0 707.8 877.0 708.1 881.8 708.4 892.3 708.7 886.1 709.0 886.4 709.3 870.6 709.6 886.0 709.9 875.6 710.2 882.4 710.5 872.3 710.8 879.7 711.1 872.7 711.4 875.2 711.7 889.8 712.0 867.9 712.3 883.8 712.6 878.4 712.9 872.4 713.2 890.8 713.5 878.5 713.8 875.4 714.1 880.4 714.4 874.3 714.7 888.9 715.0 866.6 715.3 876.1 715.6 869.1 715.9 880.4 716.2 883.8 716.5 884.6 716.8 888.6 717.1 879.3 717.4 876.9 717.7 888.2 718.0 876.3 718.3 881.6 718.6 877.2 718.9 876.0 719.2 879.6 719.5 890.7 719.8 885.4 720.1 881.0 720.4 867.9 720.7 880.4 721.0 882.6 721.3 883.7 721.6 876.8 721.9 886.7 722.2 882.7 722.5 871.5 722.8 888.1 723.1 891.1 723.4 882.6 723.7 877.0 724.0 892.5 724.3 887.3 724.6 872.3 724.9 887.8 725.2 883.9 725.5 883.3 725.8 872.9 726.1 873.3 726.4 882.8 726.7 893.8 727.0 882.9 727.3 882.5 727.6 878.7 727.9 879.9 728.2 891.9 728.5 878.1 728.8 893.8 729.1 886.6 729.4 884.1 729.7 881.6 730.0 878.5 730.3 881.0 730.6 875.1 730.9 882.8 731.2 867.4 731.5 896.2 731.8 882.1 732.1 874.8 732.4 883.9 732.7 883.1 733.0 879.6 733.3 883.9 733.6 878.4 733.9 881.9 734.2 881.6 734.5 885.4 734.8 879.8 735.1 884.3 735.4 870.0 735.7 889.1 736.0 883.9 736.3 886.1 736.6 881.7 736.9 888.2 737.2 883.0 737.5 884.7 737.8 883.8 738.1 880.6 738.4 878.8 738.7 888.0 739.0 887.2 739.3 883.4 739.6 891.1 739.9 884.6 740.2 886.7 740.5 894.0 740.8 888.1 741.1 883.1 741.4 878.6 741.7 880.2 742.0 878.9 742.3 888.9 742.6 870.4 742.9 896.8 743.2 876.9 743.5 890.8 743.8 887.1 744.1 887.7 744.4 878.2 744.7 890.8 745.0 884.3 745.3 890.4 745.6 877.0 745.9 884.8 746.2 881.4 746.5 886.9 746.8 889.1 747.1 884.0 747.4 887.8 747.7 888.2 748.0 885.0 748.3 884.0 748.6 876.1 748.9 891.7 749.2 886.9 749.5 884.3 749.8 887.4 750.1 881.2 750.4 883.0 750.7 888.6 751.0 873.7 751.3 883.1 751.6 887.3 751.9 878.3 752.2 880.6 752.5 893.5 752.8 899.7 753.1 888.9 753.4 890.2 753.7 879.2 754.0 899.2 754.3 886.3 754.6 887.4 754.9 890.2 755.2 883.7 755.5 883.0 755.8 886.6 756.1 881.3 756.4 883.6 756.7 874.7 757.0 878.3 757.3 889.2 757.6 893.0 757.9 889.9 758.2 882.1 758.5 886.8 758.8 881.5 759.1 880.8 759.4 895.2 759.7 884.2 760.0 884.4 760.3 887.6 760.6 891.4 760.9 886.7 761.2 884.7 761.5 887.8 761.8 885.5 762.1 884.2 762.4 875.5 762.7 881.4 763.0 885.1 763.3 880.6 763.6 903.7 763.9 899.8 764.2 896.0 764.5 881.1 764.8 888.5 765.1 888.1 765.4 887.7 765.7 877.8 766.0 894.4 766.3 895.8 766.6 890.3 766.9 898.6 767.2 884.0 767.5 889.4 767.8 893.1 768.1 880.7 768.4 884.8 768.7 881.5 769.0 890.4 769.3 879.6 769.6 888.4 769.9 882.4 770.2 890.3 770.5 882.4 770.8 884.1 771.1 886.5 771.4 881.1 771.7 881.6 772.0 883.6 772.3 882.2 772.6 886.2 772.9 880.7 773.2 885.0 773.5 882.1 773.8 881.0 774.1 878.6 774.4 875.1 774.7 878.2 775.0 886.9 775.3 880.9 775.6 892.4 775.9 878.6 776.2 881.4 776.5 875.7 776.8 889.7 777.1 876.6 777.4 885.5 777.7 885.3 778.0 897.4 778.3 890.6 778.6 887.4 778.9 884.0 779.2 894.1 779.5 881.2 779.8 873.3 780.1 888.2 780.4 882.7 780.7 879.9 781.0 885.5 781.3 886.6 781.6 876.5 781.9 889.6 782.2 896.2 782.5 882.5 782.8 877.5 783.1 886.4 783.4 884.1 783.7 889.8 784.0 890.8 784.3 885.2 784.6 900.1 784.9 877.2 785.2 882.9 785.5 888.2 785.8 890.3 786.1 886.7 786.4 889.9 786.7 881.2 787.0 877.2 787.3 892.7 787.6 896.0 787.9 888.5 788.2 882.9 788.5 885.4 788.8 892.5 789.1 890.6 789.4 897.2 789.7 899.5 790.0 897.2 790.3 889.1 790.6 896.5 790.9 893.5 791.2 892.8 791.5 892.1 791.8 890.9 792.1 886.4 792.4 893.7 792.7 888.0 793.0 891.9 793.3 899.4 793.6 899.4 793.9 883.9 794.2 889.4 794.5 884.3 794.8 894.8 795.1 889.7 795.4 898.9 795.7 891.5 796.0 896.6 796.3 886.3 796.6 890.7 796.9 893.2 797.2 897.2 797.5 885.5 797.8 895.7 798.1 884.0 798.4 896.9 798.7 887.4 799.0 893.8 799.3 906.8 799.6 904.7 799.9 891.6 800.2 906.7 800.5 894.8 800.8 897.4 801.1 900.2 801.4 898.2 801.7 900.5 802.0 899.0 802.3 905.5 802.6 899.5 802.9 894.6 803.2 890.4 803.5 893.7 803.8 898.5 804.1 902.9 804.4 901.4 804.7 896.2 805.0 901.5 805.3 894.3 805.6 899.9 805.9 901.8 806.2 895.9 806.5 906.9 806.8 905.7 807.1 898.0 807.4 902.9 807.7 900.7 808.0 901.3 808.3 901.3 808.6 907.0 808.9 901.4 809.2 901.9 809.5 904.9 809.8 904.8 810.1 909.8 810.4 895.9 810.7 903.6 811.0 886.2 811.3 900.3 811.6 890.0 811.9 893.8 812.2 899.0 812.5 891.6 812.8 898.7 813.1 888.4 813.4 908.0 813.7 888.6 814.0 894.7 814.3 910.0 814.6 893.8 814.9 910.1 815.2 906.5 815.5 900.0 815.8 898.6 816.1 899.0 816.4 902.0 816.7 905.9 817.0 908.0 817.3 891.0 817.6 905.4 817.9 904.0 818.2 891.0 818.5 908.4 818.8 905.8 819.1 905.8 819.4 900.0 819.7 905.1 820.0 907.6 820.3 897.5 820.6 898.3 820.9 897.9 821.2 907.5 821.5 900.9 821.8 897.3 822.1 895.9 822.4 890.9 822.7 902.2 823.0 905.6 823.3 908.1 823.6 896.1 823.9 896.3 824.2 896.4 824.5 896.8 824.8 893.9 825.1 909.7 825.4 903.5 825.7 898.5 826.0 889.8 826.3 908.7 826.6 905.2 826.9 901.7 827.2 904.9 827.5 897.7 827.8 904.6 828.1 898.4 828.4 903.5 828.7 899.6 829.0 894.9 829.3 896.0 829.6 910.3 829.9 906.7 830.2 899.4 830.5 897.7 830.8 899.0 831.1 903.3 831.4 894.8 831.7 906.6 832.0 897.3 832.3 895.9 832.6 901.2 832.9 912.4 833.2 897.9 833.5 899.5 833.8 895.8 834.1 902.8 834.4 902.9 834.7 901.5 835.0 899.6 835.3 903.5 835.6 905.9 835.9 897.6 836.2 900.3 836.5 898.4 836.8 898.8 837.1 908.2 837.4 896.8 837.7 902.6 838.0 907.3 838.3 899.1 838.6 904.7 838.9 905.6 839.2 894.8 839.5 907.0 839.8 896.8 840.1 902.4 840.4 894.6 840.7 894.2 841.0 900.5 841.3 910.9 841.6 916.3 841.9 916.3 842.2 909.5 842.5 912.1 842.8 906.2 843.1 905.7 843.4 898.9 843.7 899.9 844.0 904.4 844.3 904.7 844.6 899.1 844.9 896.5 845.2 898.7 845.5 924.8 845.8 898.8 846.1 910.5 846.4 909.2 846.7 908.4 847.0 897.2 847.3 914.2 847.6 904.0 847.9 899.4 848.2 898.9 848.5 901.7 848.8 914.8 849.1 896.2 849.4 899.0 849.7 902.4 850.0 905.0 850.3 893.7 850.6 894.2 850.9 899.4 851.2 905.8 851.5 901.3 851.8 901.0 852.1 903.2 852.4 902.7 852.7 907.3 853.0 898.4 853.3 901.7 853.6 896.5 853.9 907.9 854.2 906.4 854.5 900.7 854.8 908.5 855.1 900.9 855.4 909.7 855.7 899.9 856.0 899.6 856.3 894.8 856.6 896.8 856.9 899.8 857.2 886.0 857.5 901.6 857.8 906.3 858.1 904.5 858.4 902.6 858.7 905.2 859.0 898.7 859.3 899.1 859.6 906.1 859.9 900.8 860.2 906.9 860.5 899.0 860.8 905.1 861.1 908.3 861.4 900.4 861.7 911.1 862.0 910.2 862.3 890.5 862.6 915.4 862.9 893.7 863.2 915.4 863.5 896.8 863.8 885.5 864.1 894.7 864.4 904.8 864.7 892.8 865.0 898.2 865.3 911.5 865.6 896.1 865.9 903.6 866.2 908.1 866.5 886.9 866.8 891.5 867.1 902.4 867.4 900.8 867.7 903.0 868.0 891.6 868.3 896.6 868.6 902.9 868.9 905.6 869.2 907.9 869.5 898.8 869.8 897.1 870.1 895.9 870.4 893.0 870.7 891.3 871.0 910.3 871.3 896.6 871.6 897.0 871.9 897.3 872.2 903.4 872.5 900.9 872.8 893.8 873.1 905.8 873.4 901.7 873.7 899.2 874.0 900.2 874.3 910.3 874.6 905.8 874.9 898.9 875.2 908.8 875.5 884.0 875.8 903.9 876.1 895.8 876.4 896.8 876.7 898.7 877.0 910.7 877.3 898.1 877.6 898.3 877.9 904.6 878.2 890.7 878.5 898.6 878.8 903.5 879.1 894.9 879.4 902.8 879.7 893.3 880.0 892.6 880.3 904.5 880.6 900.1 880.9 905.8 881.2 900.5 881.5 894.4 881.8 908.2 882.1 901.9 882.4 902.8 882.7 896.2 883.0 890.8 883.3 912.4 883.6 903.9 883.9 900.6 884.2 896.7 884.5 907.2 884.8 892.7 885.1 895.8 885.4 919.5 885.7 902.8 886.0 904.6 886.3 905.6 886.6 911.9 886.9 901.7 887.2 902.2 887.5 895.2 887.8 899.7 888.1 892.2 888.4 897.5 888.7 899.3 889.0 903.2 889.3 906.9 889.6 895.9 889.9 894.0 890.2 900.6 890.5 894.9 890.8 908.9 891.1 906.2 891.4 894.3 891.7 900.3 892.0 906.2 892.3 891.7 892.6 896.5 892.9 898.6 893.2 906.6 893.5 902.8 893.8 897.6 894.1 901.4 894.4 899.0 894.7 899.7 895.0 902.6 895.3 899.9 895.6 902.1 895.9 898.6 896.2 897.0 896.5 896.8 896.8 890.8 897.1 895.7 897.4 908.3 897.7 897.7 898.0 900.6 898.3 902.4 898.6 895.2 898.9 895.8 899.2 900.2 899.5 892.8 899.8 902.1 900.1 902.6 900.4 898.3 900.7 898.2 901.0 900.8 901.3 897.3 901.6 885.8 901.9 899.3 902.2 891.9 902.5 892.1 902.8 892.6 903.1 894.1 903.4 888.4 903.7 887.4 904.0 895.6 904.3 896.1 904.6 898.1 904.9 889.7 905.2 893.0 905.5 899.9 905.8 893.7 906.1 890.6 906.4 907.1 906.7 887.6 907.0 891.3 907.3 886.5 907.6 892.5 907.9 908.7 908.2 889.8 908.5 893.4 908.8 892.0 909.1 888.3 909.4 899.0 909.7 892.1 910.0 900.3 910.3 906.9 910.6 891.8 910.9 902.0 911.2 888.3 911.5 895.7 911.8 899.6 912.1 888.9 912.4 893.5 912.7 896.3 913.0 896.8 913.3 895.4 913.6 912.1 913.9 892.7 914.2 900.2 914.5 905.9 914.8 890.4 915.1 891.4 915.4 888.5 915.7 897.5 916.0 901.7 916.3 885.6 916.6 889.3 916.9 890.9 917.2 907.3 917.5 891.3 917.8 896.5 918.1 885.3 918.4 899.5 918.7 889.8 919.0 894.7 919.3 890.1 919.6 894.6 919.9 894.7 920.2 896.8 920.5 896.9 920.8 906.4 921.1 892.4 921.4 903.7 921.7 898.1 922.0 895.6 922.3 898.3 922.6 898.2 922.9 904.5 923.2 901.6 923.5 900.6 923.8 899.7 924.1 890.1 924.4 905.3 924.7 907.9 925.0 901.3 925.3 899.8 925.6 894.2 925.9 899.9 926.2 903.3 926.5 892.5 926.8 896.5 927.1 896.3 927.4 906.0 927.7 897.0 928.0 886.0 928.3 900.3 928.6 907.0 928.9 898.9 929.2 897.7 929.5 901.9 929.8 909.8 930.1 898.2 930.4 899.1 930.7 902.8 931.0 894.6 931.3 893.0 931.6 901.8 931.9 898.3 932.2 904.4 932.5 902.2 932.8 904.4 933.1 893.4 933.4 903.6 933.7 897.6 934.0 905.1 934.3 900.2 934.6 912.0 934.9 898.3 935.2 892.6 935.5 903.5 935.8 900.7 936.1 898.7 936.4 904.4 936.7 912.6 937.0 902.7 937.3 900.2 937.6 911.7 937.9 913.7 938.2 904.1 938.5 901.5 938.8 908.1 939.1 901.0 939.4 901.5 939.7 900.7 940.0 907.6 940.3 913.3 940.6 905.4 940.9 915.2 941.2 896.5 941.5 905.3 941.8 897.8 942.1 910.5 942.4 916.8 942.7 897.8 943.0 902.3 943.3 906.3 943.6 894.9 943.9 902.0 944.2 901.4 944.5 906.6 944.8 902.6 945.1 900.9 945.4 902.4 945.7 905.6 946.0 906.5 946.3 905.2 946.6 912.6 946.9 902.7 947.2 906.4 947.5 909.2 947.8 904.5 948.1 913.4 948.4 912.1 948.7 910.4 949.0 902.1 949.3 905.6 949.6 909.2 949.9 911.9 950.2 903.4 950.5 903.9 950.8 900.3 951.1 899.6 951.4 915.3 951.7 906.4 952.0 909.3 952.3 912.3 952.6 906.4 952.9 907.2 953.2 901.8 953.5 903.8 953.8 909.9 954.1 914.2 954.4 915.1 954.7 903.4 955.0 903.1 955.3 912.3 955.6 910.5 955.9 909.6 956.2 908.2 956.5 913.7 956.8 908.3 957.1 914.8 957.4 909.8 957.7 907.1 958.0 901.8 958.3 909.5 958.6 911.8 958.9 908.0 959.2 902.5 959.5 898.8 959.8 905.7 960.1 916.8 960.4 901.9 960.7 903.4 961.0 908.0 961.3 912.2 961.6 902.5 961.9 907.4 962.2 909.4 962.5 901.7 962.8 909.2 963.1 902.4 963.4 908.0 963.7 910.4 964.0 907.8 964.3 897.9 964.6 910.8 964.9 913.1 965.2 908.0 965.5 913.9 965.8 905.0 966.1 903.3 966.4 906.4 966.7 909.7 967.0 911.9 967.3 904.0 967.6 908.3 967.9 908.1 968.2 904.9 968.5 898.4 968.8 899.6 969.1 912.1 969.4 900.4 969.7 899.3 970.0 900.6 970.3 905.5 970.6 914.0 970.9 909.9 971.2 904.9 971.5 904.5 971.8 909.4 972.1 907.4 972.4 894.5 972.7 913.6 973.0 912.0 973.3 902.3 973.6 906.1 973.9 910.6 974.2 908.7 974.5 905.7 974.8 907.7 975.1 917.2 975.4 905.9 975.7 915.4 976.0 908.7 976.3 902.1 976.6 912.6 976.9 909.3 977.2 917.3 977.5 921.3 977.8 913.1 978.1 909.2 978.4 910.4 978.7 912.0 979.0 903.9 979.3 903.0 979.6 911.7 979.9 902.5 980.2 906.3 980.5 917.4 980.8 912.4 981.1 914.3 981.4 907.5 981.7 913.8 982.0 903.7 982.3 903.9 982.6 906.8 982.9 904.3 983.2 918.5 983.5 906.2 983.8 898.9 984.1 914.9 984.4 913.4 984.7 913.9 985.0 902.2 985.3 903.6 985.6 897.9 985.9 909.5 986.2 907.2 986.5 904.8 986.8 914.7 987.1 904.0 987.4 905.1 987.7 903.4 988.0 902.8 988.3 907.2 988.6 906.5 988.9 905.7 989.2 902.3 989.5 901.3 989.8 902.4 990.1 907.0 990.4 903.3 990.7 905.3 991.0 905.6 991.3 900.0 991.6 900.6 991.9 906.6 992.2 915.8 992.5 909.8 992.8 906.8 993.1 904.1 993.4 904.4 993.7 913.0 994.0 902.3 994.3 917.3 994.6 907.9 994.9 909.3 995.2 906.1 995.5 912.8 995.8 912.8 996.1 902.2 996.4 918.0 996.7 908.9 997.0 901.2 997.3 910.5 997.6 909.7 997.9 909.0 998.2 912.6 998.5 913.8 998.8 902.6 999.1 907.1 999.4 907.4 999.7 908.3 1000.0 900.1 1000.3 909.4 1000.6 908.5 1000.9 918.7 1001.2 904.1 1001.5 904.3 1001.8 910.4 1002.1 908.1 1002.4 912.7 1002.7 914.6 1003.0 904.0 1003.3 908.7 1003.6 911.5 1003.9 904.6 1004.2 920.7 1004.5 909.7 1004.8 909.0 1005.1 897.1 1005.4 902.9 1005.7 899.4 1006.0 911.6 1006.3 904.4 1006.6 908.5 1006.9 910.0 1007.2 909.1 1007.5 906.1 1007.8 911.9 1008.1 902.9 1008.4 899.8 1008.7 897.2 1009.0 911.9 1009.3 919.9 1009.6 904.8 1009.9 905.4 1010.2 910.0 1010.5 901.9 1010.8 905.5 1011.1 901.4 1011.4 908.1 1011.7 895.9 1012.0 901.0 1012.3 895.1 1012.6 907.4 1012.9 910.2 1013.2 907.6 1013.5 919.1 1013.8 908.0 1014.1 903.3 1014.4 905.6 1014.7 912.8 1015.0 910.1 1015.3 919.8 1015.6 908.8 1015.9 903.5 1016.2 902.8 1016.5 914.1 1016.8 896.4 1017.1 909.8 1017.4 912.2 1017.7 905.7 1018.0 909.1 1018.3 918.6 1018.6 915.9 1018.9 919.4 1019.2 913.1 1019.5 907.2 1019.8 898.9 1020.1 898.9 1020.4 917.7 1020.7 913.5 1021.0 898.3 1021.3 913.8 1021.6 906.0 1021.9 905.6 1022.2 902.5 1022.5 919.6 1022.8 897.7 1023.1 902.8 1023.4 911.7 1023.7 912.4 1024.0 910.8 1024.3 903.3 1024.6 907.1 1024.9 904.1 1025.2 905.8 1025.5 918.1 1025.8 909.6 1026.1 912.3 1026.4 904.0 1026.7 905.6 1027.0 910.5 1027.3 914.7 1027.6 907.5 1027.9 916.4 1028.2 929.7 1028.5 895.3 1028.8 908.4 1029.1 913.6 1029.4 907.3 1029.7 917.5 1030.0 909.1 1030.3 910.1 1030.6 901.2 1030.9 913.6 1031.2 906.8 1031.5 910.6 1031.8 907.1 1032.1 905.0 1032.4 907.5 1032.7 902.5 1033.0 907.1 1033.3 917.4 1033.6 913.3 1033.9 903.8 1034.2 912.7 1034.5 906.5 1034.8 905.3 1035.1 911.4 1035.4 912.1 1035.7 905.4 1036.0 913.3 1036.3 908.0 1036.6 920.5 1036.9 901.7 1037.2 907.3 1037.5 907.0 1037.8 904.4 1038.1 898.2 1038.4 915.0 1038.7 909.9 1039.0 902.1 1039.3 905.7 1039.6 906.5 1039.9 910.0 1040.2 900.6 1040.5 916.3 1040.8 908.3 1041.1 915.9 1041.4 910.9 1041.7 906.7 1042.0 906.3 1042.3 909.9 1042.6 908.6 1042.9 909.0 1043.2 913.8 1043.5 914.1 1043.8 902.6 1044.1 899.9 1044.4 900.1 1044.7 913.6 1045.0 906.1 1045.3 903.9 1045.6 908.6 1045.9 910.5 1046.2 901.4 1046.5 898.9 1046.8 906.2 1047.1 905.7 1047.4 902.6 1047.7 918.9 1048.0 912.6 1048.3 905.1 1048.6 911.1 1048.9 900.1 1049.2 910.5 1049.5 904.5 1049.8 902.0 1050.1 899.0 1050.4 909.5 1050.7 905.4 1051.0 902.2 1051.3 910.2 1051.6 903.5 1051.9 906.6 1052.2 902.3 1052.5 906.6 1052.8 899.0 1053.1 902.3 1053.4 904.3 1053.7 900.2 1054.0 901.3 1054.3 907.6 1054.6 901.4 1054.9 909.2 1055.2 905.7 1055.5 903.6 1055.8 892.3 1056.1 911.4 1056.4 911.1 1056.7 904.6 1057.0 903.7 1057.3 903.3 1057.6 900.8 1057.9 901.5 1058.2 905.8 1058.5 895.7 1058.8 902.2 1059.1 904.4 1059.4 894.4 1059.7 898.9 1060.0 895.0 1060.3 895.3 1060.6 904.5 1060.9 892.7 1061.2 914.9 1061.5 900.4 1061.8 897.4 1062.1 899.7 1062.4 900.5 1062.7 902.9 1063.0 902.4 1063.3 902.8 1063.6 906.3 1063.9 906.8 1064.2 900.8 1064.5 902.2 1064.8 896.7 1065.1 897.3 1065.4 898.2 1065.7 911.2 1066.0 896.5 1066.3 900.8 1066.6 900.3 1066.9 905.9 1067.2 896.7 1067.5 897.5 1067.8 905.0 1068.1 900.5 1068.4 896.6 1068.7 905.3 1069.0 899.6 1069.3 896.5 1069.6 906.3 1069.9 908.4 1070.2 895.4 1070.5 893.9 1070.8 882.3 1071.1 908.4 1071.4 895.7 1071.7 896.7 1072.0 893.4 1072.3 897.1 1072.6 893.0 1072.9 906.0 1073.2 903.3 1073.5 893.3 1073.8 891.9 1074.1 900.4 1074.4 890.9 1074.7 904.1 1075.0 898.7 1075.3 897.0 1075.6 891.7 1075.9 899.1 1076.2 887.5 1076.5 903.4 1076.8 883.4 1077.1 895.6 1077.4 910.5 1077.7 895.1 1078.0 901.4 1078.3 903.3 1078.6 899.6 1078.9 896.9 1079.2 903.5 1079.5 903.8 1079.8 894.0 1080.1 907.1 1080.4 905.6 1080.7 894.1 1081.0 901.6 1081.3 901.9 1081.6 900.0 1081.9 896.4 1082.2 893.9 1082.5 902.1 1082.8 892.5 1083.1 897.1 1083.4 891.4 1083.7 896.7 1084.0 901.5 1084.3 893.8 1084.6 906.9 1084.9 905.4 1085.2 902.8 1085.5 904.1 1085.8 908.8 1086.1 904.9 1086.4 889.1 1086.7 900.5 1087.0 897.4 1087.3 901.6 1087.6 894.1 1087.9 902.0 1088.2 899.9 1088.5 904.7 1088.8 897.6 1089.1 900.9 1089.4 893.1 1089.7 901.6 1090.0 902.3 1090.3 896.5 1090.6 902.7 1090.9 896.6 1091.2 906.7 1091.5 896.8 1091.8 901.1 1092.1 912.1 1092.4 907.9 1092.7 911.6 1093.0 909.0 1093.3 903.3 1093.6 917.3 1093.9 905.4 1094.2 904.1 1094.5 902.2 1094.8 895.7 1095.1 907.3 1095.4 903.6 1095.7 907.1 1096.0 904.1 1096.3 908.2 1096.6 902.4 1096.9 906.6 1097.2 910.8 1097.5 912.5 1097.8 906.0 1098.1 901.6 1098.4 914.1 1098.7 912.8 1099.0 901.8 1099.3 913.6 1099.6 909.5 1099.9 902.6 1100.2 907.8 1100.5 898.5 1100.8 905.5 1101.1 905.5 1101.4 907.2 1101.7 917.4 1102.0 901.1 1102.3 895.4 1102.6 911.6 1102.9 906.2 1103.2 913.1 1103.5 912.7 1103.8 923.3 1104.1 899.9 1104.4 917.1 1104.7 908.6 1105.0 906.6 1105.3 917.5 1105.6 915.8 1105.9 903.0 1106.2 906.4 1106.5 917.3 1106.8 903.3 1107.1 911.7 1107.4 914.6 1107.7 909.2 1108.0 907.7 1108.3 917.5 1108.6 909.4 1108.9 905.9 1109.2 913.9 1109.5 903.9 1109.8 908.6 1110.1 913.2 1110.4 904.6 1110.7 919.1 1111.0 913.0 1111.3 911.0 1111.6 906.6 1111.9 912.4 1112.2 909.9 1112.5 913.5 1112.8 908.9 1113.1 913.1 1113.4 901.2 1113.7 904.7 1114.0 908.0 1114.3 902.8 1114.6 910.2 1114.9 911.7 1115.2 899.5 1115.5 910.4 1115.8 906.3 1116.1 908.0 1116.4 917.9 1116.7 908.3 1117.0 911.1 1117.3 908.5 1117.6 907.3 1117.9 910.8 1118.2 911.5 1118.5 910.3 1118.8 919.9 1119.1 910.3 1119.4 911.1 1119.7 920.9 1120.0 912.8 1120.3 916.0 1120.6 915.3 1120.9 908.9 1121.2 918.8 1121.5 913.3 1121.8 912.8 1122.1 912.6 1122.4 914.1 1122.7 916.4 1123.0 903.1 1123.3 919.4 1123.6 903.5 1123.9 906.7 1124.2 915.4 1124.5 910.9 1124.8 915.7 1125.1 906.9 1125.4 912.5 1125.7 915.2 1126.0 908.5 1126.3 909.0 1126.6 913.1 1126.9 916.4 1127.2 902.2 1127.5 910.8 1127.8 914.0 1128.1 920.3 1128.4 904.3 1128.7 913.2 1129.0 907.7 1129.3 908.3 1129.6 907.9 1129.9 926.8 1130.2 915.6 1130.5 917.8 1130.8 912.4 1131.1 922.1 1131.4 913.2 1131.7 919.1 1132.0 906.6 1132.3 909.1 1132.6 916.7 1132.9 932.6 1133.2 923.8 1133.5 906.0 1133.8 912.5 1134.1 911.5 1134.4 926.0 1134.7 910.1 1135.0 914.6 1135.3 919.9 1135.6 917.1 1135.9 904.5 1136.2 931.4 1136.5 904.6 1136.8 914.9 1137.1 911.6 1137.4 907.2 1137.7 911.8 1138.0 911.7 1138.3 908.3 1138.6 909.5 1138.9 911.9 1139.2 914.5 1139.5 904.4 1139.8 911.1 1140.1 914.0 1140.4 919.0 1140.7 919.7 1141.0 906.1 1141.3 911.0 1141.6 915.8 1141.9 917.8 1142.2 923.3 1142.5 912.5 1142.8 908.4 1143.1 914.3 1143.4 915.4 1143.7 909.2 1144.0 907.3 1144.3 917.4 1144.6 908.4 1144.9 911.6 1145.2 915.8 1145.5 915.5 1145.8 914.7 1146.1 910.0 1146.4 901.9 1146.7 910.3 1147.0 919.5 1147.3 921.7 1147.6 922.8 1147.9 917.2 1148.2 922.1 1148.5 914.4 1148.8 916.9 1149.1 926.4 1149.4 911.5 1149.7 912.2 1150.0 921.1 1150.3 919.4 1150.6 907.6 1150.9 922.0 1151.2 909.3 1151.5 909.7 1151.8 920.5 1152.1 919.1 1152.4 917.9 1152.7 922.9 1153.0 923.5 1153.3 904.6 1153.6 916.7 1153.9 919.0 1154.2 915.4 1154.5 914.1 1154.8 916.7 1155.1 916.6 1155.4 915.0 1155.7 914.9 1156.0 910.5 1156.3 916.1 1156.6 910.1 1156.9 919.8 1157.2 913.1 1157.5 913.7 1157.8 909.7 1158.1 914.3 1158.4 918.4 1158.7 910.3 1159.0 921.6 1159.3 916.0 1159.6 913.7 1159.9 919.3 1160.2 917.2 1160.5 907.2 1160.8 920.7 1161.1 920.3 1161.4 915.3 1161.7 895.8 1162.0 903.4 1162.3 902.6 1162.6 919.6 1162.9 920.4 1163.2 916.0 1163.5 915.2 1163.8 906.0 1164.1 915.2 1164.4 911.1 1164.7 914.5 1165.0 910.7 1165.3 921.4 1165.6 913.9 1165.9 917.2 1166.2 915.2 1166.5 909.7 1166.8 908.8 1167.1 909.7 1167.4 911.3 1167.7 915.8 1168.0 926.3 1168.3 917.4 1168.6 915.0 1168.9 920.1 1169.2 907.1 1169.5 916.9 1169.8 917.0 1170.1 906.2 1170.4 917.0 1170.7 912.8 1171.0 914.4 1171.3 914.2 1171.6 916.2 1171.9 911.9 1172.2 919.9 1172.5 923.3 1172.8 911.0 1173.1 917.1 1173.4 914.4 1173.7 922.3 1174.0 911.9 1174.3 916.2 1174.6 914.6 1174.9 909.2 1175.2 921.1 1175.5 916.9 1175.8 910.0 1176.1 922.1 1176.4 920.6 1176.7 908.7 1177.0 914.4 1177.3 914.1 1177.6 914.5 1177.9 915.0 1178.2 913.5 1178.5 903.0 1178.8 915.4 1179.1 905.7 1179.4 912.7 1179.7 918.0 1180.0 931.3 1180.3 922.8 1180.6 912.4 1180.9 914.7 1181.2 922.9 1181.5 918.6 1181.8 920.4 1182.1 909.7 1182.4 918.8 1182.7 919.3 1183.0 927.8 1183.3 931.6 1183.6 913.0 1183.9 923.7 1184.2 914.2 1184.5 916.6 1184.8 924.0 1185.1 917.3 1185.4 919.1 1185.7 925.4 1186.0 928.5 1186.3 920.0 1186.6 909.1 1186.9 917.3 1187.2 913.5 1187.5 914.4 1187.8 919.0 1188.1 914.7 1188.4 915.9 1188.7 915.3 1189.0 915.0 1189.3 907.6 1189.6 914.4 1189.9 914.7 1190.2 923.6 1190.5 919.6 1190.8 917.3 1191.1 912.8 1191.4 919.0 1191.7 909.0 1192.0 918.7 1192.3 912.1 1192.6 912.3 1192.9 921.3 1193.2 915.4 1193.5 914.7 1193.8 906.5 1194.1 922.2 1194.4 905.0 1194.7 918.9 1195.0 916.9 1195.3 917.7 1195.6 912.7 1195.9 910.9 1196.2 930.4 1196.5 918.0 1196.8 920.5 1197.1 908.7 1197.4 921.0 1197.7 923.8 1198.0 920.2 1198.3 908.7 1198.6 910.8 1198.9 905.5 1199.2 917.4 1199.5 921.2 1199.8 917.6 1200.1 913.9 1200.4 911.9 1200.7 920.4 1201.0 908.5 1201.3 926.6 1201.6 920.4 1201.9 924.0 1202.2 917.5 1202.5 915.6 1202.8 919.4 1203.1 910.7 1203.4 915.9 1203.7 916.4 1204.0 912.7 1204.3 919.5 1204.6 912.1 1204.9 909.0 1205.2 914.3 1205.5 916.4 1205.8 915.6 1206.1 917.0 1206.4 917.8 1206.7 918.5 1207.0 917.4 1207.3 917.1 1207.6 905.8 1207.9 919.8 1208.2 922.7 1208.5 915.7 1208.8 914.0 1209.1 924.7 1209.4 913.0 1209.7 919.0 1210.0 920.6 1210.3 924.1 1210.6 931.2 1210.9 916.9 1211.2 906.5 1211.5 919.4 1211.8 915.3 1212.1 922.2 1212.4 920.9 1212.7 923.8 1213.0 919.0 1213.3 923.8 1213.6 916.9 1213.9 925.4 1214.2 914.3 1214.5 915.1 1214.8 918.8 1215.1 924.4 1215.4 915.0 1215.7 919.4 1216.0 922.7 1216.3 923.1 1216.6 914.4 1216.9 929.7 1217.2 917.9 1217.5 921.8 1217.8 927.8 1218.1 916.4 1218.4 911.7 1218.7 926.3 1219.0 909.7 1219.3 920.8 1219.6 913.6 1219.9 930.7 1220.2 923.1 1220.5 929.9 1220.8 923.1 1221.1 918.0 1221.4 925.2 1221.7 916.0 1222.0 918.0 1222.3 928.1 1222.6 926.8 1222.9 916.5 1223.2 920.1 1223.5 919.2 1223.8 911.7 1224.1 927.0 1224.4 915.4 1224.7 920.6 1225.0 921.0 1225.3 921.6 1225.6 901.8 1225.9 922.1 1226.2 916.5 1226.5 928.3 1226.8 914.9 1227.1 926.6 1227.4 924.4 1227.7 917.9 1228.0 922.8 1228.3 925.1 1228.6 916.0 1228.9 914.2 1229.2 920.2 1229.5 927.1 1229.8 923.9 1230.1 922.6 1230.4 919.4 1230.7 920.0 1231.0 926.9 1231.3 925.1 1231.6 931.5 1231.9 925.9 1232.2 923.4 1232.5 921.0 1232.8 922.7 1233.1 930.9 1233.4 920.6 1233.7 921.4 1234.0 924.3 1234.3 925.4 1234.6 930.1 1234.9 922.3 1235.2 935.0 1235.5 923.4 1235.8 924.2 1236.1 924.5 1236.4 930.4 1236.7 927.8 1237.0 924.1 1237.3 918.3 1237.6 917.1 1237.9 924.4 1238.2 924.4 1238.5 922.2 1238.8 924.0 1239.1 919.6 1239.4 924.1 1239.7 929.7 1240.0 925.1 1240.3 923.2 1240.6 923.7 1240.9 927.8 1241.2 919.8 1241.5 920.7 1241.8 919.2 1242.1 915.1 1242.4 933.5 1242.7 926.2 1243.0 919.0 1243.3 932.4 1243.6 919.2 1243.9 924.7 1244.2 919.1 1244.5 934.0 1244.8 926.6 1245.1 926.0 1245.4 927.8 1245.7 934.8 1246.0 913.1 1246.3 920.7 1246.6 923.2 1246.9 925.5 1247.2 922.3 1247.5 922.7 1247.8 927.3 1248.1 927.6 1248.4 920.3 1248.7 929.4 1249.0 923.2 1249.3 924.2 1249.6 934.6 1249.9 931.1 1250.2 914.7 1250.5 926.9 1250.8 928.1 1251.1 924.8 1251.4 920.1 1251.7 936.0 1252.0 920.6 1252.3 922.8 1252.6 917.5 1252.9 921.7 1253.2 912.3 1253.5 932.5 1253.8 919.6 1254.1 922.7 1254.4 920.7 1254.7 935.6 1255.0 941.2 1255.3 926.6 1255.6 923.4 1255.9 923.7 1256.2 918.0 1256.5 917.9 1256.8 918.1 1257.1 922.7 1257.4 919.1 1257.7 920.9 1258.0 922.3 1258.3 925.3 1258.6 923.0 1258.9 919.2 1259.2 921.7 1259.5 916.1 1259.8 931.3 1260.1 925.5 1260.4 924.1 1260.7 909.9 1261.0 920.2 1261.3 922.4 1261.6 919.9 1261.9 927.0 1262.2 911.2 1262.5 924.4 1262.8 930.8 1263.1 917.9 1263.4 917.4 1263.7 916.5 1264.0 924.2 1264.3 920.6 1264.6 921.4 1264.9 918.3 1265.2 925.1 1265.5 921.6 1265.8 920.6 1266.1 919.6 1266.4 924.0 1266.7 918.1 1267.0 918.3 1267.3 919.0 1267.6 917.3 1267.9 916.2 1268.2 930.5 1268.5 929.3 1268.8 914.3 1269.1 918.0 1269.4 917.0 1269.7 929.2 1270.0 919.0 1270.3 923.3 1270.6 917.5 1270.9 919.9 1271.2 925.4 1271.5 932.6 1271.8 922.3 1272.1 928.5 1272.4 929.6 1272.7 928.1 1273.0 927.9 1273.3 916.2 1273.6 926.7 1273.9 922.3 1274.2 913.2 1274.5 924.3 1274.8 921.7 1275.1 917.8 1275.4 926.7 1275.7 917.7 1276.0 918.2 1276.3 918.9 1276.6 932.7 1276.9 918.5 1277.2 930.6 1277.5 923.9 1277.8 928.1 1278.1 922.2 1278.4 922.2 1278.7 922.4 1279.0 925.6 1279.3 923.3 1279.6 925.7 1279.9 916.7 1280.2 926.9 1280.5 929.2 1280.8 927.3 1281.1 924.5 1281.4 925.2 1281.7 918.9 1282.0 916.8 1282.3 920.7 1282.6 921.8 1282.9 919.8 1283.2 924.8 1283.5 918.5 1283.8 921.0 1284.1 916.9 1284.4 912.9 1284.7 928.5 1285.0 922.4 1285.3 920.4 1285.6 914.1 1285.9 923.0 1286.2 930.7 1286.5 917.6 1286.8 919.1 1287.1 922.6 1287.4 916.3 1287.7 912.2 1288.0 923.7 1288.3 919.3 1288.6 925.4 1288.9 924.5 1289.2 920.5 1289.5 913.8 1289.8 930.1 1290.1 922.3 1290.4 920.7 1290.7 920.3 1291.0 919.9 1291.3 922.0 1291.6 914.5 1291.9 920.7 1292.2 914.9 1292.5 915.6 1292.8 919.0 1293.1 916.9 1293.4 919.6 1293.7 918.6 1294.0 915.9 1294.3 921.8 1294.6 922.0 1294.9 916.1 1295.2 915.0 1295.5 925.5 1295.8 912.1 1296.1 920.7 1296.4 914.8 1296.7 921.7 1297.0 916.4 1297.3 927.0 1297.6 919.9 1297.9 916.2 1298.2 914.3 1298.5 920.4 1298.8 917.1 1299.1 910.2 1299.4 911.8 1299.7 905.2 1300.0 925.1 1300.3 923.8 1300.6 916.2 1300.9 922.3 1301.2 915.7 1301.5 915.6 1301.8 915.8 1302.1 919.4 1302.4 913.7 1302.7 918.0 1303.0 916.0 1303.3 903.6 1303.6 906.2 1303.9 919.6 1304.2 914.8 1304.5 913.4 1304.8 915.1 1305.1 913.9 1305.4 915.1 1305.7 921.8 1306.0 913.0 1306.3 916.6 1306.6 919.9 1306.9 916.0 1307.2 906.4 1307.5 921.0 1307.8 906.8 1308.1 912.4 1308.4 917.4 1308.7 924.1 1309.0 917.7 1309.3 914.9 1309.6 912.7 1309.9 911.7 1310.2 909.8 1310.5 918.0 1310.8 913.5 1311.1 914.4 1311.4 908.1 1311.7 915.0 1312.0 907.0 1312.3 916.1 1312.6 923.1 1312.9 909.7 1313.2 908.7 1313.5 920.1 1313.8 911.4 1314.1 919.8 1314.4 908.4 1314.7 915.5 1315.0 918.7 1315.3 915.8 1315.6 910.1 1315.9 903.9 1316.2 913.8 1316.5 908.7 1316.8 914.7 1317.1 927.5 1317.4 908.0 1317.7 911.8 1318.0 917.7 1318.3 924.7 1318.6 915.0 1318.9 923.5 1319.2 911.0 1319.5 915.2 1319.8 914.8 1320.1 919.9 1320.4 914.7 1320.7 914.5 1321.0 920.2 1321.3 915.4 1321.6 914.6 1321.9 916.8 1322.2 914.7 1322.5 922.8 1322.8 918.3 1323.1 911.7 1323.4 915.5 1323.7 908.6 1324.0 911.6 1324.3 915.6 1324.6 922.1 1324.9 918.5 1325.2 920.9 1325.5 912.9 1325.8 922.4 1326.1 918.7 1326.4 913.8 1326.7 914.1 1327.0 915.3 1327.3 906.6 1327.6 910.0 1327.9 913.0 1328.2 917.4 1328.5 915.4 1328.8 929.6 1329.1 924.2 1329.4 913.8 1329.7 925.4 1330.0 914.8 1330.3 914.9 1330.6 919.3 1330.9 928.6 1331.2 916.3 1331.5 926.8 1331.8 916.2 1332.1 922.7 1332.4 923.4 1332.7 920.7 1333.0 920.9 1333.3 916.5 1333.6 910.9 1333.9 918.1 1334.2 917.9 1334.5 926.8 1334.8 918.3 1335.1 920.4 1335.4 922.2 1335.7 914.9 1336.0 918.9 1336.3 923.1 1336.6 917.4 1336.9 913.2 1337.2 918.3 1337.5 923.2 1337.8 917.7 1338.1 916.0 1338.4 922.1 1338.7 908.2 1339.0 918.5 1339.3 918.1 1339.6 914.6 1339.9 917.9 1340.2 923.2 1340.5 922.8 1340.8 919.3 1341.1 927.1 1341.4 921.4 1341.7 913.4 1342.0 923.2 1342.3 918.4 1342.6 919.1 1342.9 920.0 1343.2 925.9 1343.5 916.8 1343.8 921.6 1344.1 918.7 1344.4 916.7 1344.7 908.7 1345.0 922.4 1345.3 916.9 1345.6 916.5 1345.9 918.8 1346.2 916.7 1346.5 912.6 1346.8 931.8 1347.1 922.5 1347.4 922.9 1347.7 920.6 1348.0 919.2 1348.3 920.6 1348.6 921.3 1348.9 921.8 1349.2 927.8 1349.5 915.4 1349.8 910.7 1350.1 917.8 1350.4 922.7 1350.7 920.7 1351.0 912.3 1351.3 922.6 1351.6 931.2 1351.9 918.8 1352.2 923.3 1352.5 921.0 1352.8 917.3 1353.1 926.0 1353.4 920.1 1353.7 914.6 1354.0 924.8 1354.3 912.1 1354.6 930.1 1354.9 911.5 1355.2 917.0 1355.5 912.6 1355.8 922.5 1356.1 926.4 1356.4 914.6 1356.7 922.8 1357.0 915.1 1357.3 908.5 1357.6 920.9 1357.9 925.7 1358.2 920.6 1358.5 920.7 1358.8 924.9 1359.1 922.2 1359.4 924.9 1359.7 927.5 1360.0 923.2 1360.3 923.4 1360.6 924.3 1360.9 920.2 1361.2 919.2 1361.5 918.5 1361.8 925.2 1362.1 917.8 1362.4 926.7 1362.7 927.8 1363.0 921.7 1363.3 921.8 1363.6 933.6 1363.9 923.2 1364.2 931.9 1364.5 917.3 1364.8 912.6 1365.1 923.2 1365.4 923.1 1365.7 920.7 1366.0 916.1 1366.3 922.4 1366.6 919.5 1366.9 924.8 1367.2 923.3 1367.5 918.9 1367.8 920.4 1368.1 926.0 1368.4 921.2 1368.7 918.8 1369.0 920.3 1369.3 930.6 1369.6 939.5 1369.9 925.9 1370.2 925.5 1370.5 924.2 1370.8 923.4 1371.1 909.1 1371.4 933.1 1371.7 920.9 1372.0 923.7 1372.3 924.5 1372.6 916.1 1372.9 915.9 1373.2 926.1 1373.5 923.2 1373.8 924.7 1374.1 929.7 1374.4 917.4 1374.7 918.7 1375.0 923.4 1375.3 926.9 1375.6 931.2 1375.9 918.3 1376.2 920.5 1376.5 919.5 1376.8 918.0 1377.1 924.5 1377.4 916.5 1377.7 924.5 1378.0 918.2 1378.3 931.0 1378.6 919.4 1378.9 926.0 1379.2 926.9 1379.5 919.8 1379.8 924.0 1380.1 923.5 1380.4 916.8 1380.7 920.8 1381.0 939.0 1381.3 923.7 1381.6 924.6 1381.9 914.7 1382.2 914.1 1382.5 925.2 1382.8 920.0 1383.1 912.6 1383.4 915.7 1383.7 918.5 1384.0 914.0 1384.3 925.0 1384.6 908.3 1384.9 931.2 1385.2 914.0 1385.5 917.9 1385.8 924.4 1386.1 922.4 1386.4 928.4 1386.7 918.3 1387.0 913.5 1387.3 925.7 1387.6 916.0 1387.9 922.7 1388.2 927.9 1388.5 929.8 1388.8 913.3 1389.1 923.5 1389.4 915.5 1389.7 916.2 1390.0 917.0 1390.3 928.8 1390.6 922.6 1390.9 917.6 1391.2 925.7 1391.5 914.9 1391.8 927.9 1392.1 919.0 1392.4 923.8 1392.7 927.4 1393.0 917.1 1393.3 925.1 1393.6 925.3 1393.9 923.4 1394.2 917.2 1394.5 922.8 1394.8 919.0 1395.1 923.9 1395.4 914.1 1395.7 921.2 1396.0 918.3 1396.3 916.6 1396.6 927.7 1396.9 917.2 1397.2 919.4 1397.5 924.1 1397.8 917.6 1398.1 926.8 1398.4 917.6 1398.7 917.3 1399.0 919.3 1399.3 919.8 1399.6 929.4 1399.9 926.0 1400.2 920.1 1400.5 925.6 1400.8 917.7 1401.1 923.5 1401.4 920.6 1401.7 918.9 1402.0 927.9 1402.3 924.5 1402.6 922.6 1402.9 915.1 1403.2 920.4 1403.5 922.7 1403.8 912.9 1404.1 925.3 1404.4 920.5 1404.7 921.4 1405.0 916.8 1405.3 913.6 1405.6 919.4 1405.9 919.5 1406.2 920.1 1406.5 931.0 1406.8 919.0 1407.1 930.7 1407.4 919.2 1407.7 925.6 1408.0 918.5 1408.3 919.7 1408.6 929.6 1408.9 924.1 1409.2 915.5 1409.5 925.0 1409.8 926.2 1410.1 924.1 1410.4 918.0 1410.7 920.0 1411.0 923.5 1411.3 921.9 1411.6 921.4 1411.9 916.4 1412.2 929.6 1412.5 924.8 1412.8 917.0 1413.1 915.1 1413.4 927.4 1413.7 920.1 1414.0 912.8 1414.3 921.8 1414.6 922.1 1414.9 917.3 1415.2 917.4 1415.5 924.6 1415.8 916.4 1416.1 915.7 1416.4 912.9 1416.7 921.2 1417.0 927.5 1417.3 921.2 1417.6 915.0 1417.9 922.0 1418.2 924.9 1418.5 918.4 1418.8 922.8 1419.1 920.0 1419.4 931.8 1419.7 917.7 1420.0 914.2 1420.3 920.1 1420.6 927.0 1420.9 921.4 1421.2 926.6 1421.5 922.7 1421.8 930.6 1422.1 920.6 1422.4 918.1 1422.7 915.2 1423.0 917.5 1423.3 922.7 1423.6 925.8 1423.9 917.3 1424.2 927.6 1424.5 918.2 1424.8 926.7 1425.1 917.3 1425.4 921.1 1425.7 924.8 1426.0 920.5 1426.3 933.3 1426.6 924.1 1426.9 926.0 1427.2 915.5 1427.5 919.9 1427.8 928.4 1428.1 927.3 1428.4 924.4 1428.7 923.9 1429.0 919.5 1429.3 923.2 1429.6 919.7 1429.9 917.4 1430.2 921.6 1430.5 930.6 1430.8 921.1 1431.1 924.9 1431.4 919.2 1431.7 921.3 1432.0 928.2 1432.3 924.0 1432.6 921.5 1432.9 929.0 1433.2 923.5 1433.5 929.4 1433.8 933.6 1434.1 934.1 1434.4 918.8 1434.7 924.8 1435.0 919.2 1435.3 923.1 1435.6 925.2 1435.9 921.2 1436.2 929.6 1436.5 923.1 1436.8 916.9 1437.1 923.8 1437.4 918.2 1437.7 921.2 1438.0 920.0 1438.3 923.4 1438.6 916.6 1438.9 921.2 1439.2 925.0 1439.5 918.6 1439.8 916.9 1440.1 925.2 1440.4 922.9 1440.7 918.9 1441.0 918.1 1441.3 921.0 1441.6 927.6 1441.9 918.7 1442.2 921.5 1442.5 934.2 1442.8 923.2 1443.1 924.4 1443.4 923.6 1443.7 930.1 1444.0 920.0 1444.3 924.0 1444.6 924.3 1444.9 928.2 1445.2 923.0 1445.5 915.5 1445.8 919.9 1446.1 923.8 1446.4 930.4 1446.7 920.1 1447.0 934.4 1447.3 922.7 1447.6 926.7 1447.9 925.7 1448.2 920.4 1448.5 925.3 1448.8 922.2 1449.1 933.6 1449.4 930.4 1449.7 926.0 1450.0 925.6 1450.3 925.6 1450.6 930.6 1450.9 926.4 1451.2 917.0 1451.5 926.4 1451.8 936.1 1452.1 918.3 1452.4 928.1 1452.7 925.8 1453.0 931.1 1453.3 934.6 1453.6 924.0 1453.9 928.9 1454.2 920.7 1454.5 926.6 1454.8 919.2 1455.1 932.7 1455.4 923.0 1455.7 927.4 1456.0 922.7 1456.3 930.4 1456.6 925.3 1456.9 922.2 1457.2 927.6 1457.5 925.2 1457.8 922.5 1458.1 923.3 1458.4 927.1 1458.7 922.0 1459.0 927.6 1459.3 927.8 1459.6 924.2 1459.9 927.8 1460.2 921.9 1460.5 926.5 1460.8 923.7 1461.1 929.6 1461.4 929.1 1461.7 937.0 1462.0 924.1 1462.3 929.4 1462.6 924.2 1462.9 931.1 1463.2 936.1 1463.5 931.7 1463.8 926.8 1464.1 926.6 1464.4 921.9 1464.7 920.6 1465.0 926.9 1465.3 923.8 1465.6 929.6 1465.9 925.0 1466.2 931.0 1466.5 924.1 1466.8 923.7 1467.1 939.7 1467.4 924.0 1467.7 926.7 1468.0 927.6 1468.3 928.9 1468.6 918.7 1468.9 929.1 1469.2 920.5 1469.5 920.5 1469.8 930.4 1470.1 919.5 1470.4 930.1 1470.7 935.7 1471.0 926.0 1471.3 926.4 1471.6 920.4 1471.9 924.1 1472.2 936.0 1472.5 929.7 1472.8 930.4 1473.1 930.7 1473.4 929.7 1473.7 931.8 1474.0 930.3 1474.3 921.3 1474.6 921.3 1474.9 925.3 1475.2 929.7 1475.5 921.7 1475.8 931.7 1476.1 920.9 1476.4 935.6 1476.7 933.2 1477.0 944.9 1477.3 936.0 1477.6 921.4 1477.9 926.9 1478.2 931.0 1478.5 929.5 1478.8 925.2 1479.1 921.5 1479.4 923.3 1479.7 924.5 1480.0 926.5 1480.3 924.5 1480.6 924.7 1480.9 926.2 1481.2 929.5 1481.5 923.6 1481.8 926.4 1482.1 930.4 1482.4 924.1 1482.7 925.6 1483.0 921.6 1483.3 926.2 1483.6 926.3 1483.9 930.2 1484.2 927.3 1484.5 922.4 1484.8 928.0 1485.1 920.2 1485.4 924.4 1485.7 924.7 1486.0 936.8 1486.3 933.5 1486.6 921.5 1486.9 928.9 1487.2 932.0 1487.5 931.1 1487.8 927.3 1488.1 927.7 1488.4 927.0 1488.7 927.2 1489.0 926.2 1489.3 922.9 1489.6 932.9 1489.9 925.4 1490.2 937.1 1490.5 928.7 1490.8 928.5 1491.1 932.7 1491.4 929.6 1491.7 928.6 1492.0 923.4 1492.3 923.2 1492.6 922.7 1492.9 932.5 1493.2 925.6 1493.5 927.9 1493.8 928.8 1494.1 924.3 1494.4 927.6 1494.7 925.8 1495.0 923.9 1495.3 925.0 1495.6 920.8 1495.9 927.0 1496.2 926.7 1496.5 927.9 1496.8 934.7 1497.1 927.2 1497.4 936.8 1497.7 935.8 1498.0 924.2 1498.3 924.6 1498.6 925.4 1498.9 930.9 1499.2 928.6 1499.5 929.8 1499.8 930.6 1500.1 930.1 1500.4 933.7 1500.7 921.3 1501.0 927.2 1501.3 923.1 1501.6 933.8 1501.9 928.3 1502.2 929.0 1502.5 923.8 1502.8 929.2 1503.1 932.9 1503.4 927.2 1503.7 930.4 1504.0 929.4 1504.3 923.8 1504.6 929.0 1504.9 927.4 1505.2 925.3 1505.5 934.3 1505.8 931.6 1506.1 928.3 1506.4 927.1 1506.7 936.0 1507.0 923.1 1507.3 932.5 1507.6 934.2 1507.9 923.2 1508.2 928.0 1508.5 922.4 1508.8 939.3 1509.1 926.9 1509.4 930.2 1509.7 938.9 1510.0 923.2 1510.3 931.3 1510.6 924.9 1510.9 941.9 1511.2 928.2 1511.5 930.6 1511.8 928.8 1512.1 938.4 1512.4 930.2 1512.7 927.5 1513.0 925.6 1513.3 930.6 1513.6 924.3 1513.9 929.7 1514.2 927.2 1514.5 928.8 1514.8 925.0 1515.1 926.3 1515.4 925.0 1515.7 928.8 1516.0 935.5 1516.3 934.6 1516.6 932.6 1516.9 936.7 1517.2 922.0 1517.5 935.2 1517.8 924.8 1518.1 933.8 1518.4 928.4 1518.7 933.2 1519.0 919.4 1519.3 925.0 1519.6 928.5 1519.9 932.1 1520.2 925.4 1520.5 919.8 1520.8 924.5 1521.1 923.3 1521.4 931.8 1521.7 923.8 1522.0 933.3 1522.3 928.8 1522.6 928.6 1522.9 930.3 1523.2 932.5 1523.5 930.6 1523.8 927.2 1524.1 927.3 1524.4 928.7 1524.7 928.9 1525.0 926.0 1525.3 929.8 1525.6 928.3 1525.9 928.9 1526.2 928.3 1526.5 919.2 1526.8 926.1 1527.1 927.9 1527.4 926.1 1527.7 928.4 1528.0 930.6 1528.3 937.6 1528.6 934.5 1528.9 925.7 1529.2 927.7 1529.5 927.1 1529.8 923.9 1530.1 925.1 1530.4 926.8 1530.7 930.0 1531.0 933.7 1531.3 938.7 1531.6 933.8 1531.9 926.0 1532.2 927.4 1532.5 933.6 1532.8 934.0 1533.1 933.2 1533.4 919.0 1533.7 931.4 1534.0 927.7 1534.3 935.1 1534.6 926.0 1534.9 930.9 1535.2 925.8 1535.5 933.6 1535.8 928.0 1536.1 937.7 1536.4 922.6 1536.7 923.4 1537.0 933.8 1537.3 929.9 1537.6 928.8 1537.9 926.5 1538.2 931.5 1538.5 931.3 1538.8 928.2 1539.1 931.6 1539.4 937.9 1539.7 930.4 1540.0 935.4 1540.3 926.8 1540.6 926.9 1540.9 923.8 1541.2 924.2 1541.5 925.7 1541.8 926.4 1542.1 930.6 1542.4 923.3 1542.7 934.7 1543.0 922.9 1543.3 933.2 1543.6 930.4 1543.9 930.1 1544.2 926.3 1544.5 931.3 1544.8 921.0 1545.1 936.4 1545.4 932.1 1545.7 931.1 1546.0 928.8 1546.3 924.8 1546.6 925.7 1546.9 923.5 1547.2 928.1 1547.5 930.8 1547.8 922.7 1548.1 933.3 1548.4 928.2 1548.7 927.5 1549.0 931.7 1549.3 927.2 1549.6 928.0 1549.9 929.0 1550.2 923.7 1550.5 928.3 1550.8 923.2 1551.1 929.3 1551.4 936.8 1551.7 929.9 1552.0 931.8 1552.3 932.1 1552.6 924.6 1552.9 926.8 1553.2 929.0 1553.5 928.5 1553.8 925.4 1554.1 926.0 1554.4 928.1 1554.7 929.6 1555.0 922.6 1555.3 930.7 1555.6 930.3 1555.9 924.9 1556.2 920.9 1556.5 927.9 1556.8 923.1 1557.1 931.9 1557.4 925.0 1557.7 933.2 1558.0 938.2 1558.3 933.1 1558.6 929.7 1558.9 923.5 1559.2 928.5 1559.5 928.7 1559.8 922.7 1560.1 920.0 1560.4 926.4 1560.7 930.9 1561.0 929.3 1561.3 927.5 1561.6 925.6 1561.9 929.1 1562.2 933.7 1562.5 918.9 1562.8 939.5 1563.1 926.0 1563.4 927.9 1563.7 928.1 1564.0 923.9 1564.3 933.5 1564.6 921.9 1564.9 930.6 1565.2 921.5 1565.5 932.6 1565.8 925.4 1566.1 931.5 1566.4 931.9 1566.7 934.6 1567.0 928.8 1567.3 931.1 1567.6 932.5 1567.9 926.5 1568.2 927.9 1568.5 938.9 1568.8 916.8 1569.1 939.2 1569.4 928.9 1569.7 927.0 1570.0 923.1 1570.3 929.1 1570.6 934.7 1570.9 928.5 1571.2 936.0 1571.5 924.0 1571.8 927.2 1572.1 928.7 1572.4 926.6 1572.7 929.1 1573.0 925.9 1573.3 921.6 1573.6 926.7 1573.9 930.9 1574.2 932.2 1574.5 925.3 1574.8 933.8 1575.1 929.2 1575.4 928.1 1575.7 925.4 1576.0 929.1 1576.3 927.1 1576.6 923.3 1576.9 931.9 1577.2 931.5 1577.5 928.8 1577.8 933.3 1578.1 932.5 1578.4 931.4 1578.7 929.5 1579.0 923.8 1579.3 928.7 1579.6 931.9 1579.9 929.1 1580.2 929.1 1580.5 929.9 1580.8 932.8 1581.1 925.7 1581.4 932.1 1581.7 939.7 1582.0 920.5 1582.3 924.6 1582.6 929.4 1582.9 935.1 1583.2 935.1 1583.5 932.2 1583.8 931.8 1584.1 929.5 1584.4 929.9 1584.7 934.6 1585.0 925.4 1585.3 927.1 1585.6 931.1 1585.9 935.8 1586.2 925.8 1586.5 927.8 1586.8 931.4 1587.1 933.8 1587.4 937.0 1587.7 932.7 1588.0 927.0 1588.3 925.3 1588.6 924.3 1588.9 923.6 1589.2 928.2 1589.5 937.6 1589.8 930.0 1590.1 927.1 1590.4 929.2 1590.7 927.3 1591.0 936.0 1591.3 930.9 1591.6 926.5 1591.9 930.2 1592.2 932.1 1592.5 926.1 1592.8 925.0 1593.1 928.9 1593.4 920.7 1593.7 924.1 1594.0 930.1 1594.3 931.7 1594.6 936.0 1594.9 930.7 1595.2 929.3 1595.5 926.3 1595.8 927.3 1596.1 932.9 1596.4 930.6 1596.7 933.3 1597.0 927.0 1597.3 932.7 1597.6 924.4 1597.9 923.2" fill="none" stroke="#ff00ff" stroke-width="2.5" stroke-linejoin="round"/>
<path d="M60.0 780.0 59.5 812.8 59.8 801.3 60.1 818.3 60.4 827.3 60.7 833.0 61.0 822.8 61.3 817.1 61.6 815.5 61.9 834.9 62.2 841.0 62.5 827.0 62.8 807.1 63.1 816.8 63.4 852.5 63.7 828.5 64.0 812.2 64.3 826.7 64.6 817.7 64.9 822.7 65.2 824.4 65.5 822.9 65.8 835.3 66.1 828.9 66.4 825.2 66.7 837.1 67.0 839.7 67.3 817.7 67.6 828.0 67.9 823.8 68.2 831.4 68.5 822.1 68.8 833.8 69.1 833.3 69.4 831.8 69.7 819.7 70.0 831.7 70.3 826.1 70.6 824.4 70.9 839.7 71.2 820.9 71.5 849.3 71.8 844.9 72.1 821.5 72.4 841.3 72.7 829.2 73.0 839.7 73.3 840.1 73.6 823.6 73.9 838.4 74.2 836.9 74.5 851.1 74.8 831.4 75.1 849.5 75.4 832.9 75.7 839.9 76.0 835.9 76.3 867.4 76.6 849.8 76.9 869.8 77.2 851.3 77.5 853.8 77.8 854.2 78.1 840.7 78.4 846.0 78.7 860.8 79.0 843.8 79.3 849.6 79.6 848.0 79.9 854.6 80.2 845.7 80.5 846.8 80.8 853.2 81.1 851.5 81.4 842.9 81.7 859.9 82.0 840.1 82.3 841.3 82.6 841.1 82.9 862.3 83.2 849.7 83.5 844.8 83.8 837.5 84.1 858.3 84.4 845.3 84.7 844.0 85.0 861.4 85.3 845.4 85.6 853.3 85.9 856.6 86.2 852.9 86.5 856.9 86.8 871.4 87.1 853.4 87.4 847.6 87.7 833.9 88.0 857.3 88.3 854.0 88.6 862.3 88.9 855.9 89.2 856.1 89.5 854.2 89.8 856.3 90.1 862.8 90.4 858.0 90.7 862.7 91.0 893.5 91.3 866.9 91.6 849.2 91.9 880.8 92.2 868.1 92.5 855.1 92.8 872.6 93.1 863.8 93.4 858.6 93.7 855.0 94.0 856.0 94.3 865.4 94.6 875.8 94.9 860.4 95.2 869.8 95.5 885.5 95.8 855.8 96.1 870.1 96.4 864.0 96.7 857.8 97.0 858.3 97.3 867.4 97.6 872.0 97.9 863.3 98.2 868.9 98.5 875.6 98.8 871.7 99.1 877.6 99.4 876.1 99.7 874.3 100.0 888.8 100.3 879.5 100.6 872.1 100.9 877.6 101.2 862.9 101.5 868.2 101.8 879.2 102.1 877.8 102.4 896.8 102.7 872.4 103.0 860.2 103.3 893.0 103.6 883.9 103.9 864.2 104.2 895.4 104.5 874.2 104.8 859.2 105.1 870.6 105.4 870.1 105.7 900.4 106.0 868.2 106.3 873.1 106.6 873.2 106.9 872.6 107.2 868.3 107.5 878.6 107.8 893.4 108.1 883.0 108.4 869.2 108.7 867.7 109.0 879.3 109.3 871.8 109.6 869.1 109.9 864.7 110.2 898.9 110.5 893.0 110.8 870.9 111.1 888.4 111.4 893.2 111.7 861.3 112.0 875.5 112.3 877.1 112.6 887.0 112.9 880.0 113.2 879.2 113.5 880.4 113.8 911.7 114.1 917.6 114.4 877.6 114.7 874.4 115.0 907.1 115.3 874.5 115.6 878.1 115.9 883.7 116.2 888.2 116.5 893.8 116.8 887.7 117.1 876.7 117.4 889.3 117.7 887.0 118.0 904.1 118.3 885.0 118.6 874.1 118.9 876.7 119.2 900.3 119.5 881.3 119.8 859.1 120.1 881.4 120.4 886.7 120.7 905.3 121.0 878.5 121.3 897.2 121.6 895.3 121.9 881.8 122.2 886.4 122.5 906.2 122.8 905.9 123.1 897.0 123.4 892.1 123.7 906.6 124.0 887.1 124.3 888.8 124.6 882.5 124.9 890.2 125.2 889.6 125.5 914.8 125.8 889.1 126.1 910.6 126.4 904.2 126.7 889.8 127.0 903.1 127.3 864.1 127.6 893.0 127.9 900.6 128.2 874.0 128.5 883.0 128.8 903.2 129.1 891.0 129.4 878.3 129.7 888.1 130.0 889.2 130.3 901.0 130.6 898.6 130.9 892.1 131.2 889.1 131.5 894.6 131.8 915.7 132.1 898.7 132.4 901.8 132.7 894.6 133.0 885.4 133.3 886.3 133.6 902.8 133.9 897.8 134.2 884.4 134.5 884.1 134.8 898.5 135.1 894.7 135.4 894.8 135.7 895.2 136.0 900.9 136.3 901.2 136.6 907.8 136.9 912.6 137.2 911.9 137.5 911.0 137.8 896.3 138.1 898.9 138.4 906.6 138.7 896.9 139.0 904.9 139.3 917.4 139.6 893.2 139.9 877.2 140.2 911.9 140.5 900.7 140.8 910.9 141.1 889.8 141.4 918.1 141.7 908.0 142.0 900.1 142.3 898.2 142.6 902.5 142.9 900.1 143.2 899.3 143.5 892.5 143.8 921.2 144.1 901.8 144.4 903.0 144.7 903.3 145.0 884.5 145.3 907.6 145.6 900.0 145.9 898.6 146.2 903.8 146.5 895.1 146.8 915.8 147.1 893.7 147.4 896.0 147.7 891.8 148.0 905.4 148.3 914.9 148.6 899.1 148.9 884.4 149.2 914.6 149.5 895.7 149.8 916.2 150.1 904.4 150.4 899.1 150.7 899.7 151.0 909.6 151.3 918.5 151.6 903.9 151.9 919.7 152.2 939.0 152.5 904.2 152.8 890.6 153.1 891.9 153.4 895.1 153.7 901.1 154.0 900.6 154.3 896.0 154.6 911.8 154.9 887.6 155.2 896.5 155.5 927.4 155.8 922.9 156.1 912.4 156.4 914.2 156.7 925.3 157.0 913.0 157.3 908.9 157.6 898.3 157.9 907.1 158.2 902.4 158.5 902.8 158.8 902.8 159.1 908.6 159.4 904.2 159.7 917.3 160.0 898.6 160.3 906.8 160.6 927.8 160.9 909.9 161.2 921.1 161.5 920.5 161.8 922.4 162.1 916.8 162.4 898.9 162.7 907.8 163.0 904.6 163.3 897.9 163.6 906.4 163.9 900.2 164.2 897.3 164.5 912.5 164.8 910.3 165.1 904.9 165.4 902.9 165.7 906.3 166.0 907.6 166.3 907.5 166.6 910.6 166.9 904.9 167.2 914.7 167.5 916.1 167.8 916.2 168.1 905.9 168.4 906.3 168.7 915.5 169.0 910.0 169.3 911.4 169.6 881.8 169.9 892.1 170.2 915.0 170.5 915.0 170.8 933.0 171.1 918.8 171.4 915.1 171.7 912.3 172.0 893.9 172.3 920.7 172.6 907.5 172.9 917.2 173.2 915.3 173.5 915.3 173.8 921.1 174.1 908.8 174.4 909.8 174.7 906.1 175.0 907.8 175.3 929.3 175.6 910.3 175.9 924.5 176.2 921.1 176.5 920.2 176.8 921.0 177.1 905.4 177.4 917.1 177.7 929.0 178.0 908.2 178.3 913.6 178.6 908.4 178.9 917.0 179.2 905.5 179.5 929.7 179.8 911.2 180.1 894.7 180.4 931.8 180.7 928.6 181.0 919.4 181.3 922.1 181.6 909.7 181.9 913.0 182.2 921.6 182.5 923.5 182.8 923.7 183.1 917.1 183.4 911.3 183.7 913.7 184.0 925.6 184.3 936.7 184.6 912.5 184.9 911.4 185.2 933.7 185.5 922.0 185.8 921.8 186.1 905.1 186.4 912.4 186.7 911.3 187.0 917.4 187.3 902.5 187.6 934.2 187.9 918.3 188.2 919.5 188.5 900.2 188.8 915.4 189.1 928.1 189.4 903.4 189.7 919.7 190.0 922.0 190.3 910.0 190.6 923.1 190.9 911.0 191.2 927.1 191.5 920.5 191.8 917.7 192.1 935.1 192.4 927.5 192.7 928.0 193.0 906.4 193.3 910.5 193.6 927.6 193.9 924.1 194.2 915.4 194.5 922.9 194.8 907.4 195.1 918.6 195.4 901.0 195.7 918.9 196.0 911.9 196.3 910.7 196.6 916.5 196.9 933.3 197.2 907.9 197.5 907.8 197.8 925.8 198.1 912.5 198.4 932.8 198.7 918.0 199.0 916.9 199.3 919.2 199.6 932.5 199.9 921.9 200.2 920.7 200.5 918.3 200.8 904.1 201.1 909.0 201.4 930.0 201.7 927.7 202.0 920.7 202.3 921.9 202.6 911.8 202.9 919.2 203.2 909.0 203.5 919.7 203.8 910.5 204.1 914.5 204.4 920.3 204.7 913.6 205.0 922.1 205.3 920.3 205.6 919.5 205.9 928.5 206.2 905.0 206.5 896.4 206.8 921.8 207.1 924.8 207.4 935.6 207.7 926.8 208.0 923.8 208.3 909.3 208.6 923.0 208.9 922.3 209.2 907.9 209.5 909.1 209.8 915.3 210.1 918.7 210.4 882.9 210.7 916.7 211.0 918.1 211.3 913.4 211.6 918.3 211.9 920.0 212.2 907.9 212.5 919.5 212.8 913.8 213.1 908.3 213.4 917.6 213.7 937.4 214.0 897.3 214.3 903.1 214.6 903.0 214.9 934.3 215.2 913.5 215.5 915.0 215.8 909.1 216.1 907.9 216.4 891.0 216.7 916.8 217.0 917.6 217.3 900.6 217.6 907.0 217.9 909.2 218.2 915.0 218.5 917.2 218.8 925.3 219.1 927.6 219.4 924.6 219.7 927.2 220.0 905.8 220.3 910.4 220.6 925.2 220.9 917.3 221.2 914.8 221.5 900.1 221.8 900.8 222.1 921.1 222.4 917.6 222.7 912.2 223.0 911.2 223.3 893.4 223.6 917.7 223.9 923.7 224.2 929.6 224.5 914.8 224.8 912.7 225.1 905.7 225.4 925.4 225.7 930.1 226.0 909.2 226.3 916.7 226.6 914.9 226.9 909.4 227.2 885.2 227.5 911.0 227.8 919.3 228.1 902.9 228.4 907.2 228.7 892.5 229.0 925.5 229.3 920.4 229.6 914.1 229.9 911.5 230.2 905.1 230.5 912.3 230.8 911.1 231.1 911.5 231.4 913.3 231.7 914.6 232.0 927.7 232.3 902.3 232.6 915.6 232.9 905.0 233.2 904.4 233.5 896.2 233.8 918.5 234.1 905.4 234.4 907.1 234.7 917.1 235.0 904.5 235.3 913.2 235.6 912.3 235.9 919.9 236.2 921.8 236.5 905.9 236.8 920.9 237.1 911.9 237.4 913.7 237.7 909.5 238.0 923.1 238.3 903.2 238.6 915.7 238.9 923.0 239.2 908.4 239.5 931.4 239.8 906.5 240.1 914.2 240.4 908.4 240.7 907.3 241.0 903.6 241.3 907.8 241.6 911.7 241.9 905.8 242.2 919.9 242.5 925.9 242.8 900.4 243.1 919.3 243.4 913.5 243.7 914.0 244.0 934.2 244.3 928.7 244.6 914.6 244.9 913.3 245.2 886.4 245.5 918.5 245.8 905.8 246.1 913.8 246.4 912.5 246.7 924.9 247.0 941.6 247.3 925.1 247.6 929.5 247.9 908.1 248.2 917.4 248.5 918.1 248.8 900.4 249.1 930.4 249.4 901.9 249.7 901.4 250.0 926.1 250.3 931.0 250.6 905.5 250.9 906.2 251.2 933.2 251.5 912.0 251.8 896.4 252.1 902.8 252.4 940.4 252.7 919.7 253.0 917.4 253.3 921.7 253.6 919.8 253.9 908.0 254.2 898.7 254.5 916.4 254.8 901.9 255.1 910.1 255.4 926.6 255.7 917.6 256.0 910.9 256.3 910.9 256.6 916.6 256.9 918.3 257.2 900.1 257.5 911.7 257.8 925.7 258.1 916.5 258.4 903.9 258.7 904.5 259.0 894.9 259.3 903.5 259.6 932.7 259.9 909.1 260.2 902.9 260.5 904.9 260.8 908.5 261.1 908.5 261.4 906.4 261.7 903.2 262.0 917.6 262.3 923.0 262.6 904.5 262.9 904.7 263.2 919.5 263.5 897.8 263.8 901.0 264.1 905.7 264.4 910.1 264.7 906.4 265.0 901.6 265.3 911.1 265.6 899.3 265.9 895.5 266.2 893.6 266.5 914.7 266.8 895.3 267.1 913.9 267.4 913.8 267.7 918.9 268.0 906.5 268.3 903.5 268.6 908.5 268.9 903.0 269.2 897.9 269.5 918.7 269.8 896.1 270.1 923.9 270.4 914.1 270.7 903.7 271.0 912.9 271.3 918.1 271.6 890.2 271.9 899.9 272.2 899.0 272.5 908.4 272.8 910.3 273.1 906.9 273.4 901.1 273.7 902.5 274.0 923.1 274.3 916.4 274.6 907.6 274.9 896.6 275.2 911.8 275.5 908.8 275.8 909.4 276.1 921.9 276.4 913.2 276.7 898.6 277.0 893.8 277.3 925.3 277.6 908.3 277.9 913.5 278.2 904.1 278.5 893.7 278.8 908.3 279.1 920.1 279.4 908.8 279.7 897.2 280.0 903.3 280.3 901.8 280.6 907.2 280.9 914.6 281.2 923.8 281.5 907.4 281.8 902.0 282.1 906.0 282.4 905.4 282.7 901.7 283.0 905.2 283.3 904.9 283.6 890.5 283.9 909.4 284.2 901.7 284.5 896.8 284.8 908.5 285.1 900.4 285.4 920.0 285.7 910.7 286.0 904.5 286.3 897.8 286.6 898.5 286.9 910.9 287.2 897.9 287.5 909.8 287.8 888.0 288.1 904.7 288.4 909.9 288.7 905.6 289.0 902.6 289.3 911.3 289.6 895.7 289.9 894.7 290.2 903.0 290.5 912.6 290.8 905.6 291.1 900.2 291.4 904.2 291.7 905.3 292.0 892.0 292.3 882.1 292.6 893.3 292.9 889.9 293.2 896.4 293.5 891.7 293.8 894.0 294.1 906.6 294.4 901.4 294.7 900.2 295.0 915.3 295.3 896.6 295.6 897.1 295.9 911.2 296.2 891.4 296.5 887.8 296.8 918.4 297.1 902.5 297.4 904.7 297.7 904.9 298.0 907.2 298.3 895.5 298.6 898.5 298.9 885.6 299.2 901.0 299.5 900.8 299.8 895.1 300.1 904.3 300.4 919.2 300.7 889.6 301.0 905.5 301.3 906.4 301.6 907.5 301.9 891.8 302.2 908.5 302.5 903.5 302.8 896.8 303.1 894.9 303.4 899.6 303.7 905.6 304.0 905.1 304.3 930.3 304.6 894.4 304.9 906.0 305.2 893.6 305.5 903.7 305.8 897.9 306.1 892.0 306.4 886.5 306.7 887.3 307.0 898.4 307.3 917.8 307.6 902.8 307.9 886.9 308.2 892.0 308.5 896.0 308.8 894.5 309.1 895.8 309.4 901.7 309.7 897.9 310.0 889.2 310.3 880.6 310.6 891.6 310.9 881.8 311.2 892.6 311.5 897.8 311.8 883.6 312.1 892.2 312.4 890.4 312.7 910.0 313.0 896.4 313.3 870.6 313.6 896.0 313.9 895.6 314.2 890.4 314.5 888.9 314.8 896.6 315.1 899.8 315.4 894.9 315.7 883.7 316.0 887.3 316.3 872.2 316.6 879.9 316.9 886.2 317.2 882.6 317.5 887.0 317.8 912.1 318.1 895.7 318.4 883.1 318.7 874.7 319.0 883.1 319.3 878.9 319.6 864.2 319.9 894.9 320.2 885.1 320.5 893.5 320.8 910.9 321.1 891.0 321.4 889.2 321.7 891.0 322.0 885.9 322.3 877.1 322.6 886.1 322.9 897.3 323.2 885.4 323.5 877.5 323.8 878.2 324.1 879.5 324.4 887.1 324.7 890.8 325.0 892.2 325.3 896.7 325.6 885.0 325.9 893.4 326.2 889.0 326.5 895.0 326.8 873.3 327.1 896.8 327.4 867.7 327.7 872.1 328.0 892.4 328.3 880.5 328.6 901.3 328.9 886.9 329.2 872.8 329.5 886.7 329.8 879.9 330.1 898.7 330.4 899.3 330.7 891.1 331.0 881.7 331.3 885.4 331.6 898.4 331.9 878.3 332.2 878.2 332.5 895.1 332.8 890.0 333.1 881.8 333.4 879.7 333.7 860.9 334.0 898.7 334.3 881.7 334.6 871.9 334.9 868.3 335.2 874.9 335.5 896.0 335.8 886.3 336.1 864.4 336.4 905.1 336.7 890.3 337.0 870.6 337.3 860.3 337.6 884.5 337.9 871.4 338.2 873.9 338.5 870.0 338.8 888.3 339.1 883.0 339.4 879.5 339.7 867.8 340.0 869.9 340.3 869.9 340.6 849.7 340.9 870.5 341.2 858.9 341.5 860.4 341.8 857.8 342.1 859.8 342.4 858.5 342.7 862.0 343.0 847.3 343.3 844.7 343.6 846.5 343.9 842.6 344.2 846.9 344.5 839.7 344.8 840.8 345.1 841.8 345.4 841.1 345.7 838.9 346.0 841.3 346.3 841.2 346.6 835.6 346.9 840.2 347.2 840.7 347.5 840.6 347.8 840.9 348.1 844.2 348.4 847.7 348.7 848.3 349.0 854.8 349.3 857.9 349.6 850.1 349.9 851.0 350.2 860.9 350.5 854.5 350.8 860.9 351.1 864.6 351.4 870.2 351.7 868.5 352.0 877.2 352.3 865.2 352.6 874.6 352.9 866.6 353.2 873.8 353.5 874.6 353.8 864.3 354.1 859.4 354.4 884.8 354.7 880.9 355.0 880.1 355.3 871.4 355.6 878.1 355.9 885.1 356.2 882.3 356.5 898.2 356.8 884.3 357.1 877.8 357.4 889.4 357.7 877.1 358.0 887.1 358.3 873.1 358.6 881.8 358.9 891.2 359.2 882.1 359.5 887.1 359.8 892.5 360.1 888.6 360.4 903.9 360.7 886.7 361.0 887.6 361.3 888.1 361.6 875.9 361.9 879.0 362.2 894.5 362.5 888.0 362.8 902.6 363.1 890.5 363.4 890.0 363.7 900.2 364.0 894.1 364.3 906.0 364.6 879.9 364.9 896.3 365.2 901.8 365.5 897.8 365.8 903.3 366.1 902.5 366.4 894.4 366.7 890.2 367.0 902.9 367.3 895.4 367.6 903.3 367.9 907.1 368.2 897.5 368.5 889.5 368.8 893.4 369.1 903.3 369.4 895.2 369.7 913.3 370.0 898.0 370.3 899.0 370.6 893.5 370.9 897.7 371.2 913.6 371.5 896.4 371.8 895.3 372.1 890.3 372.4 906.2 372.7 889.1 373.0 895.2 373.3 908.0 373.6 912.8 373.9 899.1 374.2 914.0 374.5 887.6 374.8 907.8 375.1 904.1 375.4 887.8 375.7 889.8 376.0 896.4 376.3 904.8 376.6 907.7 376.9 904.1 377.2 909.7 377.5 909.4 377.8 894.0 378.1 901.2 378.4 900.5 378.7 913.1 379.0 901.1 379.3 913.4 379.6 906.0 379.9 925.7 380.2 905.3 380.5 906.0 380.8 904.8 381.1 907.6 381.4 939.0 381.7 900.7 382.0 900.7 382.3 905.8 382.6 916.2 382.9 896.1 383.2 914.5 383.5 914.4 383.8 907.2 384.1 906.7 384.4 903.0 384.7 907.0 385.0 903.4 385.3 926.1 385.6 923.7 385.9 907.8 386.2 909.9 386.5 897.4 386.8 904.2 387.1 913.6 387.4 914.5 387.7 912.3 388.0 918.5 388.3 912.5 388.6 909.1 388.9 933.9 389.2 899.3 389.5 904.3 389.8 907.4 390.1 907.7 390.4 907.6 390.7 911.8 391.0 908.5 391.3 913.1 391.6 918.9 391.9 914.6 392.2 915.6 392.5 908.0 392.8 906.9 393.1 913.1 393.4 923.0 393.7 918.7 394.0 924.8 394.3 924.2 394.6 925.6 394.9 910.7 395.2 927.1 395.5 923.1 395.8 945.7 396.1 922.2 396.4 921.6 396.7 917.0 397.0 920.0 397.3 907.0 397.6 915.4 397.9 918.6 398.2 931.7 398.5 914.5 398.8 920.6 399.1 935.3 399.4 916.2 399.7 931.0 400.0 914.1 400.3 920.2 400.6 924.8 400.9 928.6 401.2 918.1 401.5 914.7 401.8 935.0 402.1 924.1 402.4 929.3 402.7 930.6 403.0 929.7 403.3 922.0 403.6 922.4 403.9 913.8 404.2 926.3 404.5 921.7 404.8 925.0 405.1 941.6 405.4 931.6 405.7 926.9 406.0 917.3 406.3 932.8 406.6 940.0 406.9 921.8 407.2 931.3 407.5 924.5 407.8 927.5 408.1 926.3 408.4 918.3 408.7 923.4 409.0 918.8 409.3 941.5 409.6 943.6 409.9 931.2 410.2 933.3 410.5 931.9 410.8 933.3 411.1 933.6 411.4 930.6 411.7 931.5 412.0 923.7 412.3 926.3 412.6 929.3 412.9 936.3 413.2 931.6 413.5 950.5 413.8 933.5 414.1 932.6 414.4 938.9 414.7 944.0 415.0 951.6 415.3 944.2 415.6 932.6 415.9 935.9 416.2 945.8 416.5 939.7 416.8 944.3 417.1 937.8 417.4 951.8 417.7 950.8 418.0 948.3 418.3 940.9 418.6 929.1 418.9 931.0 419.2 943.1 419.5 946.0 419.8 923.3 420.1 935.9 420.4 951.1 420.7 949.7 421.0 938.9 421.3 947.8 421.6 943.4 421.9 941.9 422.2 952.7 422.5 958.4 422.8 940.6 423.1 934.0 423.4 936.0 423.7 935.6 424.0 956.3 424.3 961.3 424.6 947.8 424.9 959.6 425.2 941.8 425.5 946.5 425.8 954.4 426.1 949.9 426.4 947.2 426.7 936.9 427.0 932.4 427.3 945.5 427.6 944.8 427.9 948.0 428.2 944.7 428.5 947.9 428.8 950.2 429.1 956.2 429.4 950.8 429.7 946.6 430.0 948.7 430.3 958.1 430.6 949.8 430.9 944.8 431.2 944.7 431.5 954.1 431.8 956.5 432.1 962.2 432.4 950.4 432.7 963.9 433.0 949.1 433.3 951.8 433.6 949.7 433.9 957.9 434.2 962.4 434.5 954.2 434.8 948.8 435.1 944.5 435.4 956.1 435.7 951.1 436.0 953.8 436.3 951.0 436.6 949.5 436.9 950.6 437.2 959.1 437.5 963.2 437.8 955.6 438.1 958.3 438.4 954.5 438.7 955.1 439.0 946.8 439.3 962.9 439.6 960.6 439.9 974.4 440.2 951.9 440.5 957.2 440.8 949.9 441.1 959.0 441.4 954.7 441.7 961.5 442.0 955.4 442.3 961.3 442.6 950.8 442.9 961.1 443.2 953.1 443.5 953.7 443.8 957.6 444.1 959.8 444.4 947.8 444.7 947.3 445.0 959.6 445.3 957.3 445.6 944.9 445.9 946.9 446.2 953.0 446.5 960.9 446.8 960.3 447.1 966.8 447.4 968.3 447.7 979.0 448.0 950.1 448.3 959.3 448.6 968.4 448.9 951.9 449.2 951.2 449.5 962.3 449.8 974.4 450.1 971.0 450.4 949.9 450.7 953.5 451.0 961.3 451.3 958.5 451.6 964.8 451.9 963.6 452.2 977.0 452.5 962.6 452.8 965.3 453.1 964.1 453.4 972.3 453.7 951.8 454.0 967.1 454.3 959.1 454.6 955.3 454.9 974.1 455.2 969.1 455.5 976.4 455.8 967.5 456.1 970.8 456.4 967.6 456.7 973.1 457.0 963.6 457.3 980.4 457.6 960.9 457.9 980.9 458.2 966.1 458.5 978.3 458.8 969.0 459.1 971.5 459.4 980.2 459.7 969.7 460.0 962.4 460.3 970.9 460.6 977.2 460.9 954.3 461.2 981.8 461.5 978.5 461.8 958.7 462.1 969.4 462.4 980.7 462.7 963.1 463.0 968.2 463.3 967.5 463.6 978.3 463.9 980.5 464.2 971.8 464.5 973.0 464.8 979.7 465.1 976.8 465.4 972.2 465.7 983.7 466.0 958.2 466.3 974.8 466.6 970.8 466.9 970.5 467.2 975.7 467.5 974.8 467.8 993.9 468.1 979.7 468.4 977.6 468.7 988.4 469.0 983.2 469.3 963.4 469.6 976.5 469.9 981.4 470.2 971.6 470.5 978.2 470.8 972.9 471.1 979.1 471.4 965.7 471.7 964.0 472.0 972.8 472.3 978.5 472.6 987.4 472.9 975.1 473.2 972.0 473.5 984.4 473.8 977.7 474.1 1000.8 474.4 976.6 474.7 965.3 475.0 972.5 475.3 971.6 475.6 969.0 475.9 973.0 476.2 973.7 476.5 976.6 476.8 974.9 477.1 983.6 477.4 982.1 477.7 980.5 478.0 980.8 478.3 967.3 478.6 968.7 478.9 969.9 479.2 981.7 479.5 970.3 479.8 977.1 480.1 982.1 480.4 996.5 480.7 982.5 481.0 974.5 481.3 989.2 481.6 983.2 481.9 978.9 482.2 989.8 482.5 975.0 482.8 982.8 483.1 982.1 483.4 988.6 483.7 974.1 484.0 973.3 484.3 977.4 484.6 980.2 484.9 982.6 485.2 979.8 485.5 985.8 485.8 987.9 486.1 985.2 486.4 975.8 486.7 992.0 487.0 966.8 487.3 981.9 487.6 990.3 487.9 976.5 488.2 993.8 488.5 999.3 488.8 1003.6 489.1 987.4 489.4 991.8 489.7 980.8 490.0 987.5 490.3 988.1 490.6 985.6 490.9 986.1 491.2 983.6 491.5 972.7 491.8 988.2 492.1 988.8 492.4 1002.1 492.7 990.9 493.0 986.2 493.3 996.1 493.6 990.5 493.9 985.8 494.2 983.3 494.5 976.4 494.8 987.1 495.1 999.1 495.4 966.9 495.7 979.9 496.0 992.2 496.3 988.0 496.6 989.7 496.9 974.8 497.2 982.7 497.5 990.6 497.8 991.3 498.1 989.2 498.4 981.1 498.7 991.2 499.0 979.3 499.3 980.9 499.6 979.6 499.9 998.7 500.2 984.6 500.5 988.0 500.8 973.9 501.1 996.2 501.4 991.3 501.7 977.2 502.0 977.5 502.3 1001.2 502.6 981.7 502.9 1002.9 503.2 985.0 503.5 963.7 503.8 996.9 504.1 994.1 504.4 996.4 504.7 985.1 505.0 986.0 505.3 1000.1 505.6 983.2 505.9 976.5 506.2 995.9 506.5 984.8 506.8 999.0 507.1 983.5 507.4 986.3 507.7 987.6 508.0 974.9 508.3 998.5 508.6 985.2 508.9 988.3 509.2 1007.7 509.5 990.6 509.8 996.7 510.1 993.6 510.4 995.8 510.7 992.1 511.0 999.0 511.3 988.8 511.6 993.7 511.9 985.6 512.2 999.6 512.5 977.0 512.8 992.0 513.1 994.6 513.4 994.5 513.7 990.8 514.0 1001.3 514.3 1008.1 514.6 987.0 514.9 979.1 515.2 979.3 515.5 982.1 515.8 990.4 516.1 991.0 516.4 999.6 516.7 986.4 517.0 991.2 517.3 992.4 517.6 981.7 517.9 989.3 518.2 1021.8 518.5 990.9 518.8 985.1 519.1 978.1 519.4 999.5 519.7 989.4 520.0 987.3 520.3 1010.7 520.6 1002.7 520.9 980.7 521.2 989.2 521.5 999.2 521.8 997.9 522.1 984.3 522.4 1013.8 522.7 1014.8 523.0 984.4 523.3 980.5 523.6 982.7 523.9 996.7 524.2 1000.0 524.5 993.1 524.8 987.7 525.1 991.2 525.4 996.0 525.7 983.8 526.0 981.0 526.3 991.2 526.6 1001.3 526.9 993.2 527.2 993.3 527.5 984.2 527.8 998.8 528.1 981.0 528.4 991.5 528.7 987.9 529.0 990.8 529.3 981.7 529.6 1000.4 529.9 991.4 530.2 985.1 530.5 997.5 530.8 991.6 531.1 988.4 531.4 985.2 531.7 997.7 532.0 985.7 532.3 990.5 532.6 990.1 532.9 994.3 533.2 990.7 533.5 1019.1 533.8 981.0 534.1 996.4 534.4 991.3 534.7 1000.4 535.0 981.8 535.3 1001.3 535.6 977.4 535.9 997.2 536.2 995.8 536.5 992.4 536.8 987.2 537.1 983.0 537.4 992.9 537.7 983.7 538.0 980.1 538.3 973.7 538.6 998.1 538.9 1001.5 539.2 995.9 539.5 992.5 539.8 994.9 540.1 995.7 540.4 993.9 540.7 983.2 541.0 987.1 541.3 984.5 541.6 993.0 541.9 985.3 542.2 990.7 542.5 1001.7 542.8 989.1 543.1 998.8 543.4 1003.5 543.7 980.0 544.0 982.2 544.3 996.4 544.6 986.5 544.9 995.0 545.2 996.3 545.5 987.5 545.8 997.0 546.1 1004.4 546.4 997.9 546.7 981.1 547.0 989.6 547.3 986.9 547.6 1002.6 547.9 988.0 548.2 985.7 548.5 990.6 548.8 995.9 549.1 987.6 549.4 990.9 549.7 989.8 550.0 998.4 550.3 997.1 550.6 991.8 550.9 986.6 551.2 992.6 551.5 983.7 551.8 1002.2 552.1 992.0 552.4 991.1 552.7 974.8 553.0 1007.8 553.3 1006.7 553.6 998.7 553.9 989.9 554.2 993.9 554.5 1018.2 554.8 984.3 555.1 994.3 555.4 993.1 555.7 989.7 556.0 991.2 556.3 982.1 556.6 993.2 556.9 980.0 557.2 1002.7 557.5 994.2 557.8 982.6 558.1 975.3 558.4 988.9 558.7 991.7 559.0 981.4 559.3 1000.9 559.6 989.8 559.9 982.7 560.2 973.3 560.5 986.8 560.8 986.1 561.1 995.1 561.4 995.2 561.7 987.5 562.0 990.5 562.3 997.9 562.6 991.5 562.9 985.1 563.2 991.3 563.5 983.1 563.8 989.9 564.1 986.9 564.4 979.2 564.7 990.7 565.0 986.8 565.3 991.5 565.6 972.4 565.9 994.2 566.2 994.4 566.5 983.3 566.8 984.9 567.1 985.9 567.4 985.3 567.7 991.4 568.0 980.4 568.3 977.6 568.6 983.3 568.9 999.6 569.2 982.1 569.5 974.2 569.8 978.5 570.1 986.3 570.4 993.1 570.7 979.3 571.0 985.3 571.3 985.5 571.6 987.2 571.9 984.8 572.2 991.4 572.5 991.4 572.8 976.8 573.1 1001.5 573.4 974.6 573.7 974.8 574.0 990.7 574.3 985.0 574.6 981.2 574.9 985.0 575.2 990.5 575.5 977.9 575.8 978.3 576.1 975.6 576.4 976.6 576.7 976.9 577.0 990.5 577.3 985.0 577.6 985.8 577.9 975.6 578.2 989.4 578.5 971.8 578.8 984.8 579.1 986.4 579.4 975.0 579.7 974.6 580.0 985.0 580.3 976.6 580.6 975.4 580.9 981.2 581.2 969.7 581.5 979.8 581.8 997.2 582.1 978.8 582.4 988.4 582.7 975.2 583.0 983.0 583.3 980.6 583.6 981.5 583.9 988.3 584.2 999.8 584.5 982.5 584.8 993.2 585.1 986.2 585.4 989.3 585.7 979.0 586.0 979.8 586.3 983.3 586.6 979.8 586.9 984.8 587.2 978.5 587.5 985.6 587.8 987.0 588.1 1007.9 588.4 1006.9 588.7 990.0 589.0 983.3 589.3 991.2 589.6 993.0 589.9 985.0 590.2 978.6 590.5 976.8 590.8 987.7 591.1 1011.5 591.4 987.0 591.7 992.8 592.0 991.4 592.3 994.4 592.6 994.9 592.9 970.1 593.2 988.8 593.5 992.6 593.8 989.1 594.1 999.4 594.4 988.2 594.7 997.6 595.0 1004.5 595.3 989.7 595.6 991.8 595.9 988.6 596.2 997.5 596.5 971.8 596.8 977.8 597.1 989.5 597.4 999.3 597.7 999.8 598.0 984.9 598.3 1012.8 598.6 994.7 598.9 990.0 599.2 1000.3 599.5 1009.9 599.8 994.4 600.1 985.6 600.4 991.6 600.7 996.5 601.0 1006.5 601.3 989.5 601.6 998.0 601.9 988.9 602.2 997.4 602.5 988.5 602.8 992.1 603.1 982.2 603.4 987.4 603.7 987.9 604.0 986.1 604.3 1007.1 604.6 1007.0 604.9 1002.0 605.2 996.5 605.5 1010.0 605.8 997.5 606.1 1002.5 606.4 1008.1 606.7 1001.6 607.0 1011.2 607.3 999.5 607.6 999.7 607.9 1001.9 608.2 993.9 608.5 994.6 608.8 1007.2 609.1 991.3 609.4 1010.3 609.7 1004.2 610.0 1011.2 610.3 1008.2 610.6 1007.2 610.9 1016.2 611.2 1002.8 611.5 1002.8 611.8 1011.9 612.1 997.0 612.4 1012.2 612.7 1012.0 613.0 1001.0 613.3 991.7 613.6 992.4 613.9 1027.3 614.2 995.5 614.5 997.2 614.8 1011.0 615.1 1008.2 615.4 1007.3 615.7 1005.7 616.0 1002.4 616.3 995.8 616.6 1000.5 616.9 1009.6 617.2 1017.8 617.5 1014.1 617.8 1005.4 618.1 992.6 618.4 1009.3 618.7 1004.9 619.0 990.8 619.3 1016.2 619.6 1007.7 619.9 1005.9 620.2 1007.7 620.5 1007.2 620.8 1008.1 621.1 1007.4 621.4 1006.9 621.7 1010.8 622.0 1009.3 622.3 1034.8 622.6 1008.1 622.9 1003.9 623.2 1003.4 623.5 1010.1 623.8 1008.4 624.1 1009.3 624.4 1006.4 624.7 1006.6 625.0 1016.5 625.3 1017.9 625.6 1010.5 625.9 1007.5 626.2 996.7 626.5 1001.1 626.8 1008.7 627.1 1006.8 627.4 1007.9 627.7 1001.6 628.0 1007.8 628.3 990.2 628.6 1001.4 628.9 1003.8 629.2 1013.0 629.5 1005.1 629.8 1003.1 630.1 1011.0 630.4 1008.1 630.7 1015.8 631.0 1012.7 631.3 1011.6 631.6 1008.2 631.9 1014.1 632.2 1004.9 632.5 1000.4 632.8 1016.1 633.1 1006.8 633.4 1010.2 633.7 1014.3 634.0 1017.2 634.3 994.2 634.6 999.5 634.9 1019.0 635.2 1000.1 635.5 1015.2 635.8 1008.0 636.1 1004.8 636.4 1008.7 636.7 1000.3 637.0 1013.1 637.3 1018.7 637.6 1001.7 637.9 1003.2 638.2 1018.7 638.5 1012.7 638.8 1008.0 639.1 1020.4 639.4 1000.0 639.7 1008.2 640.0 1010.5 640.3 1007.8 640.6 1015.3 640.9 999.8 641.2 1010.0 641.5 1004.7 641.8 1018.1 642.1 1021.0 642.4 1004.8 642.7 1002.7 643.0 1009.1 643.3 1000.5 643.6 1005.7 643.9 1012.1 644.2 1006.2 644.5 1022.4 644.8 1009.5 645.1 1005.7 645.4 1002.1 645.7 1005.6 646.0 1016.7 646.3 1014.5 646.6 1019.0 646.9 1018.0 647.2 1012.5 647.5 1004.2 647.8 1007.6 648.1 1009.0 648.4 998.7 648.7 1011.7 649.0 1002.0 649.3 1007.8 649.6 1005.0 649.9 1014.3 650.2 1025.7 650.5 1000.9 650.8 1008.0 651.1 1023.1 651.4 1002.2 651.7 1005.3 652.0 1006.5 652.3 1009.9 652.6 998.2 652.9 1009.8 653.2 1011.8 653.5 1025.1 653.8 1007.1 654.1 1003.9 654.4 1008.4 654.7 993.0 655.0 1009.7 655.3 1018.6 655.6 1007.1 655.9 1006.7 656.2 1005.7 656.5 1008.1 656.8 994.9 657.1 1018.2 657.4 1004.1 657.7 1004.1 658.0 1018.9 658.3 1007.1 658.6 1004.2 658.9 1018.7 659.2 1008.5 659.5 1013.1 659.8 1002.9 660.1 996.0 660.4 1007.4 660.7 1022.3 661.0 1003.0 661.3 1008.2 661.6 1010.6 661.9 1007.2 662.2 1005.7 662.5 1010.3 662.8 1006.2 663.1 1001.2 663.4 1011.8 663.7 1012.9 664.0 1006.5 664.3 1008.7 664.6 989.1 664.9 1005.2 665.2 1003.4 665.5 984.5 665.8 1027.1 666.1 1004.9 666.4 997.8 666.7 999.7 667.0 1003.7 667.3 1001.5 667.6 992.0 667.9 998.7 668.2 1005.8 668.5 1007.5 668.8 1006.6 669.1 994.0 669.4 996.3 669.7 1002.5 670.0 996.0 670.3 1001.0 670.6 994.3 670.9 1003.2 671.2 999.4 671.5 1002.8 671.8 998.9 672.1 993.5 672.4 990.8 672.7 998.3 673.0 994.0 673.3 983.5 673.6 993.9 673.9 1002.6 674.2 1005.7 674.5 1002.0 674.8 1006.2 675.1 994.0 675.4 995.2 675.7 986.7 676.0 991.0 676.3 1014.1 676.6 998.3 676.9 1002.3 677.2 1011.5 677.5 1008.8 677.8 989.2 678.1 1001.1 678.4 989.4 678.7 1000.8 679.0 982.8 679.3 987.7 679.6 987.7 679.9 1007.7 680.2 982.5 680.5 1005.2 680.8 999.9 681.1 993.6 681.4 997.7 681.7 1008.3 682.0 994.4 682.3 989.6 682.6 1000.8 682.9 996.4 683.2 979.8 683.5 991.8 683.8 992.3 684.1 983.3 684.4 984.2 684.7 985.7 685.0 982.4 685.3 992.9 685.6 991.3 685.9 976.5 686.2 986.2 686.5 989.7 686.8 980.4 687.1 985.6 687.4 990.1 687.7 978.0 688.0 985.8 688.3 974.4 688.6 992.5 688.9 982.7 689.2 978.4 689.5 969.8 689.8 977.0 690.1 995.4 690.4 981.1 690.7 982.5 691.0 983.4 691.3 976.8 691.6 990.6 691.9 971.5 692.2 991.2 692.5 977.3 692.8 985.0 693.1 986.5 693.4 990.0 693.7 976.8 694.0 988.1 694.3 983.5 694.6 982.6 694.9 981.6 695.2 990.9 695.5 986.2 695.8 996.8 696.1 992.5 696.4 971.4 696.7 981.8 697.0 989.3 697.3 976.8 697.6 972.6 697.9 969.6 698.2 996.6 698.5 973.1 698.8 983.4 699.1 975.9 699.4 985.3 699.7 994.4 700.0 974.3 700.3 982.5 700.6 978.4 700.9 972.6 701.2 978.0 701.5 983.8 701.8 992.4 702.1 992.9 702.4 984.1 702.7 974.8 703.0 989.0 703.3 984.4 703.6 984.8 703.9 978.2 704.2 984.2 704.5 999.6 704.8 996.1 705.1 994.6 705.4 990.5 705.7 983.7 706.0 986.3 706.3 987.5 706.6 989.2 706.9 983.1 707.2 981.8 707.5 999.3 707.8 985.0 708.1 993.3 708.4 986.6 708.7 992.5 709.0 991.5 709.3 993.3 709.6 993.1 709.9 982.9 710.2 980.8 710.5 988.7 710.8 1000.9 711.1 984.3 711.4 983.9 711.7 1006.3 712.0 975.3 712.3 984.2 712.6 985.9 712.9 986.2 713.2 986.6 713.5 998.1 713.8 992.3 714.1 992.8 714.4 981.8 714.7 996.8 715.0 992.7 715.3 992.8 715.6 997.5 715.9 994.2 716.2 992.2 716.5 996.7 716.8 988.4 717.1 987.4 717.4 985.1 717.7 999.7 718.0 989.4 718.3 994.7 718.6 1001.3 718.9 1006.7 719.2 991.9 719.5 995.4 719.8 995.1 720.1 987.0 720.4 991.9 720.7 1011.5 721.0 994.8 721.3 1007.8 721.6 1003.5 721.9 1008.1 722.2 1005.0 722.5 997.5 722.8 989.0 723.1 1006.3 723.4 1003.9 723.7 999.9 724.0 1002.8 724.3 992.4 724.6 998.1 724.9 997.2 725.2 989.1 725.5 990.8 725.8 996.5 726.1 978.6 726.4 1003.2 726.7 1006.5 727.0 998.2 727.3 1000.7 727.6 988.8 727.9 1000.3 728.2 1007.1 728.5 1004.6 728.8 1005.9 729.1 999.5 729.4 1014.2 729.7 1003.1 730.0 1005.7 730.3 1007.8 730.6 996.2 730.9 990.1 731.2 1006.2 731.5 993.9 731.8 995.3 732.1 1011.7 732.4 995.2 732.7 995.9 733.0 994.6 733.3 995.8 733.6 1022.7 733.9 1005.6 734.2 1008.5 734.5 991.5 734.8 981.4 735.1 995.6 735.4 1009.4 735.7 1010.4 736.0 991.7 736.3 992.9 736.6 1006.9 736.9 1004.4 737.2 1007.0 737.5 1009.5 737.8 997.0 738.1 1003.8 738.4 1001.4 738.7 1016.1 739.0 1001.4 739.3 986.3 739.6 1011.9 739.9 1016.0 740.2 1010.0 740.5 1001.6 740.8 998.1 741.1 1014.1 741.4 1000.6 741.7 1007.2 742.0 1009.1 742.3 1003.2 742.6 986.3 742.9 1009.0 743.2 994.6 743.5 995.5 743.8 1004.1 744.1 1005.3 744.4 1004.0 744.7 1008.7 745.0 994.2 745.3 1008.5 745.6 1015.9 745.9 1004.4 746.2 1002.0 746.5 1004.0 746.8 1017.9 747.1 1004.1 747.4 1000.6 747.7 996.0 748.0 1014.9 748.3 1015.1 748.6 1005.7 748.9 1020.2 749.2 1001.6 749.5 1010.5 749.8 998.5 750.1 1000.2 750.4 1006.0 750.7 1009.2 751.0 1010.2 751.3 997.7 751.6 1003.2 751.9 1005.8 752.2 1004.9 752.5 1005.1 752.8 1012.0 753.1 1014.5 753.4 996.8 753.7 1015.7 754.0 1008.2 754.3 1009.2 754.6 1009.3 754.9 1013.3 755.2 1011.8 755.5 998.9 755.8 1013.1 756.1 1001.1 756.4 1010.0 756.7 1009.6 757.0 999.1 757.3 1007.9 757.6 1006.3 757.9 1001.3 758.2 1030.2 758.5 1009.0 758.8 1005.8 759.1 1020.0 759.4 1008.0 759.7 1007.4 760.0 997.5 760.3 1014.2 760.6 1014.9 760.9 1021.5 761.2 1002.7 761.5 1015.3 761.8 1023.3 762.1 1013.3 762.4 1008.7 762.7 999.6 763.0 1009.9 763.3 1005.5 763.6 999.3 763.9 1012.8 764.2 1008.2 764.5 1007.6 764.8 1022.6 765.1 1006.0 765.4 991.2 765.7 997.5 766.0 1012.6 766.3 1007.0 766.6 1004.9 766.9 998.1 767.2 1004.6 767.5 1003.1 767.8 1008.8 768.1 1004.6 768.4 1004.6 768.7 1009.4 769.0 1005.1 769.3 1011.7 769.6 994.6 769.9 1002.8 770.2 1017.8 770.5 1011.6 770.8 1003.8 771.1 1008.9 771.4 1006.6 771.7 1007.9 772.0 1019.5 772.3 1005.9 772.6 1011.5 772.9 1005.4 773.2 1006.0 773.5 1001.9 773.8 1006.6 774.1 1008.0 774.4 1008.7 774.7 1010.9 775.0 1011.2 775.3 1014.8 775.6 1009.4 775.9 1019.3 776.2 1014.6 776.5 1019.9 776.8 1010.1 777.1 1018.8 777.4 1011.6 777.7 1002.1 778.0 1011.0 778.3 1010.1 778.6 1003.3 778.9 1005.7 779.2 1007.9 779.5 1027.1 779.8 1013.4 780.1 1023.7 780.4 1017.6 780.7 1022.6 781.0 1017.0 781.3 998.7 781.6 1020.2 781.9 1006.6 782.2 1015.0 782.5 1011.9 782.8 1023.3 783.1 1020.4 783.4 1025.0 783.7 1016.0 784.0 1013.1 784.3 1018.0 784.6 1038.4 784.9 1016.6 785.2 1013.8 785.5 1006.9 785.8 1009.5 786.1 1013.4 786.4 1018.2 786.7 1020.0 787.0 1013.6 787.3 1015.1 787.6 1024.5 787.9 1026.8 788.2 1022.3 788.5 1030.5 788.8 1027.5 789.1 1027.1 789.4 1003.9 789.7 1012.3 790.0 1016.8 790.3 1017.9 790.6 1024.2 790.9 1006.0 791.2 1016.7 791.5 1017.6 791.8 1012.2 792.1 1015.4 792.4 1026.2 792.7 1020.8 793.0 1015.2 793.3 1017.9 793.6 1016.1 793.9 1022.8 794.2 1015.9 794.5 1023.3 794.8 1014.1 795.1 1017.2 795.4 1011.3 795.7 1016.4 796.0 1022.9 796.3 1012.2 796.6 1014.5 796.9 1018.7 797.2 1016.1 797.5 1026.5 797.8 1011.6 798.1 1023.9 798.4 1027.1 798.7 1029.6 799.0 1018.5 799.3 1011.6 799.6 1010.7 799.9 1025.8 800.2 1024.4 800.5 1021.2 800.8 1021.6 801.1 1023.8 801.4 1017.7 801.7 1012.0 802.0 1007.5 802.3 1015.7 802.6 1015.1 802.9 1011.8 803.2 1018.0 803.5 1011.2 803.8 1024.7 804.1 1020.3 804.4 1028.6 804.7 1013.7 805.0 1014.9 805.3 1012.5 805.6 1023.7 805.9 1036.6 806.2 1022.6 806.5 1017.2 806.8 1022.7 807.1 1021.3 807.4 1031.1 807.7 1021.6 808.0 1016.8 808.3 1011.8 808.6 1024.0 808.9 1028.2 809.2 1022.9 809.5 1017.1 809.8 1019.6 810.1 1020.3 810.4 1027.8 810.7 1022.0 811.0 1034.1 811.3 1021.3 811.6 1018.9 811.9 1034.7 812.2 1017.1 812.5 1018.3 812.8 1036.6 813.1 1024.5 813.4 1034.6 813.7 1010.5 814.0 1031.0 814.3 1023.1 814.6 1023.8 814.9 1026.3 815.2 1009.8 815.5 1018.4 815.8 1027.7 816.1 1038.9 816.4 1019.4 816.7 1039.0 817.0 1029.9 817.3 1034.0 817.6 1015.2 817.9 1027.7 818.2 1016.2 818.5 1017.5 818.8 1037.0 819.1 1020.3 819.4 1021.4 819.7 1028.6 820.0 1019.9 820.3 1017.6 820.6 1025.9 820.9 1026.2 821.2 1034.4 821.5 1018.6 821.8 1029.2 822.1 1029.3 822.4 1022.4 822.7 1024.0 823.0 1025.1 823.3 1015.9 823.6 1018.1 823.9 1032.0 824.2 1019.5 824.5 1020.0 824.8 1030.3 825.1 1022.4 825.4 1023.3 825.7 1018.1 826.0 1019.0 826.3 1018.3 826.6 1018.4 826.9 1033.7 827.2 1020.6 827.5 1014.3 827.8 1020.0 828.1 1030.3 828.4 1019.8 828.7 1025.4 829.0 1021.0 829.3 1017.1 829.6 1023.2 829.9 1020.7 830.2 1027.4 830.5 1030.7 830.8 1026.1 831.1 1042.2 831.4 1017.1 831.7 1035.1 832.0 1029.3 832.3 1035.6 832.6 1031.6 832.9 1015.7 833.2 1023.9 833.5 1033.4 833.8 1027.3 834.1 1020.2 834.4 1024.2 834.7 1030.0 835.0 1035.0 835.3 1021.7 835.6 1028.0 835.9 1022.5 836.2 1021.2 836.5 1022.6 836.8 1040.8 837.1 1032.1 837.4 1026.3 837.7 1027.8 838.0 1032.6 838.3 1027.3 838.6 1025.6 838.9 1026.4 839.2 1032.0 839.5 1026.0 839.8 1033.0 840.1 1018.9 840.4 1024.3 840.7 1026.1 841.0 1032.0 841.3 1023.6 841.6 1025.7 841.9 1030.6 842.2 1028.2 842.5 1025.1 842.8 1027.0 843.1 1024.0 843.4 1033.9 843.7 1031.7 844.0 1034.4 844.3 1043.9 844.6 1037.1 844.9 1032.4 845.2 1029.1 845.5 1044.5 845.8 1031.8 846.1 1028.8 846.4 1038.1 846.7 1034.0 847.0 1028.9 847.3 1033.1 847.6 1050.6 847.9 1031.5 848.2 1033.0 848.5 1026.1 848.8 1028.3 849.1 1036.5 849.4 1030.5 849.7 1032.3 850.0 1038.0 850.3 1029.3 850.6 1041.1 850.9 1027.6 851.2 1027.1 851.5 1024.3 851.8 1023.3 852.1 1034.6 852.4 1031.4 852.7 1039.9 853.0 1027.2 853.3 1035.8 853.6 1039.6 853.9 1029.2 854.2 1029.7 854.5 1018.9 854.8 1051.2 855.1 1030.4 855.4 1035.3 855.7 1028.3 856.0 1034.4 856.3 1025.0 856.6 1038.4 856.9 1031.7 857.2 1029.1 857.5 1033.7 857.8 1016.4 858.1 1032.1 858.4 1028.7 858.7 1040.2 859.0 1035.8 859.3 1030.1 859.6 1029.5 859.9 1046.1 860.2 1025.7 860.5 1043.3 860.8 1036.7 861.1 1038.5 861.4 1021.4 861.7 1036.1 862.0 1028.3 862.3 1026.2 862.6 1036.6 862.9 1027.2 863.2 1034.5 863.5 1026.0 863.8 1036.5 864.1 1035.1 864.4 1026.5 864.7 1025.9 865.0 1027.3 865.3 1026.1 865.6 1025.5 865.9 1042.7 866.2 1033.5 866.5 1029.1 866.8 1029.2 867.1 1023.8 867.4 1032.6 867.7 1030.6 868.0 1027.3 868.3 1027.2 868.6 1028.7 868.9 1025.4 869.2 1031.7 869.5 1026.1 869.8 1034.2 870.1 1029.2 870.4 1034.2 870.7 1027.9 871.0 1021.6 871.3 1024.2 871.6 1029.5 871.9 1033.3 872.2 1034.7 872.5 1035.8 872.8 1035.2 873.1 1034.4 873.4 1033.8 873.7 1029.0 874.0 1034.5 874.3 1030.6 874.6 1030.8 874.9 1032.8 875.2 1046.1 875.5 1023.7 875.8 1028.7 876.1 1029.8 876.4 1033.8 876.7 1031.3 877.0 1041.6 877.3 1023.4 877.6 1042.8 877.9 1020.8 878.2 1027.5 878.5 1034.7 878.8 1031.9 879.1 1031.3 879.4 1031.9 879.7 1033.7 880.0 1037.3 880.3 1033.9 880.6 1024.9 880.9 1027.5 881.2 1039.9 881.5 1043.7 881.8 1037.1 882.1 1038.0 882.4 1034.3 882.7 1044.7 883.0 1028.4 883.3 1029.7 883.6 1027.4 883.9 1047.0 884.2 1028.7 884.5 1036.2 884.8 1024.4 885.1 1024.0 885.4 1037.5 885.7 1035.8 886.0 1036.7 886.3 1033.4 886.6 1029.0 886.9 1029.4 887.2 1025.8 887.5 1029.6 887.8 1039.9 888.1 1030.8 888.4 1020.7 888.7 1030.4 889.0 1026.5 889.3 1025.7 889.6 1031.1 889.9 1027.6 890.2 1025.2 890.5 1041.1 890.8 1042.4 891.1 1032.5 891.4 1046.1 891.7 1029.2 892.0 1031.5 892.3 1039.7 892.6 1033.4 892.9 1036.6 893.2 1010.9 893.5 1034.2 893.8 1029.4 894.1 1031.1 894.4 1019.2 894.7 1027.6 895.0 1035.2 895.3 1035.1 895.6 1038.8 895.9 1036.8 896.2 1038.3 896.5 1035.2 896.8 1030.5 897.1 1028.7 897.4 1029.6 897.7 1026.8 898.0 1026.7 898.3 1031.5 898.6 1021.0 898.9 1025.7 899.2 1025.0 899.5 1036.8 899.8 1038.6 900.1 1034.1 900.4 1032.0 900.7 1029.6 901.0 1039.0 901.3 1036.5 901.6 1026.6 901.9 1032.3 902.2 1036.1 902.5 1041.0 902.8 1029.5 903.1 1041.8 903.4 1039.7 903.7 1030.4 904.0 1031.7 904.3 1024.9 904.6 1028.1 904.9 1035.7 905.2 1041.7 905.5 1047.0 905.8 1034.2 906.1 1031.1 906.4 1029.8 906.7 1035.8 907.0 1029.3 907.3 1037.6 907.6 1032.8 907.9 1035.2 908.2 1030.7 908.5 1054.0 908.8 1040.5 909.1 1034.2 909.4 1029.1 909.7 1037.0 910.0 1038.2 910.3 1027.9 910.6 1034.3 910.9 1046.8 911.2 1035.0 911.5 1031.9 911.8 1037.5 912.1 1045.5 912.4 1031.8 912.7 1031.9 913.0 1032.9 913.3 1035.1 913.6 1041.5 913.9 1037.6 914.2 1023.7 914.5 1037.0 914.8 1036.9 915.1 1038.3 915.4 1037.3 915.7 1034.0 916.0 1037.7 916.3 1031.1 916.6 1026.3 916.9 1033.0 917.2 1025.8 917.5 1045.3 917.8 1034.3 918.1 1044.5 918.4 1028.0 918.7 1028.7 919.0 1037.4 919.3 1026.4 919.6 1031.6 919.9 1025.5 920.2 1037.4 920.5 1026.4 920.8 1034.3 921.1 1026.3 921.4 1037.9 921.7 1045.2 922.0 1035.8 922.3 1030.0 922.6 1039.0 922.9 1041.0 923.2 1042.3 923.5 1042.8 923.8 1047.1 924.1 1037.3 924.4 1034.0 924.7 1032.0 925.0 1035.4 925.3 1034.2 925.6 1032.7 925.9 1037.5 926.2 1047.9 926.5 1031.5 926.8 1031.4 927.1 1033.8 927.4 1030.4 927.7 1041.9 928.0 1034.9 928.3 1039.2 928.6 1027.8 928.9 1039.0 929.2 1035.2 929.5 1028.6 929.8 1040.9 930.1 1041.5 930.4 1037.3 930.7 1038.7 931.0 1028.0 931.3 1045.6 931.6 1034.9 931.9 1040.4 932.2 1039.7 932.5 1039.0 932.8 1030.0 933.1 1037.9 933.4 1037.2 933.7 1043.4 934.0 1032.5 934.3 1042.1 934.6 1039.3 934.9 1036.9 935.2 1048.2 935.5 1044.0 935.8 1031.9 936.1 1038.4 936.4 1030.3 936.7 1030.8 937.0 1034.2 937.3 1034.3 937.6 1047.3 937.9 1041.6 938.2 1025.6 938.5 1035.5 938.8 1033.4 939.1 1036.3 939.4 1038.5 939.7 1037.4 940.0 1039.6 940.3 1033.2 940.6 1045.7 940.9 1036.6 941.2 1044.6 941.5 1036.4 941.8 1040.2 942.1 1032.5 942.4 1044.0 942.7 1039.1 943.0 1035.4 943.3 1039.7 943.6 1040.3 943.9 1030.0 944.2 1033.7 944.5 1032.5 944.8 1042.5 945.1 1039.2 945.4 1034.2 945.7 1034.0 946.0 1037.5 946.3 1026.9 946.6 1036.9 946.9 1052.6 947.2 1030.8 947.5 1031.7 947.8 1028.4 948.1 1040.3 948.4 1031.4 948.7 1049.2 949.0 1036.8 949.3 1035.2 949.6 1032.3 949.9 1041.8 950.2 1044.2 950.5 1038.9 950.8 1050.1 951.1 1049.4 951.4 1040.0 951.7 1038.4 952.0 1035.1 952.3 1039.3 952.6 1036.2 952.9 1046.9 953.2 1042.4 953.5 1037.2 953.8 1036.1 954.1 1040.5 954.4 1044.3 954.7 1039.8 955.0 1044.2 955.3 1035.9 955.6 1040.2 955.9 1042.0 956.2 1039.4 956.5 1040.5 956.8 1044.3 957.1 1038.4 957.4 1044.2 957.7 1035.8 958.0 1041.3 958.3 1036.3 958.6 1036.5 958.9 1042.0 959.2 1050.7 959.5 1037.6 959.8 1039.6 960.1 1046.6 960.4 1032.1 960.7 1047.3 961.0 1032.9 961.3 1029.7 961.6 1040.8 961.9 1037.3 962.2 1036.2 962.5 1027.6 962.8 1040.9 963.1 1036.4 963.4 1032.9 963.7 1038.0 964.0 1029.2 964.3 1034.9 964.6 1032.2 964.9 1044.5 965.2 1037.9 965.5 1046.5 965.8 1032.2 966.1 1032.9 966.4 1049.5 966.7 1027.8 967.0 1046.0 967.3 1033.3 967.6 1043.0 967.9 1032.8 968.2 1047.9 968.5 1051.0 968.8 1045.0 969.1 1041.0 969.4 1035.9 969.7 1043.6 970.0 1052.0 970.3 1036.7 970.6 1033.4 970.9 1056.5 971.2 1037.3 971.5 1043.4 971.8 1040.3 972.1 1040.8 972.4 1037.8 972.7 1038.6 973.0 1031.1 973.3 1036.4 973.6 1032.3 973.9 1046.2 974.2 1037.7 974.5 1040.0 974.8 1026.3 975.1 1040.2 975.4 1054.0 975.7 1040.4 976.0 1047.6 976.3 1037.8 976.6 1036.3 976.9 1045.0 977.2 1037.1 977.5 1034.2 977.8 1039.0 978.1 1037.5 978.4 1049.4 978.7 1046.3 979.0 1032.4 979.3 1042.5 979.6 1029.0 979.9 1040.6 980.2 1044.9 980.5 1036.9 980.8 1036.9 981.1 1044.0 981.4 1038.1 981.7 1034.0 982.0 1049.5 982.3 1047.9 982.6 1044.1 982.9 1041.7 983.2 1045.7 983.5 1040.7 983.8 1047.1 984.1 1042.9 984.4 1036.4 984.7 1046.1 985.0 1040.9 985.3 1035.8 985.6 1037.7 985.9 1022.3 986.2 1031.9 986.5 1032.8 986.8 1046.4 987.1 1043.8 987.4 1050.7 987.7 1042.3 988.0 1056.5 988.3 1037.6 988.6 1036.0 988.9 1035.2 989.2 1041.0 989.5 1034.5 989.8 1035.2 990.1 1037.1 990.4 1041.2 990.7 1029.6 991.0 1039.8 991.3 1039.7 991.6 1049.7 991.9 1040.6 992.2 1033.4 992.5 1041.1 992.8 1041.3 993.1 1033.5 993.4 1026.3 993.7 1043.9 994.0 1037.9 994.3 1033.6 994.6 1038.0 994.9 1046.9 995.2 1049.9 995.5 1035.5 995.8 1048.4 996.1 1039.2 996.4 1039.5 996.7 1038.9 997.0 1039.0 997.3 1038.6 997.6 1035.8 997.9 1039.4 998.2 1034.2 998.5 1044.0 998.8 1033.7 999.1 1041.9 999.4 1038.5 999.7 1030.6 1000.0 1049.7 1000.3 1040.7 1000.6 1038.7 1000.9 1037.2 1001.2 1049.6 1001.5 1037.7 1001.8 1047.4 1002.1 1040.0 1002.4 1028.3 1002.7 1042.8 1003.0 1031.4 1003.3 1041.2 1003.6 1041.0 1003.9 1040.5 1004.2 1034.9 1004.5 1046.7 1004.8 1049.0 1005.1 1034.0 1005.4 1035.2 1005.7 1048.0 1006.0 1036.3 1006.3 1046.9 1006.6 1033.6 1006.9 1035.2 1007.2 1040.5 1007.5 1040.9 1007.8 1031.3 1008.1 1033.1 1008.4 1041.1 1008.7 1049.8 1009.0 1041.1 1009.3 1040.2 1009.6 1040.6 1009.9 1028.4 1010.2 1040.3 1010.5 1046.0 1010.8 1043.2 1011.1 1032.3 1011.4 1033.3 1011.7 1044.4 1012.0 1031.3 1012.3 1032.7 1012.6 1047.2 1012.9 1033.4 1013.2 1034.2 1013.5 1041.4 1013.8 1044.6 1014.1 1037.0 1014.4 1026.5 1014.7 1035.1 1015.0 1038.6 1015.3 1033.1 1015.6 1032.9 1015.9 1044.8 1016.2 1040.6 1016.5 1042.0 1016.8 1042.6 1017.1 1032.6 1017.4 1040.2 1017.7 1044.3 1018.0 1041.3 1018.3 1031.8 1018.6 1030.0 1018.9 1033.4 1019.2 1040.4 1019.5 1036.4 1019.8 1038.9 1020.1 1031.2 1020.4 1041.9 1020.7 1031.2 1021.0 1043.6 1021.3 1037.1 1021.6 1024.3 1021.9 1036.1 1022.2 1032.8 1022.5 1030.2 1022.8 1036.3 1023.1 1046.5 1023.4 1041.7 1023.7 1045.0 1024.0 1037.0 1024.3 1028.2 1024.6 1034.1 1024.9 1032.4 1025.2 1033.4 1025.5 1050.9 1025.8 1041.3 1026.1 1032.0 1026.4 1047.4 1026.7 1035.2 1027.0 1030.2 1027.3 1047.1 1027.6 1034.3 1027.9 1037.4 1028.2 1050.4 1028.5 1031.6 1028.8 1042.4 1029.1 1033.8 1029.4 1031.1 1029.7 1035.2 1030.0 1037.4 1030.3 1037.5 1030.6 1029.1 1030.9 1041.0 1031.2 1032.1 1031.5 1038.0 1031.8 1037.4 1032.1 1033.5 1032.4 1039.5 1032.7 1032.7 1033.0 1031.6 1033.3 1029.4 1033.6 1027.5 1033.9 1032.7 1034.2 1020.0 1034.5 1034.3 1034.8 1033.3 1035.1 1051.0 1035.4 1030.4 1035.7 1042.4 1036.0 1037.9 1036.3 1038.2 1036.6 1032.7 1036.9 1031.8 1037.2 1034.2 1037.5 1035.6 1037.8 1038.9 1038.1 1031.4 1038.4 1044.7 1038.7 1045.4 1039.0 1024.7 1039.3 1036.3 1039.6 1035.0 1039.9 1027.6 1040.2 1016.4 1040.5 1027.3 1040.8 1034.4 1041.1 1041.1 1041.4 1037.6 1041.7 1037.9 1042.0 1033.9 1042.3 1040.6 1042.6 1037.5 1042.9 1041.1 1043.2 1033.4 1043.5 1031.4 1043.8 1027.3 1044.1 1043.3 1044.4 1031.5 1044.7 1026.0 1045.0 1024.6 1045.3 1038.9 1045.6 1023.4 1045.9 1034.4 1046.2 1036.1 1046.5 1041.9 1046.8 1027.9 1047.1 1024.8 1047.4 1038.4 1047.7 1034.9 1048.0 1030.3 1048.3 1033.2 1048.6 1044.2 1048.9 1033.5 1049.2 1027.7 1049.5 1032.6 1049.8 1036.1 1050.1 1034.8 1050.4 1034.6 1050.7 1034.5 1051.0 1027.0 1051.3 1035.8 1051.6 1038.2 1051.9 1037.9 1052.2 1032.0 1052.5 1031.8 1052.8 1033.1 1053.1 1032.4 1053.4 1024.3 1053.7 1030.7 1054.0 1038.9 1054.3 1028.9 1054.6 1029.0 1054.9 1034.9 1055.2 1032.1 1055.5 1028.0 1055.8 1032.3 1056.1 1041.1 1056.4 1041.8 1056.7 1032.0 1057.0 1029.6 1057.3 1041.6 1057.6 1033.4 1057.9 1033.8 1058.2 1030.4 1058.5 1024.4 1058.8 1023.7 1059.1 1030.1 1059.4 1021.9 1059.7 1034.8 1060.0 1038.4 1060.3 1043.5 1060.6 1031.0 1060.9 1041.4 1061.2 1037.1 1061.5 1032.0 1061.8 1034.0 1062.1 1027.0 1062.4 1016.4 1062.7 1035.4 1063.0 1032.2 1063.3 1039.1 1063.6 1033.6 1063.9 1028.4 1064.2 1026.8 1064.5 1026.1 1064.8 1030.4 1065.1 1020.5 1065.4 1020.1 1065.7 1036.0 1066.0 1019.4 1066.3 1016.7 1066.6 1025.5 1066.9 1025.0 1067.2 1028.6 1067.5 1035.5 1067.8 1029.6 1068.1 1031.2 1068.4 1025.0 1068.7 1028.0 1069.0 1024.2 1069.3 1027.1 1069.6 1030.7 1069.9 1030.2 1070.2 1018.7 1070.5 1021.8 1070.8 1038.8 1071.1 1017.9 1071.4 1027.4 1071.7 1021.4 1072.0 1025.8 1072.3 1023.9 1072.6 1027.1 1072.9 1021.3 1073.2 1032.3 1073.5 1046.8 1073.8 1015.6 1074.1 1022.2 1074.4 1019.2 1074.7 1027.1 1075.0 1034.1 1075.3 1034.0 1075.6 1033.5 1075.9 1027.4 1076.2 1023.5 1076.5 1032.5 1076.8 1023.3 1077.1 1020.2 1077.4 1026.9 1077.7 1020.8 1078.0 1025.8 1078.3 1022.4 1078.6 1027.6 1078.9 1032.5 1079.2 1024.6 1079.5 1030.1 1079.8 1033.0 1080.1 1024.1 1080.4 1027.6 1080.7 1026.3 1081.0 1038.6 1081.3 1025.9 1081.6 1029.2 1081.9 1022.1 1082.2 1024.4 1082.5 1032.2 1082.8 1027.8 1083.1 1033.4 1083.4 1029.9 1083.7 1043.1 1084.0 1027.8 1084.3 1035.1 1084.6 1026.6 1084.9 1028.1 1085.2 1023.3 1085.5 1052.0 1085.8 1021.3 1086.1 1031.5 1086.4 1028.8 1086.7 1035.5 1087.0 1028.6 1087.3 1042.3 1087.6 1037.9 1087.9 1034.7 1088.2 1034.7 1088.5 1038.0 1088.8 1036.0 1089.1 1041.5 1089.4 1037.5 1089.7 1032.7 1090.0 1035.4 1090.3 1035.1 1090.6 1040.0 1090.9 1032.3 1091.2 1034.3 1091.5 1027.9 1091.8 1037.7 1092.1 1035.6 1092.4 1031.1 1092.7 1044.4 1093.0 1034.9 1093.3 1026.1 1093.6 1041.4 1093.9 1034.3 1094.2 1022.3 1094.5 1038.5 1094.8 1035.6 1095.1 1036.2 1095.4 1034.9 1095.7 1032.1 1096.0 1036.8 1096.3 1028.5 1096.6 1035.6 1096.9 1041.3 1097.2 1042.2 1097.5 1034.4 1097.8 1055.0 1098.1 1039.9 1098.4 1034.0 1098.7 1038.4 1099.0 1034.3 1099.3 1045.4 1099.6 1033.4 1099.9 1034.7 1100.2 1029.6 1100.5 1034.5 1100.8 1037.2 1101.1 1049.3 1101.4 1041.0 1101.7 1045.5 1102.0 1039.4 1102.3 1044.4 1102.6 1034.4 1102.9 1034.2 1103.2 1050.4 1103.5 1041.9 1103.8 1032.7 1104.1 1043.4 1104.4 1039.3 1104.7 1038.4 1105.0 1045.1 1105.3 1035.0 1105.6 1047.7 1105.9 1042.4 1106.2 1038.8 1106.5 1031.3 1106.8 1057.5 1107.1 1039.8 1107.4 1035.3 1107.7 1041.2 1108.0 1044.6 1108.3 1045.5 1108.6 1050.6 1108.9 1045.5 1109.2 1042.2 1109.5 1055.8 1109.8 1054.5 1110.1 1037.8 1110.4 1048.5 1110.7 1040.5 1111.0 1051.9 1111.3 1039.1 1111.6 1046.3 1111.9 1058.1 1112.2 1045.7 1112.5 1050.0 1112.8 1040.7 1113.1 1038.3 1113.4 1038.7 1113.7 1047.6 1114.0 1041.2 1114.3 1052.6 1114.6 1041.8 1114.9 1056.4 1115.2 1047.5 1115.5 1039.4 1115.8 1044.9 1116.1 1047.2 1116.4 1048.9 1116.7 1044.2 1117.0 1050.8 1117.3 1050.0 1117.6 1050.0 1117.9 1038.9 1118.2 1035.5 1118.5 1048.0 1118.8 1038.6 1119.1 1042.3 1119.4 1043.8 1119.7 1046.8 1120.0 1037.1 1120.3 1044.5 1120.6 1057.3 1120.9 1038.5 1121.2 1043.8 1121.5 1058.2 1121.8 1049.8 1122.1 1048.7 1122.4 1046.2 1122.7 1038.8 1123.0 1046.1 1123.3 1041.0 1123.6 1046.2 1123.9 1041.9 1124.2 1040.1 1124.5 1045.7 1124.8 1055.1 1125.1 1042.0 1125.4 1046.8 1125.7 1052.1 1126.0 1048.6 1126.3 1036.5 1126.6 1043.2 1126.9 1049.0 1127.2 1046.2 1127.5 1062.0 1127.8 1049.2 1128.1 1041.9 1128.4 1049.8 1128.7 1052.3 1129.0 1051.8 1129.3 1049.0 1129.6 1039.8 1129.9 1046.1 1130.2 1049.5 1130.5 1044.5 1130.8 1044.8 1131.1 1048.8 1131.4 1043.4 1131.7 1042.3 1132.0 1045.8 1132.3 1046.2 1132.6 1051.2 1132.9 1045.8 1133.2 1041.3 1133.5 1049.2 1133.8 1043.0 1134.1 1053.1 1134.4 1044.0 1134.7 1049.9 1135.0 1048.5 1135.3 1046.0 1135.6 1037.6 1135.9 1045.1 1136.2 1054.8 1136.5 1048.1 1136.8 1053.4 1137.1 1047.5 1137.4 1047.3 1137.7 1042.7 1138.0 1049.3 1138.3 1043.3 1138.6 1041.0 1138.9 1052.9 1139.2 1042.7 1139.5 1060.3 1139.8 1047.5 1140.1 1044.8 1140.4 1054.8 1140.7 1043.0 1141.0 1048.3 1141.3 1047.9 1141.6 1055.8 1141.9 1063.1 1142.2 1049.6 1142.5 1041.9 1142.8 1041.8 1143.1 1045.5 1143.4 1054.7 1143.7 1048.7 1144.0 1050.2 1144.3 1045.6 1144.6 1055.4 1144.9 1042.9 1145.2 1058.9 1145.5 1054.6 1145.8 1051.9 1146.1 1048.1 1146.4 1046.9 1146.7 1048.3 1147.0 1045.8 1147.3 1046.4 1147.6 1042.3 1147.9 1052.5 1148.2 1049.0 1148.5 1050.8 1148.8 1045.1 1149.1 1042.9 1149.4 1044.3 1149.7 1049.8 1150.0 1040.0 1150.3 1053.6 1150.6 1041.7 1150.9 1046.6 1151.2 1050.0 1151.5 1043.4 1151.8 1039.9 1152.1 1055.0 1152.4 1048.1 1152.7 1045.9 1153.0 1057.6 1153.3 1068.3 1153.6 1049.2 1153.9 1050.7 1154.2 1062.1 1154.5 1046.2 1154.8 1055.6 1155.1 1054.3 1155.4 1044.8 1155.7 1042.0 1156.0 1045.7 1156.3 1050.1 1156.6 1051.2 1156.9 1070.1 1157.2 1044.8 1157.5 1051.0 1157.8 1045.9 1158.1 1054.1 1158.4 1051.9 1158.7 1040.1 1159.0 1047.6 1159.3 1050.1 1159.6 1053.6 1159.9 1052.6 1160.2 1053.4 1160.5 1050.1 1160.8 1053.1 1161.1 1050.4 1161.4 1055.1 1161.7 1053.1 1162.0 1046.0 1162.3 1049.8 1162.6 1044.4 1162.9 1049.6 1163.2 1053.1 1163.5 1050.7 1163.8 1049.7 1164.1 1047.4 1164.4 1058.2 1164.7 1050.4 1165.0 1045.8 1165.3 1048.1 1165.6 1055.3 1165.9 1061.6 1166.2 1057.1 1166.5 1048.8 1166.8 1054.9 1167.1 1043.1 1167.4 1054.8 1167.7 1048.8 1168.0 1051.8 1168.3 1044.9 1168.6 1052.4 1168.9 1041.3 1169.2 1043.3 1169.5 1058.6 1169.8 1045.0 1170.1 1058.3 1170.4 1048.0 1170.7 1050.1 1171.0 1050.6 1171.3 1056.5 1171.6 1054.2 1171.9 1046.6 1172.2 1048.3 1172.5 1057.7 1172.8 1057.9 1173.1 1048.5 1173.4 1058.1 1173.7 1050.4 1174.0 1056.0 1174.3 1046.2 1174.6 1055.0 1174.9 1048.2 1175.2 1045.1 1175.5 1053.9 1175.8 1053.7 1176.1 1044.2 1176.4 1041.1 1176.7 1050.3 1177.0 1053.1 1177.3 1048.4 1177.6 1051.3 1177.9 1048.9 1178.2 1048.3 1178.5 1052.9 1178.8 1061.2 1179.1 1054.6 1179.4 1049.4 1179.7 1047.8 1180.0 1052.0 1180.3 1041.7 1180.6 1051.5 1180.9 1050.1 1181.2 1050.9 1181.5 1049.7 1181.8 1050.1 1182.1 1044.6 1182.4 1054.4 1182.7 1049.6 1183.0 1051.1 1183.3 1048.8 1183.6 1044.6 1183.9 1054.3 1184.2 1050.1 1184.5 1050.0 1184.8 1054.1 1185.1 1065.6 1185.4 1051.1 1185.7 1054.0 1186.0 1067.1 1186.3 1049.9 1186.6 1057.7 1186.9 1051.6 1187.2 1056.6 1187.5 1052.0 1187.8 1056.4 1188.1 1048.0 1188.4 1049.2 1188.7 1048.6 1189.0 1050.1 1189.3 1057.2 1189.6 1053.7 1189.9 1054.9 1190.2 1050.6 1190.5 1052.1 1190.8 1053.8 1191.1 1053.5 1191.4 1047.5 1191.7 1049.9 1192.0 1044.0 1192.3 1055.6 1192.6 1060.5 1192.9 1062.0 1193.2 1039.6 1193.5 1058.6 1193.8 1054.7 1194.1 1064.4 1194.4 1049.7 1194.7 1048.3 1195.0 1052.9 1195.3 1045.5 1195.6 1045.6 1195.9 1054.7 1196.2 1044.6 1196.5 1046.8 1196.8 1058.0 1197.1 1056.4 1197.4 1046.0 1197.7 1063.3 1198.0 1052.1 1198.3 1049.0 1198.6 1052.4 1198.9 1051.3 1199.2 1057.7 1199.5 1056.2 1199.8 1047.7 1200.1 1047.6 1200.4 1055.5 1200.7 1048.8 1201.0 1047.2 1201.3 1035.8 1201.6 1055.9 1201.9 1051.6 1202.2 1050.6 1202.5 1045.0 1202.8 1049.0 1203.1 1051.4 1203.4 1046.5 1203.7 1052.0 1204.0 1060.6 1204.3 1049.1 1204.6 1051.6 1204.9 1059.8 1205.2 1052.0 1205.5 1059.7 1205.8 1056.7 1206.1 1058.8 1206.4 1050.1 1206.7 1049.4 1207.0 1062.3 1207.3 1052.2 1207.6 1050.5 1207.9 1042.4 1208.2 1050.8 1208.5 1064.2 1208.8 1054.7 1209.1 1061.0 1209.4 1052.7 1209.7 1045.4 1210.0 1052.3 1210.3 1066.7 1210.6 1052.5 1210.9 1050.2 1211.2 1050.8 1211.5 1046.3 1211.8 1049.9 1212.1 1052.2 1212.4 1056.5 1212.7 1055.4 1213.0 1043.6 1213.3 1043.3 1213.6 1048.9 1213.9 1048.0 1214.2 1055.7 1214.5 1046.9 1214.8 1054.5 1215.1 1048.2 1215.4 1057.3 1215.7 1051.7 1216.0 1043.1 1216.3 1041.7 1216.6 1053.7 1216.9 1046.8 1217.2 1056.3 1217.5 1051.1 1217.8 1060.8 1218.1 1050.9 1218.4 1047.8 1218.7 1042.8 1219.0 1053.7 1219.3 1049.4 1219.6 1049.7 1219.9 1063.9 1220.2 1055.2 1220.5 1046.9 1220.8 1056.3 1221.1 1044.4 1221.4 1048.2 1221.7 1055.4 1222.0 1045.4 1222.3 1051.1 1222.6 1051.4 1222.9 1052.0 1223.2 1046.7 1223.5 1044.9 1223.8 1050.8 1224.1 1056.0 1224.4 1046.6 1224.7 1055.1 1225.0 1056.7 1225.3 1052.6 1225.6 1056.2 1225.9 1056.0 1226.2 1057.3 1226.5 1053.0 1226.8 1052.5 1227.1 1052.8 1227.4 1057.2 1227.7 1048.7 1228.0 1058.8 1228.3 1046.9 1228.6 1061.6 1228.9 1054.3 1229.2 1063.6 1229.5 1052.4 1229.8 1056.5 1230.1 1044.3 1230.4 1049.8 1230.7 1052.1 1231.0 1053.1 1231.3 1056.3 1231.6 1051.8 1231.9 1050.8 1232.2 1055.9 1232.5 1044.5 1232.8 1047.6 1233.1 1054.5 1233.4 1050.7 1233.7 1057.2 1234.0 1047.9 1234.3 1049.3 1234.6 1054.2 1234.9 1060.4 1235.2 1045.3 1235.5 1043.6 1235.8 1045.6 1236.1 1045.5 1236.4 1052.2 1236.7 1058.5 1237.0 1050.9 1237.3 1052.1 1237.6 1054.1 1237.9 1052.8 1238.2 1052.4 1238.5 1052.1 1238.8 1056.7 1239.1 1045.9 1239.4 1048.6 1239.7 1052.2 1240.0 1063.4 1240.3 1044.6 1240.6 1054.8 1240.9 1047.5 1241.2 1050.1 1241.5 1047.3 1241.8 1060.9 1242.1 1052.7 1242.4 1048.6 1242.7 1055.8 1243.0 1047.7 1243.3 1052.2 1243.6 1041.4 1243.9 1049.4 1244.2 1053.5 1244.5 1052.5 1244.8 1047.0 1245.1 1047.3 1245.4 1038.8 1245.7 1042.0 1246.0 1049.7 1246.3 1056.5 1246.6 1053.1 1246.9 1053.6 1247.2 1050.8 1247.5 1050.6 1247.8 1050.4 1248.1 1059.5 1248.4 1049.2 1248.7 1056.9 1249.0 1044.6 1249.3 1043.0 1249.6 1050.4 1249.9 1040.3 1250.2 1063.5 1250.5 1051.9 1250.8 1052.8 1251.1 1048.6 1251.4 1053.2 1251.7 1046.0 1252.0 1057.7 1252.3 1057.5 1252.6 1047.7 1252.9 1046.9 1253.2 1044.3 1253.5 1040.8 1253.8 1057.4 1254.1 1054.9 1254.4 1059.2 1254.7 1053.6 1255.0 1055.5 1255.3 1054.4 1255.6 1048.8 1255.9 1052.0 1256.2 1059.0 1256.5 1051.8 1256.8 1046.7 1257.1 1044.2 1257.4 1062.9 1257.7 1045.0 1258.0 1048.0 1258.3 1051.4 1258.6 1050.7 1258.9 1056.3 1259.2 1049.2 1259.5 1054.4 1259.8 1051.5 1260.1 1052.0 1260.4 1050.0 1260.7 1047.1 1261.0 1048.7 1261.3 1043.1 1261.6 1048.0 1261.9 1051.6 1262.2 1053.1 1262.5 1045.9 1262.8 1047.5 1263.1 1049.4 1263.4 1057.7 1263.7 1051.9 1264.0 1052.7 1264.3 1057.2 1264.6 1053.3 1264.9 1048.5 1265.2 1059.7 1265.5 1050.3 1265.8 1057.0 1266.1 1052.9 1266.4 1054.0 1266.7 1057.6 1267.0 1047.8 1267.3 1044.6 1267.6 1053.5 1267.9 1050.5 1268.2 1049.5 1268.5 1051.1 1268.8 1043.9 1269.1 1050.6 1269.4 1049.3 1269.7 1052.1 1270.0 1050.1 1270.3 1048.9 1270.6 1053.8 1270.9 1056.0 1271.2 1050.1 1271.5 1046.6 1271.8 1047.3 1272.1 1056.5 1272.4 1039.0 1272.7 1050.5 1273.0 1052.2 1273.3 1052.4 1273.6 1041.8 1273.9 1051.0 1274.2 1041.1 1274.5 1047.3 1274.8 1045.4 1275.1 1041.4 1275.4 1058.3 1275.7 1047.8 1276.0 1042.6 1276.3 1044.4 1276.6 1048.5 1276.9 1053.9 1277.2 1049.2 1277.5 1040.4 1277.8 1061.2 1278.1 1050.9 1278.4 1062.0 1278.7 1056.3 1279.0 1050.9 1279.3 1056.3 1279.6 1049.0 1279.9 1054.7 1280.2 1042.7 1280.5 1042.0 1280.8 1044.8 1281.1 1052.0 1281.4 1050.2 1281.7 1046.3 1282.0 1046.9 1282.3 1045.1 1282.6 1050.1 1282.9 1054.9 1283.2 1054.4 1283.5 1047.8 1283.8 1049.1 1284.1 1052.4 1284.4 1044.9 1284.7 1049.6 1285.0 1052.3 1285.3 1051.7 1285.6 1047.5 1285.9 1043.5 1286.2 1045.6 1286.5 1056.7 1286.8 1049.5 1287.1 1044.2 1287.4 1041.3 1287.7 1049.6 1288.0 1057.2 1288.3 1048.3 1288.6 1045.6 1288.9 1053.4 1289.2 1048.0 1289.5 1048.8 1289.8 1050.8 1290.1 1047.9 1290.4 1052.7 1290.7 1053.4 1291.0 1048.9 1291.3 1046.8 1291.6 1050.8 1291.9 1039.3 1292.2 1047.4 1292.5 1045.0 1292.8 1052.8 1293.1 1044.6 1293.4 1054.5 1293.7 1047.9 1294.0 1051.1 1294.3 1055.7 1294.6 1049.9 1294.9 1046.4 1295.2 1050.5 1295.5 1050.6 1295.8 1059.1 1296.1 1048.8 1296.4 1053.6 1296.7 1055.8 1297.0 1054.6 1297.3 1048.0 1297.6 1044.0 1297.9 1057.3 1298.2 1057.8 1298.5 1054.1 1298.8 1055.0 1299.1 1049.9 1299.4 1055.8 1299.7 1055.9 1300.0 1049.3 1300.3 1055.4 1300.6 1049.0 1300.9 1042.8 1301.2 1051.1 1301.5 1048.5 1301.8 1052.8 1302.1 1051.9 1302.4 1048.3 1302.7 1051.1 1303.0 1047.1 1303.3 1053.1 1303.6 1045.0 1303.9 1039.7 1304.2 1054.1 1304.5 1040.8 1304.8 1047.7 1305.1 1047.4 1305.4 1053.0 1305.7 1047.1 1306.0 1047.0 1306.3 1036.5 1306.6 1053.5 1306.9 1044.0 1307.2 1048.3 1307.5 1045.0 1307.8 1054.1 1308.1 1044.4 1308.4 1039.0 1308.7 1054.9 1309.0 1045.4 1309.3 1049.4 1309.6 1050.3 1309.9 1041.9 1310.2 1053.3 1310.5 1043.8 1310.8 1048.6 1311.1 1050.3 1311.4 1047.8 1311.7 1044.3 1312.0 1052.8 1312.3 1044.3 1312.6 1042.5 1312.9 1054.0 1313.2 1054.3 1313.5 1040.4 1313.8 1047.1 1314.1 1048.0 1314.4 1037.1 1314.7 1043.7 1315.0 1053.7 1315.3 1043.6 1315.6 1054.5 1315.9 1058.2 1316.2 1047.2 1316.5 1044.6 1316.8 1048.2 1317.1 1041.8 1317.4 1054.3 1317.7 1050.2 1318.0 1041.8 1318.3 1044.3 1318.6 1046.3 1318.9 1053.2 1319.2 1051.9 1319.5 1044.9 1319.8 1048.6 1320.1 1044.3 1320.4 1050.0 1320.7 1046.4 1321.0 1058.8 1321.3 1049.9 1321.6 1046.4 1321.9 1043.0 1322.2 1041.6 1322.5 1051.1 1322.8 1053.9 1323.1 1055.6 1323.4 1043.0 1323.7 1051.2 1324.0 1042.2 1324.3 1050.8 1324.6 1050.2 1324.9 1049.1 1325.2 1046.0 1325.5 1045.2 1325.8 1045.7 1326.1 1039.4 1326.4 1050.6 1326.7 1042.4 1327.0 1048.4 1327.3 1047.1 1327.6 1052.7 1327.9 1047.6 1328.2 1047.4 1328.5 1048.7 1328.8 1055.0 1329.1 1045.5 1329.4 1043.4 1329.7 1047.4 1330.0 1046.8 1330.3 1050.8 1330.6 1050.2 1330.9 1048.4 1331.2 1052.9 1331.5 1048.7 1331.8 1050.3 1332.1 1045.4 1332.4 1054.9 1332.7 1050.4 1333.0 1043.1 1333.3 1043.3 1333.6 1061.9 1333.9 1048.3 1334.2 1056.2 1334.5 1066.4 1334.8 1047.9 1335.1 1048.7 1335.4 1051.2 1335.7 1043.2 1336.0 1039.6 1336.3 1056.9 1336.6 1043.6 1336.9 1046.3 1337.2 1054.8 1337.5 1047.9 1337.8 1051.8 1338.1 1049.7 1338.4 1041.6 1338.7 1043.7 1339.0 1047.5 1339.3 1042.8 1339.6 1051.9 1339.9 1050.0 1340.2 1040.3 1340.5 1049.3 1340.8 1044.6 1341.1 1045.5 1341.4 1050.4 1341.7 1034.6 1342.0 1042.7 1342.3 1048.1 1342.6 1040.5 1342.9 1053.2 1343.2 1034.7 1343.5 1052.0 1343.8 1050.2 1344.1 1043.6 1344.4 1047.0 1344.7 1043.2 1345.0 1056.2 1345.3 1046.3 1345.6 1050.1 1345.9 1047.8 1346.2 1040.4 1346.5 1038.4 1346.8 1047.1 1347.1 1057.7 1347.4 1049.4 1347.7 1044.9 1348.0 1048.3 1348.3 1044.6 1348.6 1052.6 1348.9 1049.1 1349.2 1047.7 1349.5 1063.8 1349.8 1041.9 1350.1 1042.1 1350.4 1045.0 1350.7 1042.2 1351.0 1043.5 1351.3 1049.0 1351.6 1048.6 1351.9 1038.8 1352.2 1042.9 1352.5 1043.6 1352.8 1038.3 1353.1 1048.8 1353.4 1046.4 1353.7 1048.1 1354.0 1040.9 1354.3 1043.1 1354.6 1046.8 1354.9 1046.0 1355.2 1043.6 1355.5 1047.9 1355.8 1040.5 1356.1 1050.1 1356.4 1047.5 1356.7 1042.9 1357.0 1036.6 1357.3 1046.8 1357.6 1053.9 1357.9 1045.5 1358.2 1052.5 1358.5 1049.0 1358.8 1051.8 1359.1 1039.2 1359.4 1042.5 1359.7 1045.9 1360.0 1046.5 1360.3 1044.7 1360.6 1042.2 1360.9 1031.2 1361.2 1050.8 1361.5 1050.9 1361.8 1043.1 1362.1 1045.4 1362.4 1042.4 1362.7 1052.8 1363.0 1043.3 1363.3 1050.9 1363.6 1042.9 1363.9 1038.5 1364.2 1038.3 1364.5 1048.1 1364.8 1042.3 1365.1 1047.7 1365.4 1053.2 1365.7 1047.2 1366.0 1052.5 1366.3 1041.9 1366.6 1041.5 1366.9 1046.3 1367.2 1044.3 1367.5 1052.9 1367.8 1037.8 1368.1 1040.2 1368.4 1051.3 1368.7 1041.4 1369.0 1043.8 1369.3 1042.6 1369.6 1044.6 1369.9 1061.7 1370.2 1050.0 1370.5 1044.8 1370.8 1054.5 1371.1 1040.6 1371.4 1045.9 1371.7 1054.5 1372.0 1039.3 1372.3 1040.6 1372.6 1040.6 1372.9 1043.0 1373.2 1050.4 1373.5 1052.2 1373.8 1050.2 1374.1 1051.1 1374.4 1047.1 1374.7 1042.2 1375.0 1040.6 1375.3 1044.5 1375.6 1040.6 1375.9 1039.3 1376.2 1048.4 1376.5 1038.2 1376.8 1043.0 1377.1 1055.0 1377.4 1046.7 1377.7 1046.8 1378.0 1043.2 1378.3 1040.4 1378.6 1047.0 1378.9 1042.4 1379.2 1042.8 1379.5 1041.5 1379.8 1046.0 1380.1 1045.3 1380.4 1035.5 1380.7 1040.0 1381.0 1043.2 1381.3 1053.5 1381.6 1039.9 1381.9 1045.7 1382.2 1049.4 1382.5 1049.3 1382.8 1041.7 1383.1 1050.7 1383.4 1045.1 1383.7 1044.3 1384.0 1041.7 1384.3 1032.1 1384.6 1041.6 1384.9 1033.3 1385.2 1047.9 1385.5 1045.7 1385.8 1052.6 1386.1 1037.6 1386.4 1037.2 1386.7 1042.7 1387.0 1044.5 1387.3 1047.7 1387.6 1038.7 1387.9 1036.2 1388.2 1036.3 1388.5 1055.9 1388.8 1039.1 1389.1 1040.7 1389.4 1047.4 1389.7 1046.2 1390.0 1041.5 1390.3 1032.4 1390.6 1046.4 1390.9 1041.1 1391.2 1049.9 1391.5 1043.9 1391.8 1046.3 1392.1 1036.1 1392.4 1044.0 1392.7 1043.5 1393.0 1041.9 1393.3 1045.9 1393.6 1046.7 1393.9 1040.6 1394.2 1048.6 1394.5 1055.8 1394.8 1048.0 1395.1 1043.6 1395.4 1046.3 1395.7 1042.8 1396.0 1045.7 1396.3 1050.4 1396.6 1043.1 1396.9 1047.8 1397.2 1053.0 1397.5 1043.8 1397.8 1041.5 1398.1 1043.0 1398.4 1048.0 1398.7 1046.7 1399.0 1042.3 1399.3 1035.0 1399.6 1047.3 1399.9 1047.1 1400.2 1047.0 1400.5 1042.1 1400.8 1036.4 1401.1 1043.5 1401.4 1041.9 1401.7 1047.9 1402.0 1052.9 1402.3 1051.8 1402.6 1044.1 1402.9 1051.4 1403.2 1041.7 1403.5 1049.1 1403.8 1046.0 1404.1 1043.5 1404.4 1047.5 1404.7 1046.5 1405.0 1052.7 1405.3 1045.6 1405.6 1045.3 1405.9 1053.0 1406.2 1048.9 1406.5 1047.2 1406.8 1056.6 1407.1 1036.7 1407.4 1040.2 1407.7 1043.8 1408.0 1053.1 1408.3 1054.4 1408.6 1049.6 1408.9 1042.9 1409.2 1041.2 1409.5 1050.0 1409.8 1050.8 1410.1 1044.8 1410.4 1052.7 1410.7 1056.1 1411.0 1041.9 1411.3 1049.2 1411.6 1042.1 1411.9 1048.9 1412.2 1039.6 1412.5 1048.8 1412.8 1064.3 1413.1 1045.2 1413.4 1055.3 1413.7 1054.7 1414.0 1054.0 1414.3 1046.1 1414.6 1041.9 1414.9 1048.2 1415.2 1051.0 1415.5 1044.4 1415.8 1044.1 1416.1 1042.6 1416.4 1059.0 1416.7 1039.6 1417.0 1051.9 1417.3 1045.8 1417.6 1057.7 1417.9 1054.4 1418.2 1043.6 1418.5 1047.8 1418.8 1046.1 1419.1 1052.7 1419.4 1047.6 1419.7 1052.1 1420.0 1050.6 1420.3 1045.7 1420.6 1053.5 1420.9 1050.6 1421.2 1050.9 1421.5 1046.5 1421.8 1051.9 1422.1 1045.9 1422.4 1055.0 1422.7 1050.5 1423.0 1034.2 1423.3 1053.7 1423.6 1051.2 1423.9 1048.9 1424.2 1055.3 1424.5 1042.5 1424.8 1051.7 1425.1 1045.5 1425.4 1049.9 1425.7 1045.7 1426.0 1043.4 1426.3 1047.4 1426.6 1038.1 1426.9 1049.1 1427.2 1052.5 1427.5 1055.4 1427.8 1051.0 1428.1 1047.0 1428.4 1048.3 1428.7 1048.6 1429.0 1055.3 1429.3 1045.1 1429.6 1046.9 1429.9 1041.0 1430.2 1055.4 1430.5 1041.4 1430.8 1044.0 1431.1 1041.5 1431.4 1050.6 1431.7 1048.2 1432.0 1047.8 1432.3 1040.3 1432.6 1047.1 1432.9 1055.1 1433.2 1039.4 1433.5 1050.0 1433.8 1056.1 1434.1 1044.7 1434.4 1052.6 1434.7 1052.7 1435.0 1044.2 1435.3 1049.2 1435.6 1052.7 1435.9 1053.8 1436.2 1047.1 1436.5 1043.7 1436.8 1050.5 1437.1 1050.5 1437.4 1053.0 1437.7 1056.7 1438.0 1055.3 1438.3 1054.2 1438.6 1048.7 1438.9 1056.3 1439.2 1055.8 1439.5 1047.8 1439.8 1048.1 1440.1 1041.3 1440.4 1048.2 1440.7 1050.4 1441.0 1049.4 1441.3 1053.3 1441.6 1050.7 1441.9 1046.8 1442.2 1056.6 1442.5 1043.7 1442.8 1055.6 1443.1 1051.3 1443.4 1052.0 1443.7 1047.9 1444.0 1051.4 1444.3 1063.8 1444.6 1048.2 1444.9 1052.4 1445.2 1051.6 1445.5 1039.7 1445.8 1048.5 1446.1 1052.5 1446.4 1046.5 1446.7 1049.8 1447.0 1046.1 1447.3 1059.2 1447.6 1052.6 1447.9 1050.3 1448.2 1048.0 1448.5 1055.8 1448.8 1051.9 1449.1 1055.2 1449.4 1054.2 1449.7 1045.8 1450.0 1053.7 1450.3 1042.2 1450.6 1035.1 1450.9 1050.1 1451.2 1059.8 1451.5 1053.9 1451.8 1054.0 1452.1 1045.5 1452.4 1050.8 1452.7 1053.9 1453.0 1038.2 1453.3 1048.2 1453.6 1049.4 1453.9 1055.8 1454.2 1057.5 1454.5 1049.1 1454.8 1059.0 1455.1 1052.4 1455.4 1051.4 1455.7 1058.2 1456.0 1048.6 1456.3 1049.1 1456.6 1046.8 1456.9 1048.6 1457.2 1038.1 1457.5 1070.8 1457.8 1055.3 1458.1 1061.5 1458.4 1045.9 1458.7 1040.3 1459.0 1059.3 1459.3 1051.0 1459.6 1050.7 1459.9 1050.2 1460.2 1046.8 1460.5 1049.2 1460.8 1069.2 1461.1 1045.0 1461.4 1063.7 1461.7 1054.2 1462.0 1056.4 1462.3 1058.1 1462.6 1048.5 1462.9 1056.7 1463.2 1054.7 1463.5 1071.5 1463.8 1054.8 1464.1 1060.5 1464.4 1053.9 1464.7 1054.7 1465.0 1054.3 1465.3 1053.0 1465.6 1058.1 1465.9 1054.6 1466.2 1055.6 1466.5 1059.9 1466.8 1050.4 1467.1 1052.0 1467.4 1055.6 1467.7 1055.7 1468.0 1067.3 1468.3 1045.2 1468.6 1048.1 1468.9 1049.4 1469.2 1053.8 1469.5 1052.4 1469.8 1042.4 1470.1 1049.6 1470.4 1049.6 1470.7 1046.5 1471.0 1049.2 1471.3 1050.9 1471.6 1058.5 1471.9 1054.1 1472.2 1051.4 1472.5 1050.5 1472.8 1052.8 1473.1 1059.5 1473.4 1060.0 1473.7 1050.3 1474.0 1052.3 1474.3 1054.8 1474.6 1055.3 1474.9 1049.6 1475.2 1058.2 1475.5 1057.9 1475.8 1058.3 1476.1 1063.5 1476.4 1058.9 1476.7 1053.6 1477.0 1048.6 1477.3 1054.1 1477.6 1051.6 1477.9 1059.6 1478.2 1054.1 1478.5 1049.4 1478.8 1050.9 1479.1 1061.8 1479.4 1051.8 1479.7 1055.8 1480.0 1059.6 1480.3 1056.3 1480.6 1049.2 1480.9 1049.1 1481.2 1049.1 1481.5 1058.0 1481.8 1056.7 1482.1 1051.7 1482.4 1055.0 1482.7 1056.1 1483.0 1048.4 1483.3 1049.9 1483.6 1055.4 1483.9 1060.4 1484.2 1054.3 1484.5 1056.1 1484.8 1062.4 1485.1 1051.9 1485.4 1055.2 1485.7 1053.2 1486.0 1064.5 1486.3 1053.2 1486.6 1051.9 1486.9 1060.1 1487.2 1067.3 1487.5 1062.6 1487.8 1065.5 1488.1 1062.0 1488.4 1059.7 1488.7 1055.1 1489.0 1064.9 1489.3 1058.4 1489.6 1051.5 1489.9 1054.0 1490.2 1056.2 1490.5 1052.7 1490.8 1056.1 1491.1 1054.5 1491.4 1053.4 1491.7 1050.4 1492.0 1063.6 1492.3 1051.7 1492.6 1051.0 1492.9 1059.4 1493.2 1055.0 1493.5 1055.9 1493.8 1070.6 1494.1 1053.4 1494.4 1051.3 1494.7 1050.7 1495.0 1053.8 1495.3 1057.9 1495.6 1059.1 1495.9 1062.2 1496.2 1054.9 1496.5 1059.0 1496.8 1052.8 1497.1 1054.7 1497.4 1057.4 1497.7 1052.1 1498.0 1065.2 1498.3 1055.0 1498.6 1053.1 1498.9 1053.0 1499.2 1057.9 1499.5 1065.2 1499.8 1051.4 1500.1 1057.8 1500.4 1050.8 1500.7 1060.7 1501.0 1054.6 1501.3 1048.4 1501.6 1049.1 1501.9 1055.6 1502.2 1055.5 1502.5 1068.4 1502.8 1058.8 1503.1 1049.9 1503.4 1060.6 1503.7 1056.4 1504.0 1067.2 1504.3 1055.8 1504.6 1052.5 1504.9 1058.4 1505.2 1065.8 1505.5 1054.2 1505.8 1064.5 1506.1 1057.4 1506.4 1058.2 1506.7 1063.3 1507.0 1062.4 1507.3 1061.5 1507.6 1066.5 1507.9 1053.9 1508.2 1048.0 1508.5 1060.6 1508.8 1058.7 1509.1 1056.3 1509.4 1063.0 1509.7 1043.7 1510.0 1055.9 1510.3 1063.5 1510.6 1058.7 1510.9 1063.3 1511.2 1058.5 1511.5 1052.4 1511.8 1052.4 1512.1 1058.1 1512.4 1052.0 1512.7 1069.5 1513.0 1053.7 1513.3 1050.3 1513.6 1056.1 1513.9 1059.7 1514.2 1056.9 1514.5 1056.4 1514.8 1055.3 1515.1 1050.3 1515.4 1058.0 1515.7 1061.0 1516.0 1053.3 1516.3 1060.8 1516.6 1050.6 1516.9 1058.6 1517.2 1053.1 1517.5 1061.3 1517.8 1051.6 1518.1 1052.5 1518.4 1056.0 1518.7 1057.2 1519.0 1055.0 1519.3 1062.3 1519.6 1057.1 1519.9 1055.0 1520.2 1065.5 1520.5 1061.9 1520.8 1058.6 1521.1 1059.9 1521.4 1050.4 1521.7 1052.5 1522.0 1068.2 1522.3 1051.6 1522.6 1062.1 1522.9 1059.5 1523.2 1055.9 1523.5 1069.4 1523.8 1056.5 1524.1 1068.9 1524.4 1054.9 1524.7 1059.1 1525.0 1059.9 1525.3 1058.7 1525.6 1063.2 1525.9 1059.1 1526.2 1049.2 1526.5 1058.7 1526.8 1046.6 1527.1 1064.5 1527.4 1062.4 1527.7 1062.0 1528.0 1056.1 1528.3 1060.1 1528.6 1044.2 1528.9 1055.2 1529.2 1058.5 1529.5 1043.7 1529.8 1058.6 1530.1 1056.1 1530.4 1059.2 1530.7 1055.4 1531.0 1064.4 1531.3 1057.6 1531.6 1063.6 1531.9 1064.2 1532.2 1052.9 1532.5 1044.8 1532.8 1056.5 1533.1 1059.4 1533.4 1059.6 1533.7 1056.0 1534.0 1069.0 1534.3 1057.6 1534.6 1065.3 1534.9 1051.4 1535.2 1060.4 1535.5 1057.6 1535.8 1063.2 1536.1 1069.9 1536.4 1055.4 1536.7 1054.2 1537.0 1057.8 1537.3 1056.0 1537.6 1058.2 1537.9 1058.5 1538.2 1055.9 1538.5 1058.4 1538.8 1057.4 1539.1 1064.7 1539.4 1054.2 1539.7 1062.2 1540.0 1061.1 1540.3 1059.5 1540.6 1063.7 1540.9 1051.0 1541.2 1060.3 1541.5 1055.4 1541.8 1049.7 1542.1 1056.8 1542.4 1059.9 1542.7 1050.7 1543.0 1059.8 1543.3 1054.3 1543.6 1055.0 1543.9 1065.8 1544.2 1064.1 1544.5 1061.6 1544.8 1060.4 1545.1 1052.3 1545.4 1072.8 1545.7 1063.8 1546.0 1061.9 1546.3 1065.5 1546.6 1059.6 1546.9 1059.0 1547.2 1062.3 1547.5 1062.5 1547.8 1066.8 1548.1 1056.0 1548.4 1067.7 1548.7 1059.3 1549.0 1063.8 1549.3 1060.5 1549.6 1051.8 1549.9 1058.2 1550.2 1058.2 1550.5 1056.2 1550.8 1070.4 1551.1 1057.3 1551.4 1061.6 1551.7 1062.1 1552.0 1055.9 1552.3 1053.3 1552.6 1055.1 1552.9 1066.5 1553.2 1055.9 1553.5 1060.5 1553.8 1061.0 1554.1 1051.7 1554.4 1062.8 1554.7 1062.6 1555.0 1053.7 1555.3 1055.1 1555.6 1057.2 1555.9 1064.1 1556.2 1054.1 1556.5 1051.4 1556.8 1067.6 1557.1 1051.9 1557.4 1056.5 1557.7 1056.4 1558.0 1051.3 1558.3 1065.3 1558.6 1063.8 1558.9 1067.0 1559.2 1060.3 1559.5 1070.7 1559.8 1050.0 1560.1 1059.6 1560.4 1057.9 1560.7 1050.4 1561.0 1055.8 1561.3 1057.4 1561.6 1058.0 1561.9 1057.6 1562.2 1059.0 1562.5 1060.3 1562.8 1058.1 1563.1 1065.3 1563.4 1058.7 1563.7 1065.9 1564.0 1066.5 1564.3 1060.2 1564.6 1055.9 1564.9 1061.4 1565.2 1065.9 1565.5 1050.9 1565.8 1058.2 1566.1 1070.9 1566.4 1058.6 1566.7 1056.4 1567.0 1056.3 1567.3 1056.9 1567.6 1057.4 1567.9 1050.8 1568.2 1060.1 1568.5 1059.6 1568.8 1053.9 1569.1 1065.5 1569.4 1064.7 1569.7 1057.3 1570.0 1058.4 1570.3 1061.5 1570.6 1059.7 1570.9 1062.3 1571.2 1064.9 1571.5 1067.4 1571.8 1064.7 1572.1 1059.0 1572.4 1058.4 1572.7 1053.7 1573.0 1060.4 1573.3 1067.9 1573.6 1062.7 1573.9 1057.2 1574.2 1062.3 1574.5 1058.2 1574.8 1060.3 1575.1 1057.3 1575.4 1068.0 1575.7 1051.6 1576.0 1055.6 1576.3 1062.8 1576.6 1051.6 1576.9 1058.1 1577.2 1054.7 1577.5 1062.2 1577.8 1060.0 1578.1 1059.5 1578.4 1059.9 1578.7 1059.0 1579.0 1075.1 1579.3 1058.5 1579.6 1055.7 1579.9 1060.3 1580.2 1053.9 1580.5 1052.7 1580.8 1067.4 1581.1 1060.8 1581.4 1059.1 1581.7 1065.3 1582.0 1056.2 1582.3 1048.3 1582.6 1065.0 1582.9 1059.0 1583.2 1071.6 1583.5 1053.9 1583.8 1060.5 1584.1 1056.2 1584.4 1061.3 1584.7 1059.5 1585.0 1058.7 1585.3 1067.7 1585.6 1065.4 1585.9 1062.9 1586.2 1063.4 1586.5 1062.7 1586.8 1053.4 1587.1 1056.8 1587.4 1061.9 1587.7 1061.3 1588.0 1068.9 1588.3 1055.3 1588.6 1059.8 1588.9 1060.7 1589.2 1061.6 1589.5 1066.4 1589.8 1054.7 1590.1 1065.4 1590.4 1062.3 1590.7 1054.7 1591.0 1055.2 1591.3 1060.1 1591.6 1069.3 1591.9 1062.3 1592.2 1065.0 1592.5 1062.1 1592.8 1055.7 1593.1 1057.9 1593.4 1050.2 1593.7 1064.6 1594.0 1058.8 1594.3 1066.7 1594.6 1060.3 1594.9 1054.8 1595.2 1058.9 1595.5 1068.2 1595.8 1059.3 1596.1 1061.1 1596.4 1054.5 1596.7 1059.1 1597.0 1064.2 1597.3 1060.3 1597.6 1061.7 1597.9 1062.0" fill="none" stroke="#00ff00" stroke-width="2.5" stroke-linejoin="round"/>
<path d="M59.0 891.0 59.5 932.7 59.8 941.3 60.1 899.5 60.4 920.1 60.7 932.4 61.0 936.4 61.3 928.6 61.6 938.4 61.9 925.1 62.2 928.0 62.5 925.1 62.8 912.6 63.1 909.7 63.4 927.3 63.7 918.1 64.0 937.9 64.3 938.5 64.6 944.9 64.9 924.5 65.2 940.7 65.5 917.4 65.8 918.7 66.1 927.7 66.4 930.1 66.7 913.1 67.0 912.5 67.3 932.1 67.6 920.7 67.9 942.3 68.2 933.7 68.5 933.2 68.8 932.6 69.1 940.3 69.4 929.7 69.7 943.2 70.0 927.0 70.3 928.5 70.6 922.1 70.9 939.5 71.2 933.9 71.5 925.9 71.8 956.9 72.1 928.8 72.4 934.1 72.7 939.7 73.0 955.3 73.3 935.0 73.6 944.2 73.9 938.3 74.2 924.4 74.5 946.4 74.8 949.3 75.1 936.6 75.4 939.3 75.7 926.2 76.0 926.5 76.3 936.9 76.6 947.6 76.9 937.0 77.2 944.9 77.5 952.6 77.8 943.8 78.1 949.1 78.4 959.3 78.7 932.7 79.0 952.2 79.3 928.4 79.6 949.8 79.9 948.7 80.2 941.1 80.5 936.7 80.8 946.5 81.1 943.6 81.4 949.2 81.7 939.9 82.0 957.4 82.3 939.7 82.6 946.7 82.9 946.3 83.2 964.0 83.5 937.6 83.8 947.4 84.1 964.3 84.4 946.0 84.7 941.4 85.0 955.9 85.3 950.7 85.6 962.6 85.9 945.9 86.2 956.7 86.5 965.8 86.8 972.6 87.1 939.5 87.4 971.7 87.7 948.6 88.0 943.9 88.3 948.9 88.6 959.7 88.9 953.3 89.2 965.7 89.5 964.4 89.8 964.5 90.1 957.8 90.4 980.3 90.7 942.2 91.0 946.2 91.3 957.0 91.6 943.7 91.9 941.5 92.2 950.8 92.5 956.4 92.8 943.4 93.1 973.0 93.4 978.3 93.7 977.9 94.0 960.6 94.3 967.3 94.6 956.0 94.9 968.6 95.2 960.7 95.5 971.5 95.8 964.5 96.1 978.9 96.4 977.0 96.7 981.9 97.0 955.3 97.3 954.1 97.6 974.2 97.9 965.2 98.2 975.0 98.5 975.8 98.8 973.6 99.1 986.9 99.4 978.2 99.7 977.7 100.0 965.2 100.3 992.2 100.6 975.8 100.9 986.0 101.2 978.2 101.5 988.6 101.8 977.3 102.1 978.3 102.4 978.0 102.7 970.5 103.0 972.1 103.3 976.4 103.6 977.1 103.9 964.0 104.2 1004.6 104.5 970.5 104.8 976.9 105.1 1005.8 105.4 974.5 105.7 993.0 106.0 988.0 106.3 979.8 106.6 969.7 106.9 969.1 107.2 982.9 107.5 987.6 107.8 954.7 108.1 986.2 108.4 978.6 108.7 994.0 109.0 987.1 109.3 978.5 109.6 982.3 109.9 987.1 110.2 1009.0 110.5 1027.7 110.8 993.2 111.1 989.4 111.4 999.6 111.7 989.4 112.0 996.4 112.3 996.7 112.6 990.9 112.9 984.0 113.2 993.2 113.5 1001.2 113.8 993.1 114.1 1008.6 114.4 1002.7 114.7 992.2 115.0 1012.2 115.3 984.1 115.6 1014.0 115.9 1014.7 116.2 992.8 116.5 994.6 116.8 1011.4 117.1 1020.4 117.4 1001.0 117.7 1001.1 118.0 1006.7 118.3 1002.2 118.6 987.4 118.9 996.0 119.2 999.0 119.5 978.6 119.8 1003.4 120.1 993.1 120.4 1007.6 120.7 987.6 121.0 992.6 121.3 988.5 121.6 1014.8 121.9 1015.0 122.2 1017.5 122.5 1027.5 122.8 1017.8 123.1 1012.3 123.4 989.1 123.7 1009.4 124.0 997.3 124.3 1001.7 124.6 994.2 124.9 1027.3 125.2 1007.3 125.5 993.2 125.8 1011.4 126.1 1005.9 126.4 997.6 126.7 1004.4 127.0 1000.4 127.3 988.9 127.6 994.8 127.9 1013.0 128.2 1011.6 128.5 1011.2 128.8 998.6 129.1 1003.7 129.4 1010.1 129.7 1016.5 130.0 1002.7 130.3 1001.2 130.6 1022.1 130.9 1011.7 131.2 1008.0 131.5 1005.1 131.8 1002.3 132.1 1037.8 132.4 1022.1 132.7 1009.1 133.0 1002.3 133.3 1040.4 133.6 1038.8 133.9 1025.8 134.2 1022.3 134.5 998.8 134.8 1003.5 135.1 1020.2 135.4 1012.4 135.7 1017.6 136.0 1010.7 136.3 1006.0 136.6 1021.2 136.9 1012.5 137.2 1016.3 137.5 1020.1 137.8 1019.0 138.1 1028.5 138.4 1030.9 138.7 1005.9 139.0 1015.2 139.3 1012.2 139.6 1029.4 139.9 1009.1 140.2 1026.0 140.5 1025.5 140.8 1024.5 141.1 1010.8 141.4 1017.5 141.7 1010.4 142.0 1025.5 142.3 1029.4 142.6 999.7 142.9 1013.4 143.2 1019.3 143.5 1016.3 143.8 1044.8 144.1 1020.2 144.4 1024.1 144.7 1012.4 145.0 1037.6 145.3 1023.9 145.6 1030.0 145.9 1023.6 146.2 1006.1 146.5 1001.8 146.8 1005.8 147.1 1030.5 147.4 1019.5 147.7 1028.2 148.0 1027.1 148.3 1027.0 148.6 1033.7 148.9 1027.5 149.2 1011.8 149.5 1019.6 149.8 1042.4 150.1 1016.9 150.4 1039.6 150.7 1043.0 151.0 1018.0 151.3 1031.7 151.6 1015.5 151.9 1038.8 152.2 1016.5 152.5 1016.9 152.8 1022.2 153.1 1024.2 153.4 1023.4 153.7 1030.5 154.0 1027.4 154.3 1019.6 154.6 1038.5 154.9 1053.7 155.2 1030.4 155.5 1024.0 155.8 1021.9 156.1 1036.0 156.4 1028.5 156.7 1031.1 157.0 1005.5 157.3 1021.9 157.6 1021.9 157.9 1040.9 158.2 1029.7 158.5 1013.3 158.8 1037.0 159.1 1043.6 159.4 1045.5 159.7 1012.1 160.0 1034.6 160.3 1041.0 160.6 1039.1 160.9 1031.5 161.2 1010.4 161.5 1027.5 161.8 1031.1 162.1 1039.4 162.4 1040.1 162.7 1030.5 163.0 1042.3 163.3 1019.9 163.6 1028.6 163.9 1034.3 164.2 1042.8 164.5 1031.9 164.8 1046.7 165.1 1038.7 165.4 1027.0 165.7 1036.0 166.0 1027.7 166.3 1027.2 166.6 1016.4 166.9 1049.0 167.2 1048.9 167.5 1022.8 167.8 1046.3 168.1 1044.9 168.4 1032.7 168.7 1040.6 169.0 1058.7 169.3 1040.0 169.6 1040.1 169.9 1047.0 170.2 1027.8 170.5 1026.1 170.8 1025.2 171.1 1036.0 171.4 1049.5 171.7 1029.7 172.0 1025.8 172.3 1039.0 172.6 1032.0 172.9 1046.1 173.2 1036.4 173.5 1036.1 173.8 1037.1 174.1 1038.3 174.4 1030.0 174.7 1023.2 175.0 1053.6 175.3 1061.4 175.6 1049.0 175.9 1025.5 176.2 1038.9 176.5 1056.7 176.8 1025.8 177.1 1032.2 177.4 1035.5 177.7 1026.8 178.0 1032.1 178.3 1048.8 178.6 1035.5 178.9 1036.3 179.2 1056.3 179.5 1032.5 179.8 1024.8 180.1 1045.8 180.4 1059.8 180.7 1041.9 181.0 1042.8 181.3 1029.7 181.6 1032.5 181.9 1054.4 182.2 1052.3 182.5 1045.9 182.8 1035.1 183.1 1030.9 183.4 1032.1 183.7 1025.3 184.0 1049.6 184.3 1034.2 184.6 1036.6 184.9 1047.1 185.2 1050.4 185.5 1041.3 185.8 1045.1 186.1 1040.9 186.4 1026.0 186.7 1040.2 187.0 1037.3 187.3 1037.9 187.6 1043.1 187.9 1036.2 188.2 1052.4 188.5 1039.6 188.8 1042.5 189.1 1044.0 189.4 1039.7 189.7 1047.0 190.0 1048.1 190.3 1046.9 190.6 1035.4 190.9 1029.1 191.2 1032.9 191.5 1041.3 191.8 1027.0 192.1 1034.4 192.4 1032.1 192.7 1035.8 193.0 1033.9 193.3 1048.8 193.6 1045.4 193.9 1050.2 194.2 1033.6 194.5 1035.2 194.8 1039.1 195.1 1066.3 195.4 1057.6 195.7 1036.7 196.0 1050.4 196.3 1062.7 196.6 1028.3 196.9 1040.4 197.2 1060.9 197.5 1048.5 197.8 1034.1 198.1 1064.5 198.4 1051.1 198.7 1048.4 199.0 1032.5 199.3 1040.9 199.6 1054.5 199.9 1046.7 200.2 1049.6 200.5 1040.3 200.8 1056.6 201.1 1040.6 201.4 1050.9 201.7 1045.5 202.0 1034.9 202.3 1064.5 202.6 1032.8 202.9 1036.8 203.2 1044.1 203.5 1031.9 203.8 1029.2 204.1 1041.9 204.4 1039.4 204.7 1040.7 205.0 1047.4 205.3 1064.9 205.6 1039.6 205.9 1065.8 206.2 1045.2 206.5 1042.3 206.8 1012.0 207.1 1023.9 207.4 1045.4 207.7 1048.1 208.0 1036.5 208.3 1046.9 208.6 1055.6 208.9 1035.3 209.2 1022.9 209.5 1035.3 209.8 1040.6 210.1 1045.6 210.4 1050.0 210.7 1035.7 211.0 1043.4 211.3 1041.0 211.6 1043.4 211.9 1053.1 212.2 1055.0 212.5 1036.4 212.8 1038.2 213.1 1033.7 213.4 1038.8 213.7 1039.7 214.0 1040.4 214.3 1039.0 214.6 1034.7 214.9 1034.0 215.2 1043.7 215.5 1066.0 215.8 1048.0 216.1 1048.9 216.4 1046.2 216.7 1041.8 217.0 1062.1 217.3 1040.6 217.6 1035.5 217.9 1033.6 218.2 1044.8 218.5 1035.3 218.8 1036.2 219.1 1036.2 219.4 1033.0 219.7 1045.0 220.0 1030.5 220.3 1065.0 220.6 1023.8 220.9 1032.5 221.2 1043.6 221.5 1048.6 221.8 1038.3 222.1 1046.7 222.4 1044.8 222.7 1044.4 223.0 1048.5 223.3 1045.5 223.6 1042.6 223.9 1041.2 224.2 1051.3 224.5 1040.7 224.8 1048.4 225.1 1058.1 225.4 1046.8 225.7 1054.4 226.0 1040.0 226.3 1045.9 226.6 1048.0 226.9 1046.4 227.2 1047.7 227.5 1056.4 227.8 1040.9 228.1 1038.1 228.4 1046.3 228.7 1025.3 229.0 1043.4 229.3 1054.2 229.6 1043.4 229.9 1048.2 230.2 1048.4 230.5 1060.5 230.8 1047.8 231.1 1045.9 231.4 1022.0 231.7 1039.1 232.0 1049.5 232.3 1042.0 232.6 1037.1 232.9 1051.0 233.2 1035.9 233.5 1040.0 233.8 1048.7 234.1 1038.4 234.4 1044.0 234.7 1042.2 235.0 1026.9 235.3 1037.9 235.6 1039.1 235.9 1036.7 236.2 1051.5 236.5 1041.5 236.8 1036.5 237.1 1030.9 237.4 1036.6 237.7 1053.0 238.0 1038.7 238.3 1050.9 238.6 1044.8 238.9 1036.7 239.2 1033.3 239.5 1047.4 239.8 1028.1 240.1 1045.4 240.4 1031.3 240.7 1047.8 241.0 1034.6 241.3 1038.5 241.6 1049.4 241.9 1032.3 242.2 1040.4 242.5 1037.4 242.8 1046.3 243.1 1046.0 243.4 1042.1 243.7 1041.4 244.0 1036.3 244.3 1044.7 244.6 1037.5 244.9 1040.4 245.2 1040.8 245.5 1022.1 245.8 1030.3 246.1 1040.8 246.4 1038.8 246.7 1050.0 247.0 1010.8 247.3 1040.4 247.6 1048.2 247.9 1039.3 248.2 1045.2 248.5 1038.2 248.8 1037.1 249.1 1046.1 249.4 1028.3 249.7 1011.9 250.0 1042.0 250.3 1039.0 250.6 1038.8 250.9 1041.1 251.2 1043.0 251.5 1031.1 251.8 1041.4 252.1 1040.0 252.4 1028.5 252.7 1034.8 253.0 1040.3 253.3 1030.8 253.6 1046.1 253.9 1034.4 254.2 1043.7 254.5 1049.7 254.8 1025.5 255.1 1026.5 255.4 1044.1 255.7 1034.8 256.0 1040.6 256.3 1051.9 256.6 1032.2 256.9 1043.5 257.2 1033.8 257.5 1027.3 257.8 1039.7 258.1 1037.7 258.4 1044.9 258.7 1038.0 259.0 1042.8 259.3 1039.6 259.6 1014.6 259.9 1032.0 260.2 1032.2 260.5 1042.5 260.8 1026.5 261.1 1036.1 261.4 1028.8 261.7 1021.0 262.0 1033.0 262.3 1039.6 262.6 1029.0 262.9 1041.9 263.2 1037.0 263.5 1036.3 263.8 1029.5 264.1 1032.1 264.4 1037.3 264.7 1033.2 265.0 1017.8 265.3 1030.4 265.6 1036.2 265.9 1048.3 266.2 1039.9 266.5 1024.9 266.8 1038.4 267.1 1020.4 267.4 1027.1 267.7 1025.7 268.0 1045.6 268.3 1037.7 268.6 1034.2 268.9 1023.5 269.2 1048.8 269.5 1029.4 269.8 1035.3 270.1 1040.9 270.4 1028.7 270.7 1035.6 271.0 1016.5 271.3 1035.7 271.6 1018.1 271.9 1034.0 272.2 1032.9 272.5 1034.4 272.8 1051.9 273.1 1012.7 273.4 1033.9 273.7 1026.7 274.0 1036.3 274.3 1032.3 274.6 1030.8 274.9 1025.5 275.2 1023.8 275.5 1032.2 275.8 1017.9 276.1 1038.4 276.4 1021.5 276.7 1032.7 277.0 1019.7 277.3 1032.5 277.6 1026.6 277.9 1038.9 278.2 1039.1 278.5 1023.9 278.8 1028.9 279.1 1030.0 279.4 1040.8 279.7 1017.9 280.0 1032.6 280.3 1027.3 280.6 1018.2 280.9 1024.5 281.2 1021.8 281.5 1036.6 281.8 1019.4 282.1 1035.5 282.4 1022.8 282.7 1032.1 283.0 1013.6 283.3 1020.0 283.6 1027.9 283.9 1018.6 284.2 1006.9 284.5 1025.5 284.8 1031.9 285.1 1025.2 285.4 1023.2 285.7 1028.2 286.0 1021.2 286.3 1037.1 286.6 1039.6 286.9 1008.6 287.2 1033.1 287.5 1029.6 287.8 1026.1 288.1 1029.4 288.4 1036.1 288.7 1040.8 289.0 1037.7 289.3 1021.0 289.6 1034.7 289.9 1010.3 290.2 1030.3 290.5 1028.4 290.8 1030.7 291.1 1015.1 291.4 1034.8 291.7 1033.1 292.0 1023.4 292.3 1010.8 292.6 1024.1 292.9 1014.6 293.2 1009.4 293.5 1015.2 293.8 1041.8 294.1 1009.5 294.4 1017.5 294.7 1021.6 295.0 1032.7 295.3 1012.0 295.6 1011.9 295.9 1026.9 296.2 1021.3 296.5 1029.7 296.8 1009.9 297.1 1017.7 297.4 1026.3 297.7 1019.2 298.0 1009.5 298.3 1018.8 298.6 1004.1 298.9 1007.7 299.2 1023.9 299.5 1024.7 299.8 1022.0 300.1 1022.6 300.4 998.6 300.7 1011.4 301.0 1025.3 301.3 1037.2 301.6 1019.7 301.9 1008.8 302.2 1003.6 302.5 1025.9 302.8 1030.0 303.1 1006.2 303.4 1016.2 303.7 1027.0 304.0 1027.0 304.3 1007.7 304.6 1013.0 304.9 1018.0 305.2 1005.7 305.5 1002.0 305.8 1008.3 306.1 1029.7 306.4 1022.5 306.7 1016.9 307.0 998.3 307.3 998.5 307.6 1004.4 307.9 1012.2 308.2 1020.4 308.5 1004.7 308.8 1011.7 309.1 998.0 309.4 995.8 309.7 1010.2 310.0 995.3 310.3 1002.0 310.6 993.9 310.9 1019.3 311.2 996.2 311.5 1008.8 311.8 990.2 312.1 1005.1 312.4 1019.3 312.7 1009.5 313.0 1007.9 313.3 1018.1 313.6 1012.9 313.9 1018.6 314.2 995.9 314.5 1017.9 314.8 1006.6 315.1 998.1 315.4 1010.5 315.7 1009.8 316.0 1005.1 316.3 1012.1 316.6 995.2 316.9 992.8 317.2 999.8 317.5 1013.4 317.8 1008.3 318.1 1003.8 318.4 995.1 318.7 1002.6 319.0 1013.1 319.3 995.5 319.6 998.4 319.9 1006.3 320.2 1008.0 320.5 1003.6 320.8 1021.6 321.1 1003.8 321.4 989.9 321.7 986.8 322.0 1011.9 322.3 1000.5 322.6 1005.5 322.9 1005.3 323.2 1013.1 323.5 1010.3 323.8 1009.8 324.1 1003.6 324.4 999.4 324.7 1003.3 325.0 990.8 325.3 1003.9 325.6 1015.1 325.9 1006.7 326.2 1001.8 326.5 993.8 326.8 989.4 327.1 991.1 327.4 996.8 327.7 1003.5 328.0 1003.7 328.3 1004.3 328.6 1008.0 328.9 987.4 329.2 997.5 329.5 1003.4 329.8 1005.5 330.1 993.5 330.4 993.2 330.7 1008.2 331.0 1003.9 331.3 1001.8 331.6 995.8 331.9 990.7 332.2 997.4 332.5 1000.0 332.8 1001.5 333.1 1004.4 333.4 998.0 333.7 1007.6 334.0 994.1 334.3 1000.7 334.6 996.9 334.9 975.7 335.2 980.5 335.5 991.8 335.8 996.8 336.1 998.1 336.4 1006.1 336.7 994.6 337.0 992.3 337.3 997.2 337.6 985.4 337.9 992.6 338.2 986.3 338.5 994.0 338.8 987.9 339.1 989.6 339.4 1009.2 339.7 1001.4 340.0 1012.9 340.3 992.8 340.6 988.3 340.9 984.5 341.2 989.5 341.5 977.0 341.8 989.2 342.1 983.7 342.4 971.7 342.7 974.1 343.0 978.9 343.3 979.3 343.6 983.1 343.9 965.0 344.2 980.1 344.5 983.0 344.8 995.4 345.1 979.6 345.4 981.9 345.7 970.1 346.0 972.7 346.3 967.2 346.6 965.2 346.9 970.3 347.2 965.0 347.5 975.3 347.8 962.3 348.1 962.7 348.4 955.6 348.7 953.0 349.0 958.5 349.3 953.4 349.6 959.3 349.9 951.3 350.2 950.5 350.5 956.0 350.8 948.3 351.1 950.3 351.4 952.5 351.7 953.7 352.0 950.0 352.3 958.9 352.6 952.2 352.9 950.5 353.2 961.1 353.5 956.3 353.8 959.6 354.1 964.1 354.4 958.8 354.7 960.8 355.0 965.1 355.3 971.7 355.6 957.8 355.9 979.2 356.2 973.8 356.5 966.4 356.8 974.5 357.1 979.4 357.4 990.9 357.7 984.2 358.0 987.4 358.3 978.8 358.6 989.4 358.9 964.9 359.2 990.3 359.5 982.1 359.8 1004.5 360.1 976.7 360.4 980.9 360.7 985.3 361.0 991.9 361.3 988.3 361.6 994.5 361.9 986.6 362.2 995.1 362.5 1007.4 362.8 997.3 363.1 992.2 363.4 976.9 363.7 992.7 364.0 1002.0 364.3 985.6 364.6 996.9 364.9 973.5 365.2 983.5 365.5 977.7 365.8 993.4 366.1 983.3 366.4 982.6 366.7 1002.4 367.0 979.8 367.3 994.5 367.6 999.8 367.9 988.8 368.2 984.4 368.5 989.9 368.8 987.3 369.1 985.9 369.4 993.9 369.7 992.0 370.0 1013.2 370.3 1003.7 370.6 994.5 370.9 997.8 371.2 1008.0 371.5 1009.3 371.8 994.4 372.1 984.8 372.4 1009.8 372.7 994.6 373.0 996.9 373.3 1006.7 373.6 996.9 373.9 1006.5 374.2 993.6 374.5 998.3 374.8 994.8 375.1 1014.9 375.4 986.4 375.7 995.5 376.0 990.6 376.3 991.9 376.6 982.5 376.9 991.7 377.2 1008.1 377.5 1010.5 377.8 993.6 378.1 989.9 378.4 992.8 378.7 1013.2 379.0 998.9 379.3 985.3 379.6 1006.9 379.9 998.3 380.2 1005.4 380.5 1003.9 380.8 985.8 381.1 1009.6 381.4 1006.9 381.7 996.7 382.0 986.8 382.3 988.4 382.6 994.3 382.9 1011.2 383.2 995.5 383.5 999.9 383.8 1003.7 384.1 1000.4 384.4 1008.5 384.7 1006.7 385.0 1016.4 385.3 995.9 385.6 1007.8 385.9 1003.2 386.2 1023.9 386.5 1018.1 386.8 1000.8 387.1 1014.1 387.4 994.5 387.7 999.2 388.0 1005.1 388.3 1009.5 388.6 999.7 388.9 1008.1 389.2 1018.5 389.5 997.2 389.8 999.0 390.1 995.8 390.4 1023.8 390.7 1001.6 391.0 1004.5 391.3 1003.4 391.6 1008.5 391.9 1007.8 392.2 1012.0 392.5 1012.1 392.8 1024.5 393.1 1004.5 393.4 1012.9 393.7 1011.2 394.0 1005.4 394.3 1019.0 394.6 1028.0 394.9 1004.8 395.2 1033.8 395.5 1012.1 395.8 1011.9 396.1 996.9 396.4 1014.4 396.7 1013.2 397.0 1012.5 397.3 1020.0 397.6 1013.6 397.9 1018.1 398.2 1007.2 398.5 1007.6 398.8 1016.8 399.1 1020.9 399.4 1022.0 399.7 1017.6 400.0 1011.7 400.3 1017.7 400.6 1014.1 400.9 1009.1 401.2 1020.8 401.5 1017.2 401.8 1011.0 402.1 1015.1 402.4 1024.2 402.7 1032.3 403.0 1007.8 403.3 1017.7 403.6 1025.1 403.9 1030.5 404.2 1025.7 404.5 1014.4 404.8 1018.4 405.1 1022.1 405.4 1016.9 405.7 1015.4 406.0 1014.2 406.3 1044.3 406.6 1024.1 406.9 1022.4 407.2 1030.0 407.5 1025.1 407.8 1024.1 408.1 1027.3 408.4 1020.4 408.7 1023.2 409.0 1033.9 409.3 1034.3 409.6 1014.4 409.9 1040.0 410.2 1024.9 410.5 1017.2 410.8 1037.2 411.1 1036.8 411.4 1032.8 411.7 1018.0 412.0 1039.7 412.3 1034.3 412.6 1034.6 412.9 1032.6 413.2 1034.1 413.5 1050.7 413.8 1025.7 414.1 1034.5 414.4 1041.8 414.7 1042.8 415.0 1024.1 415.3 1032.7 415.6 1031.1 415.9 1024.1 416.2 1033.1 416.5 1047.1 416.8 1037.4 417.1 1044.5 417.4 1041.2 417.7 1030.9 418.0 1040.7 418.3 1017.6 418.6 1047.3 418.9 1034.5 419.2 1051.5 419.5 1028.3 419.8 1031.2 420.1 1035.2 420.4 1035.3 420.7 1021.3 421.0 1030.4 421.3 1043.4 421.6 1034.0 421.9 1047.2 422.2 1062.0 422.5 1030.6 422.8 1036.2 423.1 1056.0 423.4 1050.5 423.7 1032.6 424.0 1046.7 424.3 1056.5 424.6 1019.8 424.9 1046.0 425.2 1057.2 425.5 1037.6 425.8 1039.3 426.1 1050.2 426.4 1033.6 426.7 1051.6 427.0 1055.1 427.3 1046.0 427.6 1034.8 427.9 1059.0 428.2 1045.5 428.5 1053.1 428.8 1040.2 429.1 1046.1 429.4 1061.0 429.7 1036.8 430.0 1038.2 430.3 1033.9 430.6 1051.4 430.9 1051.7 431.2 1042.3 431.5 1051.3 431.8 1048.9 432.1 1065.6 432.4 1035.6 432.7 1052.4 433.0 1044.3 433.3 1074.5 433.6 1053.9 433.9 1042.2 434.2 1054.3 434.5 1049.9 434.8 1040.2 435.1 1056.3 435.4 1052.9 435.7 1043.9 436.0 1049.0 436.3 1061.9 436.6 1065.3 436.9 1052.2 437.2 1049.0 437.5 1055.9 437.8 1052.3 438.1 1045.9 438.4 1059.6 438.7 1049.2 439.0 1067.2 439.3 1062.5 439.6 1061.6 439.9 1053.9 440.2 1057.8 440.5 1049.6 440.8 1052.1 441.1 1050.1 441.4 1076.0 441.7 1045.1 442.0 1072.4 442.3 1064.5 442.6 1048.3 442.9 1069.9 443.2 1062.8 443.5 1054.2 443.8 1062.1 444.1 1058.0 444.4 1055.2 444.7 1060.0 445.0 1063.3 445.3 1057.3 445.6 1061.4 445.9 1071.6 446.2 1061.3 446.5 1059.6 446.8 1053.7 447.1 1062.4 447.4 1059.7 447.7 1061.7 448.0 1069.8 448.3 1070.6 448.6 1064.3 448.9 1060.1 449.2 1065.9 449.5 1067.1 449.8 1066.8 450.1 1055.4 450.4 1069.0 450.7 1058.5 451.0 1068.2 451.3 1070.8 451.6 1067.4 451.9 1081.6 452.2 1066.8 452.5 1069.4 452.8 1060.9 453.1 1066.6 453.4 1065.9 453.7 1068.3 454.0 1066.8 454.3 1053.2 454.6 1074.8 454.9 1074.1 455.2 1055.4 455.5 1071.1 455.8 1081.9 456.1 1078.5 456.4 1075.4 456.7 1068.7 457.0 1066.6 457.3 1086.3 457.6 1075.8 457.9 1084.4 458.2 1070.3 458.5 1078.8 458.8 1078.2 459.1 1078.2 459.4 1063.9 459.7 1103.6 460.0 1076.3 460.3 1070.6 460.6 1075.4 460.9 1061.7 461.2 1084.8 461.5 1071.1 461.8 1076.3 462.1 1076.5 462.4 1055.9 462.7 1072.5 463.0 1085.2 463.3 1069.8 463.6 1077.5 463.9 1088.6 464.2 1089.0 464.5 1066.9 464.8 1084.8 465.1 1082.1 465.4 1081.3 465.7 1085.0 466.0 1086.9 466.3 1066.9 466.6 1081.7 466.9 1073.9 467.2 1081.0 467.5 1075.7 467.8 1098.2 468.1 1086.4 468.4 1083.1 468.7 1074.7 469.0 1085.0 469.3 1072.2 469.6 1073.9 469.9 1069.0 470.2 1087.1 470.5 1076.9 470.8 1087.8 471.1 1089.7 471.4 1088.9 471.7 1076.6 472.0 1100.1 472.3 1096.5 472.6 1072.9 472.9 1084.5 473.2 1076.2 473.5 1081.1 473.8 1091.8 474.1 1084.8 474.4 1095.4 474.7 1090.5 475.0 1088.6 475.3 1096.5 475.6 1093.0 475.9 1089.5 476.2 1094.4 476.5 1093.3 476.8 1074.5 477.1 1072.8 477.4 1084.8 477.7 1092.9 478.0 1079.2 478.3 1073.4 478.6 1084.2 478.9 1078.3 479.2 1104.1 479.5 1070.0 479.8 1095.4 480.1 1093.5 480.4 1059.1 480.7 1078.5 481.0 1082.8 481.3 1088.6 481.6 1086.2 481.9 1090.7 482.2 1087.7 482.5 1080.8 482.8 1100.0 483.1 1088.8 483.4 1077.3 483.7 1092.9 484.0 1086.1 484.3 1084.2 484.6 1082.9 484.9 1071.6 485.2 1077.9 485.5 1079.2 485.8 1067.5 486.1 1091.7 486.4 1091.8 486.7 1085.9 487.0 1080.9 487.3 1079.9 487.6 1101.4 487.9 1079.4 488.2 1099.6 488.5 1091.9 488.8 1093.2 489.1 1084.3 489.4 1088.1 489.7 1089.4 490.0 1078.1 490.3 1101.0 490.6 1081.2 490.9 1091.7 491.2 1104.8 491.5 1102.4 491.8 1086.5 492.1 1094.7 492.4 1098.9 492.7 1078.3 493.0 1118.0 493.3 1097.7 493.6 1089.2 493.9 1090.7 494.2 1077.1 494.5 1096.7 494.8 1104.1 495.1 1090.1 495.4 1104.4 495.7 1099.9 496.0 1077.2 496.3 1095.8 496.6 1078.6 496.9 1079.5 497.2 1099.6 497.5 1096.0 497.8 1090.7 498.1 1090.6 498.4 1081.7 498.7 1104.4 499.0 1091.8 499.3 1089.7 499.6 1110.8 499.9 1094.1 500.2 1092.0 500.5 1108.7 500.8 1094.5 501.1 1089.0 501.4 1104.7 501.7 1091.5 502.0 1087.0 502.3 1090.1 502.6 1093.2 502.9 1100.0 503.2 1103.0 503.5 1084.7 503.8 1102.9 504.1 1088.5 504.4 1089.8 504.7 1067.4 505.0 1114.6 505.3 1100.6 505.6 1091.0 505.9 1092.0 506.2 1100.9 506.5 1093.9 506.8 1075.3 507.1 1097.0 507.4 1093.2 507.7 1094.4 508.0 1093.9 508.3 1100.2 508.6 1085.7 508.9 1111.8 509.2 1094.6 509.5 1088.5 509.8 1094.4 510.1 1082.4 510.4 1092.6 510.7 1088.6 511.0 1087.0 511.3 1100.1 511.6 1096.0 511.9 1083.4 512.2 1089.5 512.5 1096.4 512.8 1123.5 513.1 1093.1 513.4 1092.9 513.7 1097.7 514.0 1085.6 514.3 1093.4 514.6 1099.7 514.9 1097.2 515.2 1098.6 515.5 1086.1 515.8 1094.6 516.1 1105.8 516.4 1112.7 516.7 1102.2 517.0 1090.8 517.3 1091.5 517.6 1093.5 517.9 1112.5 518.2 1080.7 518.5 1093.3 518.8 1084.0 519.1 1092.1 519.4 1092.9 519.7 1102.1 520.0 1101.3 520.3 1096.8 520.6 1093.3 520.9 1092.4 521.2 1108.5 521.5 1094.6 521.8 1083.6 522.1 1090.2 522.4 1095.8 522.7 1090.0 523.0 1085.2 523.3 1102.8 523.6 1090.8 523.9 1094.7 524.2 1097.0 524.5 1093.8 524.8 1094.6 525.1 1079.9 525.4 1096.1 525.7 1093.3 526.0 1091.3 526.3 1095.4 526.6 1114.2 526.9 1109.3 527.2 1101.7 527.5 1116.1 527.8 1093.2 528.1 1095.8 528.4 1102.1 528.7 1103.2 529.0 1102.7 529.3 1111.3 529.6 1095.6 529.9 1107.2 530.2 1092.3 530.5 1103.5 530.8 1090.1 531.1 1106.5 531.4 1091.1 531.7 1107.2 532.0 1084.7 532.3 1111.6 532.6 1096.9 532.9 1100.4 533.2 1099.3 533.5 1086.3 533.8 1093.0 534.1 1092.9 534.4 1096.6 534.7 1087.1 535.0 1092.8 535.3 1097.9 535.6 1106.1 535.9 1102.9 536.2 1089.6 536.5 1104.0 536.8 1110.1 537.1 1103.5 537.4 1095.3 537.7 1091.6 538.0 1094.8 538.3 1110.7 538.6 1091.1 538.9 1082.7 539.2 1104.8 539.5 1093.4 539.8 1097.4 540.1 1095.1 540.4 1106.4 540.7 1093.6 541.0 1092.8 541.3 1092.4 541.6 1111.7 541.9 1109.5 542.2 1095.2 542.5 1094.2 542.8 1096.9 543.1 1101.8 543.4 1091.8 543.7 1109.6 544.0 1099.5 544.3 1081.5 544.6 1090.2 544.9 1095.1 545.2 1115.2 545.5 1109.7 545.8 1098.6 546.1 1089.3 546.4 1096.3 546.7 1097.0 547.0 1091.7 547.3 1097.5 547.6 1101.7 547.9 1093.0 548.2 1088.6 548.5 1097.1 548.8 1085.9 549.1 1092.6 549.4 1104.6 549.7 1096.8 550.0 1087.4 550.3 1094.8 550.6 1093.1 550.9 1095.7 551.2 1102.4 551.5 1091.2 551.8 1086.6 552.1 1106.6 552.4 1088.8 552.7 1100.9 553.0 1097.3 553.3 1092.1 553.6 1100.3 553.9 1096.7 554.2 1095.6 554.5 1102.6 554.8 1089.4 555.1 1101.0 555.4 1088.4 555.7 1101.3 556.0 1104.1 556.3 1084.9 556.6 1109.4 556.9 1089.5 557.2 1093.3 557.5 1088.1 557.8 1091.5 558.1 1093.9 558.4 1089.3 558.7 1100.5 559.0 1088.0 559.3 1096.3 559.6 1086.1 559.9 1086.9 560.2 1093.6 560.5 1094.9 560.8 1090.2 561.1 1094.9 561.4 1097.3 561.7 1088.1 562.0 1092.7 562.3 1086.8 562.6 1078.5 562.9 1088.3 563.2 1089.2 563.5 1100.9 563.8 1095.8 564.1 1092.9 564.4 1079.0 564.7 1085.9 565.0 1095.4 565.3 1098.1 565.6 1091.8 565.9 1084.0 566.2 1079.7 566.5 1081.1 566.8 1092.6 567.1 1094.2 567.4 1105.1 567.7 1083.9 568.0 1093.5 568.3 1086.0 568.6 1089.7 568.9 1091.8 569.2 1087.4 569.5 1101.5 569.8 1083.7 570.1 1096.5 570.4 1089.1 570.7 1087.2 571.0 1098.1 571.3 1086.4 571.6 1093.5 571.9 1090.2 572.2 1095.2 572.5 1082.4 572.8 1091.9 573.1 1093.3 573.4 1085.4 573.7 1083.1 574.0 1078.7 574.3 1089.2 574.6 1084.3 574.9 1095.3 575.2 1087.7 575.5 1087.3 575.8 1088.7 576.1 1089.4 576.4 1089.6 576.7 1092.9 577.0 1097.1 577.3 1091.6 577.6 1092.1 577.9 1099.8 578.2 1099.8 578.5 1089.1 578.8 1081.4 579.1 1096.9 579.4 1079.7 579.7 1080.0 580.0 1082.6 580.3 1085.4 580.6 1073.8 580.9 1082.1 581.2 1095.8 581.5 1105.4 581.8 1090.9 582.1 1093.4 582.4 1098.1 582.7 1083.8 583.0 1081.5 583.3 1090.4 583.6 1101.4 583.9 1088.9 584.2 1090.6 584.5 1088.1 584.8 1087.5 585.1 1085.1 585.4 1096.8 585.7 1095.2 586.0 1088.3 586.3 1091.4 586.6 1094.1 586.9 1098.1 587.2 1105.1 587.5 1103.6 587.8 1090.5 588.1 1092.4 588.4 1088.3 588.7 1100.6 589.0 1099.4 589.3 1081.2 589.6 1092.4 589.9 1102.6 590.2 1082.9 590.5 1103.7 590.8 1100.6 591.1 1089.0 591.4 1086.0 591.7 1106.0 592.0 1090.4 592.3 1085.0 592.6 1093.7 592.9 1084.5 593.2 1086.9 593.5 1107.0 593.8 1090.8 594.1 1092.8 594.4 1083.7 594.7 1088.3 595.0 1101.6 595.3 1097.1 595.6 1102.1 595.9 1101.6 596.2 1096.3 596.5 1092.1 596.8 1082.1 597.1 1103.1 597.4 1096.5 597.7 1113.3 598.0 1094.8 598.3 1095.1 598.6 1092.9 598.9 1083.8 599.2 1096.5 599.5 1098.8 599.8 1099.0 600.1 1094.9 600.4 1092.0 600.7 1105.5 601.0 1104.5 601.3 1090.8 601.6 1089.7 601.9 1093.6 602.2 1091.1 602.5 1105.8 602.8 1093.0 603.1 1101.4 603.4 1092.5 603.7 1098.0 604.0 1116.9 604.3 1095.3 604.6 1102.8 604.9 1096.9 605.2 1113.7 605.5 1104.5 605.8 1100.7 606.1 1118.2 606.4 1107.0 606.7 1108.8 607.0 1093.9 607.3 1092.4 607.6 1112.3 607.9 1094.4 608.2 1114.0 608.5 1121.3 608.8 1100.7 609.1 1093.4 609.4 1094.7 609.7 1108.2 610.0 1106.4 610.3 1097.7 610.6 1092.0 610.9 1108.0 611.2 1098.9 611.5 1103.0 611.8 1094.0 612.1 1106.2 612.4 1104.4 612.7 1098.2 613.0 1096.3 613.3 1103.2 613.6 1106.3 613.9 1106.7 614.2 1104.8 614.5 1096.0 614.8 1111.1 615.1 1112.4 615.4 1100.4 615.7 1096.6 616.0 1121.0 616.3 1105.8 616.6 1086.1 616.9 1110.3 617.2 1105.7 617.5 1100.2 617.8 1105.2 618.1 1098.0 618.4 1095.5 618.7 1094.9 619.0 1112.9 619.3 1101.3 619.6 1106.1 619.9 1107.0 620.2 1090.4 620.5 1105.6 620.8 1097.8 621.1 1113.4 621.4 1097.5 621.7 1110.6 622.0 1116.8 622.3 1106.8 622.6 1112.3 622.9 1114.9 623.2 1106.6 623.5 1103.9 623.8 1097.0 624.1 1119.1 624.4 1112.8 624.7 1112.1 625.0 1095.9 625.3 1113.8 625.6 1103.7 625.9 1107.4 626.2 1108.7 626.5 1118.3 626.8 1104.6 627.1 1102.4 627.4 1110.7 627.7 1108.6 628.0 1103.1 628.3 1122.6 628.6 1115.1 628.9 1097.8 629.2 1094.7 629.5 1089.1 629.8 1104.7 630.1 1111.7 630.4 1120.1 630.7 1108.9 631.0 1100.6 631.3 1108.8 631.6 1107.8 631.9 1098.3 632.2 1109.1 632.5 1090.4 632.8 1106.0 633.1 1111.5 633.4 1107.1 633.7 1112.2 634.0 1116.3 634.3 1112.9 634.6 1113.5 634.9 1113.5 635.2 1107.9 635.5 1116.2 635.8 1111.8 636.1 1103.3 636.4 1116.0 636.7 1109.3 637.0 1092.8 637.3 1121.9 637.6 1109.8 637.9 1104.7 638.2 1114.9 638.5 1112.2 638.8 1111.2 639.1 1122.3 639.4 1122.6 639.7 1107.9 640.0 1103.0 640.3 1101.9 640.6 1112.5 640.9 1110.3 641.2 1117.2 641.5 1110.9 641.8 1114.5 642.1 1125.4 642.4 1106.3 642.7 1103.5 643.0 1109.4 643.3 1101.4 643.6 1108.1 643.9 1107.5 644.2 1119.4 644.5 1106.9 644.8 1123.2 645.1 1105.4 645.4 1108.6 645.7 1104.4 646.0 1108.2 646.3 1104.8 646.6 1101.7 646.9 1100.7 647.2 1114.6 647.5 1109.4 647.8 1119.9 648.1 1119.0 648.4 1101.8 648.7 1121.9 649.0 1105.0 649.3 1098.3 649.6 1100.6 649.9 1104.2 650.2 1086.0 650.5 1110.7 650.8 1105.2 651.1 1111.7 651.4 1109.6 651.7 1109.0 652.0 1112.1 652.3 1110.5 652.6 1098.6 652.9 1118.2 653.2 1102.5 653.5 1107.1 653.8 1111.7 654.1 1102.2 654.4 1101.5 654.7 1095.9 655.0 1110.9 655.3 1110.9 655.6 1102.2 655.9 1101.2 656.2 1091.5 656.5 1110.9 656.8 1100.0 657.1 1100.6 657.4 1103.2 657.7 1101.6 658.0 1106.3 658.3 1109.2 658.6 1106.2 658.9 1098.4 659.2 1104.5 659.5 1104.0 659.8 1095.3 660.1 1102.9 660.4 1110.4 660.7 1109.3 661.0 1109.6 661.3 1108.1 661.6 1093.1 661.9 1105.0 662.2 1114.0 662.5 1101.4 662.8 1101.3 663.1 1098.5 663.4 1104.8 663.7 1102.6 664.0 1096.5 664.3 1102.9 664.6 1102.2 664.9 1104.3 665.2 1104.4 665.5 1096.9 665.8 1104.0 666.1 1100.8 666.4 1100.3 666.7 1098.2 667.0 1100.9 667.3 1096.4 667.6 1093.4 667.9 1107.1 668.2 1092.1 668.5 1101.8 668.8 1103.8 669.1 1101.0 669.4 1095.3 669.7 1097.1 670.0 1089.1 670.3 1099.7 670.6 1091.9 670.9 1096.4 671.2 1091.6 671.5 1102.3 671.8 1094.0 672.1 1096.0 672.4 1105.6 672.7 1090.2 673.0 1094.0 673.3 1076.1 673.6 1093.1 673.9 1092.1 674.2 1090.8 674.5 1098.7 674.8 1104.3 675.1 1099.2 675.4 1098.5 675.7 1100.4 676.0 1087.7 676.3 1085.7 676.6 1095.0 676.9 1104.6 677.2 1089.3 677.5 1084.1 677.8 1092.6 678.1 1098.7 678.4 1096.3 678.7 1094.6 679.0 1090.8 679.3 1096.2 679.6 1088.7 679.9 1099.0 680.2 1104.9 680.5 1095.8 680.8 1104.2 681.1 1106.7 681.4 1082.5 681.7 1088.0 682.0 1083.9 682.3 1079.9 682.6 1082.6 682.9 1087.8 683.2 1091.9 683.5 1092.7 683.8 1074.6 684.1 1087.5 684.4 1080.9 684.7 1091.6 685.0 1082.3 685.3 1097.2 685.6 1105.6 685.9 1099.7 686.2 1085.3 686.5 1087.8 686.8 1084.1 687.1 1085.8 687.4 1097.7 687.7 1075.6 688.0 1081.8 688.3 1085.8 688.6 1080.2 688.9 1078.2 689.2 1095.7 689.5 1083.4 689.8 1081.6 690.1 1076.3 690.4 1082.3 690.7 1089.7 691.0 1082.4 691.3 1090.8 691.6 1081.2 691.9 1078.0 692.2 1083.0 692.5 1073.7 692.8 1073.9 693.1 1085.7 693.4 1088.5 693.7 1093.5 694.0 1064.8 694.3 1087.9 694.6 1085.7 694.9 1082.2 695.2 1084.2 695.5 1087.9 695.8 1084.1 696.1 1084.3 696.4 1077.6 696.7 1092.2 697.0 1080.0 697.3 1087.2 697.6 1076.0 697.9 1079.3 698.2 1078.1 698.5 1081.4 698.8 1088.3 699.1 1070.3 699.4 1086.9 699.7 1074.3 700.0 1093.0 700.3 1072.5 700.6 1079.0 700.9 1081.9 701.2 1068.6 701.5 1077.4 701.8 1077.7 702.1 1079.6 702.4 1075.7 702.7 1070.6 703.0 1066.2 703.3 1073.0 703.6 1073.7 703.9 1073.7 704.2 1081.3 704.5 1076.4 704.8 1066.0 705.1 1067.3 705.4 1083.0 705.7 1079.7 706.0 1076.5 706.3 1073.5 706.6 1082.8 706.9 1071.1 707.2 1071.8 707.5 1083.3 707.8 1059.7 708.1 1083.8 708.4 1072.0 708.7 1079.4 709.0 1074.5 709.3 1067.0 709.6 1080.0 709.9 1073.7 710.2 1077.5 710.5 1080.9 710.8 1080.2 711.1 1080.0 711.4 1083.1 711.7 1071.2 712.0 1094.0 712.3 1071.0 712.6 1078.7 712.9 1080.1 713.2 1077.3 713.5 1085.5 713.8 1077.8 714.1 1081.4 714.4 1097.7 714.7 1077.2 715.0 1107.9 715.3 1074.0 715.6 1086.1 715.9 1083.9 716.2 1087.1 716.5 1070.4 716.8 1071.9 717.1 1087.7 717.4 1089.2 717.7 1088.3 718.0 1081.2 718.3 1087.6 718.6 1087.1 718.9 1081.2 719.2 1105.9 719.5 1085.0 719.8 1082.4 720.1 1088.1 720.4 1083.6 720.7 1087.8 721.0 1081.0 721.3 1081.5 721.6 1081.6 721.9 1098.1 722.2 1085.8 722.5 1098.5 722.8 1097.7 723.1 1084.7 723.4 1083.7 723.7 1096.4 724.0 1086.9 724.3 1085.5 724.6 1101.5 724.9 1103.1 725.2 1095.9 725.5 1080.0 725.8 1091.2 726.1 1080.9 726.4 1092.1 726.7 1093.2 727.0 1103.8 727.3 1083.9 727.6 1092.8 727.9 1094.1 728.2 1096.7 728.5 1096.0 728.8 1105.2 729.1 1096.4 729.4 1090.9 729.7 1092.0 730.0 1101.1 730.3 1092.0 730.6 1083.3 730.9 1085.4 731.2 1087.5 731.5 1087.3 731.8 1096.5 732.1 1096.2 732.4 1085.4 732.7 1085.9 733.0 1098.2 733.3 1100.0 733.6 1095.0 733.9 1111.0 734.2 1090.9 734.5 1103.5 734.8 1097.7 735.1 1084.8 735.4 1086.0 735.7 1097.1 736.0 1091.7 736.3 1094.1 736.6 1095.6 736.9 1099.7 737.2 1094.8 737.5 1101.0 737.8 1095.6 738.1 1091.1 738.4 1094.5 738.7 1090.1 739.0 1102.4 739.3 1089.0 739.6 1094.1 739.9 1095.0 740.2 1101.0 740.5 1107.3 740.8 1091.2 741.1 1095.9 741.4 1093.0 741.7 1093.8 742.0 1089.0 742.3 1099.0 742.6 1088.2 742.9 1108.4 743.2 1104.2 743.5 1105.9 743.8 1111.7 744.1 1098.4 744.4 1094.8 744.7 1089.0 745.0 1106.9 745.3 1104.7 745.6 1094.6 745.9 1093.5 746.2 1101.8 746.5 1101.6 746.8 1093.4 747.1 1115.6 747.4 1097.0 747.7 1104.1 748.0 1090.4 748.3 1094.3 748.6 1101.4 748.9 1094.7 749.2 1112.7 749.5 1090.3 749.8 1097.9 750.1 1091.0 750.4 1098.8 750.7 1109.5 751.0 1103.0 751.3 1100.2 751.6 1109.8 751.9 1087.3 752.2 1094.7 752.5 1087.3 752.8 1109.1 753.1 1093.0 753.4 1111.2 753.7 1095.1 754.0 1101.2 754.3 1100.3 754.6 1108.2 754.9 1097.7 755.2 1101.1 755.5 1099.8 755.8 1102.3 756.1 1098.0 756.4 1103.4 756.7 1097.4 757.0 1107.0 757.3 1098.5 757.6 1113.0 757.9 1096.0 758.2 1104.8 758.5 1102.4 758.8 1116.0 759.1 1107.3 759.4 1103.0 759.7 1103.1 760.0 1097.3 760.3 1118.4 760.6 1119.2 760.9 1104.0 761.2 1097.0 761.5 1107.4 761.8 1109.3 762.1 1099.4 762.4 1100.4 762.7 1101.7 763.0 1103.2 763.3 1108.0 763.6 1099.0 763.9 1088.9 764.2 1119.2 764.5 1103.1 764.8 1109.5 765.1 1102.4 765.4 1106.1 765.7 1107.3 766.0 1103.5 766.3 1122.2 766.6 1109.7 766.9 1103.9 767.2 1106.0 767.5 1105.9 767.8 1104.6 768.1 1113.0 768.4 1113.0 768.7 1105.1 769.0 1107.7 769.3 1099.4 769.6 1110.7 769.9 1105.7 770.2 1101.7 770.5 1102.6 770.8 1116.1 771.1 1097.4 771.4 1101.8 771.7 1109.2 772.0 1109.7 772.3 1106.2 772.6 1101.2 772.9 1103.6 773.2 1120.5 773.5 1099.7 773.8 1108.7 774.1 1113.2 774.4 1112.1 774.7 1123.4 775.0 1110.3 775.3 1105.4 775.6 1103.9 775.9 1106.5 776.2 1117.1 776.5 1097.8 776.8 1109.9 777.1 1103.7 777.4 1107.8 777.7 1129.5 778.0 1110.1 778.3 1111.5 778.6 1105.9 778.9 1095.0 779.2 1104.1 779.5 1106.4 779.8 1108.9 780.1 1099.0 780.4 1107.5 780.7 1118.9 781.0 1106.9 781.3 1114.6 781.6 1111.4 781.9 1109.8 782.2 1107.3 782.5 1115.0 782.8 1121.7 783.1 1101.2 783.4 1117.5 783.7 1108.7 784.0 1113.4 784.3 1118.2 784.6 1112.9 784.9 1124.7 785.2 1122.5 785.5 1108.8 785.8 1117.6 786.1 1099.1 786.4 1114.5 786.7 1107.1 787.0 1108.0 787.3 1119.4 787.6 1114.4 787.9 1110.4 788.2 1115.5 788.5 1112.9 788.8 1112.8 789.1 1105.1 789.4 1110.9 789.7 1117.3 790.0 1116.5 790.3 1114.7 790.6 1108.0 790.9 1110.3 791.2 1102.4 791.5 1105.3 791.8 1123.0 792.1 1126.4 792.4 1115.8 792.7 1115.1 793.0 1107.8 793.3 1117.6 793.6 1112.7 793.9 1130.4 794.2 1121.0 794.5 1115.8 794.8 1108.1 795.1 1126.2 795.4 1117.2 795.7 1131.0 796.0 1121.2 796.3 1116.4 796.6 1122.0 796.9 1122.6 797.2 1114.5 797.5 1126.7 797.8 1131.0 798.1 1114.3 798.4 1106.2 798.7 1123.1 799.0 1119.7 799.3 1118.9 799.6 1113.7 799.9 1129.1 800.2 1108.1 800.5 1127.4 800.8 1116.5 801.1 1108.5 801.4 1114.9 801.7 1119.5 802.0 1133.3 802.3 1127.4 802.6 1119.1 802.9 1120.4 803.2 1128.9 803.5 1125.5 803.8 1135.7 804.1 1116.7 804.4 1123.3 804.7 1117.6 805.0 1121.8 805.3 1112.9 805.6 1121.2 805.9 1108.3 806.2 1123.3 806.5 1130.8 806.8 1123.6 807.1 1122.3 807.4 1120.5 807.7 1114.0 808.0 1117.5 808.3 1119.1 808.6 1115.8 808.9 1128.5 809.2 1105.8 809.5 1115.8 809.8 1116.6 810.1 1120.0 810.4 1115.6 810.7 1114.2 811.0 1115.0 811.3 1118.0 811.6 1114.3 811.9 1128.8 812.2 1122.0 812.5 1130.0 812.8 1118.9 813.1 1125.9 813.4 1122.0 813.7 1123.6 814.0 1138.5 814.3 1127.1 814.6 1124.8 814.9 1121.9 815.2 1113.5 815.5 1121.5 815.8 1119.2 816.1 1134.8 816.4 1120.1 816.7 1124.0 817.0 1122.4 817.3 1117.2 817.6 1129.7 817.9 1113.5 818.2 1127.0 818.5 1113.6 818.8 1120.3 819.1 1140.7 819.4 1122.5 819.7 1125.1 820.0 1125.5 820.3 1124.2 820.6 1111.0 820.9 1115.7 821.2 1132.6 821.5 1124.9 821.8 1116.5 822.1 1116.9 822.4 1131.9 822.7 1119.4 823.0 1122.9 823.3 1121.8 823.6 1119.8 823.9 1126.2 824.2 1127.5 824.5 1123.1 824.8 1123.5 825.1 1120.1 825.4 1132.9 825.7 1117.0 826.0 1126.5 826.3 1129.0 826.6 1132.0 826.9 1125.2 827.2 1128.1 827.5 1124.0 827.8 1120.7 828.1 1126.0 828.4 1131.6 828.7 1129.6 829.0 1119.0 829.3 1125.7 829.6 1133.6 829.9 1127.9 830.2 1140.2 830.5 1126.3 830.8 1125.1 831.1 1111.5 831.4 1134.2 831.7 1117.4 832.0 1121.7 832.3 1120.9 832.6 1122.2 832.9 1134.0 833.2 1112.6 833.5 1128.3 833.8 1119.9 834.1 1125.9 834.4 1129.1 834.7 1124.5 835.0 1123.6 835.3 1125.9 835.6 1125.8 835.9 1130.6 836.2 1129.3 836.5 1124.7 836.8 1150.2 837.1 1123.4 837.4 1138.8 837.7 1126.3 838.0 1135.6 838.3 1137.6 838.6 1125.7 838.9 1135.1 839.2 1141.0 839.5 1119.6 839.8 1121.0 840.1 1123.4 840.4 1139.6 840.7 1131.1 841.0 1124.4 841.3 1127.2 841.6 1129.9 841.9 1120.8 842.2 1125.8 842.5 1129.3 842.8 1133.0 843.1 1134.5 843.4 1126.0 843.7 1127.7 844.0 1122.1 844.3 1128.2 844.6 1129.6 844.9 1128.7 845.2 1131.7 845.5 1123.4 845.8 1140.0 846.1 1130.2 846.4 1136.7 846.7 1124.2 847.0 1128.3 847.3 1130.1 847.6 1126.0 847.9 1140.0 848.2 1129.3 848.5 1122.3 848.8 1135.5 849.1 1126.2 849.4 1131.4 849.7 1134.6 850.0 1124.2 850.3 1138.2 850.6 1134.4 850.9 1121.7 851.2 1136.9 851.5 1125.2 851.8 1125.6 852.1 1139.9 852.4 1122.4 852.7 1109.6 853.0 1130.7 853.3 1128.5 853.6 1124.8 853.9 1135.7 854.2 1121.9 854.5 1124.5 854.8 1136.9 855.1 1125.9 855.4 1124.6 855.7 1126.1 856.0 1123.2 856.3 1122.9 856.6 1129.0 856.9 1126.9 857.2 1127.9 857.5 1125.1 857.8 1130.8 858.1 1132.0 858.4 1134.2 858.7 1126.3 859.0 1123.5 859.3 1123.4 859.6 1131.2 859.9 1134.8 860.2 1135.0 860.5 1134.1 860.8 1136.7 861.1 1140.4 861.4 1131.0 861.7 1133.4 862.0 1125.7 862.3 1132.3 862.6 1138.1 862.9 1126.7 863.2 1142.5 863.5 1133.3 863.8 1134.9 864.1 1131.8 864.4 1142.6 864.7 1131.6 865.0 1135.7 865.3 1131.8 865.6 1128.1 865.9 1129.2 866.2 1127.4 866.5 1128.6 866.8 1138.4 867.1 1126.3 867.4 1128.7 867.7 1137.9 868.0 1141.9 868.3 1130.8 868.6 1127.7 868.9 1119.7 869.2 1134.2 869.5 1126.2 869.8 1127.3 870.1 1134.6 870.4 1127.7 870.7 1133.4 871.0 1133.3 871.3 1126.7 871.6 1129.6 871.9 1137.9 872.2 1132.4 872.5 1132.3 872.8 1123.5 873.1 1129.3 873.4 1142.3 873.7 1128.9 874.0 1132.6 874.3 1136.1 874.6 1145.3 874.9 1122.0 875.2 1140.3 875.5 1141.2 875.8 1130.8 876.1 1142.8 876.4 1124.0 876.7 1118.4 877.0 1129.7 877.3 1134.5 877.6 1124.9 877.9 1130.2 878.2 1127.6 878.5 1142.9 878.8 1127.4 879.1 1138.7 879.4 1120.3 879.7 1130.0 880.0 1130.5 880.3 1123.7 880.6 1127.6 880.9 1132.4 881.2 1127.8 881.5 1127.7 881.8 1129.9 882.1 1132.9 882.4 1135.0 882.7 1127.2 883.0 1135.9 883.3 1129.8 883.6 1145.4 883.9 1130.0 884.2 1131.7 884.5 1124.9 884.8 1139.7 885.1 1128.4 885.4 1132.5 885.7 1136.1 886.0 1127.1 886.3 1131.9 886.6 1126.8 886.9 1126.3 887.2 1123.9 887.5 1120.6 887.8 1125.0 888.1 1120.9 888.4 1137.2 888.7 1120.7 889.0 1145.5 889.3 1129.3 889.6 1126.6 889.9 1139.4 890.2 1131.8 890.5 1129.3 890.8 1128.1 891.1 1144.2 891.4 1126.4 891.7 1120.5 892.0 1129.6 892.3 1132.5 892.6 1120.2 892.9 1119.2 893.2 1125.7 893.5 1125.9 893.8 1130.0 894.1 1121.0 894.4 1128.0 894.7 1121.1 895.0 1134.8 895.3 1128.6 895.6 1134.9 895.9 1138.8 896.2 1131.9 896.5 1131.1 896.8 1124.5 897.1 1127.7 897.4 1134.1 897.7 1136.3 898.0 1148.7 898.3 1127.1 898.6 1125.9 898.9 1143.2 899.2 1131.5 899.5 1122.7 899.8 1137.4 900.1 1130.4 900.4 1127.2 900.7 1125.0 901.0 1139.4 901.3 1136.8 901.6 1147.7 901.9 1133.0 902.2 1128.6 902.5 1132.8 902.8 1133.3 903.1 1130.2 903.4 1125.2 903.7 1126.5 904.0 1131.5 904.3 1130.0 904.6 1142.6 904.9 1133.6 905.2 1131.4 905.5 1129.1 905.8 1138.3 906.1 1131.7 906.4 1141.9 906.7 1133.4 907.0 1139.5 907.3 1132.3 907.6 1139.4 907.9 1140.6 908.2 1130.8 908.5 1142.0 908.8 1133.0 909.1 1147.0 909.4 1148.2 909.7 1140.2 910.0 1139.4 910.3 1144.7 910.6 1131.2 910.9 1139.6 911.2 1133.7 911.5 1136.0 911.8 1137.4 912.1 1145.1 912.4 1130.5 912.7 1126.0 913.0 1126.8 913.3 1137.8 913.6 1131.8 913.9 1138.2 914.2 1140.7 914.5 1141.7 914.8 1124.8 915.1 1135.5 915.4 1136.0 915.7 1129.3 916.0 1121.8 916.3 1136.8 916.6 1148.8 916.9 1124.4 917.2 1133.1 917.5 1139.2 917.8 1122.8 918.1 1145.3 918.4 1130.2 918.7 1141.2 919.0 1149.3 919.3 1137.3 919.6 1129.5 919.9 1134.9 920.2 1132.5 920.5 1138.9 920.8 1130.0 921.1 1141.8 921.4 1131.5 921.7 1158.3 922.0 1128.0 922.3 1140.5 922.6 1128.1 922.9 1142.8 923.2 1135.6 923.5 1119.9 923.8 1130.4 924.1 1129.7 924.4 1128.6 924.7 1135.7 925.0 1129.9 925.3 1135.1 925.6 1138.5 925.9 1135.8 926.2 1133.7 926.5 1133.7 926.8 1138.7 927.1 1131.3 927.4 1135.5 927.7 1118.2 928.0 1127.9 928.3 1138.2 928.6 1135.1 928.9 1136.7 929.2 1136.7 929.5 1144.8 929.8 1132.9 930.1 1127.7 930.4 1143.5 930.7 1137.4 931.0 1132.1 931.3 1129.8 931.6 1126.7 931.9 1128.7 932.2 1134.3 932.5 1144.2 932.8 1134.3 933.1 1135.1 933.4 1132.6 933.7 1129.9 934.0 1139.3 934.3 1137.7 934.6 1134.4 934.9 1141.5 935.2 1129.3 935.5 1136.1 935.8 1134.9 936.1 1142.3 936.4 1132.6 936.7 1134.6 937.0 1134.3 937.3 1138.0 937.6 1135.1 937.9 1134.7 938.2 1131.5 938.5 1132.5 938.8 1139.8 939.1 1133.0 939.4 1142.9 939.7 1154.6 940.0 1150.4 940.3 1140.3 940.6 1140.9 940.9 1141.3 941.2 1137.7 941.5 1136.7 941.8 1137.1 942.1 1133.4 942.4 1135.0 942.7 1148.1 943.0 1131.4 943.3 1131.9 943.6 1128.8 943.9 1141.9 944.2 1149.4 944.5 1144.7 944.8 1136.5 945.1 1142.8 945.4 1140.7 945.7 1144.0 946.0 1129.8 946.3 1143.4 946.6 1131.7 946.9 1140.3 947.2 1142.2 947.5 1143.4 947.8 1149.3 948.1 1147.4 948.4 1136.7 948.7 1160.7 949.0 1130.5 949.3 1133.0 949.6 1139.7 949.9 1141.9 950.2 1138.7 950.5 1138.4 950.8 1148.1 951.1 1130.2 951.4 1137.4 951.7 1132.0 952.0 1138.1 952.3 1135.7 952.6 1141.2 952.9 1145.4 953.2 1148.4 953.5 1121.7 953.8 1135.8 954.1 1145.7 954.4 1138.9 954.7 1135.8 955.0 1138.1 955.3 1147.2 955.6 1138.0 955.9 1139.8 956.2 1137.4 956.5 1139.1 956.8 1140.4 957.1 1158.0 957.4 1142.7 957.7 1140.0 958.0 1149.6 958.3 1131.1 958.6 1137.0 958.9 1139.5 959.2 1133.0 959.5 1137.8 959.8 1137.2 960.1 1136.2 960.4 1135.6 960.7 1139.0 961.0 1144.5 961.3 1136.6 961.6 1140.6 961.9 1141.6 962.2 1136.0 962.5 1137.9 962.8 1147.9 963.1 1131.6 963.4 1139.5 963.7 1138.9 964.0 1135.9 964.3 1122.1 964.6 1142.8 964.9 1153.1 965.2 1137.7 965.5 1143.7 965.8 1141.1 966.1 1140.9 966.4 1136.6 966.7 1140.8 967.0 1130.6 967.3 1138.0 967.6 1139.2 967.9 1139.3 968.2 1134.5 968.5 1143.2 968.8 1131.2 969.1 1128.2 969.4 1139.6 969.7 1130.1 970.0 1151.9 970.3 1132.1 970.6 1136.0 970.9 1146.4 971.2 1132.2 971.5 1147.8 971.8 1151.1 972.1 1145.3 972.4 1138.9 972.7 1152.4 973.0 1138.3 973.3 1144.1 973.6 1134.1 973.9 1144.3 974.2 1143.3 974.5 1142.5 974.8 1144.1 975.1 1133.8 975.4 1144.6 975.7 1138.0 976.0 1139.4 976.3 1143.6 976.6 1135.8 976.9 1143.8 977.2 1137.8 977.5 1143.0 977.8 1139.1 978.1 1134.6 978.4 1144.2 978.7 1138.5 979.0 1141.7 979.3 1136.4 979.6 1131.2 979.9 1146.3 980.2 1129.0 980.5 1135.0 980.8 1129.9 981.1 1141.5 981.4 1122.9 981.7 1144.7 982.0 1161.4 982.3 1133.9 982.6 1144.7 982.9 1157.0 983.2 1132.5 983.5 1139.0 983.8 1135.4 984.1 1138.9 984.4 1137.1 984.7 1150.4 985.0 1140.1 985.3 1153.0 985.6 1152.9 985.9 1146.5 986.2 1137.2 986.5 1136.8 986.8 1133.6 987.1 1143.5 987.4 1139.8 987.7 1140.2 988.0 1140.5 988.3 1151.4 988.6 1138.7 988.9 1137.8 989.2 1141.5 989.5 1141.5 989.8 1147.0 990.1 1147.6 990.4 1135.1 990.7 1144.2 991.0 1136.2 991.3 1142.4 991.6 1136.8 991.9 1134.9 992.2 1138.0 992.5 1143.2 992.8 1133.9 993.1 1141.5 993.4 1139.0 993.7 1137.6 994.0 1141.7 994.3 1143.3 994.6 1137.6 994.9 1125.4 995.2 1134.8 995.5 1145.5 995.8 1132.5 996.1 1140.7 996.4 1130.4 996.7 1151.9 997.0 1134.5 997.3 1144.9 997.6 1134.3 997.9 1140.4 998.2 1145.9 998.5 1138.9 998.8 1133.9 999.1 1152.8 999.4 1138.1 999.7 1147.4 1000.0 1135.1 1000.3 1137.2 1000.6 1143.0 1000.9 1144.2 1001.2 1145.2 1001.5 1132.6 1001.8 1141.9 1002.1 1131.8 1002.4 1144.0 1002.7 1140.0 1003.0 1146.6 1003.3 1136.8 1003.6 1138.4 1003.9 1144.6 1004.2 1132.5 1004.5 1135.1 1004.8 1144.4 1005.1 1142.8 1005.4 1137.4 1005.7 1136.0 1006.0 1133.5 1006.3 1137.7 1006.6 1143.1 1006.9 1140.1 1007.2 1130.2 1007.5 1134.9 1007.8 1142.8 1008.1 1121.9 1008.4 1148.4 1008.7 1126.0 1009.0 1138.9 1009.3 1135.3 1009.6 1135.0 1009.9 1135.1 1010.2 1140.2 1010.5 1137.8 1010.8 1137.0 1011.1 1148.2 1011.4 1140.8 1011.7 1138.3 1012.0 1131.4 1012.3 1137.6 1012.6 1138.7 1012.9 1141.8 1013.2 1138.9 1013.5 1138.4 1013.8 1136.1 1014.1 1143.5 1014.4 1130.6 1014.7 1139.5 1015.0 1146.1 1015.3 1126.5 1015.6 1146.4 1015.9 1141.3 1016.2 1140.6 1016.5 1134.4 1016.8 1134.7 1017.1 1133.9 1017.4 1152.7 1017.7 1134.1 1018.0 1152.4 1018.3 1136.8 1018.6 1133.8 1018.9 1142.4 1019.2 1136.5 1019.5 1134.3 1019.8 1136.5 1020.1 1142.7 1020.4 1137.1 1020.7 1133.5 1021.0 1139.5 1021.3 1141.3 1021.6 1132.2 1021.9 1146.3 1022.2 1130.0 1022.5 1138.2 1022.8 1144.6 1023.1 1141.8 1023.4 1137.6 1023.7 1137.1 1024.0 1139.4 1024.3 1150.3 1024.6 1139.2 1024.9 1150.4 1025.2 1138.6 1025.5 1159.9 1025.8 1141.6 1026.1 1151.7 1026.4 1133.2 1026.7 1139.1 1027.0 1143.2 1027.3 1130.5 1027.6 1133.8 1027.9 1133.7 1028.2 1142.2 1028.5 1134.7 1028.8 1139.8 1029.1 1138.2 1029.4 1138.3 1029.7 1130.9 1030.0 1142.3 1030.3 1129.8 1030.6 1148.7 1030.9 1139.2 1031.2 1134.3 1031.5 1137.6 1031.8 1130.4 1032.1 1135.7 1032.4 1138.8 1032.7 1152.3 1033.0 1131.8 1033.3 1137.9 1033.6 1133.9 1033.9 1141.3 1034.2 1146.8 1034.5 1133.5 1034.8 1139.7 1035.1 1144.9 1035.4 1136.6 1035.7 1137.5 1036.0 1136.8 1036.3 1139.0 1036.6 1140.7 1036.9 1135.1 1037.2 1137.4 1037.5 1133.5 1037.8 1139.8 1038.1 1139.9 1038.4 1144.7 1038.7 1138.0 1039.0 1137.6 1039.3 1131.7 1039.6 1142.9 1039.9 1139.5 1040.2 1134.5 1040.5 1140.5 1040.8 1145.0 1041.1 1141.9 1041.4 1141.4 1041.7 1142.5 1042.0 1133.6 1042.3 1136.8 1042.6 1140.2 1042.9 1127.0 1043.2 1136.3 1043.5 1145.3 1043.8 1132.4 1044.1 1135.6 1044.4 1137.2 1044.7 1142.8 1045.0 1128.1 1045.3 1141.3 1045.6 1145.7 1045.9 1138.7 1046.2 1132.2 1046.5 1146.4 1046.8 1140.4 1047.1 1141.8 1047.4 1150.1 1047.7 1139.9 1048.0 1135.6 1048.3 1129.3 1048.6 1146.6 1048.9 1136.6 1049.2 1135.5 1049.5 1141.6 1049.8 1141.7 1050.1 1131.4 1050.4 1135.9 1050.7 1132.8 1051.0 1130.7 1051.3 1132.9 1051.6 1133.0 1051.9 1134.0 1052.2 1128.9 1052.5 1131.3 1052.8 1139.9 1053.1 1128.5 1053.4 1134.3 1053.7 1124.7 1054.0 1131.9 1054.3 1135.3 1054.6 1138.6 1054.9 1141.9 1055.2 1130.0 1055.5 1141.7 1055.8 1124.3 1056.1 1141.0 1056.4 1127.8 1056.7 1129.7 1057.0 1139.0 1057.3 1132.8 1057.6 1138.7 1057.9 1135.4 1058.2 1134.8 1058.5 1139.9 1058.8 1132.2 1059.1 1131.8 1059.4 1135.7 1059.7 1134.4 1060.0 1136.6 1060.3 1136.6 1060.6 1139.1 1060.9 1130.1 1061.2 1125.6 1061.5 1133.8 1061.8 1136.9 1062.1 1134.6 1062.4 1127.3 1062.7 1120.2 1063.0 1125.0 1063.3 1134.5 1063.6 1129.3 1063.9 1138.4 1064.2 1143.9 1064.5 1136.8 1064.8 1134.3 1065.1 1133.3 1065.4 1134.9 1065.7 1144.0 1066.0 1130.6 1066.3 1126.3 1066.6 1135.1 1066.9 1139.3 1067.2 1126.6 1067.5 1125.6 1067.8 1123.5 1068.1 1130.9 1068.4 1124.9 1068.7 1140.1 1069.0 1126.1 1069.3 1138.3 1069.6 1133.7 1069.9 1122.0 1070.2 1132.6 1070.5 1140.6 1070.8 1135.5 1071.1 1129.0 1071.4 1130.4 1071.7 1132.0 1072.0 1132.1 1072.3 1130.9 1072.6 1127.2 1072.9 1126.4 1073.2 1122.7 1073.5 1131.9 1073.8 1130.4 1074.1 1126.8 1074.4 1138.7 1074.7 1128.8 1075.0 1140.0 1075.3 1129.5 1075.6 1129.6 1075.9 1135.0 1076.2 1127.5 1076.5 1140.0 1076.8 1142.6 1077.1 1132.2 1077.4 1135.5 1077.7 1128.4 1078.0 1135.9 1078.3 1140.1 1078.6 1131.5 1078.9 1137.0 1079.2 1135.6 1079.5 1132.8 1079.8 1143.7 1080.1 1155.8 1080.4 1126.8 1080.7 1138.1 1081.0 1119.7 1081.3 1134.9 1081.6 1136.4 1081.9 1133.9 1082.2 1136.0 1082.5 1137.2 1082.8 1143.8 1083.1 1135.3 1083.4 1131.7 1083.7 1137.8 1084.0 1147.9 1084.3 1133.9 1084.6 1149.7 1084.9 1138.7 1085.2 1130.4 1085.5 1136.0 1085.8 1132.6 1086.1 1140.4 1086.4 1130.1 1086.7 1138.6 1087.0 1137.6 1087.3 1126.9 1087.6 1136.5 1087.9 1134.1 1088.2 1143.7 1088.5 1141.0 1088.8 1142.6 1089.1 1138.5 1089.4 1133.2 1089.7 1144.8 1090.0 1142.5 1090.3 1138.3 1090.6 1138.9 1090.9 1143.8 1091.2 1143.4 1091.5 1138.6 1091.8 1137.5 1092.1 1145.4 1092.4 1139.8 1092.7 1135.6 1093.0 1139.7 1093.3 1137.8 1093.6 1141.4 1093.9 1136.7 1094.2 1140.0 1094.5 1143.0 1094.8 1137.2 1095.1 1137.6 1095.4 1142.5 1095.7 1133.6 1096.0 1139.3 1096.3 1139.4 1096.6 1142.0 1096.9 1142.2 1097.2 1140.4 1097.5 1149.7 1097.8 1136.9 1098.1 1140.4 1098.4 1149.2 1098.7 1139.9 1099.0 1141.1 1099.3 1137.6 1099.6 1143.3 1099.9 1150.1 1100.2 1141.4 1100.5 1138.3 1100.8 1141.7 1101.1 1131.3 1101.4 1139.0 1101.7 1156.1 1102.0 1136.6 1102.3 1136.5 1102.6 1141.9 1102.9 1138.4 1103.2 1142.3 1103.5 1154.7 1103.8 1149.2 1104.1 1139.1 1104.4 1149.7 1104.7 1149.3 1105.0 1150.7 1105.3 1141.8 1105.6 1146.0 1105.9 1142.5 1106.2 1147.0 1106.5 1146.0 1106.8 1151.9 1107.1 1148.1 1107.4 1143.9 1107.7 1135.1 1108.0 1147.4 1108.3 1148.7 1108.6 1150.7 1108.9 1146.4 1109.2 1147.0 1109.5 1145.7 1109.8 1145.0 1110.1 1138.5 1110.4 1143.1 1110.7 1144.6 1111.0 1138.8 1111.3 1145.6 1111.6 1141.6 1111.9 1149.9 1112.2 1148.1 1112.5 1139.1 1112.8 1137.5 1113.1 1150.0 1113.4 1152.9 1113.7 1151.2 1114.0 1138.8 1114.3 1151.5 1114.6 1145.9 1114.9 1152.6 1115.2 1148.0 1115.5 1145.2 1115.8 1146.6 1116.1 1151.2 1116.4 1149.6 1116.7 1140.4 1117.0 1146.2 1117.3 1150.4 1117.6 1149.3 1117.9 1147.2 1118.2 1147.6 1118.5 1140.9 1118.8 1141.5 1119.1 1147.1 1119.4 1146.8 1119.7 1148.6 1120.0 1143.5 1120.3 1143.9 1120.6 1140.4 1120.9 1147.2 1121.2 1148.1 1121.5 1151.6 1121.8 1151.7 1122.1 1151.2 1122.4 1151.4 1122.7 1155.9 1123.0 1155.1 1123.3 1147.5 1123.6 1137.3 1123.9 1146.1 1124.2 1148.9 1124.5 1148.6 1124.8 1145.0 1125.1 1153.4 1125.4 1141.1 1125.7 1148.3 1126.0 1147.5 1126.3 1155.4 1126.6 1150.8 1126.9 1145.2 1127.2 1137.5 1127.5 1144.5 1127.8 1155.2 1128.1 1146.8 1128.4 1152.8 1128.7 1150.8 1129.0 1148.1 1129.3 1154.9 1129.6 1143.6 1129.9 1149.9 1130.2 1153.7 1130.5 1149.8 1130.8 1149.8 1131.1 1145.6 1131.4 1144.2 1131.7 1149.6 1132.0 1149.8 1132.3 1145.8 1132.6 1146.8 1132.9 1148.0 1133.2 1150.9 1133.5 1156.6 1133.8 1150.8 1134.1 1148.9 1134.4 1160.5 1134.7 1141.5 1135.0 1151.5 1135.3 1147.7 1135.6 1150.9 1135.9 1159.6 1136.2 1144.3 1136.5 1144.9 1136.8 1150.3 1137.1 1161.5 1137.4 1148.7 1137.7 1150.5 1138.0 1150.4 1138.3 1145.1 1138.6 1151.6 1138.9 1147.8 1139.2 1149.3 1139.5 1150.9 1139.8 1142.6 1140.1 1148.7 1140.4 1148.2 1140.7 1148.6 1141.0 1147.2 1141.3 1152.5 1141.6 1167.5 1141.9 1149.4 1142.2 1157.6 1142.5 1148.2 1142.8 1151.7 1143.1 1155.4 1143.4 1147.4 1143.7 1149.4 1144.0 1145.0 1144.3 1164.4 1144.6 1143.3 1144.9 1151.4 1145.2 1148.6 1145.5 1151.0 1145.8 1145.8 1146.1 1151.1 1146.4 1153.0 1146.7 1147.2 1147.0 1146.8 1147.3 1154.2 1147.6 1153.4 1147.9 1152.7 1148.2 1155.7 1148.5 1151.4 1148.8 1148.7 1149.1 1148.5 1149.4 1154.8 1149.7 1146.0 1150.0 1149.6 1150.3 1144.2 1150.6 1148.9 1150.9 1157.8 1151.2 1153.4 1151.5 1149.5 1151.8 1145.4 1152.1 1145.6 1152.4 1146.0 1152.7 1151.5 1153.0 1147.0 1153.3 1154.4 1153.6 1145.8 1153.9 1162.8 1154.2 1152.2 1154.5 1154.6 1154.8 1153.5 1155.1 1148.3 1155.4 1148.0 1155.7 1147.2 1156.0 1149.0 1156.3 1163.5 1156.6 1152.1 1156.9 1154.6 1157.2 1147.4 1157.5 1148.4 1157.8 1149.5 1158.1 1142.7 1158.4 1140.5 1158.7 1148.6 1159.0 1147.5 1159.3 1140.7 1159.6 1157.5 1159.9 1159.0 1160.2 1145.1 1160.5 1157.9 1160.8 1153.1 1161.1 1146.7 1161.4 1144.8 1161.7 1150.4 1162.0 1142.4 1162.3 1152.8 1162.6 1157.0 1162.9 1154.2 1163.2 1165.1 1163.5 1158.7 1163.8 1157.6 1164.1 1155.9 1164.4 1154.0 1164.7 1153.0 1165.0 1154.3 1165.3 1148.2 1165.6 1162.7 1165.9 1146.4 1166.2 1161.7 1166.5 1154.3 1166.8 1157.8 1167.1 1147.5 1167.4 1148.0 1167.7 1166.0 1168.0 1155.0 1168.3 1148.7 1168.6 1147.8 1168.9 1149.0 1169.2 1149.7 1169.5 1158.0 1169.8 1162.7 1170.1 1156.7 1170.4 1161.3 1170.7 1158.8 1171.0 1149.5 1171.3 1154.2 1171.6 1157.7 1171.9 1158.2 1172.2 1151.1 1172.5 1156.7 1172.8 1163.2 1173.1 1172.9 1173.4 1161.5 1173.7 1147.7 1174.0 1151.8 1174.3 1157.5 1174.6 1147.8 1174.9 1150.4 1175.2 1157.7 1175.5 1146.8 1175.8 1161.9 1176.1 1154.2 1176.4 1153.0 1176.7 1152.5 1177.0 1148.6 1177.3 1162.7 1177.6 1158.1 1177.9 1152.9 1178.2 1159.7 1178.5 1157.2 1178.8 1153.0 1179.1 1151.1 1179.4 1160.2 1179.7 1151.0 1180.0 1150.4 1180.3 1148.7 1180.6 1153.3 1180.9 1146.6 1181.2 1150.2 1181.5 1155.5 1181.8 1157.4 1182.1 1174.6 1182.4 1153.3 1182.7 1151.6 1183.0 1151.3 1183.3 1159.2 1183.6 1154.8 1183.9 1150.3 1184.2 1156.5 1184.5 1154.6 1184.8 1154.9 1185.1 1153.0 1185.4 1161.1 1185.7 1154.3 1186.0 1157.5 1186.3 1154.4 1186.6 1169.6 1186.9 1151.3 1187.2 1158.5 1187.5 1143.2 1187.8 1162.7 1188.1 1149.0 1188.4 1151.3 1188.7 1154.0 1189.0 1158.0 1189.3 1152.4 1189.6 1159.5 1189.9 1157.7 1190.2 1160.0 1190.5 1149.2 1190.8 1152.3 1191.1 1151.7 1191.4 1156.0 1191.7 1155.3 1192.0 1158.6 1192.3 1157.3 1192.6 1161.3 1192.9 1152.9 1193.2 1150.5 1193.5 1157.9 1193.8 1158.6 1194.1 1157.8 1194.4 1153.1 1194.7 1144.7 1195.0 1162.0 1195.3 1157.2 1195.6 1167.4 1195.9 1153.7 1196.2 1153.9 1196.5 1139.6 1196.8 1150.8 1197.1 1154.2 1197.4 1155.4 1197.7 1165.4 1198.0 1173.8 1198.3 1152.8 1198.6 1159.8 1198.9 1162.5 1199.2 1161.0 1199.5 1161.1 1199.8 1176.4 1200.1 1159.2 1200.4 1158.5 1200.7 1155.8 1201.0 1157.7 1201.3 1157.1 1201.6 1155.1 1201.9 1155.8 1202.2 1154.0 1202.5 1154.3 1202.8 1151.9 1203.1 1158.0 1203.4 1157.3 1203.7 1144.3 1204.0 1165.6 1204.3 1163.4 1204.6 1161.2 1204.9 1161.2 1205.2 1160.3 1205.5 1158.5 1205.8 1154.4 1206.1 1155.8 1206.4 1153.0 1206.7 1154.1 1207.0 1146.2 1207.3 1157.6 1207.6 1158.3 1207.9 1167.4 1208.2 1159.6 1208.5 1161.3 1208.8 1154.2 1209.1 1156.9 1209.4 1152.5 1209.7 1159.2 1210.0 1177.4 1210.3 1155.3 1210.6 1148.1 1210.9 1165.5 1211.2 1166.4 1211.5 1153.4 1211.8 1160.4 1212.1 1153.3 1212.4 1163.8 1212.7 1153.3 1213.0 1158.6 1213.3 1164.4 1213.6 1159.4 1213.9 1163.0 1214.2 1163.6 1214.5 1157.3 1214.8 1158.5 1215.1 1157.1 1215.4 1161.0 1215.7 1159.9 1216.0 1165.1 1216.3 1160.0 1216.6 1159.0 1216.9 1155.7 1217.2 1158.3 1217.5 1160.0 1217.8 1169.5 1218.1 1162.9 1218.4 1168.9 1218.7 1155.1 1219.0 1156.7 1219.3 1155.6 1219.6 1164.7 1219.9 1156.6 1220.2 1164.7 1220.5 1161.2 1220.8 1149.9 1221.1 1170.3 1221.4 1158.8 1221.7 1156.5 1222.0 1162.4 1222.3 1154.9 1222.6 1158.5 1222.9 1155.9 1223.2 1150.4 1223.5 1152.9 1223.8 1163.7 1224.1 1158.9 1224.4 1159.0 1224.7 1157.4 1225.0 1154.8 1225.3 1159.9 1225.6 1158.4 1225.9 1166.4 1226.2 1156.5 1226.5 1161.1 1226.8 1152.7 1227.1 1158.4 1227.4 1155.5 1227.7 1171.8 1228.0 1165.7 1228.3 1159.9 1228.6 1165.4 1228.9 1168.4 1229.2 1166.8 1229.5 1150.9 1229.8 1165.0 1230.1 1159.9 1230.4 1158.5 1230.7 1164.0 1231.0 1160.4 1231.3 1152.7 1231.6 1155.6 1231.9 1158.2 1232.2 1165.5 1232.5 1161.7 1232.8 1150.4 1233.1 1156.7 1233.4 1152.9 1233.7 1151.1 1234.0 1153.3 1234.3 1154.4 1234.6 1156.5 1234.9 1158.9 1235.2 1168.1 1235.5 1164.4 1235.8 1163.5 1236.1 1160.5 1236.4 1166.6 1236.7 1172.4 1237.0 1164.9 1237.3 1158.0 1237.6 1154.0 1237.9 1159.1 1238.2 1167.6 1238.5 1157.3 1238.8 1151.0 1239.1 1162.2 1239.4 1172.5 1239.7 1159.8 1240.0 1164.3 1240.3 1162.0 1240.6 1159.2 1240.9 1162.3 1241.2 1172.8 1241.5 1157.7 1241.8 1164.0 1242.1 1167.6 1242.4 1165.1 1242.7 1161.0 1243.0 1149.7 1243.3 1164.1 1243.6 1162.8 1243.9 1160.5 1244.2 1157.8 1244.5 1154.4 1244.8 1162.9 1245.1 1165.0 1245.4 1157.5 1245.7 1157.7 1246.0 1160.2 1246.3 1157.2 1246.6 1160.2 1246.9 1165.7 1247.2 1161.0 1247.5 1159.3 1247.8 1163.4 1248.1 1147.0 1248.4 1154.6 1248.7 1162.8 1249.0 1164.2 1249.3 1156.0 1249.6 1170.2 1249.9 1169.8 1250.2 1160.8 1250.5 1166.6 1250.8 1164.8 1251.1 1154.9 1251.4 1163.0 1251.7 1159.1 1252.0 1159.5 1252.3 1159.8 1252.6 1152.0 1252.9 1160.5 1253.2 1170.6 1253.5 1158.8 1253.8 1165.3 1254.1 1153.0 1254.4 1164.9 1254.7 1156.6 1255.0 1164.1 1255.3 1167.5 1255.6 1153.6 1255.9 1158.7 1256.2 1164.5 1256.5 1162.1 1256.8 1146.1 1257.1 1160.8 1257.4 1150.0 1257.7 1159.9 1258.0 1152.9 1258.3 1150.7 1258.6 1160.7 1258.9 1151.9 1259.2 1166.4 1259.5 1162.6 1259.8 1160.2 1260.1 1164.9 1260.4 1158.8 1260.7 1165.1 1261.0 1159.9 1261.3 1149.8 1261.6 1160.2 1261.9 1153.6 1262.2 1157.8 1262.5 1164.6 1262.8 1155.3 1263.1 1166.1 1263.4 1164.4 1263.7 1170.5 1264.0 1163.8 1264.3 1154.6 1264.6 1159.5 1264.9 1153.8 1265.2 1160.0 1265.5 1158.9 1265.8 1166.8 1266.1 1159.3 1266.4 1156.1 1266.7 1156.3 1267.0 1158.4 1267.3 1154.4 1267.6 1158.9 1267.9 1159.1 1268.2 1158.0 1268.5 1155.2 1268.8 1157.8 1269.1 1160.2 1269.4 1164.2 1269.7 1159.3 1270.0 1164.4 1270.3 1153.2 1270.6 1164.7 1270.9 1151.5 1271.2 1155.3 1271.5 1160.5 1271.8 1158.3 1272.1 1164.5 1272.4 1163.5 1272.7 1163.2 1273.0 1159.9 1273.3 1157.2 1273.6 1165.5 1273.9 1160.2 1274.2 1161.8 1274.5 1161.8 1274.8 1160.7 1275.1 1162.6 1275.4 1162.3 1275.7 1157.6 1276.0 1154.9 1276.3 1161.8 1276.6 1158.3 1276.9 1158.7 1277.2 1161.7 1277.5 1156.9 1277.8 1159.5 1278.1 1159.7 1278.4 1164.8 1278.7 1172.1 1279.0 1160.3 1279.3 1162.8 1279.6 1159.2 1279.9 1167.0 1280.2 1161.9 1280.5 1165.8 1280.8 1168.6 1281.1 1172.5 1281.4 1160.3 1281.7 1152.6 1282.0 1160.8 1282.3 1153.7 1282.6 1173.1 1282.9 1161.1 1283.2 1159.1 1283.5 1168.4 1283.8 1158.1 1284.1 1167.2 1284.4 1155.1 1284.7 1149.3 1285.0 1162.7 1285.3 1154.5 1285.6 1152.1 1285.9 1165.8 1286.2 1157.8 1286.5 1160.1 1286.8 1158.4 1287.1 1168.8 1287.4 1160.3 1287.7 1158.4 1288.0 1157.8 1288.3 1162.8 1288.6 1163.8 1288.9 1150.3 1289.2 1164.5 1289.5 1159.1 1289.8 1161.3 1290.1 1163.3 1290.4 1157.5 1290.7 1146.6 1291.0 1152.7 1291.3 1164.5 1291.6 1166.0 1291.9 1171.9 1292.2 1158.3 1292.5 1165.5 1292.8 1158.4 1293.1 1152.6 1293.4 1165.2 1293.7 1160.7 1294.0 1161.2 1294.3 1159.6 1294.6 1162.4 1294.9 1158.6 1295.2 1163.5 1295.5 1156.6 1295.8 1155.9 1296.1 1167.3 1296.4 1167.9 1296.7 1163.0 1297.0 1154.2 1297.3 1155.7 1297.6 1142.1 1297.9 1151.6 1298.2 1176.9 1298.5 1150.1 1298.8 1159.9 1299.1 1161.8 1299.4 1154.6 1299.7 1161.7 1300.0 1154.9 1300.3 1162.6 1300.6 1158.9 1300.9 1157.9 1301.2 1157.6 1301.5 1163.9 1301.8 1152.1 1302.1 1154.9 1302.4 1146.8 1302.7 1155.1 1303.0 1157.8 1303.3 1155.4 1303.6 1157.7 1303.9 1155.0 1304.2 1171.6 1304.5 1160.6 1304.8 1156.2 1305.1 1158.0 1305.4 1155.0 1305.7 1162.3 1306.0 1150.0 1306.3 1149.8 1306.6 1149.8 1306.9 1161.2 1307.2 1168.6 1307.5 1162.8 1307.8 1154.3 1308.1 1156.5 1308.4 1158.5 1308.7 1154.7 1309.0 1154.2 1309.3 1159.4 1309.6 1149.5 1309.9 1136.8 1310.2 1171.4 1310.5 1161.2 1310.8 1153.0 1311.1 1164.9 1311.4 1151.4 1311.7 1156.1 1312.0 1154.3 1312.3 1156.7 1312.6 1149.8 1312.9 1156.9 1313.2 1161.4 1313.5 1153.5 1313.8 1155.8 1314.1 1157.4 1314.4 1158.3 1314.7 1155.5 1315.0 1158.2 1315.3 1154.2 1315.6 1151.8 1315.9 1137.1 1316.2 1162.6 1316.5 1153.4 1316.8 1156.6 1317.1 1158.1 1317.4 1149.8 1317.7 1157.2 1318.0 1151.3 1318.3 1153.3 1318.6 1146.1 1318.9 1156.7 1319.2 1155.2 1319.5 1147.7 1319.8 1157.4 1320.1 1157.6 1320.4 1151.6 1320.7 1147.3 1321.0 1153.4 1321.3 1144.3 1321.6 1155.1 1321.9 1155.8 1322.2 1148.8 1322.5 1157.7 1322.8 1147.5 1323.1 1163.2 1323.4 1156.3 1323.7 1151.6 1324.0 1156.9 1324.3 1156.3 1324.6 1169.4 1324.9 1154.1 1325.2 1150.7 1325.5 1159.5 1325.8 1149.7 1326.1 1148.2 1326.4 1149.6 1326.7 1149.0 1327.0 1148.2 1327.3 1142.6 1327.6 1164.4 1327.9 1150.2 1328.2 1153.2 1328.5 1155.1 1328.8 1155.7 1329.1 1146.6 1329.4 1148.0 1329.7 1159.7 1330.0 1150.2 1330.3 1151.5 1330.6 1154.7 1330.9 1154.2 1331.2 1151.0 1331.5 1156.7 1331.8 1148.4 1332.1 1145.8 1332.4 1149.4 1332.7 1156.0 1333.0 1151.9 1333.3 1149.1 1333.6 1150.8 1333.9 1149.1 1334.2 1158.1 1334.5 1151.7 1334.8 1160.6 1335.1 1146.4 1335.4 1150.0 1335.7 1154.2 1336.0 1152.8 1336.3 1144.9 1336.6 1159.9 1336.9 1153.5 1337.2 1149.8 1337.5 1147.1 1337.8 1152.6 1338.1 1155.5 1338.4 1153.5 1338.7 1152.7 1339.0 1150.4 1339.3 1158.3 1339.6 1156.4 1339.9 1154.5 1340.2 1152.8 1340.5 1154.8 1340.8 1156.5 1341.1 1158.8 1341.4 1151.8 1341.7 1150.8 1342.0 1146.0 1342.3 1148.4 1342.6 1158.1 1342.9 1163.1 1343.2 1153.5 1343.5 1151.2 1343.8 1158.2 1344.1 1164.8 1344.4 1150.4 1344.7 1155.3 1345.0 1150.6 1345.3 1154.8 1345.6 1146.3 1345.9 1146.1 1346.2 1149.5 1346.5 1157.0 1346.8 1153.7 1347.1 1153.9 1347.4 1154.1 1347.7 1152.9 1348.0 1154.3 1348.3 1153.0 1348.6 1164.2 1348.9 1160.7 1349.2 1156.5 1349.5 1159.9 1349.8 1155.8 1350.1 1152.1 1350.4 1154.2 1350.7 1156.3 1351.0 1151.0 1351.3 1144.2 1351.6 1158.0 1351.9 1158.2 1352.2 1148.9 1352.5 1163.9 1352.8 1151.6 1353.1 1155.2 1353.4 1151.4 1353.7 1148.2 1354.0 1156.2 1354.3 1151.1 1354.6 1157.0 1354.9 1155.8 1355.2 1153.7 1355.5 1160.0 1355.8 1157.9 1356.1 1154.7 1356.4 1155.0 1356.7 1155.2 1357.0 1158.9 1357.3 1151.0 1357.6 1149.5 1357.9 1156.1 1358.2 1154.1 1358.5 1158.0 1358.8 1153.6 1359.1 1154.4 1359.4 1157.5 1359.7 1158.3 1360.0 1158.1 1360.3 1157.7 1360.6 1157.4 1360.9 1149.4 1361.2 1162.5 1361.5 1156.0 1361.8 1154.9 1362.1 1149.6 1362.4 1155.6 1362.7 1156.8 1363.0 1157.4 1363.3 1158.0 1363.6 1145.0 1363.9 1149.6 1364.2 1167.8 1364.5 1149.7 1364.8 1156.6 1365.1 1157.4 1365.4 1154.9 1365.7 1147.8 1366.0 1152.7 1366.3 1155.3 1366.6 1145.6 1366.9 1158.5 1367.2 1156.3 1367.5 1153.1 1367.8 1151.2 1368.1 1151.1 1368.4 1162.0 1368.7 1160.3 1369.0 1160.4 1369.3 1159.1 1369.6 1146.3 1369.9 1156.8 1370.2 1155.3 1370.5 1155.9 1370.8 1152.0 1371.1 1155.5 1371.4 1152.0 1371.7 1161.4 1372.0 1155.0 1372.3 1161.1 1372.6 1156.7 1372.9 1154.6 1373.2 1159.7 1373.5 1160.5 1373.8 1155.4 1374.1 1157.6 1374.4 1154.1 1374.7 1156.9 1375.0 1155.0 1375.3 1158.1 1375.6 1153.0 1375.9 1149.7 1376.2 1156.2 1376.5 1151.5 1376.8 1152.3 1377.1 1149.3 1377.4 1163.0 1377.7 1155.6 1378.0 1154.6 1378.3 1152.7 1378.6 1155.7 1378.9 1153.5 1379.2 1154.7 1379.5 1161.4 1379.8 1164.7 1380.1 1146.2 1380.4 1151.0 1380.7 1154.0 1381.0 1151.5 1381.3 1154.0 1381.6 1155.7 1381.9 1156.3 1382.2 1151.8 1382.5 1149.5 1382.8 1146.3 1383.1 1157.8 1383.4 1161.5 1383.7 1162.5 1384.0 1153.5 1384.3 1150.0 1384.6 1149.0 1384.9 1160.7 1385.2 1155.4 1385.5 1168.2 1385.8 1159.8 1386.1 1153.7 1386.4 1161.6 1386.7 1155.0 1387.0 1156.3 1387.3 1153.2 1387.6 1158.7 1387.9 1150.1 1388.2 1154.7 1388.5 1151.9 1388.8 1158.9 1389.1 1159.6 1389.4 1154.4 1389.7 1157.9 1390.0 1150.4 1390.3 1153.4 1390.6 1152.2 1390.9 1146.7 1391.2 1150.3 1391.5 1154.3 1391.8 1155.5 1392.1 1157.4 1392.4 1164.6 1392.7 1156.5 1393.0 1161.8 1393.3 1155.7 1393.6 1154.5 1393.9 1155.9 1394.2 1149.8 1394.5 1150.2 1394.8 1153.6 1395.1 1160.0 1395.4 1157.5 1395.7 1157.3 1396.0 1151.0 1396.3 1156.4 1396.6 1151.8 1396.9 1168.4 1397.2 1156.0 1397.5 1148.8 1397.8 1161.4 1398.1 1153.6 1398.4 1160.9 1398.7 1155.0 1399.0 1151.2 1399.3 1160.9 1399.6 1154.4 1399.9 1168.4 1400.2 1166.9 1400.5 1147.0 1400.8 1163.9 1401.1 1148.5 1401.4 1156.8 1401.7 1156.1 1402.0 1161.8 1402.3 1154.1 1402.6 1151.9 1402.9 1153.2 1403.2 1160.0 1403.5 1159.2 1403.8 1159.1 1404.1 1158.2 1404.4 1155.5 1404.7 1164.1 1405.0 1151.3 1405.3 1163.9 1405.6 1162.0 1405.9 1152.1 1406.2 1159.2 1406.5 1159.5 1406.8 1159.9 1407.1 1152.0 1407.4 1160.8 1407.7 1160.2 1408.0 1150.3 1408.3 1154.8 1408.6 1160.6 1408.9 1154.7 1409.2 1158.6 1409.5 1154.7 1409.8 1150.1 1410.1 1156.2 1410.4 1158.7 1410.7 1154.9 1411.0 1151.4 1411.3 1149.6 1411.6 1159.8 1411.9 1158.2 1412.2 1163.5 1412.5 1156.9 1412.8 1163.3 1413.1 1152.4 1413.4 1161.0 1413.7 1150.1 1414.0 1147.6 1414.3 1158.1 1414.6 1153.2 1414.9 1156.2 1415.2 1155.7 1415.5 1151.7 1415.8 1154.4 1416.1 1151.0 1416.4 1155.6 1416.7 1149.6 1417.0 1156.8 1417.3 1155.1 1417.6 1164.1 1417.9 1155.9 1418.2 1165.5 1418.5 1154.2 1418.8 1160.9 1419.1 1160.4 1419.4 1155.8 1419.7 1160.1 1420.0 1152.6 1420.3 1156.2 1420.6 1160.7 1420.9 1157.2 1421.2 1148.7 1421.5 1153.3 1421.8 1164.8 1422.1 1159.9 1422.4 1158.2 1422.7 1154.4 1423.0 1156.0 1423.3 1152.6 1423.6 1161.1 1423.9 1159.4 1424.2 1168.6 1424.5 1163.1 1424.8 1157.2 1425.1 1158.1 1425.4 1157.2 1425.7 1160.0 1426.0 1156.0 1426.3 1148.7 1426.6 1154.9 1426.9 1155.7 1427.2 1164.4 1427.5 1155.7 1427.8 1154.6 1428.1 1155.5 1428.4 1156.5 1428.7 1162.0 1429.0 1151.3 1429.3 1168.5 1429.6 1160.9 1429.9 1164.4 1430.2 1158.3 1430.5 1160.4 1430.8 1151.1 1431.1 1159.8 1431.4 1159.2 1431.7 1164.3 1432.0 1159.3 1432.3 1160.3 1432.6 1161.2 1432.9 1154.1 1433.2 1161.7 1433.5 1171.1 1433.8 1158.9 1434.1 1165.9 1434.4 1158.9 1434.7 1168.7 1435.0 1168.6 1435.3 1158.7 1435.6 1157.3 1435.9 1162.8 1436.2 1160.4 1436.5 1157.5 1436.8 1154.5 1437.1 1148.9 1437.4 1156.9 1437.7 1156.9 1438.0 1172.5 1438.3 1166.9 1438.6 1156.9 1438.9 1159.3 1439.2 1156.7 1439.5 1164.9 1439.8 1170.6 1440.1 1160.0 1440.4 1161.8 1440.7 1164.7 1441.0 1156.8 1441.3 1167.0 1441.6 1162.3 1441.9 1153.9 1442.2 1154.0 1442.5 1158.8 1442.8 1161.2 1443.1 1162.3 1443.4 1161.3 1443.7 1162.1 1444.0 1162.5 1444.3 1162.5 1444.6 1163.8 1444.9 1167.8 1445.2 1163.9 1445.5 1164.8 1445.8 1156.1 1446.1 1159.3 1446.4 1161.0 1446.7 1164.9 1447.0 1161.6 1447.3 1157.8 1447.6 1164.8 1447.9 1164.1 1448.2 1162.8 1448.5 1155.3 1448.8 1160.6 1449.1 1160.2 1449.4 1159.4 1449.7 1174.3 1450.0 1157.3 1450.3 1152.2 1450.6 1163.9 1450.9 1159.8 1451.2 1163.3 1451.5 1174.3 1451.8 1167.3 1452.1 1153.8 1452.4 1159.8 1452.7 1161.9 1453.0 1161.5 1453.3 1155.5 1453.6 1156.7 1453.9 1174.1 1454.2 1161.0 1454.5 1159.3 1454.8 1168.5 1455.1 1151.7 1455.4 1155.9 1455.7 1167.3 1456.0 1163.3 1456.3 1162.5 1456.6 1169.4 1456.9 1156.3 1457.2 1165.3 1457.5 1167.6 1457.8 1164.2 1458.1 1170.0 1458.4 1161.8 1458.7 1154.6 1459.0 1171.0 1459.3 1166.3 1459.6 1161.2 1459.9 1157.6 1460.2 1157.7 1460.5 1154.6 1460.8 1158.2 1461.1 1168.6 1461.4 1165.0 1461.7 1165.8 1462.0 1166.4 1462.3 1162.9 1462.6 1167.2 1462.9 1163.2 1463.2 1165.9 1463.5 1170.3 1463.8 1160.1 1464.1 1161.4 1464.4 1167.6 1464.7 1163.1 1465.0 1167.6 1465.3 1163.2 1465.6 1163.0 1465.9 1157.9 1466.2 1162.8 1466.5 1160.0 1466.8 1166.2 1467.1 1159.7 1467.4 1160.4 1467.7 1164.3 1468.0 1174.6 1468.3 1166.3 1468.6 1166.5 1468.9 1163.6 1469.2 1164.7 1469.5 1163.3 1469.8 1165.7 1470.1 1179.0 1470.4 1162.1 1470.7 1158.1 1471.0 1156.1 1471.3 1168.1 1471.6 1162.8 1471.9 1164.4 1472.2 1172.8 1472.5 1176.7 1472.8 1167.6 1473.1 1162.4 1473.4 1172.0 1473.7 1165.8 1474.0 1171.3 1474.3 1167.5 1474.6 1163.7 1474.9 1161.3 1475.2 1166.8 1475.5 1165.0 1475.8 1172.6 1476.1 1163.3 1476.4 1164.4 1476.7 1159.7 1477.0 1162.0 1477.3 1167.0 1477.6 1163.0 1477.9 1167.9 1478.2 1159.1 1478.5 1164.5 1478.8 1168.1 1479.1 1171.9 1479.4 1163.3 1479.7 1156.1 1480.0 1175.8 1480.3 1168.9 1480.6 1164.2 1480.9 1175.0 1481.2 1166.9 1481.5 1167.3 1481.8 1164.0 1482.1 1164.0 1482.4 1163.2 1482.7 1165.6 1483.0 1171.6 1483.3 1169.7 1483.6 1166.8 1483.9 1173.4 1484.2 1167.5 1484.5 1162.7 1484.8 1160.6 1485.1 1155.5 1485.4 1167.2 1485.7 1169.8 1486.0 1167.6 1486.3 1171.2 1486.6 1171.0 1486.9 1171.4 1487.2 1162.1 1487.5 1166.3 1487.8 1170.3 1488.1 1158.3 1488.4 1162.6 1488.7 1165.4 1489.0 1165.0 1489.3 1168.5 1489.6 1172.2 1489.9 1169.3 1490.2 1163.3 1490.5 1174.6 1490.8 1165.6 1491.1 1169.8 1491.4 1166.8 1491.7 1171.0 1492.0 1162.0 1492.3 1171.0 1492.6 1184.6 1492.9 1167.9 1493.2 1162.3 1493.5 1160.2 1493.8 1171.0 1494.1 1166.6 1494.4 1168.7 1494.7 1167.1 1495.0 1167.2 1495.3 1177.9 1495.6 1156.2 1495.9 1169.9 1496.2 1171.2 1496.5 1166.9 1496.8 1156.3 1497.1 1167.1 1497.4 1163.9 1497.7 1165.7 1498.0 1170.3 1498.3 1163.1 1498.6 1163.1 1498.9 1173.5 1499.2 1163.9 1499.5 1165.0 1499.8 1170.8 1500.1 1163.3 1500.4 1168.6 1500.7 1163.3 1501.0 1160.7 1501.3 1162.1 1501.6 1163.8 1501.9 1177.1 1502.2 1168.0 1502.5 1160.3 1502.8 1162.0 1503.1 1164.4 1503.4 1168.8 1503.7 1161.2 1504.0 1170.9 1504.3 1161.1 1504.6 1159.5 1504.9 1164.7 1505.2 1163.5 1505.5 1159.2 1505.8 1166.5 1506.1 1164.2 1506.4 1167.0 1506.7 1164.8 1507.0 1167.4 1507.3 1173.6 1507.6 1162.3 1507.9 1166.8 1508.2 1164.7 1508.5 1167.3 1508.8 1169.2 1509.1 1160.9 1509.4 1171.0 1509.7 1168.0 1510.0 1164.1 1510.3 1169.1 1510.6 1162.0 1510.9 1178.7 1511.2 1163.3 1511.5 1172.8 1511.8 1167.8 1512.1 1171.0 1512.4 1169.8 1512.7 1161.8 1513.0 1162.4 1513.3 1170.7 1513.6 1165.6 1513.9 1164.2 1514.2 1174.1 1514.5 1175.3 1514.8 1161.7 1515.1 1172.2 1515.4 1169.7 1515.7 1165.5 1516.0 1170.2 1516.3 1157.8 1516.6 1178.0 1516.9 1176.4 1517.2 1171.8 1517.5 1163.8 1517.8 1169.8 1518.1 1166.8 1518.4 1163.0 1518.7 1163.0 1519.0 1165.5 1519.3 1166.3 1519.6 1161.7 1519.9 1168.6 1520.2 1169.1 1520.5 1173.9 1520.8 1168.6 1521.1 1174.8 1521.4 1173.5 1521.7 1161.5 1522.0 1172.7 1522.3 1163.6 1522.6 1171.1 1522.9 1168.2 1523.2 1163.9 1523.5 1172.9 1523.8 1161.8 1524.1 1163.1 1524.4 1164.7 1524.7 1159.8 1525.0 1173.4 1525.3 1173.2 1525.6 1172.1 1525.9 1173.8 1526.2 1168.5 1526.5 1167.3 1526.8 1166.1 1527.1 1158.7 1527.4 1165.6 1527.7 1162.1 1528.0 1168.8 1528.3 1166.1 1528.6 1162.8 1528.9 1183.5 1529.2 1174.2 1529.5 1161.9 1529.8 1162.2 1530.1 1163.0 1530.4 1169.2 1530.7 1174.2 1531.0 1168.4 1531.3 1174.3 1531.6 1163.6 1531.9 1165.0 1532.2 1166.2 1532.5 1175.6 1532.8 1171.5 1533.1 1161.2 1533.4 1160.3 1533.7 1168.1 1534.0 1185.8 1534.3 1169.6 1534.6 1162.0 1534.9 1170.5 1535.2 1163.7 1535.5 1168.4 1535.8 1166.6 1536.1 1162.5 1536.4 1160.4 1536.7 1174.1 1537.0 1171.4 1537.3 1169.5 1537.6 1164.0 1537.9 1167.4 1538.2 1168.9 1538.5 1170.9 1538.8 1166.2 1539.1 1165.5 1539.4 1170.5 1539.7 1170.5 1540.0 1163.1 1540.3 1174.0 1540.6 1163.0 1540.9 1172.7 1541.2 1166.8 1541.5 1177.1 1541.8 1162.4 1542.1 1169.4 1542.4 1162.3 1542.7 1160.3 1543.0 1167.1 1543.3 1158.9 1543.6 1172.7 1543.9 1171.0 1544.2 1167.4 1544.5 1162.5 1544.8 1165.3 1545.1 1169.2 1545.4 1162.6 1545.7 1160.1 1546.0 1171.7 1546.3 1169.7 1546.6 1160.0 1546.9 1166.8 1547.2 1170.6 1547.5 1169.3 1547.8 1163.9 1548.1 1174.7 1548.4 1180.6 1548.7 1165.2 1549.0 1168.8 1549.3 1167.8 1549.6 1166.8 1549.9 1169.6 1550.2 1165.5 1550.5 1164.2 1550.8 1172.9 1551.1 1159.2 1551.4 1168.2 1551.7 1165.8 1552.0 1167.1 1552.3 1175.3 1552.6 1165.3 1552.9 1172.7 1553.2 1166.2 1553.5 1162.5 1553.8 1168.5 1554.1 1162.9 1554.4 1158.8 1554.7 1165.3 1555.0 1163.0 1555.3 1161.9 1555.6 1168.9 1555.9 1163.7 1556.2 1177.9 1556.5 1164.3 1556.8 1173.0 1557.1 1167.8 1557.4 1163.9 1557.7 1165.0 1558.0 1167.9 1558.3 1167.2 1558.6 1168.1 1558.9 1170.6 1559.2 1157.9 1559.5 1168.8 1559.8 1166.6 1560.1 1168.0 1560.4 1169.3 1560.7 1167.8 1561.0 1163.7 1561.3 1161.5 1561.6 1167.5 1561.9 1172.2 1562.2 1161.0 1562.5 1164.9 1562.8 1162.6 1563.1 1158.7 1563.4 1169.5 1563.7 1172.2 1564.0 1164.9 1564.3 1168.8 1564.6 1167.9 1564.9 1166.0 1565.2 1179.1 1565.5 1176.2 1565.8 1167.5 1566.1 1161.1 1566.4 1163.8 1566.7 1166.1 1567.0 1164.5 1567.3 1168.8 1567.6 1166.3 1567.9 1164.0 1568.2 1162.2 1568.5 1170.4 1568.8 1164.9 1569.1 1165.1 1569.4 1166.5 1569.7 1164.8 1570.0 1173.2 1570.3 1164.6 1570.6 1177.6 1570.9 1167.3 1571.2 1165.0 1571.5 1164.8 1571.8 1171.0 1572.1 1167.2 1572.4 1164.3 1572.7 1162.0 1573.0 1160.7 1573.3 1169.6 1573.6 1170.6 1573.9 1155.5 1574.2 1171.3 1574.5 1164.4 1574.8 1168.6 1575.1 1170.1 1575.4 1170.2 1575.7 1161.4 1576.0 1162.5 1576.3 1164.6 1576.6 1163.0 1576.9 1162.1 1577.2 1163.0 1577.5 1164.3 1577.8 1160.7 1578.1 1171.0 1578.4 1166.8 1578.7 1170.3 1579.0 1160.6 1579.3 1165.0 1579.6 1166.3 1579.9 1162.6 1580.2 1184.3 1580.5 1169.4 1580.8 1173.6 1581.1 1168.6 1581.4 1176.0 1581.7 1173.5 1582.0 1169.3 1582.3 1172.4 1582.6 1180.0 1582.9 1164.5 1583.2 1167.0 1583.5 1164.6 1583.8 1162.7 1584.1 1163.6 1584.4 1165.8 1584.7 1170.6 1585.0 1173.5 1585.3 1178.0 1585.6 1162.1 1585.9 1162.4 1586.2 1166.3 1586.5 1166.6 1586.8 1177.4 1587.1 1167.5 1587.4 1166.8 1587.7 1165.8 1588.0 1160.1 1588.3 1167.9 1588.6 1163.1 1588.9 1174.1 1589.2 1159.5 1589.5 1169.7 1589.8 1160.0 1590.1 1169.6 1590.4 1161.8 1590.7 1168.8 1591.0 1170.6 1591.3 1166.0 1591.6 1163.0 1591.9 1167.6 1592.2 1159.4 1592.5 1166.3 1592.8 1163.6 1593.1 1171.2 1593.4 1166.3 1593.7 1165.5 1594.0 1162.2 1594.3 1164.8 1594.6 1171.8 1594.9 1170.6 1595.2 1166.0 1595.5 1167.8 1595.8 1164.2 1596.1 1161.1 1596.4 1168.4 1596.7 1165.1 1597.0 1164.8 1597.3 1170.8 1597.6 1165.0 1597.9 1169.7" fill="none" stroke="#ff8000" stroke-width="2.5" stroke-linejoin="round"/>
<rect x="35" y="29" width="3.5" height="1180" fill="#958d8d"/>
<rect x="35" y="29" width="1582" height="3" fill="#958d8d"/>
<rect x="1614" y="35" width="3" height="1171" fill="#a8adad"/>
<rect x="41" y="1203" width="1576" height="3" fill="#a4a9a9"/>
<rect x="38.5" y="32" width="2.6" height="1177" fill="#000"/>
<rect x="38.5" y="32" width="1581" height="3" fill="#000"/>
<rect x="1617" y="32" width="2.6" height="1177" fill="#000"/>
<rect x="38.5" y="1206" width="1581" height="2.7" fill="#000"/>
<rect x="41" y="1208.7" width="1578" height="2.3" fill="#e4dcdc"/>
<rect x="56.1" y="1183" width="2.8" height="23" fill="#111"/>
<rect x="58.9" y="1183" width="2.6" height="23" fill="#777"/>
<rect x="248.6" y="1183" width="2.8" height="23" fill="#111"/>
<rect x="251.4" y="1183" width="2.6" height="23" fill="#777"/>
<rect x="441.1" y="1183" width="2.8" height="23" fill="#111"/>
<rect x="443.9" y="1183" width="2.6" height="23" fill="#777"/>
<rect x="633.6" y="1183" width="2.8" height="23" fill="#111"/>
<rect x="636.4" y="1183" width="2.6" height="23" fill="#777"/>
<rect x="826.1" y="1183" width="2.8" height="23" fill="#111"/>
<rect x="828.9" y="1183" width="2.6" height="23" fill="#777"/>
<rect x="1018.6" y="1183" width="2.8" height="23" fill="#111"/>
<rect x="1021.4" y="1183" width="2.6" height="23" fill="#777"/>
<rect x="1211.1" y="1183" width="2.8" height="23" fill="#111"/>
<rect x="1213.9" y="1183" width="2.6" height="23" fill="#777"/>
<rect x="1403.6" y="1183" width="2.8" height="23" fill="#111"/>
<rect x="1406.4" y="1183" width="2.6" height="23" fill="#777"/>
<rect x="1596.1" y="1183" width="2.8" height="23" fill="#111"/>
<rect x="1598.9" y="1183" width="2.6" height="23" fill="#777"/>
<rect x="152.3" y="1193" width="2.8" height="13" fill="#111"/>
<rect x="155.2" y="1193" width="2.6" height="13" fill="#777"/>
<rect x="344.9" y="1193" width="2.8" height="13" fill="#111"/>
<rect x="347.6" y="1193" width="2.6" height="13" fill="#777"/>
<rect x="537.4" y="1193" width="2.8" height="13" fill="#111"/>
<rect x="540.1" y="1193" width="2.6" height="13" fill="#777"/>
<rect x="729.9" y="1193" width="2.8" height="13" fill="#111"/>
<rect x="732.6" y="1193" width="2.6" height="13" fill="#777"/>
<rect x="922.4" y="1193" width="2.8" height="13" fill="#111"/>
<rect x="925.1" y="1193" width="2.6" height="13" fill="#777"/>
<rect x="1114.8" y="1193" width="2.8" height="13" fill="#111"/>
<rect x="1117.7" y="1193" width="2.6" height="13" fill="#777"/>
<rect x="1307.3" y="1193" width="2.8" height="13" fill="#111"/>
<rect x="1310.2" y="1193" width="2.6" height="13" fill="#777"/>
<rect x="1499.8" y="1193" width="2.8" height="13" fill="#111"/>
<rect x="1502.7" y="1193" width="2.6" height="13" fill="#777"/>
<g font-family="Liberation Sans, sans-serif" font-size="48" fill="#000" text-anchor="middle">
<text x="58.5" y="1269.5">10</text>
<text x="251.0" y="1269.5">20</text>
<text x="443.5" y="1269.5">30</text>
<text x="636.0" y="1269.5">40</text>
<text x="828.5" y="1269.5">50</text>
<text x="1021.0" y="1269.5">60</text>
<text x="1213.5" y="1269.5">70</text>
<text x="1406.0" y="1269.5">80</text>
<text x="1598.5" y="1269.5">90</text>
</g>
<path d="M402.0 46.7L415.3 60.0L402.0 73.3L388.7 60.0Z" fill="none" stroke="#7a7a7a" stroke-width="2.0"/>
<path d="M555.0 311.0L579.0 311.0L567.0 336.0Z" fill="#000"/>
<path d="M664.6 406.7L677.9 420.0L664.6 433.3L651.3 420.0Z" fill="none" stroke="#7a7a7a" stroke-width="2.0"/>
<path d="M672.7 451.0L696.7 451.0L684.7 476.0Z" fill="#000"/>
<path d="M714.8 439.7L728.1 453.0L714.8 466.3L701.5 453.0Z" fill="none" stroke="#7a7a7a" stroke-width="2.0"/>
<path d="M915.0 342.2L928.3 355.5L915.0 368.8L901.7 355.5Z" fill="none" stroke="#7a7a7a" stroke-width="2.0"/>
<path d="M960.0 451.7L973.3 465.0L960.0 478.3L946.7 465.0Z" fill="none" stroke="#7a7a7a" stroke-width="2.0"/>
<path d="M1060.0 500.5L1084.0 500.5L1072.0 525.5Z" fill="#000"/>
<path d="M1101.5 510.2L1114.8 523.5L1101.5 536.8L1088.2 523.5Z" fill="none" stroke="#7a7a7a" stroke-width="2.0"/>
<path d="M1205.0 486.2L1218.3 499.5L1205.0 512.8L1191.7 499.5Z" fill="none" stroke="#7a7a7a" stroke-width="2.0"/>
<path d="M572.4 686.5L596.4 686.5L584.4 711.5Z" fill="#000"/>
<path d="M599.0 695.5L612.0 709.5L599.0 723.5L586.0 709.5Z" fill="#000"/>
<path d="M706.0 704.0L719.0 718.0L706.0 732.0L693.0 718.0Z" fill="#000"/>
<path d="M792.0 691.2L805.3 704.5L792.0 717.8L778.7 704.5Z" fill="none" stroke="#7a7a7a" stroke-width="2.0"/>
<path d="M918.0 698.7L931.3 712.0L918.0 725.3L904.7 712.0Z" fill="none" stroke="#7a7a7a" stroke-width="2.0"/>
<path d="M1069.0 709.5L1093.0 709.5L1081.0 734.5Z" fill="#000"/>
<path d="M1211.0 748.7L1224.3 762.0L1211.0 775.3L1197.7 762.0Z" fill="none" stroke="#7a7a7a" stroke-width="2.0"/>
<path d="M579.0 835.0L603.0 835.0L591.0 860.0Z" fill="#000"/>
<path d="M607.0 812.0L620.0 826.0L607.0 840.0L594.0 826.0Z" fill="#000"/>
<path d="M706.0 816.0L719.0 830.0L706.0 844.0L693.0 830.0Z" fill="#000"/>
<path d="M918.0 843.7L931.3 857.0L918.0 870.3L904.7 857.0Z" fill="none" stroke="#7a7a7a" stroke-width="2.0"/>
<path d="M1069.0 843.0L1093.0 843.0L1081.0 868.0Z" fill="#000"/>
<path d="M582.0 923.0L595.0 937.0L582.0 951.0L569.0 937.0Z" fill="#000"/>
<path d="M703.5 917.0L716.5 931.0L703.5 945.0L690.5 931.0Z" fill="#000"/>
<path d="M1063.0 980.0L1087.0 980.0L1075.0 1005.0Z" fill="#000"/>
<path d="M582.0 1029.0L595.0 1043.0L582.0 1057.0L569.0 1043.0Z" fill="#000"/>
<path d="M703.5 1017.0L716.5 1031.0L703.5 1045.0L690.5 1031.0Z" fill="#000"/>
<path d="M1065.5 1088.0L1089.5 1088.0L1077.5 1113.0Z" fill="#000"/>
<g font-family="Liberation Sans, sans-serif" font-size="50" fill="#000">
<text x="1369" y="506">TiN/AC</text>
<text x="1351" y="642">Mo<tspan font-size="33" dy="16">2</tspan><tspan dy="-16">N/AC</tspan></text>
<text x="1301" y="763.5">Mo1Ti1N/AC</text>
<text x="1298" y="880">Mo2Ti1N/AC</text>
<text x="1298" y="1007.5">Mo3Ti1N/AC</text>
<text x="1304" y="1122">Mo4Ti1N/AC</text>
</g>
<path d="M909.0 79.5L932.0 103.0L909.0 126.5L886.0 103.0Z" fill="#000"/>
<path d="M1148 82L1189 82L1168.5 125Z" fill="#000"/>
<path d="M1373.0 79.5L1396.0 103.0L1373.0 126.5L1350.0 103.0Z" fill="none" stroke="#555" stroke-width="3.0"/>
<g font-family="Liberation Sans, sans-serif" font-size="60" fill="#000">
<text x="940" y="125">Mo<tspan font-size="39" dy="22">2</tspan><tspan dy="-22">N</tspan></text>
<text x="1198.5" y="125" font-size="62">TiN</text>
<text x="1402.5" y="125" font-size="62">TiO<tspan font-size="40" dy="22">2</tspan></text>
</g>
<text x="724" y="1374" font-family="Liberation Sans, sans-serif" font-size="60" fill="#000">2θ</text>
<text x="780.5" y="1374" font-family="'Liberation Sans', 'Noto Sans CJK SC', sans-serif" font-size="53" font-weight="300" fill="#000" transform="translate(780.5 0) scale(1.2 1) translate(-780.5 0)">（</text>
<text x="848.7" y="1374" font-family="Liberation Sans, sans-serif" font-size="70" fill="#000">°</text>
<text x="877.4" y="1374" font-family="'Liberation Sans', 'Noto Sans CJK SC', sans-serif" font-size="53" font-weight="300" fill="#000" transform="translate(877.4 0) scale(1.2 1) translate(-877.4 0)">）</text>
</svg>
</body></html>
